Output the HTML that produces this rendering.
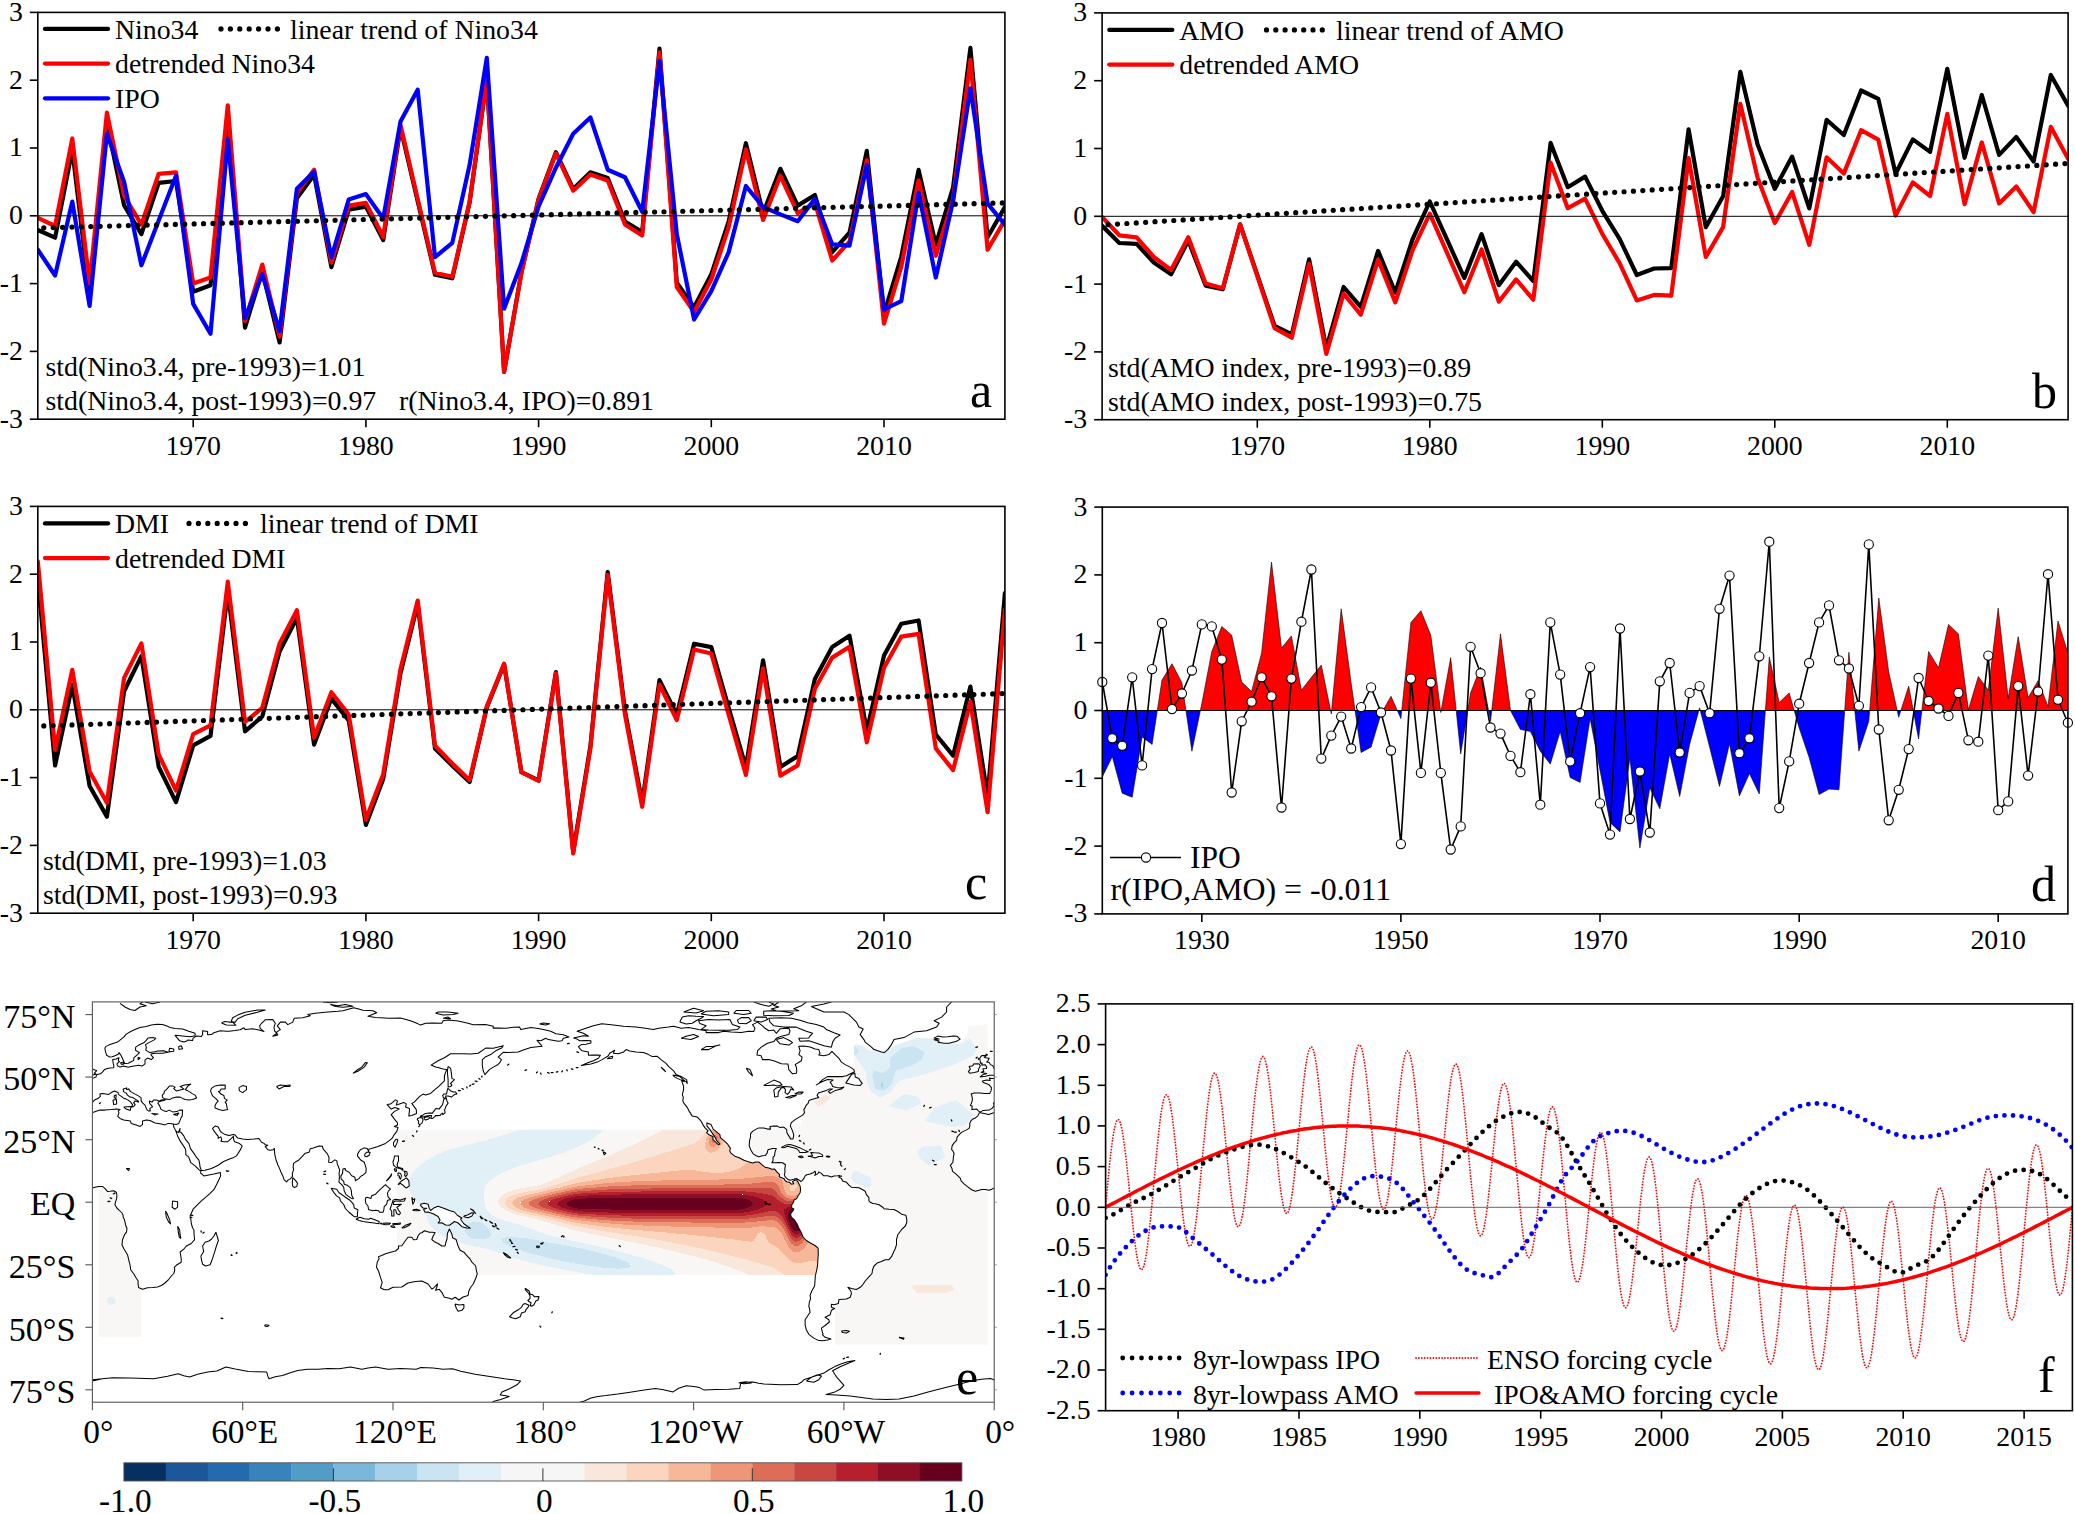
<!DOCTYPE html>
<html lang="en"><head><meta charset="utf-8"><title>Climate indices figure</title>
<style>html,body{margin:0;padding:0;background:#fff}body{width:2075px;height:1514px;overflow:hidden}svg{display:block}</style>
</head><body>
<svg width="2075" height="1514" viewBox="0 0 2075 1514" font-family="'Liberation Serif','Times New Roman',serif" fill="#000">
<rect width="2075" height="1514" fill="#fff"/>
<defs>
<clipPath id="ca"><rect x="37.8" y="12.4" width="967.1" height="406.8"/></clipPath>
<clipPath id="cb"><rect x="1102.1" y="12.9" width="966.0" height="406.8"/></clipPath>
<clipPath id="cc"><rect x="37.8" y="506.4" width="967.1" height="406.8"/></clipPath>
<clipPath id="cd"><rect x="1102.3" y="507.1" width="965.6" height="406.8"/></clipPath>
<clipPath id="cf"><rect x="1105.6" y="1003.9" width="966.8" height="406.8"/></clipPath>
</defs>
<g clip-path="url(#ca)">
<polyline points="37.8,230.0 55.1,237.7 72.3,149.8 89.6,294.5 106.9,123.2 124.1,205.4 141.4,234.1 158.7,182.8 176.0,181.0 193.2,291.8 210.5,285.2 227.8,112.6 245.0,327.7 262.3,271.0 279.6,342.4 296.9,198.2 314.1,174.7 331.4,267.2 348.7,209.8 365.9,206.6 383.2,240.1 400.5,127.8 417.7,201.2 435.0,274.7 452.3,278.3 469.6,202.6 486.8,78.7 504.1,371.9 521.4,272.4 538.6,198.8 555.9,152.2 573.2,189.0 590.4,172.3 607.7,178.0 625.0,221.6 642.2,232.0 659.5,48.5 676.8,282.6 694.1,307.3 711.3,274.3 728.6,221.6 745.9,143.2 763.1,213.3 780.4,168.8 797.7,205.6 814.9,195.0 832.2,252.2 849.5,232.7 866.8,150.9 884.0,313.9 901.3,256.5 918.6,169.9 935.8,244.7 953.1,187.3 970.4,47.9 987.6,237.3 1004.9,207.0" fill="none" stroke="#000" stroke-width="4.2" stroke-linejoin="round" stroke-linecap="round" />
<polyline points="37.8,217.8 55.1,226.0 72.3,138.5 89.6,283.6 106.9,112.7 124.1,195.5 141.4,224.6 158.7,173.8 176.0,172.4 193.2,283.6 210.5,277.5 227.8,105.3 245.0,320.9 262.3,264.6 279.6,336.5 296.9,192.7 314.1,169.7 331.4,262.6 348.7,205.6 365.9,202.9 383.2,236.8 400.5,124.9 417.7,198.9 435.0,272.8 452.3,276.8 469.6,201.6 486.8,78.2 504.1,371.7 521.4,272.8 538.6,199.5 555.9,153.4 573.2,190.7 590.4,174.4 607.7,180.5 625.0,224.6 642.2,235.5 659.5,52.4 676.8,287.0 694.1,312.1 711.3,279.5 728.6,227.3 745.9,149.4 763.1,219.9 780.4,175.8 797.7,213.1 814.9,202.9 832.2,260.5 849.5,241.6 866.8,160.2 884.0,323.6 901.3,266.6 918.6,180.5 935.8,255.8 953.1,198.9 970.4,59.9 987.6,249.7 1004.9,219.9" fill="none" stroke="#ff0000" stroke-width="4.2" stroke-linejoin="round" stroke-linecap="round" />
<polyline points="37.8,249.7 55.1,275.5 72.3,201.6 89.6,306.0 106.9,133.8 124.1,181.9 141.4,265.3 158.7,220.5 176.0,175.8 193.2,303.9 210.5,333.8 227.8,139.2 245.0,318.2 262.3,274.1 279.6,331.1 296.9,188.7 314.1,171.7 331.4,257.2 348.7,199.5 365.9,194.1 383.2,218.5 400.5,121.6 417.7,89.7 435.0,257.2 452.3,242.9 469.6,165.0 486.8,57.8 504.1,308.7 521.4,263.3 538.6,206.3 555.9,167.7 573.2,133.8 590.4,117.5 607.7,169.7 625.0,177.2 642.2,211.7 659.5,61.2 676.8,234.1 694.1,319.5 711.3,291.1 728.6,252.4 745.9,186.0 763.1,207.0 780.4,214.4 797.7,221.2 814.9,198.9 832.2,244.3 849.5,245.6 866.8,165.0 884.0,309.4 901.3,301.2 918.6,192.7 935.8,277.5 953.1,200.9 970.4,88.3 987.6,203.6 1004.9,224.6" fill="none" stroke="#0000ff" stroke-width="4.2" stroke-linejoin="round" stroke-linecap="round" />
</g>
<line x1="43.8" y1="227.8" x2="1004.9" y2="202.9" stroke="#000" stroke-width="5.2" stroke-linecap="round" stroke-dasharray="0 9.4"/>
<line x1="37.8" x2="1004.9" y1="215.8" y2="215.8" stroke="#000" stroke-width="1.0"/>
<rect x="37.8" y="12.4" width="967.1" height="406.8" fill="none" stroke="#000" stroke-width="1.6"/>
<line x1="29.8" x2="37.8" y1="12.4" y2="12.4" stroke="#000" stroke-width="1.6"/>
<text x="22.8" y="20.8" font-size="27.8" text-anchor="end" >3</text>
<line x1="29.8" x2="37.8" y1="80.2" y2="80.2" stroke="#000" stroke-width="1.6"/>
<text x="22.8" y="88.6" font-size="27.8" text-anchor="end" >2</text>
<line x1="29.8" x2="37.8" y1="148.0" y2="148.0" stroke="#000" stroke-width="1.6"/>
<text x="22.8" y="156.4" font-size="27.8" text-anchor="end" >1</text>
<line x1="29.8" x2="37.8" y1="215.8" y2="215.8" stroke="#000" stroke-width="1.6"/>
<text x="22.8" y="224.2" font-size="27.8" text-anchor="end" >0</text>
<line x1="29.8" x2="37.8" y1="283.6" y2="283.6" stroke="#000" stroke-width="1.6"/>
<text x="22.8" y="292.0" font-size="27.8" text-anchor="end" >-1</text>
<line x1="29.8" x2="37.8" y1="351.4" y2="351.4" stroke="#000" stroke-width="1.6"/>
<text x="22.8" y="359.8" font-size="27.8" text-anchor="end" >-2</text>
<line x1="29.8" x2="37.8" y1="419.2" y2="419.2" stroke="#000" stroke-width="1.6"/>
<text x="22.8" y="427.6" font-size="27.8" text-anchor="end" >-3</text>
<line x1="193.2" x2="193.2" y1="419.2" y2="427.2" stroke="#000" stroke-width="1.6"/>
<text x="193.2" y="454.7" font-size="27.8" text-anchor="middle" >1970</text>
<line x1="365.9" x2="365.9" y1="419.2" y2="427.2" stroke="#000" stroke-width="1.6"/>
<text x="365.9" y="454.7" font-size="27.8" text-anchor="middle" >1980</text>
<line x1="538.6" x2="538.6" y1="419.2" y2="427.2" stroke="#000" stroke-width="1.6"/>
<text x="538.6" y="454.7" font-size="27.8" text-anchor="middle" >1990</text>
<line x1="711.3" x2="711.3" y1="419.2" y2="427.2" stroke="#000" stroke-width="1.6"/>
<text x="711.3" y="454.7" font-size="27.8" text-anchor="middle" >2000</text>
<line x1="884.0" x2="884.0" y1="419.2" y2="427.2" stroke="#000" stroke-width="1.6"/>
<text x="884.0" y="454.7" font-size="27.8" text-anchor="middle" >2010</text>
<line x1="45" x2="108" y1="28.9" y2="28.9" stroke="#000" stroke-width="4.3" stroke-linecap="round"/>
<text x="115.0" y="38.7" font-size="27.8" text-anchor="start" >Nino34</text>
<line x1="221" x2="277.5" y1="28.9" y2="28.9" stroke="#000" stroke-width="5.2" stroke-linecap="round" stroke-dasharray="0 9.4"/>
<text x="290.0" y="38.7" font-size="27.8" text-anchor="start" >linear trend of Nino34</text>
<line x1="45" x2="108" y1="63.6" y2="63.6" stroke="#ff0000" stroke-width="4.3" stroke-linecap="round"/>
<text x="115.0" y="73.2" font-size="27.8" text-anchor="start" >detrended Nino34</text>
<line x1="45" x2="108" y1="98.3" y2="98.3" stroke="#0000ff" stroke-width="4.3" stroke-linecap="round"/>
<text x="115.0" y="107.7" font-size="27.8" text-anchor="start" >IPO</text>
<text x="45.5" y="375.5" font-size="27.8" text-anchor="start" >std(Nino3.4, pre-1993)=1.01</text>
<text x="45.5" y="409.6" font-size="27.8" text-anchor="start" >std(Nino3.4, post-1993)=0.97</text>
<text x="399.0" y="409.6" font-size="27.8" text-anchor="start" >r(Nino3.4, IPO)=0.891</text>
<text x="970.0" y="406.8" font-size="50" text-anchor="start" >a</text>
<g clip-path="url(#cb)">
<polyline points="1102.1,225.8 1119.3,243.0 1136.6,243.9 1153.8,262.5 1171.1,274.3 1188.3,240.6 1205.6,285.6 1222.8,289.3 1240.1,224.4 1257.3,274.9 1274.6,326.0 1291.8,334.4 1309.1,259.4 1326.3,348.4 1343.6,287.0 1360.8,306.9 1378.1,250.9 1395.3,292.5 1412.6,239.2 1429.8,201.5 1447.1,239.7 1464.3,277.9 1481.6,234.1 1498.8,285.2 1516.1,261.7 1533.3,281.0 1550.6,142.9 1567.8,187.2 1585.1,176.6 1602.3,210.8 1619.6,238.8 1636.8,275.0 1654.1,268.5 1671.3,268.1 1688.6,129.3 1705.8,227.2 1723.1,196.3 1740.3,71.8 1757.6,144.6 1774.8,188.9 1792.1,156.6 1809.3,208.4 1826.6,119.9 1843.8,135.0 1861.1,90.5 1878.3,98.9 1895.6,173.8 1912.8,139.4 1930.1,151.9 1947.3,68.8 1964.6,157.8 1981.8,95.0 1999.1,154.9 2016.3,136.9 2033.6,161.6 2050.8,75.0 2068.1,105.8" fill="none" stroke="#000" stroke-width="4.2" stroke-linejoin="round" stroke-linecap="round" />
<polyline points="1102.1,217.0 1119.3,235.3 1136.6,237.3 1153.8,257.0 1171.1,269.9 1188.3,237.3 1205.6,283.4 1222.8,288.2 1240.1,224.4 1257.3,276.0 1274.6,328.2 1291.8,337.7 1309.1,263.8 1326.3,353.9 1343.6,293.6 1360.8,314.6 1378.1,259.7 1395.3,302.4 1412.6,250.2 1429.8,213.6 1447.1,252.9 1464.3,292.2 1481.6,249.5 1498.8,301.7 1516.1,279.4 1533.3,299.7 1550.6,162.7 1567.8,208.2 1585.1,198.7 1602.3,233.9 1619.6,263.1 1636.8,300.4 1654.1,294.9 1671.3,295.6 1688.6,158.0 1705.8,257.0 1723.1,227.1 1740.3,103.8 1757.6,177.7 1774.8,223.1 1792.1,191.9 1809.3,244.8 1826.6,157.3 1843.8,173.6 1861.1,130.2 1878.3,139.7 1895.6,215.6 1912.8,182.4 1930.1,196.0 1947.3,113.9 1964.6,204.1 1981.8,142.4 1999.1,203.4 2016.3,186.5 2033.6,212.2 2050.8,126.8 2068.1,158.7" fill="none" stroke="#ff0000" stroke-width="4.2" stroke-linejoin="round" stroke-linecap="round" />
</g>
<line x1="1108.1" y1="224.7" x2="2068.1" y2="163.4" stroke="#000" stroke-width="5.2" stroke-linecap="round" stroke-dasharray="0 9.4"/>
<line x1="1102.1" x2="2068.1" y1="216.3" y2="216.3" stroke="#000" stroke-width="1.0"/>
<rect x="1102.1" y="12.9" width="966.0" height="406.8" fill="none" stroke="#000" stroke-width="1.6"/>
<line x1="1094.1" x2="1102.1" y1="12.9" y2="12.9" stroke="#000" stroke-width="1.6"/>
<text x="1087.1" y="21.3" font-size="27.8" text-anchor="end" >3</text>
<line x1="1094.1" x2="1102.1" y1="80.7" y2="80.7" stroke="#000" stroke-width="1.6"/>
<text x="1087.1" y="89.1" font-size="27.8" text-anchor="end" >2</text>
<line x1="1094.1" x2="1102.1" y1="148.5" y2="148.5" stroke="#000" stroke-width="1.6"/>
<text x="1087.1" y="156.9" font-size="27.8" text-anchor="end" >1</text>
<line x1="1094.1" x2="1102.1" y1="216.3" y2="216.3" stroke="#000" stroke-width="1.6"/>
<text x="1087.1" y="224.7" font-size="27.8" text-anchor="end" >0</text>
<line x1="1094.1" x2="1102.1" y1="284.1" y2="284.1" stroke="#000" stroke-width="1.6"/>
<text x="1087.1" y="292.5" font-size="27.8" text-anchor="end" >-1</text>
<line x1="1094.1" x2="1102.1" y1="351.9" y2="351.9" stroke="#000" stroke-width="1.6"/>
<text x="1087.1" y="360.3" font-size="27.8" text-anchor="end" >-2</text>
<line x1="1094.1" x2="1102.1" y1="419.7" y2="419.7" stroke="#000" stroke-width="1.6"/>
<text x="1087.1" y="428.1" font-size="27.8" text-anchor="end" >-3</text>
<line x1="1257.3" x2="1257.3" y1="419.7" y2="427.7" stroke="#000" stroke-width="1.6"/>
<text x="1257.3" y="455.2" font-size="27.8" text-anchor="middle" >1970</text>
<line x1="1429.8" x2="1429.8" y1="419.7" y2="427.7" stroke="#000" stroke-width="1.6"/>
<text x="1429.8" y="455.2" font-size="27.8" text-anchor="middle" >1980</text>
<line x1="1602.3" x2="1602.3" y1="419.7" y2="427.7" stroke="#000" stroke-width="1.6"/>
<text x="1602.3" y="455.2" font-size="27.8" text-anchor="middle" >1990</text>
<line x1="1774.8" x2="1774.8" y1="419.7" y2="427.7" stroke="#000" stroke-width="1.6"/>
<text x="1774.8" y="455.2" font-size="27.8" text-anchor="middle" >2000</text>
<line x1="1947.3" x2="1947.3" y1="419.7" y2="427.7" stroke="#000" stroke-width="1.6"/>
<text x="1947.3" y="455.2" font-size="27.8" text-anchor="middle" >2010</text>
<line x1="1109.3" x2="1172.3" y1="29.9" y2="29.9" stroke="#000" stroke-width="4.3" stroke-linecap="round"/>
<text x="1179.3" y="39.7" font-size="27.8" text-anchor="start" >AMO</text>
<line x1="1266.5" x2="1322.3999999999999" y1="29.9" y2="29.9" stroke="#000" stroke-width="5.2" stroke-linecap="round" stroke-dasharray="0 9.3"/>
<text x="1336.0" y="39.7" font-size="27.8" text-anchor="start" >linear trend of AMO</text>
<line x1="1109.3" x2="1172.3" y1="64.6" y2="64.6" stroke="#ff0000" stroke-width="4.3" stroke-linecap="round"/>
<text x="1179.3" y="74.2" font-size="27.8" text-anchor="start" >detrended AMO</text>
<text x="1108.0" y="376.5" font-size="27.8" text-anchor="start" >std(AMO index, pre-1993)=0.89</text>
<text x="1108.0" y="410.6" font-size="27.8" text-anchor="start" >std(AMO index, post-1993)=0.75</text>
<text x="2032.0" y="408.2" font-size="50" text-anchor="start" >b</text>
<g clip-path="url(#cc)">
<polyline points="37.8,577.6 55.1,765.5 72.3,684.9 89.6,786.0 106.9,816.6 124.1,691.3 141.4,656.1 158.7,766.8 176.0,802.1 193.2,745.3 210.5,735.9 227.8,591.5 245.0,731.3 262.3,716.5 279.6,651.5 296.9,617.7 314.1,744.6 331.4,698.6 348.7,720.4 365.9,824.9 383.2,778.9 400.5,673.2 417.7,604.1 435.0,748.6 452.3,765.7 469.6,782.1 486.8,707.6 504.1,664.3 521.4,772.2 538.6,780.4 555.9,672.0 573.2,851.8 590.4,746.1 607.7,572.0 625.0,711.1 642.2,802.7 659.5,680.1 676.8,714.7 694.1,643.7 711.3,647.1 728.6,707.6 745.9,767.3 763.1,660.3 780.4,766.9 797.7,756.1 814.9,678.9 832.2,647.1 849.5,635.7 866.8,730.7 884.0,655.6 901.3,623.8 918.6,620.5 935.8,734.5 953.1,755.6 970.4,686.6 987.6,796.5 1004.9,593.2" fill="none" stroke="#000" stroke-width="4.2" stroke-linejoin="round" stroke-linecap="round" />
<polyline points="37.8,561.3 55.1,749.8 72.3,669.8 89.6,771.5 106.9,802.7 124.1,677.9 141.4,643.4 158.7,754.5 176.0,790.5 193.2,734.2 210.5,725.4 227.8,581.7 245.0,722.0 262.3,707.8 279.6,643.4 296.9,610.1 314.1,737.6 331.4,692.2 348.7,714.5 365.9,819.6 383.2,774.2 400.5,669.1 417.7,600.6 435.0,745.7 452.3,763.4 469.6,780.3 486.8,706.4 504.1,663.7 521.4,772.2 538.6,781.0 555.9,673.2 573.2,853.5 590.4,748.4 607.7,574.9 625.0,714.5 642.2,806.8 659.5,684.7 676.8,720.0 694.1,649.5 711.3,653.5 728.6,714.5 745.9,774.9 763.1,668.4 780.4,775.6 797.7,765.4 814.9,688.8 832.2,657.6 849.5,646.7 866.8,742.3 884.0,667.8 901.3,636.6 918.6,633.9 935.8,748.4 953.1,770.1 970.4,701.7 987.6,812.2 1004.9,609.5" fill="none" stroke="#ff0000" stroke-width="4.2" stroke-linejoin="round" stroke-linecap="round" />
</g>
<line x1="43.8" y1="725.9" x2="1004.9" y2="693.5" stroke="#000" stroke-width="5.2" stroke-linecap="round" stroke-dasharray="0 9.4"/>
<line x1="37.8" x2="1004.9" y1="709.8" y2="709.8" stroke="#000" stroke-width="1.0"/>
<rect x="37.8" y="506.4" width="967.1" height="406.8" fill="none" stroke="#000" stroke-width="1.6"/>
<line x1="29.8" x2="37.8" y1="506.4" y2="506.4" stroke="#000" stroke-width="1.6"/>
<text x="22.8" y="514.8" font-size="27.8" text-anchor="end" >3</text>
<line x1="29.8" x2="37.8" y1="574.2" y2="574.2" stroke="#000" stroke-width="1.6"/>
<text x="22.8" y="582.6" font-size="27.8" text-anchor="end" >2</text>
<line x1="29.8" x2="37.8" y1="642.0" y2="642.0" stroke="#000" stroke-width="1.6"/>
<text x="22.8" y="650.4" font-size="27.8" text-anchor="end" >1</text>
<line x1="29.8" x2="37.8" y1="709.8" y2="709.8" stroke="#000" stroke-width="1.6"/>
<text x="22.8" y="718.2" font-size="27.8" text-anchor="end" >0</text>
<line x1="29.8" x2="37.8" y1="777.6" y2="777.6" stroke="#000" stroke-width="1.6"/>
<text x="22.8" y="786.0" font-size="27.8" text-anchor="end" >-1</text>
<line x1="29.8" x2="37.8" y1="845.4" y2="845.4" stroke="#000" stroke-width="1.6"/>
<text x="22.8" y="853.8" font-size="27.8" text-anchor="end" >-2</text>
<line x1="29.8" x2="37.8" y1="913.2" y2="913.2" stroke="#000" stroke-width="1.6"/>
<text x="22.8" y="921.6" font-size="27.8" text-anchor="end" >-3</text>
<line x1="193.2" x2="193.2" y1="913.2" y2="921.2" stroke="#000" stroke-width="1.6"/>
<text x="193.2" y="948.7" font-size="27.8" text-anchor="middle" >1970</text>
<line x1="365.9" x2="365.9" y1="913.2" y2="921.2" stroke="#000" stroke-width="1.6"/>
<text x="365.9" y="948.7" font-size="27.8" text-anchor="middle" >1980</text>
<line x1="538.6" x2="538.6" y1="913.2" y2="921.2" stroke="#000" stroke-width="1.6"/>
<text x="538.6" y="948.7" font-size="27.8" text-anchor="middle" >1990</text>
<line x1="711.3" x2="711.3" y1="913.2" y2="921.2" stroke="#000" stroke-width="1.6"/>
<text x="711.3" y="948.7" font-size="27.8" text-anchor="middle" >2000</text>
<line x1="884.0" x2="884.0" y1="913.2" y2="921.2" stroke="#000" stroke-width="1.6"/>
<text x="884.0" y="948.7" font-size="27.8" text-anchor="middle" >2010</text>
<line x1="45" x2="108" y1="523.4" y2="523.4" stroke="#000" stroke-width="4.3" stroke-linecap="round"/>
<text x="115.0" y="533.2" font-size="27.8" text-anchor="start" >DMI</text>
<line x1="189" x2="245.5" y1="523.4" y2="523.4" stroke="#000" stroke-width="5.2" stroke-linecap="round" stroke-dasharray="0 9.4"/>
<text x="260.0" y="533.2" font-size="27.8" text-anchor="start" >linear trend of DMI</text>
<line x1="45" x2="108" y1="558.1" y2="558.1" stroke="#ff0000" stroke-width="4.3" stroke-linecap="round"/>
<text x="115.0" y="567.7" font-size="27.8" text-anchor="start" >detrended DMI</text>
<text x="43.0" y="870.0" font-size="27.8" text-anchor="start" >std(DMI, pre-1993)=1.03</text>
<text x="43.0" y="904.0" font-size="27.8" text-anchor="start" >std(DMI, post-1993)=0.93</text>
<text x="965.0" y="899.3" font-size="50" text-anchor="start" >c</text>
<g clip-path="url(#cd)">
<clipPath id="clipPos"><rect x="1102.3" y="507.1" width="965.6" height="203.4"/></clipPath>
<clipPath id="clipNeg"><rect x="1102.3" y="710.5" width="965.6" height="203.4"/></clipPath>
<polygon points="1102.3,710.5 1102.3,776.9 1112.3,756.6 1122.2,793.2 1132.2,797.3 1142.1,736.9 1152.1,744.4 1162.0,680.0 1172.0,663.7 1181.9,682.7 1191.9,751.2 1201.8,703.7 1211.8,651.5 1221.8,626.4 1231.7,635.2 1241.7,682.0 1251.6,691.5 1261.6,652.9 1271.5,562.0 1281.5,648.1 1291.4,635.9 1301.4,690.2 1311.4,677.3 1321.3,665.1 1331.3,713.9 1341.2,608.8 1351.2,683.4 1361.1,752.5 1371.1,747.1 1381.0,713.9 1391.0,696.3 1400.9,718.6 1410.9,622.4 1420.9,610.8 1430.8,635.2 1440.8,712.5 1450.7,657.6 1460.7,753.9 1470.6,692.9 1480.6,667.1 1490.5,721.3 1500.5,633.9 1510.5,710.5 1520.4,729.5 1530.4,731.5 1540.3,751.2 1550.3,764.1 1560.2,731.5 1570.2,777.6 1580.1,782.4 1590.1,718.6 1600.0,770.2 1610.0,822.4 1620.0,831.9 1629.9,758.0 1639.9,848.1 1649.8,787.8 1659.8,808.8 1669.7,753.9 1679.7,796.6 1689.6,744.4 1699.6,707.8 1709.6,747.1 1719.5,786.4 1729.5,743.7 1739.4,795.9 1749.4,773.6 1759.3,793.9 1769.3,656.9 1779.2,702.4 1789.2,692.9 1799.2,728.1 1809.1,757.3 1819.1,794.6 1829.0,789.1 1839.0,789.8 1848.9,652.2 1858.9,751.2 1868.8,721.3 1878.8,598.0 1888.7,671.9 1898.7,717.3 1908.7,686.1 1918.6,739.0 1928.6,651.5 1938.5,667.8 1948.5,624.4 1958.4,633.9 1968.4,709.8 1978.3,676.6 1988.3,690.2 1998.2,608.1 2008.2,698.3 2018.2,636.6 2028.1,697.6 2038.1,680.7 2048.0,706.4 2058.0,621.0 2067.9,652.9 2067.9,710.5" fill="#ff0000" stroke="#000" stroke-width="0.6" clip-path="url(#clipPos)"/>
<polygon points="1102.3,710.5 1102.3,776.9 1112.3,756.6 1122.2,793.2 1132.2,797.3 1142.1,736.9 1152.1,744.4 1162.0,680.0 1172.0,663.7 1181.9,682.7 1191.9,751.2 1201.8,703.7 1211.8,651.5 1221.8,626.4 1231.7,635.2 1241.7,682.0 1251.6,691.5 1261.6,652.9 1271.5,562.0 1281.5,648.1 1291.4,635.9 1301.4,690.2 1311.4,677.3 1321.3,665.1 1331.3,713.9 1341.2,608.8 1351.2,683.4 1361.1,752.5 1371.1,747.1 1381.0,713.9 1391.0,696.3 1400.9,718.6 1410.9,622.4 1420.9,610.8 1430.8,635.2 1440.8,712.5 1450.7,657.6 1460.7,753.9 1470.6,692.9 1480.6,667.1 1490.5,721.3 1500.5,633.9 1510.5,710.5 1520.4,729.5 1530.4,731.5 1540.3,751.2 1550.3,764.1 1560.2,731.5 1570.2,777.6 1580.1,782.4 1590.1,718.6 1600.0,770.2 1610.0,822.4 1620.0,831.9 1629.9,758.0 1639.9,848.1 1649.8,787.8 1659.8,808.8 1669.7,753.9 1679.7,796.6 1689.6,744.4 1699.6,707.8 1709.6,747.1 1719.5,786.4 1729.5,743.7 1739.4,795.9 1749.4,773.6 1759.3,793.9 1769.3,656.9 1779.2,702.4 1789.2,692.9 1799.2,728.1 1809.1,757.3 1819.1,794.6 1829.0,789.1 1839.0,789.8 1848.9,652.2 1858.9,751.2 1868.8,721.3 1878.8,598.0 1888.7,671.9 1898.7,717.3 1908.7,686.1 1918.6,739.0 1928.6,651.5 1938.5,667.8 1948.5,624.4 1958.4,633.9 1968.4,709.8 1978.3,676.6 1988.3,690.2 1998.2,608.1 2008.2,698.3 2018.2,636.6 2028.1,697.6 2038.1,680.7 2048.0,706.4 2058.0,621.0 2067.9,652.9 2067.9,710.5" fill="#0000ff" stroke="#000" stroke-width="0.6" clip-path="url(#clipNeg)"/>
<line x1="1102.3" x2="2067.9" y1="710.5" y2="710.5" stroke="#000" stroke-width="1"/>
<polyline points="1102.3,682.0 1112.3,738.3 1122.2,745.8 1132.2,677.3 1142.1,765.4 1152.1,669.1 1162.0,623.0 1172.0,709.1 1181.9,693.5 1191.9,670.5 1201.8,624.4 1211.8,626.4 1221.8,659.6 1231.7,792.5 1241.7,721.3 1251.6,701.7 1261.6,677.3 1271.5,696.3 1281.5,807.5 1291.4,678.6 1301.4,621.7 1311.4,569.5 1321.3,758.6 1331.3,735.6 1341.2,716.6 1351.2,748.5 1361.1,707.1 1371.1,687.4 1381.0,712.5 1391.0,750.5 1400.9,844.1 1410.9,678.6 1420.9,772.9 1430.8,682.7 1440.8,772.9 1450.7,849.5 1460.7,826.4 1470.6,646.8 1480.6,673.2 1490.5,727.5 1500.5,733.6 1510.5,755.9 1520.4,772.2 1530.4,694.2 1540.3,804.7 1550.3,622.4 1560.2,674.6 1570.2,761.4 1580.1,713.2 1590.1,667.1 1600.0,803.4 1610.0,834.6 1620.0,628.5 1629.9,819.0 1639.9,771.5 1649.8,832.5 1659.8,681.3 1669.7,663.0 1679.7,752.5 1689.6,692.9 1699.6,686.1 1709.6,713.2 1719.5,608.8 1729.5,575.6 1739.4,753.2 1749.4,738.3 1759.3,656.3 1769.3,541.7 1779.2,808.1 1789.2,761.4 1799.2,703.7 1809.1,663.0 1819.1,622.4 1829.0,605.4 1839.0,660.3 1848.9,668.5 1858.9,705.8 1868.8,544.4 1878.8,729.5 1888.7,820.3 1898.7,789.8 1908.7,749.1 1918.6,678.0 1928.6,701.0 1938.5,708.5 1948.5,715.9 1958.4,692.9 1968.4,740.3 1978.3,741.7 1988.3,655.6 1998.2,810.2 2008.2,801.4 2018.2,686.1 2028.1,775.6 2038.1,691.5 2048.0,574.2 2058.0,699.7 2067.9,722.7" fill="none" stroke="#000" stroke-width="1.6" stroke-linejoin="round" stroke-linecap="round" />
</g>
<circle cx="1102.3" cy="682.0" r="4.6" fill="#fff" stroke="#000" stroke-width="1.1"/>
<circle cx="1112.3" cy="738.3" r="4.6" fill="#fff" stroke="#000" stroke-width="1.1"/>
<circle cx="1122.2" cy="745.8" r="4.6" fill="#fff" stroke="#000" stroke-width="1.1"/>
<circle cx="1132.2" cy="677.3" r="4.6" fill="#fff" stroke="#000" stroke-width="1.1"/>
<circle cx="1142.1" cy="765.4" r="4.6" fill="#fff" stroke="#000" stroke-width="1.1"/>
<circle cx="1152.1" cy="669.1" r="4.6" fill="#fff" stroke="#000" stroke-width="1.1"/>
<circle cx="1162.0" cy="623.0" r="4.6" fill="#fff" stroke="#000" stroke-width="1.1"/>
<circle cx="1172.0" cy="709.1" r="4.6" fill="#fff" stroke="#000" stroke-width="1.1"/>
<circle cx="1181.9" cy="693.5" r="4.6" fill="#fff" stroke="#000" stroke-width="1.1"/>
<circle cx="1191.9" cy="670.5" r="4.6" fill="#fff" stroke="#000" stroke-width="1.1"/>
<circle cx="1201.8" cy="624.4" r="4.6" fill="#fff" stroke="#000" stroke-width="1.1"/>
<circle cx="1211.8" cy="626.4" r="4.6" fill="#fff" stroke="#000" stroke-width="1.1"/>
<circle cx="1221.8" cy="659.6" r="4.6" fill="#fff" stroke="#000" stroke-width="1.1"/>
<circle cx="1231.7" cy="792.5" r="4.6" fill="#fff" stroke="#000" stroke-width="1.1"/>
<circle cx="1241.7" cy="721.3" r="4.6" fill="#fff" stroke="#000" stroke-width="1.1"/>
<circle cx="1251.6" cy="701.7" r="4.6" fill="#fff" stroke="#000" stroke-width="1.1"/>
<circle cx="1261.6" cy="677.3" r="4.6" fill="#fff" stroke="#000" stroke-width="1.1"/>
<circle cx="1271.5" cy="696.3" r="4.6" fill="#fff" stroke="#000" stroke-width="1.1"/>
<circle cx="1281.5" cy="807.5" r="4.6" fill="#fff" stroke="#000" stroke-width="1.1"/>
<circle cx="1291.4" cy="678.6" r="4.6" fill="#fff" stroke="#000" stroke-width="1.1"/>
<circle cx="1301.4" cy="621.7" r="4.6" fill="#fff" stroke="#000" stroke-width="1.1"/>
<circle cx="1311.4" cy="569.5" r="4.6" fill="#fff" stroke="#000" stroke-width="1.1"/>
<circle cx="1321.3" cy="758.6" r="4.6" fill="#fff" stroke="#000" stroke-width="1.1"/>
<circle cx="1331.3" cy="735.6" r="4.6" fill="#fff" stroke="#000" stroke-width="1.1"/>
<circle cx="1341.2" cy="716.6" r="4.6" fill="#fff" stroke="#000" stroke-width="1.1"/>
<circle cx="1351.2" cy="748.5" r="4.6" fill="#fff" stroke="#000" stroke-width="1.1"/>
<circle cx="1361.1" cy="707.1" r="4.6" fill="#fff" stroke="#000" stroke-width="1.1"/>
<circle cx="1371.1" cy="687.4" r="4.6" fill="#fff" stroke="#000" stroke-width="1.1"/>
<circle cx="1381.0" cy="712.5" r="4.6" fill="#fff" stroke="#000" stroke-width="1.1"/>
<circle cx="1391.0" cy="750.5" r="4.6" fill="#fff" stroke="#000" stroke-width="1.1"/>
<circle cx="1400.9" cy="844.1" r="4.6" fill="#fff" stroke="#000" stroke-width="1.1"/>
<circle cx="1410.9" cy="678.6" r="4.6" fill="#fff" stroke="#000" stroke-width="1.1"/>
<circle cx="1420.9" cy="772.9" r="4.6" fill="#fff" stroke="#000" stroke-width="1.1"/>
<circle cx="1430.8" cy="682.7" r="4.6" fill="#fff" stroke="#000" stroke-width="1.1"/>
<circle cx="1440.8" cy="772.9" r="4.6" fill="#fff" stroke="#000" stroke-width="1.1"/>
<circle cx="1450.7" cy="849.5" r="4.6" fill="#fff" stroke="#000" stroke-width="1.1"/>
<circle cx="1460.7" cy="826.4" r="4.6" fill="#fff" stroke="#000" stroke-width="1.1"/>
<circle cx="1470.6" cy="646.8" r="4.6" fill="#fff" stroke="#000" stroke-width="1.1"/>
<circle cx="1480.6" cy="673.2" r="4.6" fill="#fff" stroke="#000" stroke-width="1.1"/>
<circle cx="1490.5" cy="727.5" r="4.6" fill="#fff" stroke="#000" stroke-width="1.1"/>
<circle cx="1500.5" cy="733.6" r="4.6" fill="#fff" stroke="#000" stroke-width="1.1"/>
<circle cx="1510.5" cy="755.9" r="4.6" fill="#fff" stroke="#000" stroke-width="1.1"/>
<circle cx="1520.4" cy="772.2" r="4.6" fill="#fff" stroke="#000" stroke-width="1.1"/>
<circle cx="1530.4" cy="694.2" r="4.6" fill="#fff" stroke="#000" stroke-width="1.1"/>
<circle cx="1540.3" cy="804.7" r="4.6" fill="#fff" stroke="#000" stroke-width="1.1"/>
<circle cx="1550.3" cy="622.4" r="4.6" fill="#fff" stroke="#000" stroke-width="1.1"/>
<circle cx="1560.2" cy="674.6" r="4.6" fill="#fff" stroke="#000" stroke-width="1.1"/>
<circle cx="1570.2" cy="761.4" r="4.6" fill="#fff" stroke="#000" stroke-width="1.1"/>
<circle cx="1580.1" cy="713.2" r="4.6" fill="#fff" stroke="#000" stroke-width="1.1"/>
<circle cx="1590.1" cy="667.1" r="4.6" fill="#fff" stroke="#000" stroke-width="1.1"/>
<circle cx="1600.0" cy="803.4" r="4.6" fill="#fff" stroke="#000" stroke-width="1.1"/>
<circle cx="1610.0" cy="834.6" r="4.6" fill="#fff" stroke="#000" stroke-width="1.1"/>
<circle cx="1620.0" cy="628.5" r="4.6" fill="#fff" stroke="#000" stroke-width="1.1"/>
<circle cx="1629.9" cy="819.0" r="4.6" fill="#fff" stroke="#000" stroke-width="1.1"/>
<circle cx="1639.9" cy="771.5" r="4.6" fill="#fff" stroke="#000" stroke-width="1.1"/>
<circle cx="1649.8" cy="832.5" r="4.6" fill="#fff" stroke="#000" stroke-width="1.1"/>
<circle cx="1659.8" cy="681.3" r="4.6" fill="#fff" stroke="#000" stroke-width="1.1"/>
<circle cx="1669.7" cy="663.0" r="4.6" fill="#fff" stroke="#000" stroke-width="1.1"/>
<circle cx="1679.7" cy="752.5" r="4.6" fill="#fff" stroke="#000" stroke-width="1.1"/>
<circle cx="1689.6" cy="692.9" r="4.6" fill="#fff" stroke="#000" stroke-width="1.1"/>
<circle cx="1699.6" cy="686.1" r="4.6" fill="#fff" stroke="#000" stroke-width="1.1"/>
<circle cx="1709.6" cy="713.2" r="4.6" fill="#fff" stroke="#000" stroke-width="1.1"/>
<circle cx="1719.5" cy="608.8" r="4.6" fill="#fff" stroke="#000" stroke-width="1.1"/>
<circle cx="1729.5" cy="575.6" r="4.6" fill="#fff" stroke="#000" stroke-width="1.1"/>
<circle cx="1739.4" cy="753.2" r="4.6" fill="#fff" stroke="#000" stroke-width="1.1"/>
<circle cx="1749.4" cy="738.3" r="4.6" fill="#fff" stroke="#000" stroke-width="1.1"/>
<circle cx="1759.3" cy="656.3" r="4.6" fill="#fff" stroke="#000" stroke-width="1.1"/>
<circle cx="1769.3" cy="541.7" r="4.6" fill="#fff" stroke="#000" stroke-width="1.1"/>
<circle cx="1779.2" cy="808.1" r="4.6" fill="#fff" stroke="#000" stroke-width="1.1"/>
<circle cx="1789.2" cy="761.4" r="4.6" fill="#fff" stroke="#000" stroke-width="1.1"/>
<circle cx="1799.2" cy="703.7" r="4.6" fill="#fff" stroke="#000" stroke-width="1.1"/>
<circle cx="1809.1" cy="663.0" r="4.6" fill="#fff" stroke="#000" stroke-width="1.1"/>
<circle cx="1819.1" cy="622.4" r="4.6" fill="#fff" stroke="#000" stroke-width="1.1"/>
<circle cx="1829.0" cy="605.4" r="4.6" fill="#fff" stroke="#000" stroke-width="1.1"/>
<circle cx="1839.0" cy="660.3" r="4.6" fill="#fff" stroke="#000" stroke-width="1.1"/>
<circle cx="1848.9" cy="668.5" r="4.6" fill="#fff" stroke="#000" stroke-width="1.1"/>
<circle cx="1858.9" cy="705.8" r="4.6" fill="#fff" stroke="#000" stroke-width="1.1"/>
<circle cx="1868.8" cy="544.4" r="4.6" fill="#fff" stroke="#000" stroke-width="1.1"/>
<circle cx="1878.8" cy="729.5" r="4.6" fill="#fff" stroke="#000" stroke-width="1.1"/>
<circle cx="1888.7" cy="820.3" r="4.6" fill="#fff" stroke="#000" stroke-width="1.1"/>
<circle cx="1898.7" cy="789.8" r="4.6" fill="#fff" stroke="#000" stroke-width="1.1"/>
<circle cx="1908.7" cy="749.1" r="4.6" fill="#fff" stroke="#000" stroke-width="1.1"/>
<circle cx="1918.6" cy="678.0" r="4.6" fill="#fff" stroke="#000" stroke-width="1.1"/>
<circle cx="1928.6" cy="701.0" r="4.6" fill="#fff" stroke="#000" stroke-width="1.1"/>
<circle cx="1938.5" cy="708.5" r="4.6" fill="#fff" stroke="#000" stroke-width="1.1"/>
<circle cx="1948.5" cy="715.9" r="4.6" fill="#fff" stroke="#000" stroke-width="1.1"/>
<circle cx="1958.4" cy="692.9" r="4.6" fill="#fff" stroke="#000" stroke-width="1.1"/>
<circle cx="1968.4" cy="740.3" r="4.6" fill="#fff" stroke="#000" stroke-width="1.1"/>
<circle cx="1978.3" cy="741.7" r="4.6" fill="#fff" stroke="#000" stroke-width="1.1"/>
<circle cx="1988.3" cy="655.6" r="4.6" fill="#fff" stroke="#000" stroke-width="1.1"/>
<circle cx="1998.2" cy="810.2" r="4.6" fill="#fff" stroke="#000" stroke-width="1.1"/>
<circle cx="2008.2" cy="801.4" r="4.6" fill="#fff" stroke="#000" stroke-width="1.1"/>
<circle cx="2018.2" cy="686.1" r="4.6" fill="#fff" stroke="#000" stroke-width="1.1"/>
<circle cx="2028.1" cy="775.6" r="4.6" fill="#fff" stroke="#000" stroke-width="1.1"/>
<circle cx="2038.1" cy="691.5" r="4.6" fill="#fff" stroke="#000" stroke-width="1.1"/>
<circle cx="2048.0" cy="574.2" r="4.6" fill="#fff" stroke="#000" stroke-width="1.1"/>
<circle cx="2058.0" cy="699.7" r="4.6" fill="#fff" stroke="#000" stroke-width="1.1"/>
<circle cx="2067.9" cy="722.7" r="4.6" fill="#fff" stroke="#000" stroke-width="1.1"/>
<rect x="1102.3" y="507.1" width="965.6" height="406.8" fill="none" stroke="#000" stroke-width="1.6"/>
<line x1="1094.3" x2="1102.3" y1="507.1" y2="507.1" stroke="#000" stroke-width="1.6"/>
<text x="1087.3" y="515.5" font-size="27.8" text-anchor="end" >3</text>
<line x1="1094.3" x2="1102.3" y1="574.9" y2="574.9" stroke="#000" stroke-width="1.6"/>
<text x="1087.3" y="583.3" font-size="27.8" text-anchor="end" >2</text>
<line x1="1094.3" x2="1102.3" y1="642.7" y2="642.7" stroke="#000" stroke-width="1.6"/>
<text x="1087.3" y="651.1" font-size="27.8" text-anchor="end" >1</text>
<line x1="1094.3" x2="1102.3" y1="710.5" y2="710.5" stroke="#000" stroke-width="1.6"/>
<text x="1087.3" y="718.9" font-size="27.8" text-anchor="end" >0</text>
<line x1="1094.3" x2="1102.3" y1="778.3" y2="778.3" stroke="#000" stroke-width="1.6"/>
<text x="1087.3" y="786.7" font-size="27.8" text-anchor="end" >-1</text>
<line x1="1094.3" x2="1102.3" y1="846.1" y2="846.1" stroke="#000" stroke-width="1.6"/>
<text x="1087.3" y="854.5" font-size="27.8" text-anchor="end" >-2</text>
<line x1="1094.3" x2="1102.3" y1="913.9" y2="913.9" stroke="#000" stroke-width="1.6"/>
<text x="1087.3" y="922.3" font-size="27.8" text-anchor="end" >-3</text>
<line x1="1201.8" x2="1201.8" y1="913.9" y2="921.9" stroke="#000" stroke-width="1.6"/>
<text x="1201.8" y="949.4" font-size="27.8" text-anchor="middle" >1930</text>
<line x1="1400.9" x2="1400.9" y1="913.9" y2="921.9" stroke="#000" stroke-width="1.6"/>
<text x="1400.9" y="949.4" font-size="27.8" text-anchor="middle" >1950</text>
<line x1="1600.0" x2="1600.0" y1="913.9" y2="921.9" stroke="#000" stroke-width="1.6"/>
<text x="1600.0" y="949.4" font-size="27.8" text-anchor="middle" >1970</text>
<line x1="1799.2" x2="1799.2" y1="913.9" y2="921.9" stroke="#000" stroke-width="1.6"/>
<text x="1799.2" y="949.4" font-size="27.8" text-anchor="middle" >1990</text>
<line x1="1998.2" x2="1998.2" y1="913.9" y2="921.9" stroke="#000" stroke-width="1.6"/>
<text x="1998.2" y="949.4" font-size="27.8" text-anchor="middle" >2010</text>
<line x1="1110" x2="1181" y1="857.5" y2="857.5" stroke="#000" stroke-width="1.6"/>
<circle cx="1146" cy="857.5" r="4.6" fill="#fff" stroke="#000" stroke-width="1.1"/>
<text x="1190.0" y="867.8" font-size="31.5" text-anchor="start" >IPO</text>
<text x="1110.5" y="900.0" font-size="31.9" text-anchor="start" >r(IPO,AMO) = -0.011</text>
<text x="2031.0" y="900.5" font-size="50" text-anchor="start" >d</text>
<g clip-path="url(#cf)">
<polyline points="1105.6,1207.3 1106.2,1200.6 1106.8,1193.9 1107.4,1187.3 1108.0,1180.9 1108.6,1174.5 1109.2,1168.4 1109.8,1162.5 1110.4,1156.9 1111.0,1151.6 1111.6,1146.5 1112.3,1141.9 1112.9,1137.6 1113.5,1133.7 1114.1,1130.3 1114.7,1127.3 1115.3,1124.8 1115.9,1122.7 1116.5,1121.2 1117.1,1120.1 1117.7,1119.6 1118.3,1119.5 1118.9,1119.9 1119.5,1120.9 1120.1,1122.3 1120.7,1124.2 1121.3,1126.6 1121.9,1129.4 1122.5,1132.6 1123.1,1136.3 1123.7,1140.3 1124.3,1144.7 1124.9,1149.4 1125.6,1154.4 1126.2,1159.6 1126.8,1165.1 1127.4,1170.8 1128.0,1176.7 1128.6,1182.6 1129.2,1188.7 1129.8,1194.7 1130.4,1200.8 1131.0,1206.8 1131.6,1212.8 1132.2,1218.6 1132.8,1224.3 1133.4,1229.8 1134.0,1235.0 1134.6,1240.0 1135.2,1244.7 1135.8,1249.1 1136.4,1253.1 1137.0,1256.7 1137.6,1260.0 1138.2,1262.8 1138.9,1265.1 1139.5,1267.0 1140.1,1268.4 1140.7,1269.3 1141.3,1269.7 1141.9,1269.7 1142.5,1269.1 1143.1,1268.0 1143.7,1266.4 1144.3,1264.4 1144.9,1261.8 1145.5,1258.8 1146.1,1255.4 1146.7,1251.5 1147.3,1247.2 1147.9,1242.5 1148.5,1237.5 1149.1,1232.2 1149.7,1226.5 1150.3,1220.6 1150.9,1214.5 1151.6,1208.2 1152.2,1201.8 1152.8,1195.2 1153.4,1188.5 1154.0,1181.8 1154.6,1175.1 1155.2,1168.5 1155.8,1161.9 1156.4,1155.5 1157.0,1149.2 1157.6,1143.1 1158.2,1137.2 1158.8,1131.6 1159.4,1126.3 1160.0,1121.3 1160.6,1116.7 1161.2,1112.5 1161.8,1108.7 1162.4,1105.3 1163.0,1102.3 1163.6,1099.8 1164.2,1097.8 1164.9,1096.3 1165.5,1095.3 1166.1,1094.8 1166.7,1094.8 1167.3,1095.3 1167.9,1096.2 1168.5,1097.7 1169.1,1099.7 1169.7,1102.1 1170.3,1104.9 1170.9,1108.2 1171.5,1111.9 1172.1,1116.0 1172.7,1120.4 1173.3,1125.2 1173.9,1130.2 1174.5,1135.5 1175.1,1141.1 1175.7,1146.8 1176.3,1152.7 1176.9,1158.7 1177.6,1164.7 1178.2,1170.8 1178.8,1176.9 1179.4,1183.0 1180.0,1189.0 1180.6,1194.8 1181.2,1200.5 1181.8,1206.0 1182.4,1211.3 1183.0,1216.3 1183.6,1221.0 1184.2,1225.4 1184.8,1229.4 1185.4,1233.1 1186.0,1236.3 1186.6,1239.1 1187.2,1241.5 1187.8,1243.4 1188.4,1244.8 1189.0,1245.8 1189.6,1246.2 1190.2,1246.1 1190.9,1245.6 1191.5,1244.5 1192.1,1242.9 1192.7,1240.9 1193.3,1238.4 1193.9,1235.4 1194.5,1231.9 1195.1,1228.1 1195.7,1223.8 1196.3,1219.2 1196.9,1214.2 1197.5,1208.9 1198.1,1203.3 1198.7,1197.4 1199.3,1191.3 1199.9,1185.0 1200.5,1178.6 1201.1,1172.1 1201.7,1165.5 1202.3,1158.8 1202.9,1152.2 1203.5,1145.6 1204.2,1139.1 1204.8,1132.7 1205.4,1126.4 1206.0,1120.4 1206.6,1114.6 1207.2,1109.0 1207.8,1103.8 1208.4,1098.9 1209.0,1094.3 1209.6,1090.2 1210.2,1086.4 1210.8,1083.1 1211.4,1080.2 1212.0,1077.8 1212.6,1075.9 1213.2,1074.5 1213.8,1073.5 1214.4,1073.1 1215.0,1073.1 1215.6,1073.7 1216.2,1074.8 1216.9,1076.3 1217.5,1078.3 1218.1,1080.8 1218.7,1083.8 1219.3,1087.1 1219.9,1090.9 1220.5,1095.1 1221.1,1099.6 1221.7,1104.4 1222.3,1109.5 1222.9,1114.9 1223.5,1120.5 1224.1,1126.3 1224.7,1132.2 1225.3,1138.2 1225.9,1144.4 1226.5,1150.5 1227.1,1156.7 1227.7,1162.8 1228.3,1168.8 1228.9,1174.8 1229.5,1180.5 1230.2,1186.1 1230.8,1191.4 1231.4,1196.5 1232.0,1201.2 1232.6,1205.6 1233.2,1209.7 1233.8,1213.4 1234.4,1216.7 1235.0,1219.5 1235.6,1221.9 1236.2,1223.9 1236.8,1225.3 1237.4,1226.3 1238.0,1226.8 1238.6,1226.8 1239.2,1226.2 1239.8,1225.2 1240.4,1223.7 1241.0,1221.7 1241.6,1219.2 1242.2,1216.3 1242.9,1212.9 1243.5,1209.1 1244.1,1204.8 1244.7,1200.3 1245.3,1195.3 1245.9,1190.1 1246.5,1184.5 1247.1,1178.7 1247.7,1172.7 1248.3,1166.5 1248.9,1160.1 1249.5,1153.6 1250.1,1147.1 1250.7,1140.5 1251.3,1133.9 1251.9,1127.4 1252.5,1121.0 1253.1,1114.6 1253.7,1108.5 1254.3,1102.5 1254.9,1096.8 1255.5,1091.4 1256.2,1086.2 1256.8,1081.4 1257.4,1076.9 1258.0,1072.9 1258.6,1069.2 1259.2,1066.0 1259.8,1063.2 1260.4,1060.9 1261.0,1059.1 1261.6,1057.7 1262.2,1056.9 1262.8,1056.5 1263.4,1056.7 1264.0,1057.4 1264.6,1058.5 1265.2,1060.2 1265.8,1062.3 1266.4,1064.9 1267.0,1068.0 1267.6,1071.4 1268.2,1075.3 1268.8,1079.5 1269.5,1084.1 1270.1,1089.0 1270.7,1094.2 1271.3,1099.7 1271.9,1105.4 1272.5,1111.3 1273.1,1117.3 1273.7,1123.4 1274.3,1129.7 1274.9,1135.9 1275.5,1142.1 1276.1,1148.3 1276.7,1154.4 1277.3,1160.4 1277.9,1166.3 1278.5,1171.9 1279.1,1177.3 1279.7,1182.4 1280.3,1187.2 1280.9,1191.7 1281.5,1195.9 1282.2,1199.6 1282.8,1203.0 1283.4,1205.9 1284.0,1208.3 1284.6,1210.3 1285.2,1211.9 1285.8,1212.9 1286.4,1213.4 1287.0,1213.5 1287.6,1213.0 1288.2,1212.0 1288.8,1210.6 1289.4,1208.6 1290.0,1206.2 1290.6,1203.3 1291.2,1200.0 1291.8,1196.3 1292.4,1192.1 1293.0,1187.6 1293.6,1182.7 1294.2,1177.5 1294.8,1172.1 1295.5,1166.3 1296.1,1160.4 1296.7,1154.2 1297.3,1148.0 1297.9,1141.6 1298.5,1135.1 1299.1,1128.6 1299.7,1122.1 1300.3,1115.7 1300.9,1109.4 1301.5,1103.1 1302.1,1097.1 1302.7,1091.2 1303.3,1085.6 1303.9,1080.3 1304.5,1075.2 1305.1,1070.5 1305.7,1066.2 1306.3,1062.2 1306.9,1058.7 1307.5,1055.6 1308.2,1052.9 1308.8,1050.7 1309.4,1049.0 1310.0,1047.8 1310.6,1047.0 1311.2,1046.8 1311.8,1047.1 1312.4,1047.9 1313.0,1049.2 1313.6,1050.9 1314.2,1053.2 1314.8,1055.9 1315.4,1059.0 1316.0,1062.6 1316.6,1066.6 1317.2,1071.0 1317.8,1075.7 1318.4,1080.7 1319.0,1086.0 1319.6,1091.6 1320.2,1097.4 1320.8,1103.4 1321.5,1109.5 1322.1,1115.7 1322.7,1122.0 1323.3,1128.4 1323.9,1134.7 1324.5,1141.0 1325.1,1147.2 1325.7,1153.3 1326.3,1159.2 1326.9,1164.9 1327.5,1170.4 1328.1,1175.6 1328.7,1180.5 1329.3,1185.1 1329.9,1189.3 1330.5,1193.1 1331.1,1196.5 1331.7,1199.5 1332.3,1202.1 1332.9,1204.1 1333.5,1205.7 1334.1,1206.8 1334.8,1207.4 1335.4,1207.5 1336.0,1207.1 1336.6,1206.2 1337.2,1204.9 1337.8,1203.0 1338.4,1200.6 1339.0,1197.8 1339.6,1194.6 1340.2,1190.9 1340.8,1186.9 1341.4,1182.4 1342.0,1177.6 1342.6,1172.5 1343.2,1167.1 1343.8,1161.5 1344.4,1155.6 1345.0,1149.6 1345.6,1143.4 1346.2,1137.1 1346.8,1130.7 1347.5,1124.3 1348.1,1118.0 1348.7,1111.6 1349.3,1105.4 1349.9,1099.3 1350.5,1093.3 1351.1,1087.6 1351.7,1082.1 1352.3,1076.9 1352.9,1071.9 1353.5,1067.3 1354.1,1063.1 1354.7,1059.3 1355.3,1055.8 1355.9,1052.8 1356.5,1050.3 1357.1,1048.2 1357.7,1046.6 1358.3,1045.5 1358.9,1044.9 1359.5,1044.9 1360.1,1045.3 1360.8,1046.2 1361.4,1047.6 1362.0,1049.5 1362.6,1051.8 1363.2,1054.7 1363.8,1057.9 1364.4,1061.6 1365.0,1065.7 1365.6,1070.2 1366.2,1075.0 1366.8,1080.2 1367.4,1085.6 1368.0,1091.3 1368.6,1097.2 1369.2,1103.3 1369.8,1109.5 1370.4,1115.9 1371.0,1122.3 1371.6,1128.7 1372.2,1135.1 1372.8,1141.5 1373.5,1147.8 1374.1,1154.0 1374.7,1160.0 1375.3,1165.8 1375.9,1171.4 1376.5,1176.7 1377.1,1181.6 1377.7,1186.3 1378.3,1190.6 1378.9,1194.5 1379.5,1198.0 1380.1,1201.1 1380.7,1203.7 1381.3,1205.8 1381.9,1207.5 1382.5,1208.7 1383.1,1209.4 1383.7,1209.5 1384.3,1209.2 1384.9,1208.4 1385.5,1207.1 1386.1,1205.3 1386.8,1203.0 1387.4,1200.3 1388.0,1197.1 1388.6,1193.6 1389.2,1189.6 1389.8,1185.2 1390.4,1180.5 1391.0,1175.5 1391.6,1170.2 1392.2,1164.6 1392.8,1158.8 1393.4,1152.9 1394.0,1146.8 1394.6,1140.6 1395.2,1134.3 1395.8,1128.0 1396.4,1121.8 1397.0,1115.5 1397.6,1109.4 1398.2,1103.4 1398.8,1097.5 1399.4,1091.9 1400.1,1086.5 1400.7,1081.4 1401.3,1076.6 1401.9,1072.1 1402.5,1068.0 1403.1,1064.3 1403.7,1061.0 1404.3,1058.1 1404.9,1055.7 1405.5,1053.7 1406.1,1052.3 1406.7,1051.3 1407.3,1050.8 1407.9,1050.8 1408.5,1051.4 1409.1,1052.4 1409.7,1053.9 1410.3,1055.9 1410.9,1058.4 1411.5,1061.4 1412.1,1064.8 1412.8,1068.6 1413.4,1072.8 1414.0,1077.4 1414.6,1082.3 1415.2,1087.6 1415.8,1093.1 1416.4,1098.9 1417.0,1104.9 1417.6,1111.1 1418.2,1117.4 1418.8,1123.9 1419.4,1130.4 1420.0,1136.9 1420.6,1143.5 1421.2,1149.9 1421.8,1156.3 1422.4,1162.6 1423.0,1168.7 1423.6,1174.5 1424.2,1180.2 1424.8,1185.6 1425.4,1190.6 1426.1,1195.4 1426.7,1199.7 1427.3,1203.7 1427.9,1207.3 1428.5,1210.4 1429.1,1213.1 1429.7,1215.3 1430.3,1217.1 1430.9,1218.3 1431.5,1219.1 1432.1,1219.3 1432.7,1219.1 1433.3,1218.3 1433.9,1217.1 1434.5,1215.3 1435.1,1213.1 1435.7,1210.5 1436.3,1207.4 1436.9,1203.9 1437.5,1200.0 1438.1,1195.7 1438.7,1191.0 1439.4,1186.1 1440.0,1180.9 1440.6,1175.4 1441.2,1169.7 1441.8,1163.8 1442.4,1157.8 1443.0,1151.7 1443.6,1145.5 1444.2,1139.3 1444.8,1133.1 1445.4,1127.0 1446.0,1120.9 1446.6,1115.0 1447.2,1109.3 1447.8,1103.8 1448.4,1098.5 1449.0,1093.4 1449.6,1088.7 1450.2,1084.4 1450.8,1080.4 1451.4,1076.7 1452.1,1073.5 1452.7,1070.8 1453.3,1068.5 1453.9,1066.6 1454.5,1065.3 1455.1,1064.4 1455.7,1064.0 1456.3,1064.2 1456.9,1064.8 1457.5,1066.0 1458.1,1067.6 1458.7,1069.7 1459.3,1072.3 1459.9,1075.4 1460.5,1078.9 1461.1,1082.8 1461.7,1087.1 1462.3,1091.8 1462.9,1096.8 1463.5,1102.2 1464.1,1107.8 1464.7,1113.7 1465.4,1119.8 1466.0,1126.1 1466.6,1132.5 1467.2,1139.0 1467.8,1145.6 1468.4,1152.3 1469.0,1158.9 1469.6,1165.4 1470.2,1171.9 1470.8,1178.2 1471.4,1184.4 1472.0,1190.3 1472.6,1196.0 1473.2,1201.5 1473.8,1206.6 1474.4,1211.4 1475.0,1215.8 1475.6,1219.9 1476.2,1223.5 1476.8,1226.7 1477.4,1229.4 1478.1,1231.7 1478.7,1233.5 1479.3,1234.8 1479.9,1235.6 1480.5,1235.9 1481.1,1235.7 1481.7,1235.0 1482.3,1233.8 1482.9,1232.1 1483.5,1230.0 1484.1,1227.4 1484.7,1224.3 1485.3,1220.8 1485.9,1217.0 1486.5,1212.8 1487.1,1208.2 1487.7,1203.3 1488.3,1198.1 1488.9,1192.7 1489.5,1187.1 1490.1,1181.3 1490.7,1175.3 1491.4,1169.3 1492.0,1163.2 1492.6,1157.0 1493.2,1150.9 1493.8,1144.8 1494.4,1138.9 1495.0,1133.0 1495.6,1127.4 1496.2,1121.9 1496.8,1116.7 1497.4,1111.8 1498.0,1107.2 1498.6,1102.9 1499.2,1098.9 1499.8,1095.4 1500.4,1092.3 1501.0,1089.6 1501.6,1087.4 1502.2,1085.7 1502.8,1084.4 1503.4,1083.6 1504.0,1083.4 1504.7,1083.6 1505.3,1084.3 1505.9,1085.5 1506.5,1087.3 1507.1,1089.5 1507.7,1092.2 1508.3,1095.3 1508.9,1098.9 1509.5,1102.9 1510.1,1107.3 1510.7,1112.1 1511.3,1117.2 1511.9,1122.6 1512.5,1128.3 1513.1,1134.3 1513.7,1140.4 1514.3,1146.8 1514.9,1153.3 1515.5,1159.9 1516.1,1166.5 1516.7,1173.2 1517.4,1179.9 1518.0,1186.5 1518.6,1193.0 1519.2,1199.4 1519.8,1205.6 1520.4,1211.6 1521.0,1217.3 1521.6,1222.8 1522.2,1228.0 1522.8,1232.8 1523.4,1237.3 1524.0,1241.4 1524.6,1245.0 1525.2,1248.2 1525.8,1251.0 1526.4,1253.3 1527.0,1255.1 1527.6,1256.5 1528.2,1257.3 1528.8,1257.6 1529.4,1257.4 1530.0,1256.8 1530.7,1255.6 1531.3,1253.9 1531.9,1251.8 1532.5,1249.2 1533.1,1246.2 1533.7,1242.8 1534.3,1239.0 1534.9,1234.8 1535.5,1230.2 1536.1,1225.4 1536.7,1220.2 1537.3,1214.8 1537.9,1209.3 1538.5,1203.5 1539.1,1197.6 1539.7,1191.6 1540.3,1185.5 1540.9,1179.4 1541.5,1173.3 1542.1,1167.3 1542.7,1161.4 1543.4,1155.6 1544.0,1150.0 1544.6,1144.6 1545.2,1139.5 1545.8,1134.6 1546.4,1130.0 1547.0,1125.8 1547.6,1121.9 1548.2,1118.5 1548.8,1115.4 1549.4,1112.8 1550.0,1110.7 1550.6,1109.0 1551.2,1107.8 1551.8,1107.1 1552.4,1106.9 1553.0,1107.1 1553.6,1107.9 1554.2,1109.2 1554.8,1111.0 1555.4,1113.3 1556.0,1116.0 1556.7,1119.2 1557.3,1122.9 1557.9,1126.9 1558.5,1131.4 1559.1,1136.2 1559.7,1141.4 1560.3,1146.8 1560.9,1152.6 1561.5,1158.6 1562.1,1164.8 1562.7,1171.2 1563.3,1177.7 1563.9,1184.4 1564.5,1191.1 1565.1,1197.8 1565.7,1204.4 1566.3,1211.1 1566.9,1217.6 1567.5,1224.0 1568.1,1230.2 1568.7,1236.3 1569.3,1242.0 1570.0,1247.5 1570.6,1252.7 1571.2,1257.6 1571.8,1262.0 1572.4,1266.1 1573.0,1269.8 1573.6,1273.0 1574.2,1275.8 1574.8,1278.1 1575.4,1279.9 1576.0,1281.2 1576.6,1282.0 1577.2,1282.4 1577.8,1282.2 1578.4,1281.5 1579.0,1280.4 1579.6,1278.7 1580.2,1276.6 1580.8,1274.0 1581.4,1271.0 1582.0,1267.5 1582.7,1263.7 1583.3,1259.5 1583.9,1255.0 1584.5,1250.1 1585.1,1245.0 1585.7,1239.6 1586.3,1234.0 1586.9,1228.3 1587.5,1222.4 1588.1,1216.4 1588.7,1210.3 1589.3,1204.3 1589.9,1198.2 1590.5,1192.2 1591.1,1186.3 1591.7,1180.6 1592.3,1175.0 1592.9,1169.6 1593.5,1164.5 1594.1,1159.6 1594.7,1155.1 1595.3,1150.9 1596.0,1147.1 1596.6,1143.6 1597.2,1140.6 1597.8,1138.0 1598.4,1135.9 1599.0,1134.2 1599.6,1133.1 1600.2,1132.4 1600.8,1132.2 1601.4,1132.6 1602.0,1133.4 1602.6,1134.7 1603.2,1136.5 1603.8,1138.8 1604.4,1141.6 1605.0,1144.8 1605.6,1148.5 1606.2,1152.6 1606.8,1157.0 1607.4,1161.9 1608.0,1167.1 1608.7,1172.6 1609.3,1178.3 1609.9,1184.4 1610.5,1190.6 1611.1,1197.0 1611.7,1203.5 1612.3,1210.2 1612.9,1216.8 1613.5,1223.5 1614.1,1230.2 1614.7,1236.9 1615.3,1243.4 1615.9,1249.8 1616.5,1256.0 1617.1,1262.0 1617.7,1267.8 1618.3,1273.2 1618.9,1278.4 1619.5,1283.2 1620.1,1287.7 1620.7,1291.7 1621.3,1295.4 1622.0,1298.6 1622.6,1301.3 1623.2,1303.6 1623.8,1305.4 1624.4,1306.7 1625.0,1307.5 1625.6,1307.7 1626.2,1307.5 1626.8,1306.8 1627.4,1305.6 1628.0,1303.9 1628.6,1301.8 1629.2,1299.2 1629.8,1296.1 1630.4,1292.7 1631.0,1288.8 1631.6,1284.6 1632.2,1280.0 1632.8,1275.1 1633.4,1270.0 1634.0,1264.6 1634.6,1259.0 1635.3,1253.2 1635.9,1247.3 1636.5,1241.3 1637.1,1235.2 1637.7,1229.1 1638.3,1223.0 1638.9,1217.0 1639.5,1211.1 1640.1,1205.3 1640.7,1199.8 1641.3,1194.4 1641.9,1189.2 1642.5,1184.4 1643.1,1179.8 1643.7,1175.6 1644.3,1171.8 1644.9,1168.4 1645.5,1165.4 1646.1,1162.8 1646.7,1160.7 1647.3,1159.0 1648.0,1157.8 1648.6,1157.2 1649.2,1157.0 1649.8,1157.3 1650.4,1158.1 1651.0,1159.5 1651.6,1161.3 1652.2,1163.6 1652.8,1166.4 1653.4,1169.6 1654.0,1173.2 1654.6,1177.3 1655.2,1181.8 1655.8,1186.6 1656.4,1191.8 1657.0,1197.3 1657.6,1203.0 1658.2,1209.0 1658.8,1215.2 1659.4,1221.6 1660.0,1228.1 1660.6,1234.7 1661.3,1241.4 1661.9,1248.1 1662.5,1254.7 1663.1,1261.3 1663.7,1267.8 1664.3,1274.2 1664.9,1280.3 1665.5,1286.3 1666.1,1292.0 1666.7,1297.4 1667.3,1302.5 1667.9,1307.3 1668.5,1311.7 1669.1,1315.7 1669.7,1319.3 1670.3,1322.4 1670.9,1325.1 1671.5,1327.3 1672.1,1329.1 1672.7,1330.3 1673.3,1331.0 1674.0,1331.2 1674.6,1331.0 1675.2,1330.2 1675.8,1328.9 1676.4,1327.2 1677.0,1325.0 1677.6,1322.3 1678.2,1319.2 1678.8,1315.7 1679.4,1311.7 1680.0,1307.4 1680.6,1302.8 1681.2,1297.9 1681.8,1292.7 1682.4,1287.2 1683.0,1281.6 1683.6,1275.7 1684.2,1269.8 1684.8,1263.7 1685.4,1257.6 1686.0,1251.4 1686.6,1245.3 1687.3,1239.3 1687.9,1233.3 1688.5,1227.5 1689.1,1221.9 1689.7,1216.5 1690.3,1211.3 1690.9,1206.4 1691.5,1201.8 1692.1,1197.6 1692.7,1193.8 1693.3,1190.3 1693.9,1187.2 1694.5,1184.6 1695.1,1182.5 1695.7,1180.8 1696.3,1179.6 1696.9,1178.9 1697.5,1178.7 1698.1,1179.0 1698.7,1179.8 1699.3,1181.1 1699.9,1182.9 1700.6,1185.2 1701.2,1187.9 1701.8,1191.1 1702.4,1194.7 1703.0,1198.8 1703.6,1203.2 1704.2,1208.0 1704.8,1213.1 1705.4,1218.6 1706.0,1224.3 1706.6,1230.2 1707.2,1236.4 1707.8,1242.7 1708.4,1249.2 1709.0,1255.7 1709.6,1262.3 1710.2,1269.0 1710.8,1275.6 1711.4,1282.1 1712.0,1288.5 1712.6,1294.8 1713.3,1300.9 1713.9,1306.8 1714.5,1312.4 1715.1,1317.8 1715.7,1322.8 1716.3,1327.5 1716.9,1331.8 1717.5,1335.7 1718.1,1339.2 1718.7,1342.3 1719.3,1344.9 1719.9,1347.0 1720.5,1348.6 1721.1,1349.8 1721.7,1350.4 1722.3,1350.6 1722.9,1350.2 1723.5,1349.3 1724.1,1348.0 1724.7,1346.1 1725.3,1343.8 1725.9,1341.1 1726.6,1337.9 1727.2,1334.2 1727.8,1330.2 1728.4,1325.9 1729.0,1321.2 1729.6,1316.1 1730.2,1310.8 1730.8,1305.3 1731.4,1299.6 1732.0,1293.7 1732.6,1287.6 1733.2,1281.5 1733.8,1275.3 1734.4,1269.1 1735.0,1262.9 1735.6,1256.8 1736.2,1250.8 1736.8,1244.9 1737.4,1239.2 1738.0,1233.7 1738.6,1228.5 1739.3,1223.6 1739.9,1218.9 1740.5,1214.6 1741.1,1210.7 1741.7,1207.2 1742.3,1204.1 1742.9,1201.5 1743.5,1199.3 1744.1,1197.5 1744.7,1196.3 1745.3,1195.5 1745.9,1195.3 1746.5,1195.5 1747.1,1196.3 1747.7,1197.5 1748.3,1199.3 1748.9,1201.5 1749.5,1204.2 1750.1,1207.3 1750.7,1210.9 1751.3,1214.9 1751.9,1219.2 1752.6,1224.0 1753.2,1229.0 1753.8,1234.4 1754.4,1240.1 1755.0,1245.9 1755.6,1252.0 1756.2,1258.3 1756.8,1264.7 1757.4,1271.1 1758.0,1277.7 1758.6,1284.2 1759.2,1290.7 1759.8,1297.2 1760.4,1303.5 1761.0,1309.7 1761.6,1315.7 1762.2,1321.5 1762.8,1327.0 1763.4,1332.3 1764.0,1337.2 1764.6,1341.8 1765.2,1346.0 1765.9,1349.8 1766.5,1353.2 1767.1,1356.2 1767.7,1358.7 1768.3,1360.7 1768.9,1362.2 1769.5,1363.2 1770.1,1363.8 1770.7,1363.8 1771.3,1363.3 1771.9,1362.3 1772.5,1360.9 1773.1,1358.9 1773.7,1356.5 1774.3,1353.6 1774.9,1350.3 1775.5,1346.6 1776.1,1342.5 1776.7,1338.0 1777.3,1333.2 1777.9,1328.1 1778.6,1322.7 1779.2,1317.1 1779.8,1311.2 1780.4,1305.2 1781.0,1299.1 1781.6,1292.8 1782.2,1286.6 1782.8,1280.3 1783.4,1274.0 1784.0,1267.8 1784.6,1261.7 1785.2,1255.8 1785.8,1250.0 1786.4,1244.4 1787.0,1239.1 1787.6,1234.1 1788.2,1229.4 1788.8,1225.0 1789.4,1221.0 1790.0,1217.5 1790.6,1214.3 1791.2,1211.6 1791.9,1209.3 1792.5,1207.5 1793.1,1206.2 1793.7,1205.4 1794.3,1205.1 1794.9,1205.2 1795.5,1205.9 1796.1,1207.1 1796.7,1208.8 1797.3,1210.9 1797.9,1213.5 1798.5,1216.6 1799.1,1220.1 1799.7,1224.0 1800.3,1228.3 1800.9,1233.0 1801.5,1237.9 1802.1,1243.2 1802.7,1248.8 1803.3,1254.6 1803.9,1260.6 1804.5,1266.8 1805.2,1273.1 1805.8,1279.5 1806.4,1285.9 1807.0,1292.3 1807.6,1298.7 1808.2,1305.1 1808.8,1311.3 1809.4,1317.4 1810.0,1323.3 1810.6,1329.0 1811.2,1334.4 1811.8,1339.6 1812.4,1344.4 1813.0,1348.9 1813.6,1353.0 1814.2,1356.7 1814.8,1359.9 1815.4,1362.8 1816.0,1365.1 1816.6,1367.0 1817.2,1368.4 1817.9,1369.3 1818.5,1369.7 1819.1,1369.7 1819.7,1369.1 1820.3,1368.0 1820.9,1366.4 1821.5,1364.3 1822.1,1361.8 1822.7,1358.8 1823.3,1355.3 1823.9,1351.5 1824.5,1347.3 1825.1,1342.7 1825.7,1337.7 1826.3,1332.5 1826.9,1327.0 1827.5,1321.3 1828.1,1315.3 1828.7,1309.2 1829.3,1303.0 1829.9,1296.6 1830.5,1290.3 1831.2,1283.9 1831.8,1277.5 1832.4,1271.2 1833.0,1265.0 1833.6,1259.0 1834.2,1253.1 1834.8,1247.5 1835.4,1242.1 1836.0,1237.0 1836.6,1232.2 1837.2,1227.7 1837.8,1223.7 1838.4,1220.0 1839.0,1216.8 1839.6,1214.0 1840.2,1211.6 1840.8,1209.7 1841.4,1208.4 1842.0,1207.5 1842.6,1207.1 1843.2,1207.2 1843.9,1207.8 1844.5,1208.9 1845.1,1210.5 1845.7,1212.5 1846.3,1215.1 1846.9,1218.1 1847.5,1221.5 1848.1,1225.3 1848.7,1229.5 1849.3,1234.1 1849.9,1239.0 1850.5,1244.2 1851.1,1249.7 1851.7,1255.4 1852.3,1261.3 1852.9,1267.4 1853.5,1273.6 1854.1,1279.9 1854.7,1286.2 1855.3,1292.6 1855.9,1298.9 1856.5,1305.1 1857.2,1311.2 1857.8,1317.2 1858.4,1323.0 1859.0,1328.6 1859.6,1333.9 1860.2,1338.9 1860.8,1343.6 1861.4,1348.0 1862.0,1352.0 1862.6,1355.6 1863.2,1358.7 1863.8,1361.4 1864.4,1363.7 1865.0,1365.4 1865.6,1366.7 1866.2,1367.5 1866.8,1367.8 1867.4,1367.6 1868.0,1366.8 1868.6,1365.6 1869.2,1363.9 1869.8,1361.7 1870.5,1359.0 1871.1,1355.9 1871.7,1352.4 1872.3,1348.4 1872.9,1344.1 1873.5,1339.4 1874.1,1334.3 1874.7,1329.0 1875.3,1323.4 1875.9,1317.5 1876.5,1311.5 1877.1,1305.2 1877.7,1298.9 1878.3,1292.5 1878.9,1286.0 1879.5,1279.5 1880.1,1273.0 1880.7,1266.6 1881.3,1260.4 1881.9,1254.2 1882.5,1248.3 1883.2,1242.5 1883.8,1237.1 1884.4,1231.9 1885.0,1227.0 1885.6,1222.5 1886.2,1218.3 1886.8,1214.6 1887.4,1211.3 1888.0,1208.4 1888.6,1206.0 1889.2,1204.0 1889.8,1202.6 1890.4,1201.6 1891.0,1201.1 1891.6,1201.2 1892.2,1201.7 1892.8,1202.7 1893.4,1204.3 1894.0,1206.3 1894.6,1208.7 1895.2,1211.6 1895.8,1215.0 1896.5,1218.7 1897.1,1222.9 1897.7,1227.4 1898.3,1232.2 1898.9,1237.3 1899.5,1242.7 1900.1,1248.3 1900.7,1254.2 1901.3,1260.2 1901.9,1266.3 1902.5,1272.5 1903.1,1278.7 1903.7,1284.9 1904.3,1291.2 1904.9,1297.3 1905.5,1303.3 1906.1,1309.2 1906.7,1314.9 1907.3,1320.4 1907.9,1325.6 1908.5,1330.5 1909.2,1335.1 1909.8,1339.3 1910.4,1343.2 1911.0,1346.6 1911.6,1349.7 1912.2,1352.3 1912.8,1354.4 1913.4,1356.1 1914.0,1357.2 1914.6,1357.9 1915.2,1358.1 1915.8,1357.7 1916.4,1356.9 1917.0,1355.5 1917.6,1353.7 1918.2,1351.4 1918.8,1348.6 1919.4,1345.4 1920.0,1341.7 1920.6,1337.7 1921.2,1333.2 1921.8,1328.4 1922.5,1323.2 1923.1,1317.8 1923.7,1312.1 1924.3,1306.1 1924.9,1300.0 1925.5,1293.6 1926.1,1287.2 1926.7,1280.7 1927.3,1274.1 1927.9,1267.5 1928.5,1261.0 1929.1,1254.5 1929.7,1248.1 1930.3,1241.9 1930.9,1235.9 1931.5,1230.1 1932.1,1224.5 1932.7,1219.3 1933.3,1214.3 1933.9,1209.8 1934.5,1205.5 1935.1,1201.7 1935.8,1198.3 1936.4,1195.4 1937.0,1192.9 1937.6,1190.9 1938.2,1189.4 1938.8,1188.4 1939.4,1187.8 1940.0,1187.8 1940.6,1188.3 1941.2,1189.3 1941.8,1190.7 1942.4,1192.7 1943.0,1195.1 1943.6,1197.9 1944.2,1201.2 1944.8,1204.9 1945.4,1209.0 1946.0,1213.4 1946.6,1218.1 1947.2,1223.2 1947.8,1228.5 1948.5,1234.1 1949.1,1239.8 1949.7,1245.8 1950.3,1251.8 1950.9,1257.9 1951.5,1264.1 1952.1,1270.2 1952.7,1276.4 1953.3,1282.4 1953.9,1288.3 1954.5,1294.1 1955.1,1299.7 1955.7,1305.1 1956.3,1310.2 1956.9,1315.0 1957.5,1319.5 1958.1,1323.7 1958.7,1327.5 1959.3,1330.8 1959.9,1333.8 1960.5,1336.3 1961.1,1338.3 1961.8,1339.8 1962.4,1340.9 1963.0,1341.5 1963.6,1341.5 1964.2,1341.1 1964.8,1340.1 1965.4,1338.7 1966.0,1336.8 1966.6,1334.4 1967.2,1331.5 1967.8,1328.2 1968.4,1324.4 1969.0,1320.3 1969.6,1315.7 1970.2,1310.8 1970.8,1305.6 1971.4,1300.0 1972.0,1294.2 1972.6,1288.2 1973.2,1281.9 1973.8,1275.5 1974.5,1269.0 1975.1,1262.4 1975.7,1255.8 1976.3,1249.1 1976.9,1242.5 1977.5,1236.0 1978.1,1229.6 1978.7,1223.3 1979.3,1217.2 1979.9,1211.3 1980.5,1205.7 1981.1,1200.4 1981.7,1195.4 1982.3,1190.8 1982.9,1186.5 1983.5,1182.7 1984.1,1179.2 1984.7,1176.2 1985.3,1173.7 1985.9,1171.7 1986.5,1170.1 1987.1,1169.0 1987.8,1168.5 1988.4,1168.4 1989.0,1168.8 1989.6,1169.8 1990.2,1171.2 1990.8,1173.1 1991.4,1175.5 1992.0,1178.3 1992.6,1181.5 1993.2,1185.2 1993.8,1189.2 1994.4,1193.6 1995.0,1198.3 1995.6,1203.3 1996.2,1208.6 1996.8,1214.1 1997.4,1219.8 1998.0,1225.6 1998.6,1231.6 1999.2,1237.7 1999.8,1243.8 2000.4,1249.9 2001.1,1255.9 2001.7,1261.9 2002.3,1267.8 2002.9,1273.5 2003.5,1279.1 2004.1,1284.4 2004.7,1289.4 2005.3,1294.2 2005.9,1298.6 2006.5,1302.7 2007.1,1306.4 2007.7,1309.7 2008.3,1312.5 2008.9,1314.9 2009.5,1316.9 2010.1,1318.4 2010.7,1319.3 2011.3,1319.8 2011.9,1319.8 2012.5,1319.3 2013.1,1318.3 2013.8,1316.8 2014.4,1314.8 2015.0,1312.3 2015.6,1309.3 2016.2,1305.9 2016.8,1302.1 2017.4,1297.9 2018.0,1293.3 2018.6,1288.3 2019.2,1283.0 2019.8,1277.4 2020.4,1271.5 2021.0,1265.4 2021.6,1259.1 2022.2,1252.7 2022.8,1246.1 2023.4,1239.5 2024.0,1232.8 2024.6,1226.1 2025.2,1219.4 2025.8,1212.8 2026.4,1206.4 2027.1,1200.1 2027.7,1194.0 2028.3,1188.1 2028.9,1182.4 2029.5,1177.1 2030.1,1172.1 2030.7,1167.4 2031.3,1163.1 2031.9,1159.2 2032.5,1155.8 2033.1,1152.8 2033.7,1150.2 2034.3,1148.2 2034.9,1146.6 2035.5,1145.5 2036.1,1144.9 2036.7,1144.9 2037.3,1145.3 2037.9,1146.2 2038.5,1147.6 2039.1,1149.5 2039.8,1151.8 2040.4,1154.6 2041.0,1157.9 2041.6,1161.5 2042.2,1165.5 2042.8,1169.9 2043.4,1174.6 2044.0,1179.6 2044.6,1184.8 2045.2,1190.3 2045.8,1196.0 2046.4,1201.8 2047.0,1207.8 2047.6,1213.8 2048.2,1219.9 2048.8,1225.9 2049.4,1232.0 2050.0,1237.9 2050.6,1243.8 2051.2,1249.5 2051.8,1255.0 2052.4,1260.2 2053.1,1265.2 2053.7,1269.9 2054.3,1274.3 2054.9,1278.3 2055.5,1282.0 2056.1,1285.2 2056.7,1288.0 2057.3,1290.4 2057.9,1292.3 2058.5,1293.7 2059.1,1294.7 2059.7,1295.1 2060.3,1295.0 2060.9,1294.5 2061.5,1293.4 2062.1,1291.9 2062.7,1289.8 2063.3,1287.3 2063.9,1284.3 2064.5,1280.9 2065.1,1277.0 2065.7,1272.7 2066.4,1268.1 2067.0,1263.0 2067.6,1257.7 2068.2,1252.1 2068.8,1246.2 2069.4,1240.1 2070.0,1233.7 2070.6,1227.3 2071.2,1220.7 2071.8,1214.0 2072.4,1207.3" fill="none" stroke="#ff0000" stroke-width="1.8" stroke-linejoin="round" stroke-linecap="round" stroke-dasharray="0 2.9"/>
<polyline points="1105.6,1217.9 1106.8,1217.4 1108.0,1216.9 1109.2,1216.4 1110.4,1215.8 1111.7,1215.2 1112.9,1214.6 1114.1,1214.0 1115.3,1213.3 1116.5,1212.6 1117.7,1211.9 1118.9,1211.2 1120.1,1210.5 1121.3,1209.8 1122.5,1209.1 1123.8,1208.3 1125.0,1207.6 1126.2,1206.9 1127.4,1206.2 1128.6,1205.5 1129.8,1204.8 1131.0,1204.2 1132.2,1203.6 1133.4,1202.9 1134.6,1202.3 1135.9,1201.7 1137.1,1201.2 1138.3,1200.6 1139.5,1200.0 1140.7,1199.4 1141.9,1198.8 1143.1,1198.3 1144.3,1197.7 1145.5,1197.1 1146.7,1196.5 1148.0,1195.8 1149.2,1195.2 1150.4,1194.5 1151.6,1193.9 1152.8,1193.2 1154.0,1192.6 1155.2,1191.9 1156.4,1191.2 1157.6,1190.5 1158.8,1189.8 1160.1,1189.0 1161.3,1188.3 1162.5,1187.6 1163.7,1186.8 1164.9,1186.1 1166.1,1185.4 1167.3,1184.6 1168.5,1183.9 1169.7,1183.1 1170.9,1182.4 1172.2,1181.6 1173.4,1180.9 1174.6,1180.1 1175.8,1179.4 1177.0,1178.7 1178.2,1178.0 1179.4,1177.2 1180.6,1176.5 1181.8,1175.8 1183.0,1175.1 1184.3,1174.4 1185.5,1173.7 1186.7,1173.1 1187.9,1172.4 1189.1,1171.7 1190.3,1171.0 1191.5,1170.3 1192.7,1169.6 1193.9,1168.9 1195.1,1168.2 1196.4,1167.5 1197.6,1166.7 1198.8,1166.0 1200.0,1165.3 1201.2,1164.6 1202.4,1163.9 1203.6,1163.1 1204.8,1162.4 1206.0,1161.7 1207.2,1161.0 1208.5,1160.4 1209.7,1159.7 1210.9,1159.0 1212.1,1158.4 1213.3,1157.8 1214.5,1157.2 1215.7,1156.6 1216.9,1156.1 1218.1,1155.5 1219.3,1155.0 1220.6,1154.5 1221.8,1153.9 1223.0,1153.4 1224.2,1153.0 1225.4,1152.5 1226.6,1152.0 1227.8,1151.6 1229.0,1151.1 1230.2,1150.7 1231.4,1150.2 1232.7,1149.8 1233.9,1149.4 1235.1,1149.0 1236.3,1148.6 1237.5,1148.2 1238.7,1147.8 1239.9,1147.4 1241.1,1147.1 1242.3,1146.8 1243.5,1146.5 1244.8,1146.2 1246.0,1145.9 1247.2,1145.7 1248.4,1145.4 1249.6,1145.2 1250.8,1145.1 1252.0,1144.9 1253.2,1144.8 1254.4,1144.7 1255.6,1144.6 1256.9,1144.6 1258.1,1144.7 1259.3,1144.7 1260.5,1144.8 1261.7,1145.0 1262.9,1145.2 1264.1,1145.4 1265.3,1145.6 1266.5,1145.9 1267.7,1146.2 1269.0,1146.6 1270.2,1147.0 1271.4,1147.4 1272.6,1147.8 1273.8,1148.3 1275.0,1148.8 1276.2,1149.3 1277.4,1149.9 1278.6,1150.4 1279.8,1151.0 1281.1,1151.6 1282.3,1152.3 1283.5,1152.9 1284.7,1153.6 1285.9,1154.2 1287.1,1154.9 1288.3,1155.6 1289.5,1156.3 1290.7,1157.0 1291.9,1157.7 1293.2,1158.4 1294.4,1159.1 1295.6,1159.9 1296.8,1160.6 1298.0,1161.4 1299.2,1162.2 1300.4,1163.0 1301.6,1163.8 1302.8,1164.6 1304.0,1165.4 1305.3,1166.3 1306.5,1167.2 1307.7,1168.1 1308.9,1169.1 1310.1,1170.0 1311.3,1171.0 1312.5,1172.0 1313.7,1173.0 1314.9,1174.0 1316.1,1175.0 1317.4,1176.0 1318.6,1177.0 1319.8,1178.0 1321.0,1179.0 1322.2,1180.0 1323.4,1181.0 1324.6,1182.0 1325.8,1183.0 1327.0,1184.0 1328.2,1184.9 1329.5,1185.9 1330.7,1186.8 1331.9,1187.7 1333.1,1188.6 1334.3,1189.5 1335.5,1190.4 1336.7,1191.3 1337.9,1192.2 1339.1,1193.0 1340.3,1193.8 1341.6,1194.7 1342.8,1195.5 1344.0,1196.3 1345.2,1197.1 1346.4,1197.9 1347.6,1198.7 1348.8,1199.5 1350.0,1200.2 1351.2,1201.0 1352.4,1201.8 1353.7,1202.6 1354.9,1203.4 1356.1,1204.1 1357.3,1204.9 1358.5,1205.6 1359.7,1206.3 1360.9,1207.0 1362.1,1207.6 1363.3,1208.3 1364.5,1208.8 1365.8,1209.4 1367.0,1209.8 1368.2,1210.3 1369.4,1210.7 1370.6,1211.0 1371.8,1211.2 1373.0,1211.4 1374.2,1211.6 1375.4,1211.8 1376.6,1211.9 1377.9,1211.9 1379.1,1212.0 1380.3,1212.0 1381.5,1212.1 1382.7,1212.1 1383.9,1212.1 1385.1,1212.1 1386.3,1212.2 1387.5,1212.2 1388.7,1212.3 1390.0,1212.3 1391.2,1212.3 1392.4,1212.3 1393.6,1212.2 1394.8,1212.0 1396.0,1211.7 1397.2,1211.2 1398.4,1210.7 1399.6,1210.1 1400.8,1209.4 1402.1,1208.8 1403.3,1208.1 1404.5,1207.4 1405.7,1206.7 1406.9,1206.1 1408.1,1205.5 1409.3,1204.9 1410.5,1204.3 1411.7,1203.7 1412.9,1203.0 1414.2,1202.4 1415.4,1201.7 1416.6,1201.0 1417.8,1200.2 1419.0,1199.4 1420.2,1198.5 1421.4,1197.5 1422.6,1196.4 1423.8,1195.3 1425.0,1194.1 1426.3,1192.9 1427.5,1191.6 1428.7,1190.3 1429.9,1189.0 1431.1,1187.6 1432.3,1186.3 1433.5,1184.9 1434.7,1183.4 1435.9,1182.0 1437.1,1180.6 1438.4,1179.2 1439.6,1177.8 1440.8,1176.3 1442.0,1174.9 1443.2,1173.5 1444.4,1172.1 1445.6,1170.8 1446.8,1169.4 1448.0,1168.1 1449.2,1166.7 1450.5,1165.4 1451.7,1164.1 1452.9,1162.9 1454.1,1161.6 1455.3,1160.3 1456.5,1159.0 1457.7,1157.8 1458.9,1156.5 1460.1,1155.2 1461.3,1153.9 1462.6,1152.7 1463.8,1151.4 1465.0,1150.1 1466.2,1148.8 1467.4,1147.5 1468.6,1146.2 1469.8,1144.9 1471.0,1143.6 1472.2,1142.3 1473.4,1141.0 1474.7,1139.8 1475.9,1138.5 1477.1,1137.3 1478.3,1136.0 1479.5,1134.8 1480.7,1133.6 1481.9,1132.5 1483.1,1131.3 1484.3,1130.2 1485.5,1129.1 1486.8,1128.0 1488.0,1127.0 1489.2,1126.0 1490.4,1125.0 1491.6,1124.0 1492.8,1123.1 1494.0,1122.3 1495.2,1121.4 1496.4,1120.6 1497.6,1119.9 1498.9,1119.1 1500.1,1118.4 1501.3,1117.8 1502.5,1117.1 1503.7,1116.5 1504.9,1115.9 1506.1,1115.4 1507.3,1114.8 1508.5,1114.3 1509.7,1113.9 1511.0,1113.4 1512.2,1113.0 1513.4,1112.7 1514.6,1112.4 1515.8,1112.2 1517.0,1112.0 1518.2,1112.0 1519.4,1111.9 1520.6,1112.0 1521.8,1112.0 1523.1,1112.2 1524.3,1112.4 1525.5,1112.7 1526.7,1113.1 1527.9,1113.5 1529.1,1113.9 1530.3,1114.5 1531.5,1115.1 1532.7,1115.7 1533.9,1116.4 1535.2,1117.2 1536.4,1118.0 1537.6,1118.9 1538.8,1119.8 1540.0,1120.7 1541.2,1121.7 1542.4,1122.6 1543.6,1123.6 1544.8,1124.5 1546.0,1125.4 1547.3,1126.3 1548.5,1127.1 1549.7,1127.9 1550.9,1128.6 1552.1,1129.4 1553.3,1130.1 1554.5,1130.8 1555.7,1131.6 1556.9,1132.5 1558.1,1133.5 1559.4,1134.6 1560.6,1135.9 1561.8,1137.4 1563.0,1139.0 1564.2,1140.8 1565.4,1142.7 1566.6,1144.6 1567.8,1146.7 1569.0,1148.8 1570.2,1150.9 1571.5,1153.1 1572.7,1155.3 1573.9,1157.4 1575.1,1159.5 1576.3,1161.6 1577.5,1163.7 1578.7,1165.7 1579.9,1167.7 1581.1,1169.7 1582.3,1171.7 1583.6,1173.7 1584.8,1175.7 1586.0,1177.6 1587.2,1179.6 1588.4,1181.6 1589.6,1183.5 1590.8,1185.5 1592.0,1187.6 1593.2,1189.6 1594.4,1191.7 1595.7,1193.8 1596.9,1195.9 1598.1,1198.0 1599.3,1200.1 1600.5,1202.3 1601.7,1204.4 1602.9,1206.5 1604.1,1208.6 1605.3,1210.7 1606.5,1212.8 1607.8,1214.8 1609.0,1216.8 1610.2,1218.8 1611.4,1220.7 1612.6,1222.6 1613.8,1224.5 1615.0,1226.2 1616.2,1228.0 1617.4,1229.7 1618.6,1231.3 1619.9,1232.9 1621.1,1234.5 1622.3,1236.0 1623.5,1237.4 1624.7,1238.9 1625.9,1240.3 1627.1,1241.6 1628.3,1242.9 1629.5,1244.2 1630.7,1245.5 1632.0,1246.7 1633.2,1247.9 1634.4,1249.0 1635.6,1250.1 1636.8,1251.2 1638.0,1252.3 1639.2,1253.3 1640.4,1254.4 1641.6,1255.3 1642.8,1256.3 1644.1,1257.2 1645.3,1258.0 1646.5,1258.9 1647.7,1259.6 1648.9,1260.4 1650.1,1261.1 1651.3,1261.7 1652.5,1262.3 1653.7,1262.9 1654.9,1263.4 1656.2,1263.8 1657.4,1264.2 1658.6,1264.5 1659.8,1264.8 1661.0,1265.0 1662.2,1265.2 1663.4,1265.3 1664.6,1265.3 1665.8,1265.3 1667.0,1265.2 1668.3,1265.1 1669.5,1265.0 1670.7,1264.8 1671.9,1264.5 1673.1,1264.2 1674.3,1263.9 1675.5,1263.5 1676.7,1263.1 1677.9,1262.7 1679.1,1262.2 1680.4,1261.7 1681.6,1261.1 1682.8,1260.5 1684.0,1259.9 1685.2,1259.2 1686.4,1258.5 1687.6,1257.8 1688.8,1257.0 1690.0,1256.2 1691.2,1255.4 1692.5,1254.6 1693.7,1253.7 1694.9,1252.7 1696.1,1251.8 1697.3,1250.8 1698.5,1249.8 1699.7,1248.7 1700.9,1247.7 1702.1,1246.6 1703.3,1245.5 1704.6,1244.3 1705.8,1243.1 1707.0,1241.9 1708.2,1240.7 1709.4,1239.5 1710.6,1238.2 1711.8,1236.9 1713.0,1235.6 1714.2,1234.2 1715.4,1232.9 1716.7,1231.5 1717.9,1230.1 1719.1,1228.8 1720.3,1227.4 1721.5,1225.9 1722.7,1224.5 1723.9,1223.1 1725.1,1221.7 1726.3,1220.3 1727.5,1218.8 1728.8,1217.4 1730.0,1216.0 1731.2,1214.6 1732.4,1213.2 1733.6,1211.8 1734.8,1210.4 1736.0,1209.0 1737.2,1207.7 1738.4,1206.3 1739.6,1205.0 1740.9,1203.7 1742.1,1202.5 1743.3,1201.2 1744.5,1200.0 1745.7,1198.9 1746.9,1197.7 1748.1,1196.6 1749.3,1195.6 1750.5,1194.5 1751.7,1193.5 1753.0,1192.6 1754.2,1191.7 1755.4,1190.8 1756.6,1189.9 1757.8,1189.1 1759.0,1188.3 1760.2,1187.5 1761.4,1186.8 1762.6,1186.1 1763.8,1185.4 1765.1,1184.8 1766.3,1184.2 1767.5,1183.6 1768.7,1183.1 1769.9,1182.6 1771.1,1182.2 1772.3,1181.8 1773.5,1181.4 1774.7,1181.1 1775.9,1180.9 1777.2,1180.7 1778.4,1180.6 1779.6,1180.5 1780.8,1180.4 1782.0,1180.5 1783.2,1180.5 1784.4,1180.7 1785.6,1180.8 1786.8,1181.0 1788.0,1181.2 1789.3,1181.5 1790.5,1181.8 1791.7,1182.1 1792.9,1182.5 1794.1,1182.9 1795.3,1183.3 1796.5,1183.7 1797.7,1184.2 1798.9,1184.8 1800.1,1185.4 1801.4,1186.0 1802.6,1186.7 1803.8,1187.4 1805.0,1188.2 1806.2,1189.0 1807.4,1189.9 1808.6,1190.8 1809.8,1191.8 1811.0,1192.8 1812.2,1193.9 1813.5,1195.0 1814.7,1196.1 1815.9,1197.3 1817.1,1198.5 1818.3,1199.7 1819.5,1201.0 1820.7,1202.2 1821.9,1203.5 1823.1,1204.8 1824.3,1206.1 1825.6,1207.5 1826.8,1208.8 1828.0,1210.2 1829.2,1211.5 1830.4,1212.9 1831.6,1214.2 1832.8,1215.6 1834.0,1217.0 1835.2,1218.4 1836.4,1219.8 1837.7,1221.2 1838.9,1222.6 1840.1,1224.0 1841.3,1225.4 1842.5,1226.9 1843.7,1228.3 1844.9,1229.7 1846.1,1231.2 1847.3,1232.6 1848.5,1234.0 1849.8,1235.4 1851.0,1236.9 1852.2,1238.3 1853.4,1239.7 1854.6,1241.1 1855.8,1242.5 1857.0,1243.9 1858.2,1245.2 1859.4,1246.6 1860.6,1247.9 1861.9,1249.1 1863.1,1250.4 1864.3,1251.6 1865.5,1252.7 1866.7,1253.8 1867.9,1254.9 1869.1,1255.9 1870.3,1256.9 1871.5,1257.8 1872.7,1258.6 1874.0,1259.4 1875.2,1260.2 1876.4,1261.0 1877.6,1261.7 1878.8,1262.4 1880.0,1263.1 1881.2,1263.8 1882.4,1264.5 1883.6,1265.2 1884.8,1265.9 1886.1,1266.6 1887.3,1267.3 1888.5,1268.0 1889.7,1268.7 1890.9,1269.4 1892.1,1270.1 1893.3,1270.7 1894.5,1271.3 1895.7,1271.8 1896.9,1272.2 1898.2,1272.5 1899.4,1272.7 1900.6,1272.7 1901.8,1272.7 1903.0,1272.4 1904.2,1272.1 1905.4,1271.5 1906.6,1270.9 1907.8,1270.2 1909.0,1269.4 1910.3,1268.6 1911.5,1267.9 1912.7,1267.2 1913.9,1266.6 1915.1,1266.0 1916.3,1265.5 1917.5,1265.0 1918.7,1264.5 1919.9,1264.1 1921.1,1263.6 1922.4,1263.1 1923.6,1262.6 1924.8,1262.0 1926.0,1261.4 1927.2,1260.7 1928.4,1260.0 1929.6,1259.1 1930.8,1258.1 1932.0,1257.1 1933.2,1255.9 1934.5,1254.7 1935.7,1253.3 1936.9,1251.9 1938.1,1250.5 1939.3,1248.9 1940.5,1247.4 1941.7,1245.7 1942.9,1244.1 1944.1,1242.4 1945.3,1240.7 1946.6,1239.0 1947.8,1237.3 1949.0,1235.6 1950.2,1233.8 1951.4,1232.1 1952.6,1230.4 1953.8,1228.7 1955.0,1227.0 1956.2,1225.4 1957.4,1223.7 1958.7,1222.0 1959.9,1220.4 1961.1,1218.8 1962.3,1217.2 1963.5,1215.6 1964.7,1214.1 1965.9,1212.5 1967.1,1211.0 1968.3,1209.5 1969.5,1208.1 1970.8,1206.6 1972.0,1205.2 1973.2,1203.8 1974.4,1202.4 1975.6,1201.1 1976.8,1199.7 1978.0,1198.4 1979.2,1197.1 1980.4,1195.7 1981.6,1194.5 1982.9,1193.2 1984.1,1191.9 1985.3,1190.7 1986.5,1189.4 1987.7,1188.2 1988.9,1187.0 1990.1,1185.9 1991.3,1184.7 1992.5,1183.6 1993.7,1182.6 1995.0,1181.5 1996.2,1180.5 1997.4,1179.6 1998.6,1178.7 1999.8,1177.8 2001.0,1177.0 2002.2,1176.2 2003.4,1175.4 2004.6,1174.7 2005.8,1174.1 2007.1,1173.5 2008.3,1172.9 2009.5,1172.4 2010.7,1171.9 2011.9,1171.5 2013.1,1171.2 2014.3,1170.8 2015.5,1170.6 2016.7,1170.3 2017.9,1170.2 2019.2,1170.0 2020.4,1169.9 2021.6,1169.9 2022.8,1169.9 2024.0,1169.9 2025.2,1169.9 2026.4,1170.0 2027.6,1170.1 2028.8,1170.3 2030.0,1170.5 2031.3,1170.8 2032.5,1171.1 2033.7,1171.5 2034.9,1171.9 2036.1,1172.3 2037.3,1172.8 2038.5,1173.4 2039.7,1174.0 2040.9,1174.7 2042.1,1175.5 2043.4,1176.3 2044.6,1177.2 2045.8,1178.1 2047.0,1179.0 2048.2,1180.0 2049.4,1181.1 2050.6,1182.1 2051.8,1183.2 2053.0,1184.3 2054.2,1185.5 2055.5,1186.6 2056.7,1187.8 2057.9,1188.9 2059.1,1190.1 2060.3,1191.2 2061.5,1192.4 2062.7,1193.5 2063.9,1194.6 2065.1,1195.7 2066.3,1196.8 2067.6,1197.8 2068.8,1198.8 2070.0,1199.8 2071.2,1200.7 2072.4,1201.6" fill="none" stroke="#000" stroke-width="4.8" stroke-linejoin="round" stroke-linecap="round" stroke-dasharray="0 8.6"/>
<polyline points="1105.6,1274.8 1106.8,1272.7 1108.0,1270.6 1109.2,1268.6 1110.4,1266.6 1111.7,1264.8 1112.9,1263.0 1114.1,1261.2 1115.3,1259.6 1116.5,1258.0 1117.7,1256.4 1118.9,1254.9 1120.1,1253.5 1121.3,1252.0 1122.5,1250.7 1123.8,1249.3 1125.0,1248.0 1126.2,1246.8 1127.4,1245.5 1128.6,1244.3 1129.8,1243.1 1131.0,1241.9 1132.2,1240.8 1133.4,1239.7 1134.6,1238.6 1135.9,1237.6 1137.1,1236.6 1138.3,1235.6 1139.5,1234.7 1140.7,1233.8 1141.9,1233.0 1143.1,1232.2 1144.3,1231.4 1145.5,1230.8 1146.7,1230.1 1148.0,1229.5 1149.2,1229.0 1150.4,1228.5 1151.6,1228.0 1152.8,1227.6 1154.0,1227.3 1155.2,1227.0 1156.4,1226.7 1157.6,1226.5 1158.8,1226.4 1160.1,1226.3 1161.3,1226.3 1162.5,1226.3 1163.7,1226.3 1164.9,1226.3 1166.1,1226.4 1167.3,1226.4 1168.5,1226.4 1169.7,1226.4 1170.9,1226.4 1172.2,1226.4 1173.4,1226.4 1174.6,1226.5 1175.8,1226.7 1177.0,1226.9 1178.2,1227.3 1179.4,1227.7 1180.6,1228.3 1181.8,1229.0 1183.0,1229.8 1184.3,1230.7 1185.5,1231.6 1186.7,1232.6 1187.9,1233.6 1189.1,1234.7 1190.3,1235.7 1191.5,1236.8 1192.7,1237.9 1193.9,1239.0 1195.1,1240.0 1196.4,1241.1 1197.6,1242.1 1198.8,1243.1 1200.0,1244.1 1201.2,1245.1 1202.4,1246.1 1203.6,1247.1 1204.8,1248.1 1206.0,1249.1 1207.2,1250.1 1208.5,1251.1 1209.7,1252.1 1210.9,1253.1 1212.1,1254.2 1213.3,1255.2 1214.5,1256.2 1215.7,1257.3 1216.9,1258.4 1218.1,1259.4 1219.3,1260.5 1220.6,1261.6 1221.8,1262.6 1223.0,1263.7 1224.2,1264.8 1225.4,1265.8 1226.6,1266.8 1227.8,1267.8 1229.0,1268.8 1230.2,1269.8 1231.4,1270.7 1232.7,1271.6 1233.9,1272.5 1235.1,1273.3 1236.3,1274.1 1237.5,1274.9 1238.7,1275.6 1239.9,1276.2 1241.1,1276.9 1242.3,1277.4 1243.5,1278.0 1244.8,1278.5 1246.0,1278.9 1247.2,1279.4 1248.4,1279.8 1249.6,1280.1 1250.8,1280.4 1252.0,1280.7 1253.2,1281.0 1254.4,1281.2 1255.6,1281.4 1256.9,1281.5 1258.1,1281.6 1259.3,1281.7 1260.5,1281.8 1261.7,1281.7 1262.9,1281.7 1264.1,1281.6 1265.3,1281.4 1266.5,1281.2 1267.7,1280.9 1269.0,1280.6 1270.2,1280.2 1271.4,1279.7 1272.6,1279.2 1273.8,1278.5 1275.0,1277.8 1276.2,1277.1 1277.4,1276.2 1278.6,1275.3 1279.8,1274.4 1281.1,1273.3 1282.3,1272.3 1283.5,1271.2 1284.7,1270.1 1285.9,1268.9 1287.1,1267.7 1288.3,1266.5 1289.5,1265.2 1290.7,1263.9 1291.9,1262.7 1293.2,1261.3 1294.4,1260.0 1295.6,1258.6 1296.8,1257.2 1298.0,1255.8 1299.2,1254.4 1300.4,1253.0 1301.6,1251.5 1302.8,1250.0 1304.0,1248.5 1305.3,1247.0 1306.5,1245.5 1307.7,1243.9 1308.9,1242.3 1310.1,1240.7 1311.3,1239.1 1312.5,1237.5 1313.7,1235.8 1314.9,1234.2 1316.1,1232.5 1317.4,1230.8 1318.6,1229.1 1319.8,1227.4 1321.0,1225.6 1322.2,1223.9 1323.4,1222.1 1324.6,1220.4 1325.8,1218.7 1327.0,1216.9 1328.2,1215.2 1329.5,1213.5 1330.7,1211.8 1331.9,1210.1 1333.1,1208.5 1334.3,1206.9 1335.5,1205.3 1336.7,1203.8 1337.9,1202.2 1339.1,1200.8 1340.3,1199.3 1341.6,1197.9 1342.8,1196.5 1344.0,1195.2 1345.2,1193.9 1346.4,1192.6 1347.6,1191.3 1348.8,1190.1 1350.0,1188.9 1351.2,1187.8 1352.4,1186.7 1353.7,1185.6 1354.9,1184.6 1356.1,1183.6 1357.3,1182.6 1358.5,1181.7 1359.7,1180.8 1360.9,1180.1 1362.1,1179.3 1363.3,1178.7 1364.5,1178.1 1365.8,1177.5 1367.0,1177.1 1368.2,1176.7 1369.4,1176.5 1370.6,1176.3 1371.8,1176.2 1373.0,1176.1 1374.2,1176.1 1375.4,1176.2 1376.6,1176.3 1377.9,1176.4 1379.1,1176.5 1380.3,1176.6 1381.5,1176.8 1382.7,1176.9 1383.9,1177.2 1385.1,1177.4 1386.3,1177.7 1387.5,1178.0 1388.7,1178.4 1390.0,1178.9 1391.2,1179.4 1392.4,1180.0 1393.6,1180.7 1394.8,1181.5 1396.0,1182.4 1397.2,1183.3 1398.4,1184.4 1399.6,1185.5 1400.8,1186.8 1402.1,1188.1 1403.3,1189.4 1404.5,1190.8 1405.7,1192.3 1406.9,1193.8 1408.1,1195.3 1409.3,1196.9 1410.5,1198.4 1411.7,1200.0 1412.9,1201.6 1414.2,1203.1 1415.4,1204.6 1416.6,1206.2 1417.8,1207.7 1419.0,1209.2 1420.2,1210.7 1421.4,1212.2 1422.6,1213.7 1423.8,1215.2 1425.0,1216.7 1426.3,1218.3 1427.5,1219.8 1428.7,1221.4 1429.9,1222.9 1431.1,1224.5 1432.3,1226.2 1433.5,1227.8 1434.7,1229.5 1435.9,1231.2 1437.1,1232.9 1438.4,1234.6 1439.6,1236.4 1440.8,1238.1 1442.0,1239.9 1443.2,1241.6 1444.4,1243.3 1445.6,1245.1 1446.8,1246.8 1448.0,1248.5 1449.2,1250.2 1450.5,1251.9 1451.7,1253.5 1452.9,1255.1 1454.1,1256.7 1455.3,1258.2 1456.5,1259.7 1457.7,1261.2 1458.9,1262.5 1460.1,1263.8 1461.3,1265.1 1462.6,1266.2 1463.8,1267.3 1465.0,1268.3 1466.2,1269.2 1467.4,1270.0 1468.6,1270.7 1469.8,1271.3 1471.0,1271.9 1472.2,1272.4 1473.4,1272.8 1474.7,1273.2 1475.9,1273.5 1477.1,1273.8 1478.3,1274.1 1479.5,1274.4 1480.7,1274.7 1481.9,1275.0 1483.1,1275.4 1484.3,1275.7 1485.5,1276.1 1486.8,1276.5 1488.0,1276.8 1489.2,1277.1 1490.4,1277.2 1491.6,1277.1 1492.8,1276.9 1494.0,1276.4 1495.2,1275.8 1496.4,1275.0 1497.6,1274.0 1498.9,1272.9 1500.1,1271.8 1501.3,1270.5 1502.5,1269.2 1503.7,1267.9 1504.9,1266.6 1506.1,1265.3 1507.3,1264.1 1508.5,1262.8 1509.7,1261.7 1511.0,1260.5 1512.2,1259.4 1513.4,1258.2 1514.6,1257.0 1515.8,1255.8 1517.0,1254.5 1518.2,1253.2 1519.4,1251.8 1520.6,1250.4 1521.8,1248.8 1523.1,1247.2 1524.3,1245.4 1525.5,1243.7 1526.7,1241.8 1527.9,1239.9 1529.1,1238.0 1530.3,1236.0 1531.5,1234.0 1532.7,1232.0 1533.9,1230.0 1535.2,1227.9 1536.4,1225.9 1537.6,1223.9 1538.8,1222.0 1540.0,1220.0 1541.2,1218.0 1542.4,1216.0 1543.6,1214.0 1544.8,1211.9 1546.0,1209.8 1547.3,1207.7 1548.5,1205.5 1549.7,1203.2 1550.9,1200.9 1552.1,1198.6 1553.3,1196.2 1554.5,1193.8 1555.7,1191.4 1556.9,1189.0 1558.1,1186.6 1559.4,1184.4 1560.6,1182.2 1561.8,1180.2 1563.0,1178.2 1564.2,1176.5 1565.4,1174.8 1566.6,1173.3 1567.8,1171.9 1569.0,1170.6 1570.2,1169.3 1571.5,1168.0 1572.7,1166.7 1573.9,1165.4 1575.1,1164.1 1576.3,1162.7 1577.5,1161.2 1578.7,1159.6 1579.9,1158.0 1581.1,1156.4 1582.3,1154.8 1583.6,1153.1 1584.8,1151.5 1586.0,1149.9 1587.2,1148.3 1588.4,1146.7 1589.6,1145.2 1590.8,1143.8 1592.0,1142.5 1593.2,1141.3 1594.4,1140.2 1595.7,1139.2 1596.9,1138.2 1598.1,1137.4 1599.3,1136.7 1600.5,1136.0 1601.7,1135.4 1602.9,1134.9 1604.1,1134.4 1605.3,1134.0 1606.5,1133.6 1607.8,1133.2 1609.0,1132.9 1610.2,1132.6 1611.4,1132.3 1612.6,1132.0 1613.8,1131.7 1615.0,1131.5 1616.2,1131.2 1617.4,1131.1 1618.6,1130.9 1619.9,1130.8 1621.1,1130.7 1622.3,1130.7 1623.5,1130.8 1624.7,1130.8 1625.9,1131.0 1627.1,1131.1 1628.3,1131.3 1629.5,1131.6 1630.7,1131.9 1632.0,1132.2 1633.2,1132.6 1634.4,1133.0 1635.6,1133.4 1636.8,1133.9 1638.0,1134.4 1639.2,1134.9 1640.4,1135.4 1641.6,1136.0 1642.8,1136.6 1644.1,1137.2 1645.3,1137.9 1646.5,1138.5 1647.7,1139.2 1648.9,1139.9 1650.1,1140.6 1651.3,1141.3 1652.5,1142.0 1653.7,1142.7 1654.9,1143.4 1656.2,1144.2 1657.4,1144.9 1658.6,1145.6 1659.8,1146.3 1661.0,1147.1 1662.2,1147.8 1663.4,1148.5 1664.6,1149.2 1665.8,1149.9 1667.0,1150.6 1668.3,1151.2 1669.5,1151.9 1670.7,1152.5 1671.9,1153.2 1673.1,1153.8 1674.3,1154.3 1675.5,1154.9 1676.7,1155.5 1677.9,1156.0 1679.1,1156.5 1680.4,1157.0 1681.6,1157.5 1682.8,1157.9 1684.0,1158.4 1685.2,1158.8 1686.4,1159.2 1687.6,1159.6 1688.8,1159.9 1690.0,1160.3 1691.2,1160.6 1692.5,1160.9 1693.7,1161.1 1694.9,1161.4 1696.1,1161.6 1697.3,1161.7 1698.5,1161.9 1699.7,1162.0 1700.9,1162.0 1702.1,1162.0 1703.3,1162.0 1704.6,1162.0 1705.8,1161.9 1707.0,1161.7 1708.2,1161.5 1709.4,1161.2 1710.6,1160.9 1711.8,1160.6 1713.0,1160.2 1714.2,1159.8 1715.4,1159.4 1716.7,1158.9 1717.9,1158.4 1719.1,1157.8 1720.3,1157.3 1721.5,1156.7 1722.7,1156.1 1723.9,1155.5 1725.1,1154.8 1726.3,1154.2 1727.5,1153.5 1728.8,1152.8 1730.0,1152.1 1731.2,1151.4 1732.4,1150.6 1733.6,1149.9 1734.8,1149.1 1736.0,1148.4 1737.2,1147.6 1738.4,1146.8 1739.6,1146.0 1740.9,1145.2 1742.1,1144.3 1743.3,1143.5 1744.5,1142.7 1745.7,1141.8 1746.9,1140.9 1748.1,1140.1 1749.3,1139.2 1750.5,1138.3 1751.7,1137.4 1753.0,1136.5 1754.2,1135.6 1755.4,1134.7 1756.6,1133.8 1757.8,1132.9 1759.0,1132.0 1760.2,1131.0 1761.4,1130.1 1762.6,1129.2 1763.8,1128.3 1765.1,1127.4 1766.3,1126.5 1767.5,1125.6 1768.7,1124.7 1769.9,1123.8 1771.1,1122.9 1772.3,1122.0 1773.5,1121.1 1774.7,1120.3 1775.9,1119.4 1777.2,1118.6 1778.4,1117.7 1779.6,1116.9 1780.8,1116.1 1782.0,1115.3 1783.2,1114.6 1784.4,1113.8 1785.6,1113.1 1786.8,1112.4 1788.0,1111.7 1789.3,1111.0 1790.5,1110.4 1791.7,1109.8 1792.9,1109.2 1794.1,1108.6 1795.3,1108.1 1796.5,1107.6 1797.7,1107.1 1798.9,1106.7 1800.1,1106.2 1801.4,1105.9 1802.6,1105.5 1803.8,1105.2 1805.0,1104.9 1806.2,1104.6 1807.4,1104.4 1808.6,1104.1 1809.8,1104.0 1811.0,1103.8 1812.2,1103.7 1813.5,1103.6 1814.7,1103.5 1815.9,1103.5 1817.1,1103.5 1818.3,1103.5 1819.5,1103.5 1820.7,1103.6 1821.9,1103.7 1823.1,1103.8 1824.3,1104.0 1825.6,1104.2 1826.8,1104.4 1828.0,1104.6 1829.2,1104.8 1830.4,1105.1 1831.6,1105.4 1832.8,1105.7 1834.0,1106.1 1835.2,1106.5 1836.4,1106.9 1837.7,1107.3 1838.9,1107.7 1840.1,1108.1 1841.3,1108.6 1842.5,1109.1 1843.7,1109.6 1844.9,1110.1 1846.1,1110.6 1847.3,1111.2 1848.5,1111.7 1849.8,1112.3 1851.0,1112.8 1852.2,1113.4 1853.4,1114.0 1854.6,1114.6 1855.8,1115.2 1857.0,1115.8 1858.2,1116.5 1859.4,1117.1 1860.6,1117.7 1861.9,1118.3 1863.1,1119.0 1864.3,1119.6 1865.5,1120.2 1866.7,1120.9 1867.9,1121.5 1869.1,1122.1 1870.3,1122.8 1871.5,1123.4 1872.7,1124.0 1874.0,1124.6 1875.2,1125.3 1876.4,1125.9 1877.6,1126.5 1878.8,1127.1 1880.0,1127.7 1881.2,1128.3 1882.4,1128.8 1883.6,1129.4 1884.8,1130.0 1886.1,1130.5 1887.3,1131.0 1888.5,1131.6 1889.7,1132.1 1890.9,1132.6 1892.1,1133.0 1893.3,1133.5 1894.5,1133.9 1895.7,1134.3 1896.9,1134.7 1898.2,1135.0 1899.4,1135.4 1900.6,1135.7 1901.8,1135.9 1903.0,1136.2 1904.2,1136.4 1905.4,1136.6 1906.6,1136.7 1907.8,1136.9 1909.0,1137.0 1910.3,1137.1 1911.5,1137.2 1912.7,1137.3 1913.9,1137.3 1915.1,1137.3 1916.3,1137.3 1917.5,1137.3 1918.7,1137.3 1919.9,1137.3 1921.1,1137.2 1922.4,1137.2 1923.6,1137.1 1924.8,1137.0 1926.0,1136.9 1927.2,1136.8 1928.4,1136.7 1929.6,1136.5 1930.8,1136.4 1932.0,1136.2 1933.2,1136.0 1934.5,1135.8 1935.7,1135.6 1936.9,1135.3 1938.1,1135.1 1939.3,1134.8 1940.5,1134.5 1941.7,1134.2 1942.9,1133.9 1944.1,1133.6 1945.3,1133.2 1946.6,1132.9 1947.8,1132.5 1949.0,1132.1 1950.2,1131.8 1951.4,1131.4 1952.6,1130.9 1953.8,1130.5 1955.0,1130.1 1956.2,1129.6 1957.4,1129.2 1958.7,1128.7 1959.9,1128.3 1961.1,1127.8 1962.3,1127.3 1963.5,1126.8 1964.7,1126.3 1965.9,1125.8 1967.1,1125.3 1968.3,1124.8 1969.5,1124.3 1970.8,1123.8 1972.0,1123.3 1973.2,1122.8 1974.4,1122.3 1975.6,1121.8 1976.8,1121.3 1978.0,1120.8 1979.2,1120.4 1980.4,1119.9 1981.6,1119.5 1982.9,1119.1 1984.1,1118.7 1985.3,1118.3 1986.5,1117.9 1987.7,1117.6 1988.9,1117.3 1990.1,1117.0 1991.3,1116.8 1992.5,1116.5 1993.7,1116.3 1995.0,1116.1 1996.2,1116.0 1997.4,1115.8 1998.6,1115.7 1999.8,1115.6 2001.0,1115.5 2002.2,1115.5 2003.4,1115.4 2004.6,1115.4 2005.8,1115.4 2007.1,1115.4 2008.3,1115.4 2009.5,1115.4 2010.7,1115.4 2011.9,1115.4 2013.1,1115.5 2014.3,1115.6 2015.5,1115.6 2016.7,1115.7 2017.9,1115.8 2019.2,1116.0 2020.4,1116.1 2021.6,1116.3 2022.8,1116.5 2024.0,1116.7 2025.2,1116.9 2026.4,1117.1 2027.6,1117.4 2028.8,1117.7 2030.0,1118.0 2031.3,1118.4 2032.5,1118.7 2033.7,1119.1 2034.9,1119.5 2036.1,1120.0 2037.3,1120.5 2038.5,1121.0 2039.7,1121.5 2040.9,1122.0 2042.1,1122.6 2043.4,1123.2 2044.6,1123.9 2045.8,1124.5 2047.0,1125.3 2048.2,1126.0 2049.4,1126.8 2050.6,1127.5 2051.8,1128.4 2053.0,1129.2 2054.2,1130.1 2055.5,1131.1 2056.7,1132.0 2057.9,1133.0 2059.1,1134.1 2060.3,1135.1 2061.5,1136.2 2062.7,1137.4 2063.9,1138.6 2065.1,1139.8 2066.3,1141.0 2067.6,1142.3 2068.8,1143.7 2070.0,1145.0 2071.2,1146.5 2072.4,1147.9" fill="none" stroke="#0000ff" stroke-width="4.8" stroke-linejoin="round" stroke-linecap="round" stroke-dasharray="0 8.6"/>
<polyline points="1105.6,1207.3 1108.8,1205.6 1112.1,1203.9 1115.3,1202.2 1118.5,1200.5 1121.8,1198.8 1125.0,1197.1 1128.2,1195.4 1131.5,1193.7 1134.7,1192.0 1137.9,1190.3 1141.2,1188.7 1144.4,1187.0 1147.6,1185.3 1150.9,1183.7 1154.1,1182.1 1157.3,1180.5 1160.6,1178.8 1163.8,1177.3 1167.0,1175.7 1170.3,1174.1 1173.5,1172.6 1176.7,1171.0 1180.0,1169.5 1183.2,1168.0 1186.4,1166.5 1189.7,1165.0 1192.9,1163.6 1196.1,1162.1 1199.4,1160.7 1202.6,1159.3 1205.8,1158.0 1209.1,1156.6 1212.3,1155.3 1215.5,1154.0 1218.8,1152.7 1222.0,1151.5 1225.2,1150.2 1228.5,1149.0 1231.7,1147.8 1234.9,1146.7 1238.2,1145.6 1241.4,1144.5 1244.6,1143.4 1247.9,1142.3 1251.1,1141.3 1254.3,1140.3 1257.6,1139.4 1260.8,1138.5 1264.0,1137.6 1267.3,1136.7 1270.5,1135.9 1273.7,1135.1 1277.0,1134.3 1280.2,1133.6 1283.4,1132.8 1286.7,1132.2 1289.9,1131.5 1293.1,1130.9 1296.4,1130.4 1299.6,1129.8 1302.8,1129.3 1306.1,1128.8 1309.3,1128.4 1312.5,1128.0 1315.8,1127.6 1319.0,1127.3 1322.2,1127.0 1325.5,1126.8 1328.7,1126.5 1331.9,1126.3 1335.2,1126.2 1338.4,1126.1 1341.6,1126.0 1344.9,1126.0 1348.1,1125.9 1351.3,1126.0 1354.6,1126.0 1357.8,1126.1 1361.0,1126.3 1364.3,1126.4 1367.5,1126.6 1370.7,1126.9 1374.0,1127.2 1377.2,1127.5 1380.4,1127.8 1383.7,1128.2 1386.9,1128.6 1390.1,1129.1 1393.4,1129.6 1396.6,1130.1 1399.8,1130.6 1403.1,1131.2 1406.3,1131.9 1409.5,1132.5 1412.8,1133.2 1416.0,1133.9 1419.2,1134.7 1422.5,1135.5 1425.7,1136.3 1428.9,1137.1 1432.2,1138.0 1435.4,1138.9 1438.6,1139.9 1441.9,1140.8 1445.1,1141.8 1448.3,1142.9 1451.6,1143.9 1454.8,1145.0 1458.0,1146.1 1461.3,1147.3 1464.5,1148.4 1467.7,1149.6 1471.0,1150.8 1474.2,1152.1 1477.4,1153.3 1480.7,1154.6 1483.9,1156.0 1487.1,1157.3 1490.4,1158.7 1493.6,1160.0 1496.8,1161.4 1500.1,1162.9 1503.3,1164.3 1506.5,1165.8 1509.8,1167.2 1513.0,1168.7 1516.2,1170.2 1519.5,1171.8 1522.7,1173.3 1525.9,1174.9 1529.2,1176.5 1532.4,1178.1 1535.6,1179.7 1538.9,1181.3 1542.1,1182.9 1545.3,1184.5 1548.6,1186.2 1551.8,1187.8 1555.0,1189.5 1558.3,1191.2 1561.5,1192.8 1564.7,1194.5 1568.0,1196.2 1571.2,1197.9 1574.4,1199.6 1577.7,1201.3 1580.9,1203.0 1584.1,1204.7 1587.4,1206.4 1590.6,1208.2 1593.9,1209.9 1597.1,1211.6 1600.3,1213.3 1603.6,1215.0 1606.8,1216.7 1610.0,1218.4 1613.3,1220.1 1616.5,1221.8 1619.7,1223.4 1623.0,1225.1 1626.2,1226.8 1629.4,1228.4 1632.7,1230.1 1635.9,1231.7 1639.1,1233.3 1642.4,1234.9 1645.6,1236.5 1648.8,1238.1 1652.1,1239.7 1655.3,1241.3 1658.5,1242.8 1661.8,1244.4 1665.0,1245.9 1668.2,1247.4 1671.5,1248.8 1674.7,1250.3 1677.9,1251.7 1681.2,1253.2 1684.4,1254.6 1687.6,1255.9 1690.9,1257.3 1694.1,1258.6 1697.3,1260.0 1700.6,1261.3 1703.8,1262.5 1707.0,1263.8 1710.3,1265.0 1713.5,1266.2 1716.7,1267.3 1720.0,1268.5 1723.2,1269.6 1726.4,1270.7 1729.7,1271.7 1732.9,1272.8 1736.1,1273.8 1739.4,1274.7 1742.6,1275.7 1745.8,1276.6 1749.1,1277.5 1752.3,1278.3 1755.5,1279.1 1758.8,1279.9 1762.0,1280.7 1765.2,1281.4 1768.5,1282.1 1771.7,1282.7 1774.9,1283.4 1778.2,1284.0 1781.4,1284.5 1784.6,1285.0 1787.9,1285.5 1791.1,1286.0 1794.3,1286.4 1797.6,1286.8 1800.8,1287.1 1804.0,1287.4 1807.3,1287.7 1810.5,1288.0 1813.7,1288.2 1817.0,1288.3 1820.2,1288.5 1823.4,1288.6 1826.7,1288.6 1829.9,1288.7 1833.1,1288.6 1836.4,1288.6 1839.6,1288.5 1842.8,1288.4 1846.1,1288.3 1849.3,1288.1 1852.5,1287.8 1855.8,1287.6 1859.0,1287.3 1862.2,1287.0 1865.5,1286.6 1868.7,1286.2 1871.9,1285.8 1875.2,1285.3 1878.4,1284.8 1881.6,1284.2 1884.9,1283.7 1888.1,1283.1 1891.3,1282.4 1894.6,1281.8 1897.8,1281.0 1901.0,1280.3 1904.3,1279.5 1907.5,1278.7 1910.7,1277.9 1914.0,1277.0 1917.2,1276.1 1920.4,1275.2 1923.7,1274.3 1926.9,1273.3 1930.1,1272.3 1933.4,1271.2 1936.6,1270.1 1939.8,1269.0 1943.1,1267.9 1946.3,1266.8 1949.5,1265.6 1952.8,1264.4 1956.0,1263.1 1959.2,1261.9 1962.5,1260.6 1965.7,1259.3 1968.9,1258.0 1972.2,1256.6 1975.4,1255.3 1978.6,1253.9 1981.9,1252.5 1985.1,1251.0 1988.3,1249.6 1991.6,1248.1 1994.8,1246.6 1998.0,1245.1 2001.3,1243.6 2004.5,1242.0 2007.7,1240.5 2011.0,1238.9 2014.2,1237.3 2017.4,1235.8 2020.7,1234.1 2023.9,1232.5 2027.1,1230.9 2030.4,1229.3 2033.6,1227.6 2036.8,1225.9 2040.1,1224.3 2043.3,1222.6 2046.5,1220.9 2049.8,1219.2 2053.0,1217.5 2056.2,1215.8 2059.5,1214.1 2062.7,1212.4 2065.9,1210.7 2069.2,1209.0 2072.4,1207.3" fill="none" stroke="#ff0000" stroke-width="3.5" stroke-linejoin="round" stroke-linecap="round" />
</g>
<line x1="1105.6" x2="2072.4" y1="1207.3" y2="1207.3" stroke="#555" stroke-width="0.9"/>
<rect x="1105.6" y="1003.9" width="966.8" height="406.8" fill="none" stroke="#000" stroke-width="1.6"/>
<line x1="1097.6" x2="1105.6" y1="1003.9" y2="1003.9" stroke="#000" stroke-width="1.6"/>
<text x="1090.6" y="1012.3" font-size="27.8" text-anchor="end" >2.5</text>
<line x1="1097.6" x2="1105.6" y1="1044.6" y2="1044.6" stroke="#000" stroke-width="1.6"/>
<text x="1090.6" y="1053.0" font-size="27.8" text-anchor="end" >2.0</text>
<line x1="1097.6" x2="1105.6" y1="1085.3" y2="1085.3" stroke="#000" stroke-width="1.6"/>
<text x="1090.6" y="1093.7" font-size="27.8" text-anchor="end" >1.5</text>
<line x1="1097.6" x2="1105.6" y1="1125.9" y2="1125.9" stroke="#000" stroke-width="1.6"/>
<text x="1090.6" y="1134.3" font-size="27.8" text-anchor="end" >1.0</text>
<line x1="1097.6" x2="1105.6" y1="1166.6" y2="1166.6" stroke="#000" stroke-width="1.6"/>
<text x="1090.6" y="1175.0" font-size="27.8" text-anchor="end" >0.5</text>
<line x1="1097.6" x2="1105.6" y1="1207.3" y2="1207.3" stroke="#000" stroke-width="1.6"/>
<text x="1090.6" y="1215.7" font-size="27.8" text-anchor="end" >0.0</text>
<line x1="1097.6" x2="1105.6" y1="1248.0" y2="1248.0" stroke="#000" stroke-width="1.6"/>
<text x="1090.6" y="1256.4" font-size="27.8" text-anchor="end" >-0.5</text>
<line x1="1097.6" x2="1105.6" y1="1288.7" y2="1288.7" stroke="#000" stroke-width="1.6"/>
<text x="1090.6" y="1297.1" font-size="27.8" text-anchor="end" >-1.0</text>
<line x1="1097.6" x2="1105.6" y1="1329.3" y2="1329.3" stroke="#000" stroke-width="1.6"/>
<text x="1090.6" y="1337.7" font-size="27.8" text-anchor="end" >-1.5</text>
<line x1="1097.6" x2="1105.6" y1="1370.0" y2="1370.0" stroke="#000" stroke-width="1.6"/>
<text x="1090.6" y="1378.4" font-size="27.8" text-anchor="end" >-2.0</text>
<line x1="1097.6" x2="1105.6" y1="1410.7" y2="1410.7" stroke="#000" stroke-width="1.6"/>
<text x="1090.6" y="1419.1" font-size="27.8" text-anchor="end" >-2.5</text>
<line x1="1178.1" x2="1178.1" y1="1410.7" y2="1418.7" stroke="#000" stroke-width="1.6"/>
<text x="1178.1" y="1446.2" font-size="27.8" text-anchor="middle" >1980</text>
<line x1="1299.0" x2="1299.0" y1="1410.7" y2="1418.7" stroke="#000" stroke-width="1.6"/>
<text x="1299.0" y="1446.2" font-size="27.8" text-anchor="middle" >1985</text>
<line x1="1419.8" x2="1419.8" y1="1410.7" y2="1418.7" stroke="#000" stroke-width="1.6"/>
<text x="1419.8" y="1446.2" font-size="27.8" text-anchor="middle" >1990</text>
<line x1="1540.7" x2="1540.7" y1="1410.7" y2="1418.7" stroke="#000" stroke-width="1.6"/>
<text x="1540.7" y="1446.2" font-size="27.8" text-anchor="middle" >1995</text>
<line x1="1661.5" x2="1661.5" y1="1410.7" y2="1418.7" stroke="#000" stroke-width="1.6"/>
<text x="1661.5" y="1446.2" font-size="27.8" text-anchor="middle" >2000</text>
<line x1="1782.4" x2="1782.4" y1="1410.7" y2="1418.7" stroke="#000" stroke-width="1.6"/>
<text x="1782.4" y="1446.2" font-size="27.8" text-anchor="middle" >2005</text>
<line x1="1903.2" x2="1903.2" y1="1410.7" y2="1418.7" stroke="#000" stroke-width="1.6"/>
<text x="1903.2" y="1446.2" font-size="27.8" text-anchor="middle" >2010</text>
<line x1="2024.1" x2="2024.1" y1="1410.7" y2="1418.7" stroke="#000" stroke-width="1.6"/>
<text x="2024.1" y="1446.2" font-size="27.8" text-anchor="middle" >2015</text>
<line x1="1122.7" x2="1179.2" y1="1358" y2="1358" stroke="#000" stroke-width="4.8" stroke-linecap="round" stroke-dasharray="0 9.4"/>
<text x="1193.0" y="1369.0" font-size="27.8" text-anchor="start" >8yr-lowpass IPO</text>
<line x1="1122.7" x2="1179.2" y1="1393" y2="1393" stroke="#0000ff" stroke-width="4.8" stroke-linecap="round" stroke-dasharray="0 9.4"/>
<text x="1193.0" y="1404.0" font-size="27.8" text-anchor="start" >8yr-lowpass AMO</text>
<line x1="1416" x2="1478" y1="1358" y2="1358" stroke="#ff0000" stroke-width="1.8" stroke-linecap="round" stroke-dasharray="0 2.9"/>
<text x="1487.0" y="1369.0" font-size="27.8" text-anchor="start" >ENSO forcing cycle</text>
<line x1="1416" x2="1479" y1="1393" y2="1393" stroke="#ff0000" stroke-width="3.3" stroke-linecap="round"/>
<text x="1494.0" y="1404.0" font-size="27.8" text-anchor="start" >IPO&amp;AMO forcing cycle</text>
<text x="2038.0" y="1392.2" font-size="50" text-anchor="start" >f</text>
<clipPath id="cmap"><rect x="92.4" y="1001.9" width="901.8" height="400.3"/></clipPath>
<g clip-path="url(#cmap)">
<path d="M748.7 1124.6L801.3 1124.6L801.3 1089.6L828.9 1089.6L833.9 1072.1L853.9 1069.6L853.9 1044.6L884.0 1044.6L894.3 1046.6L915.3 1038.1L933.3 1038.1L937.6 1042.3L960.9 1042.3L967.1 1035.8L968.1 1026.3L987.2 1024.3L987.9 1037.1L987.9 1344.8L835.1 1344.8L835.1 1299.8L823.9 1292.3L823.9 1182.2L748.7 1182.2Z" fill="#f8f7f6"/>
<path d="M854.3 1044.8L861.8 1045.6L869.3 1050.8L884.2 1052.3L896.2 1044.8L917.1 1038.1L935.0 1038.8L944.0 1044.8L963.4 1043.3L969.4 1038.1L976.8 1047.8L973.8 1055.3L951.4 1065.7L923.0 1074.7L899.1 1080.7L890.2 1092.6L879.7 1097.8L870.8 1091.1L866.3 1080.7L866.3 1071.7L854.3 1055.3Z" fill="#e1eff7"/>
<path d="M890.2 1058.3L902.1 1047.8L914.1 1046.3L924.5 1052.3L921.6 1059.8L911.1 1065.7L896.2 1070.2L891.7 1083.7L884.2 1091.1L875.2 1088.9L872.3 1076.2L873.7 1070.2L882.7 1073.2L890.2 1067.2Z" fill="#cbe4f1"/>
<path d="M880.9 1082.9L883.0 1082.9L882.7 1087.4L881.2 1087.4Z" fill="#a6d1e8"/>
<path d="M854.3 1045.6L859.6 1051.5L854.3 1055.6Z" fill="#cbe4f1"/>
<path d="M888.7 1106.1L903.6 1094.1L918.6 1097.1L921.6 1103.1L906.6 1110.5Z" fill="#e1eff7"/>
<path d="M924.5 1121.0L935.0 1107.6L955.9 1100.1L973.8 1115.0L964.9 1125.5L951.4 1127.0Z" fill="#e1eff7"/>
<path d="M917.1 1150.9L923.0 1146.4L941.0 1145.7L945.5 1156.9L929.0 1165.8L920.1 1158.4Z" fill="#e1eff7"/>
<path d="M850.6 1177.8L854.3 1170.3L870.8 1177.8L871.5 1185.2L867.8 1188.2L854.3 1182.3Z" fill="#e1eff7"/>
<path d="M814.0 1101.6L824.4 1094.9L830.4 1096.4L828.9 1100.1L818.5 1106.8Z" fill="#fae7dc"/>
<path d="M911.5 1285.3L951.6 1284.8L954.1 1289.8L946.6 1292.8L916.5 1293.0Z" fill="#fae7dc"/>
<rect x="98.7" y="1188.2" width="42.6" height="149.1" fill="#f8f7f6"/>
<ellipse cx="111.2" cy="1301.0" rx="4.5" ry="4" fill="#e1eff7"/>
<clipPath id="cpac1"><rect x="396.5" y="1129.4" width="422.3" height="145.9"/></clipPath>
<clipPath id="cpac2"><path d="M396.5 1275.3L396.5 1129.4L708.6 1129.4L701.1 1119.6L700.9 1120.9L702.9 1124.6L704.9 1127.6L708.1 1130.9L706.6 1132.6L709.4 1135.1L712.9 1136.6L713.1 1139.7L714.9 1141.4L718.6 1144.9L719.9 1143.9L716.9 1140.9L714.9 1137.1L712.4 1133.4L709.9 1129.6L706.9 1125.9L706.9 1122.9L711.1 1124.6L713.1 1129.1L716.9 1132.1L719.9 1134.6L720.4 1137.6L724.2 1140.9L727.7 1144.2L730.4 1148.4L729.7 1150.9L731.2 1153.4L734.9 1156.2L739.2 1157.7L744.0 1160.2L747.5 1161.4L752.5 1162.9L755.7 1161.9L758.7 1161.9L763.0 1165.7L765.0 1167.2L768.8 1167.9L771.8 1169.2L774.3 1168.9L775.0 1169.7L777.0 1172.2L779.5 1174.4L779.3 1176.7L781.8 1177.7L784.5 1178.9L784.8 1180.4L786.8 1181.7L789.5 1182.2L791.3 1184.2L793.8 1183.7L792.5 1181.7L795.1 1179.9L796.8 1179.9L798.1 1182.2L799.1 1184.2L800.1 1185.9L800.6 1189.7L800.1 1192.7L798.1 1195.7L797.1 1197.7L796.3 1198.9L793.8 1200.2L793.5 1202.2L791.8 1204.7L791.5 1207.7L793.8 1209.0L793.0 1210.7L790.5 1214.0L791.3 1217.2L794.3 1219.7L796.8 1223.5L798.8 1228.0L801.1 1232.2L803.1 1237.0L806.3 1240.5L811.3 1243.5L815.1 1245.5L818.1 1248.2L818.3 1254.7L817.8 1261.0L817.6 1264.8L816.8 1269.8L815.3 1276.0L815.1 1279.8L815.1 1275.3Z"/></clipPath>
<g clip-path="url(#cpac1)"><g clip-path="url(#cpac2)" shape-rendering="crispEdges">
<path d="M600.9 1267.4L603.4 1267.7L605.9 1267.9L608.4 1268.1L610.9 1268.2L613.4 1268.4L615.9 1268.5L618.4 1268.5L621.0 1268.5L623.5 1268.3L626.0 1268.1L628.5 1267.7L630.3 1267.3L631.0 1265.3L628.5 1263.0L627.6 1262.2L626.0 1261.6L623.5 1260.5L621.9 1259.7L621.0 1259.4L618.4 1258.6L615.9 1257.7L614.9 1257.2L613.4 1256.8L610.9 1256.1L608.4 1255.3L606.6 1254.7L605.9 1254.6L603.4 1253.9L600.9 1253.3L598.4 1252.6L597.3 1252.2L595.9 1251.9L593.4 1251.3L590.9 1250.7L588.4 1250.1L586.8 1249.7L585.9 1249.5L583.4 1249.0L580.9 1248.5L578.4 1248.0L575.9 1247.4L575.0 1247.2L573.4 1246.9L570.9 1246.4L568.4 1246.0L565.8 1245.5L563.3 1245.0L562.0 1244.7L560.8 1244.5L558.3 1244.1L555.8 1243.7L553.3 1243.2L550.8 1242.8L548.3 1242.3L545.8 1241.8L543.3 1241.4L540.8 1240.9L538.3 1240.4L535.8 1239.9L534.6 1239.7L533.3 1239.5L530.8 1239.1L528.3 1238.7L525.8 1238.3L523.3 1238.0L520.8 1237.7L518.2 1237.5L515.7 1237.3L514.3 1237.2L513.2 1237.2L510.7 1237.2L508.6 1237.2L505.7 1237.6L503.2 1238.3L501.2 1239.7L502.9 1242.2L505.7 1244.1L506.6 1244.7L508.2 1245.5L510.7 1246.7L511.7 1247.2L513.2 1247.8L515.7 1248.8L518.1 1249.7L520.8 1250.6L523.3 1251.4L525.8 1252.2L528.3 1252.9L530.8 1253.6L533.3 1254.3L535.0 1254.7L535.8 1254.9L538.3 1255.5L540.8 1256.1L543.3 1256.7L545.4 1257.2L548.3 1257.9L550.8 1258.4L553.3 1259.0L555.8 1259.5L556.8 1259.7L558.3 1260.1L560.8 1260.6L563.3 1261.1L565.8 1261.6L568.4 1262.1L570.9 1262.6L573.4 1263.1L575.9 1263.6L578.4 1264.0L580.9 1264.5L582.4 1264.8L583.4 1264.9L585.9 1265.3L588.4 1265.7L590.9 1266.1L593.4 1266.4L595.9 1266.8L598.4 1267.1L599.6 1267.3L600.9 1267.4ZM470.7 1237.6L473.2 1238.5L475.7 1239.1L478.2 1239.4L480.7 1239.3L483.2 1239.0L485.7 1238.5L488.2 1237.7L489.7 1237.2L490.7 1235.6L491.1 1234.7L490.7 1233.8L490.3 1232.2L489.0 1229.7L488.2 1228.7L487.2 1227.2L485.7 1225.7L484.6 1224.7L483.2 1223.7L480.7 1222.5L479.8 1222.2L478.2 1221.8L475.7 1221.6L473.2 1221.9L472.2 1222.2L470.7 1222.7L468.1 1224.3L467.7 1224.7L465.9 1227.2L465.6 1228.0L465.2 1229.7L465.5 1232.2L466.9 1234.7L468.1 1235.8L470.0 1237.2L470.7 1237.6Z" fill="#cbe4f1" fill-rule="evenodd"/>
<path d="M593.4 1274.8L595.9 1275.2L598.4 1275.6L600.9 1276.0L603.4 1276.3L605.9 1276.7L608.4 1277.0L610.7 1277.3L613.4 1277.3L615.9 1277.3L618.4 1277.3L621.0 1277.3L623.5 1277.3L626.0 1277.3L628.5 1277.3L631.0 1277.3L633.5 1277.3L636.0 1277.3L638.5 1277.3L641.0 1277.3L643.5 1277.3L646.0 1277.3L648.5 1277.3L651.0 1277.3L653.5 1277.3L656.0 1277.3L658.5 1277.3L661.0 1277.3L663.5 1277.3L666.0 1277.3L668.5 1277.3L671.1 1277.3L672.7 1277.3L673.6 1276.7L675.9 1274.8L675.1 1272.3L673.6 1271.1L672.1 1269.8L671.1 1269.2L668.5 1267.9L667.5 1267.3L666.0 1266.6L663.5 1265.5L661.9 1264.8L661.0 1264.4L658.5 1263.5L656.0 1262.6L655.2 1262.2L653.5 1261.7L651.0 1260.8L648.5 1260.0L647.8 1259.7L646.0 1259.2L643.5 1258.4L641.0 1257.6L639.7 1257.2L638.5 1256.9L636.0 1256.2L633.5 1255.5L631.0 1254.7L628.5 1254.1L626.0 1253.4L623.5 1252.7L621.7 1252.2L621.0 1252.1L618.4 1251.4L615.9 1250.8L613.4 1250.1L611.8 1249.7L610.9 1249.5L608.4 1248.9L605.9 1248.3L603.4 1247.7L601.4 1247.2L598.4 1246.6L595.9 1246.0L593.4 1245.4L590.9 1244.8L588.4 1244.3L585.9 1243.7L583.4 1243.2L580.9 1242.6L579.0 1242.2L578.4 1242.1L575.9 1241.5L573.4 1241.0L570.9 1240.4L568.4 1239.8L565.8 1239.2L563.3 1238.6L560.8 1238.0L558.3 1237.4L557.4 1237.2L555.8 1236.8L553.3 1236.2L550.8 1235.5L548.3 1234.8L545.8 1234.0L543.3 1233.3L540.8 1232.4L540.2 1232.2L538.3 1231.5L535.8 1230.6L533.3 1229.7L530.8 1228.8L528.3 1227.9L526.5 1227.2L525.8 1227.0L523.3 1226.2L520.8 1225.3L519.2 1224.7L518.2 1224.4L515.7 1223.7L513.2 1223.0L510.9 1222.2L508.2 1221.6L505.7 1220.9L503.2 1220.1L502.1 1219.7L500.7 1219.3L498.2 1218.5L495.7 1217.4L493.2 1216.2L491.0 1214.7L488.2 1212.2L486.6 1209.7L485.7 1207.6L484.9 1204.7L484.4 1202.2L484.0 1199.7L483.8 1197.2L483.6 1194.7L483.7 1192.2L484.0 1189.7L484.8 1187.2L485.7 1185.6L486.3 1184.7L488.2 1182.4L490.7 1180.1L491.1 1179.7L493.2 1178.1L494.5 1177.2L495.7 1176.4L498.2 1174.9L500.7 1173.5L503.2 1172.3L505.7 1171.1L508.2 1170.1L509.3 1169.7L510.7 1169.1L513.2 1168.1L515.7 1167.3L518.2 1166.4L520.8 1165.6L523.3 1164.8L523.8 1164.7L525.8 1164.0L528.3 1163.3L530.8 1162.6L532.3 1162.2L533.3 1161.8L535.8 1161.1L538.3 1160.4L540.8 1159.7L543.3 1159.0L545.8 1158.2L548.3 1157.5L549.6 1157.2L550.8 1156.8L553.3 1156.0L555.8 1155.2L557.6 1154.7L558.3 1154.4L560.8 1153.5L563.3 1152.6L564.8 1152.2L565.8 1151.7L568.4 1150.7L570.9 1149.8L573.4 1148.7L575.9 1147.6L577.0 1147.2L578.4 1146.5L580.9 1145.3L582.4 1144.7L583.4 1144.1L585.9 1142.8L587.2 1142.2L588.4 1141.4L590.9 1140.0L591.5 1139.7L593.4 1138.3L595.3 1137.1L595.9 1136.6L598.4 1134.7L600.9 1132.2L602.7 1129.6L603.4 1127.4L600.9 1127.1L598.4 1127.1L595.9 1127.1L593.4 1127.1L590.9 1127.1L588.4 1127.1L585.9 1127.1L583.4 1127.1L580.9 1127.1L578.4 1127.1L575.9 1127.1L573.4 1127.1L570.9 1127.1L568.4 1127.1L565.8 1127.1L563.3 1127.1L560.8 1127.1L558.3 1127.1L555.8 1127.1L553.3 1127.1L550.8 1127.1L548.3 1127.1L545.8 1127.1L543.3 1127.1L540.8 1127.1L538.3 1127.1L535.8 1127.1L533.3 1127.1L530.9 1127.1L528.3 1127.9L525.8 1128.5L523.3 1129.2L521.4 1129.6L520.8 1129.8L518.2 1130.6L515.7 1131.3L513.2 1132.0L512.6 1132.1L510.7 1132.8L508.2 1133.5L505.7 1134.2L504.3 1134.6L503.2 1135.0L500.7 1135.8L498.2 1136.5L496.1 1137.1L493.2 1138.1L490.7 1138.8L488.2 1139.5L487.6 1139.7L485.7 1140.2L483.2 1141.0L480.7 1141.6L478.5 1142.2L475.7 1142.9L473.2 1143.6L470.7 1144.2L468.5 1144.7L465.6 1145.4L463.1 1146.0L460.6 1146.6L458.4 1147.2L455.6 1148.0L453.1 1148.7L450.6 1149.4L449.6 1149.7L448.1 1150.2L445.6 1151.0L443.1 1151.9L442.5 1152.2L440.6 1153.0L438.1 1154.0L436.7 1154.7L435.6 1155.2L433.1 1156.5L431.8 1157.2L430.6 1157.9L428.1 1159.4L427.6 1159.7L425.6 1161.1L424.0 1162.2L423.1 1162.9L420.8 1164.7L418.0 1167.1L415.5 1169.6L413.4 1172.2L413.0 1172.7L411.6 1174.7L410.5 1176.6L410.2 1177.2L409.1 1179.7L408.4 1182.2L408.1 1184.7L408.3 1187.2L408.9 1189.7L409.9 1192.2L410.5 1193.3L411.3 1194.7L413.0 1197.2L414.9 1199.7L415.5 1200.6L416.8 1202.2L418.0 1203.9L418.7 1204.7L420.5 1207.2L422.2 1209.7L423.1 1211.2L423.7 1212.2L425.1 1214.7L425.6 1215.7L426.4 1217.2L427.5 1219.7L428.1 1220.9L428.7 1222.2L430.0 1224.7L430.6 1225.6L431.6 1227.2L433.1 1228.9L433.8 1229.7L435.6 1231.3L436.7 1232.2L438.1 1233.2L440.6 1234.7L443.1 1236.0L445.6 1237.1L448.1 1238.1L450.6 1239.0L452.6 1239.7L455.6 1240.8L458.1 1241.7L459.4 1242.2L460.6 1242.7L463.1 1243.6L465.6 1244.4L466.9 1244.7L468.1 1245.1L470.7 1245.8L473.2 1246.3L475.7 1246.7L478.2 1247.1L478.8 1247.2L480.7 1247.6L483.2 1248.1L485.7 1248.6L488.2 1249.3L489.7 1249.7L490.7 1250.1L493.2 1250.9L495.7 1251.8L497.1 1252.2L498.2 1252.6L500.7 1253.5L503.2 1254.4L504.3 1254.7L505.7 1255.2L508.2 1256.1L510.7 1256.9L512.0 1257.2L513.2 1257.6L515.7 1258.4L518.2 1259.1L520.4 1259.7L523.3 1260.6L525.8 1261.2L528.3 1261.9L529.8 1262.2L530.8 1262.5L533.3 1263.1L535.8 1263.7L538.3 1264.3L540.5 1264.8L543.3 1265.4L545.8 1265.9L548.3 1266.5L550.8 1267.0L552.4 1267.3L553.3 1267.5L555.8 1268.0L558.3 1268.5L560.8 1269.0L563.3 1269.4L565.1 1269.8L565.8 1269.9L568.4 1270.4L570.9 1270.9L573.4 1271.3L575.9 1271.8L578.4 1272.2L580.9 1272.7L583.4 1273.2L585.9 1273.6L588.4 1274.0L590.9 1274.4L593.0 1274.8ZM599.6 1267.3L598.4 1267.1L595.9 1266.8L593.4 1266.4L590.9 1266.1L588.4 1265.7L585.9 1265.3L583.4 1264.9L582.4 1264.8L580.9 1264.5L578.4 1264.0L575.9 1263.6L573.4 1263.1L570.9 1262.6L568.9 1262.2L565.8 1261.6L563.3 1261.1L560.8 1260.6L558.3 1260.1L556.8 1259.7L555.8 1259.5L553.3 1259.0L550.8 1258.4L548.3 1257.9L545.8 1257.3L543.3 1256.7L540.8 1256.1L538.3 1255.5L535.8 1254.9L535.0 1254.7L533.3 1254.3L530.8 1253.6L528.3 1252.9L525.8 1252.2L523.3 1251.4L520.8 1250.6L518.2 1249.8L515.7 1248.8L513.2 1247.8L511.7 1247.2L510.7 1246.7L508.2 1245.5L506.6 1244.7L505.7 1244.1L503.2 1242.4L501.2 1239.7L503.2 1238.3L505.7 1237.6L508.2 1237.2L510.7 1237.2L513.2 1237.2L514.3 1237.2L515.7 1237.3L518.2 1237.5L520.8 1237.7L523.3 1238.0L525.8 1238.3L528.3 1238.7L530.8 1239.1L533.3 1239.5L534.6 1239.7L535.8 1239.9L538.3 1240.4L540.8 1240.9L543.3 1241.4L545.8 1241.8L548.2 1242.2L550.8 1242.8L553.3 1243.2L555.8 1243.7L558.3 1244.1L560.8 1244.5L562.0 1244.7L563.3 1245.0L565.8 1245.5L568.4 1246.0L570.9 1246.4L573.4 1246.9L575.0 1247.2L575.9 1247.4L578.4 1248.0L580.9 1248.5L583.4 1249.0L585.9 1249.5L586.8 1249.7L588.4 1250.1L590.9 1250.7L593.4 1251.3L595.9 1251.9L597.3 1252.2L598.4 1252.6L600.9 1253.3L603.4 1253.9L605.9 1254.6L606.6 1254.7L608.4 1255.3L610.9 1256.1L613.4 1256.8L614.9 1257.2L615.9 1257.7L618.4 1258.6L621.0 1259.4L621.9 1259.7L623.5 1260.5L626.0 1261.6L627.6 1262.2L628.5 1263.0L631.0 1264.7L630.3 1267.3L628.5 1267.7L626.0 1268.1L623.5 1268.3L621.0 1268.5L618.4 1268.5L615.9 1268.5L613.4 1268.4L610.9 1268.2L608.4 1268.1L605.9 1267.9L603.4 1267.7L600.9 1267.4L599.6 1267.3ZM470.0 1237.2L468.1 1235.8L466.9 1234.7L465.6 1232.5L465.2 1229.7L465.6 1228.0L465.9 1227.2L467.7 1224.7L468.1 1224.3L470.7 1222.7L472.2 1222.2L473.2 1221.9L475.7 1221.6L478.2 1221.8L479.8 1222.2L480.7 1222.5L483.2 1223.7L484.6 1224.7L485.7 1225.7L487.2 1227.2L488.2 1228.7L489.0 1229.7L490.3 1232.2L490.7 1233.8L491.1 1234.7L490.7 1235.6L489.7 1237.2L488.2 1237.7L485.7 1238.5L483.2 1239.0L480.7 1239.3L478.2 1239.4L475.7 1239.1L473.2 1238.5L470.7 1237.6L470.0 1237.2Z" fill="#e1eff7" fill-rule="evenodd"/>
<path d="M528.3 1275.1L530.8 1275.7L533.3 1276.3L535.8 1276.8L538.1 1277.3L540.8 1277.3L543.3 1277.3L545.8 1277.3L548.3 1277.3L550.8 1277.3L553.3 1277.3L555.8 1277.3L558.3 1277.3L560.8 1277.3L563.3 1277.3L565.8 1277.3L568.4 1277.3L570.9 1277.3L573.4 1277.3L575.9 1277.3L578.4 1277.3L580.9 1277.3L583.4 1277.3L585.9 1277.3L588.4 1277.3L590.9 1277.3L593.4 1277.3L595.9 1277.3L598.4 1277.3L600.9 1277.3L603.4 1277.3L605.9 1277.3L608.4 1277.3L610.7 1277.3L608.4 1277.0L605.9 1276.7L603.4 1276.3L600.9 1276.0L598.4 1275.6L595.9 1275.2L593.4 1274.8L590.9 1274.4L588.4 1274.0L585.9 1273.6L583.4 1273.2L580.9 1272.7L578.5 1272.3L575.9 1271.8L573.4 1271.3L570.9 1270.9L568.4 1270.4L565.8 1269.9L565.1 1269.8L563.3 1269.4L560.8 1269.0L558.3 1268.5L555.8 1268.0L553.3 1267.5L552.4 1267.3L550.8 1267.0L548.3 1266.5L545.8 1265.9L543.3 1265.4L540.8 1264.8L538.3 1264.3L535.8 1263.7L533.3 1263.1L530.8 1262.5L529.8 1262.2L528.3 1261.9L525.8 1261.2L523.3 1260.6L520.8 1259.9L518.2 1259.1L515.7 1258.4L513.2 1257.6L512.0 1257.2L510.7 1256.9L508.2 1256.1L505.7 1255.2L504.3 1254.7L503.2 1254.4L500.7 1253.5L498.2 1252.6L497.1 1252.2L495.7 1251.8L493.2 1250.9L490.7 1250.1L489.7 1249.7L488.2 1249.3L485.7 1248.6L483.2 1248.1L480.7 1247.6L478.8 1247.2L478.2 1247.1L475.7 1246.7L473.2 1246.3L470.7 1245.8L468.1 1245.1L466.9 1244.7L465.6 1244.4L463.1 1243.6L460.6 1242.7L459.4 1242.2L458.1 1241.7L455.6 1240.8L453.1 1239.9L450.6 1239.0L448.1 1238.1L445.9 1237.2L443.1 1236.0L440.6 1234.7L438.1 1233.2L436.7 1232.2L435.6 1231.3L433.8 1229.7L433.1 1228.9L431.6 1227.2L430.6 1225.6L430.0 1224.7L428.7 1222.2L428.1 1220.9L427.5 1219.7L426.4 1217.2L425.6 1215.7L425.1 1214.7L423.7 1212.2L423.1 1211.2L422.2 1209.7L420.6 1207.4L418.7 1204.7L418.0 1203.9L416.8 1202.2L415.5 1200.6L414.9 1199.7L413.0 1197.3L411.3 1194.7L410.5 1193.3L409.9 1192.2L408.9 1189.7L408.3 1187.2L408.1 1184.7L408.4 1182.2L409.1 1179.7L410.2 1177.2L410.5 1176.6L411.6 1174.7L413.0 1172.7L413.4 1172.2L415.5 1169.7L418.0 1167.2L420.6 1164.9L423.1 1162.9L424.0 1162.2L425.6 1161.1L427.6 1159.7L428.1 1159.4L430.6 1157.9L431.8 1157.2L433.1 1156.5L435.6 1155.2L436.7 1154.7L438.1 1154.0L440.6 1153.0L442.5 1152.2L443.1 1151.9L445.6 1151.0L448.1 1150.2L449.6 1149.7L450.6 1149.4L453.1 1148.7L455.6 1148.0L458.1 1147.2L460.6 1146.6L463.1 1146.0L465.6 1145.4L468.1 1144.8L470.7 1144.2L473.2 1143.6L475.7 1142.9L478.2 1142.2L480.7 1141.6L483.2 1141.0L485.7 1140.2L487.6 1139.7L488.2 1139.5L490.7 1138.8L493.2 1138.1L495.7 1137.3L498.2 1136.5L500.7 1135.8L503.2 1135.0L504.3 1134.6L505.7 1134.2L508.2 1133.5L510.7 1132.8L512.6 1132.1L513.2 1132.0L515.7 1131.3L518.2 1130.6L520.8 1129.8L521.4 1129.6L523.3 1129.2L525.8 1128.5L528.3 1127.9L530.8 1127.2L528.3 1127.1L525.8 1127.1L523.3 1127.1L520.8 1127.1L518.2 1127.1L515.7 1127.1L513.2 1127.1L510.7 1127.1L508.2 1127.1L505.7 1127.1L503.2 1127.1L500.7 1127.1L498.2 1127.1L495.7 1127.1L493.2 1127.1L490.7 1127.1L488.2 1127.1L485.7 1127.1L483.2 1127.1L480.7 1127.1L478.2 1127.1L475.7 1127.1L474.6 1127.1L473.2 1127.4L470.7 1127.9L468.1 1128.4L465.6 1128.8L463.1 1129.4L461.7 1129.6L460.6 1129.8L458.1 1130.3L455.6 1130.7L453.1 1131.2L450.6 1131.8L449.0 1132.1L448.1 1132.3L445.6 1132.9L443.1 1133.5L440.6 1134.3L439.4 1134.6L438.1 1135.0L435.6 1135.8L433.1 1136.8L432.2 1137.1L430.6 1137.8L428.1 1138.8L426.4 1139.7L425.6 1140.0L423.1 1141.3L421.5 1142.2L420.6 1142.6L418.0 1144.1L417.1 1144.7L415.5 1145.6L413.2 1147.2L410.5 1148.9L409.5 1149.7L408.0 1150.7L406.1 1152.2L405.5 1152.6L403.0 1154.5L400.5 1156.5L399.7 1157.2L398.0 1158.5L396.7 1159.7L395.5 1160.7L393.8 1162.2L393.0 1162.8L393.0 1164.7L393.0 1167.2L393.0 1169.7L393.0 1172.2L393.0 1174.7L393.0 1177.2L393.0 1179.7L393.0 1182.2L393.0 1184.7L393.0 1187.2L393.0 1189.7L393.0 1192.2L393.0 1194.7L393.0 1197.2L393.0 1199.7L393.0 1202.2L393.0 1204.7L393.0 1207.2L393.0 1209.7L393.0 1212.2L393.0 1214.7L393.0 1217.2L393.0 1219.7L393.0 1220.5L394.0 1222.2L395.5 1224.6L397.0 1227.2L398.0 1228.8L398.6 1229.7L400.3 1232.2L402.2 1234.7L403.0 1235.7L404.3 1237.2L405.5 1238.5L406.7 1239.7L408.0 1241.1L409.2 1242.2L410.5 1243.4L412.1 1244.7L413.0 1245.5L415.3 1247.2L418.0 1249.2L419.0 1249.7L420.6 1250.8L423.1 1252.2L425.6 1253.5L428.1 1254.7L430.6 1255.8L433.1 1256.7L434.6 1257.2L435.6 1257.6L438.1 1258.4L440.6 1259.1L443.1 1259.6L443.7 1259.7L445.6 1260.2L448.1 1260.6L450.6 1261.0L453.1 1261.3L455.6 1261.6L458.1 1261.8L460.6 1262.0L463.1 1262.2L465.6 1262.4L468.1 1262.7L470.7 1262.9L473.2 1263.1L475.7 1263.4L478.2 1263.7L480.7 1264.0L483.2 1264.4L485.5 1264.8L488.2 1265.3L490.7 1265.8L493.2 1266.4L495.7 1266.9L497.2 1267.3L498.2 1267.5L500.7 1268.2L503.2 1268.8L505.7 1269.4L507.1 1269.8L508.2 1270.1L510.7 1270.7L513.2 1271.4L515.7 1272.0L516.9 1272.3L518.2 1272.6L520.8 1273.3L523.3 1273.9L525.8 1274.5L527.1 1274.8L528.3 1275.1ZM673.6 1277.3L676.1 1277.3L678.6 1277.3L681.1 1277.3L683.6 1277.3L686.1 1277.3L688.6 1277.3L691.1 1277.3L693.6 1277.3L696.1 1277.3L698.6 1277.3L701.1 1277.3L703.6 1277.3L706.1 1277.3L708.6 1277.3L711.1 1277.3L713.6 1277.3L716.1 1277.3L713.6 1275.1L713.2 1274.8L711.1 1273.6L708.8 1272.3L706.1 1271.0L703.6 1269.8L701.1 1268.8L698.6 1267.8L697.3 1267.3L696.1 1266.8L693.6 1265.9L691.1 1265.0L690.5 1264.8L688.6 1264.1L686.1 1263.3L683.6 1262.5L683.0 1262.2L681.1 1261.7L678.6 1260.9L676.1 1260.1L674.9 1259.7L673.6 1259.4L671.1 1258.6L668.5 1257.9L666.2 1257.2L663.5 1256.5L661.0 1255.8L658.5 1255.1L657.0 1254.7L656.0 1254.5L653.5 1253.8L651.0 1253.2L648.5 1252.5L647.3 1252.2L646.0 1251.9L643.5 1251.3L641.0 1250.7L638.5 1250.1L637.1 1249.7L636.0 1249.5L633.5 1248.9L631.0 1248.3L628.5 1247.7L626.5 1247.2L623.5 1246.5L621.0 1246.0L618.4 1245.4L615.9 1244.8L613.4 1244.3L610.9 1243.7L608.4 1243.2L605.9 1242.6L604.1 1242.2L603.4 1242.1L600.9 1241.5L598.4 1241.0L595.9 1240.4L593.4 1239.9L592.7 1239.7L590.9 1239.3L588.4 1238.8L585.9 1238.2L583.4 1237.7L581.4 1237.2L578.4 1236.6L575.9 1235.9L573.4 1235.3L571.2 1234.7L568.3 1233.9L565.8 1233.2L563.3 1232.5L562.3 1232.2L560.8 1231.8L558.3 1231.0L555.8 1230.3L554.2 1229.7L553.3 1229.5L550.8 1228.7L548.3 1227.8L546.7 1227.2L545.8 1226.9L543.3 1226.1L540.8 1225.1L539.8 1224.7L538.3 1224.2L535.8 1223.4L533.3 1222.7L531.7 1222.2L530.8 1222.0L528.3 1221.4L525.8 1220.7L523.3 1220.0L522.4 1219.7L520.8 1219.3L518.2 1218.7L515.7 1217.9L513.5 1217.2L510.7 1216.4L508.2 1215.6L505.8 1214.7L503.2 1213.7L500.7 1212.6L500.0 1212.2L498.2 1211.2L496.1 1209.7L493.6 1207.2L493.2 1206.5L492.2 1204.7L491.5 1202.2L491.5 1199.7L492.0 1197.2L493.2 1194.7L495.1 1192.2L495.7 1191.6L498.0 1189.7L500.7 1187.9L502.0 1187.2L503.2 1186.5L505.7 1185.3L507.1 1184.7L508.2 1184.2L510.7 1183.1L513.2 1182.2L515.7 1181.3L518.2 1180.4L520.7 1179.7L523.3 1178.9L525.8 1178.1L528.3 1177.3L530.8 1176.6L533.3 1175.8L535.8 1175.1L536.7 1174.7L538.3 1174.1L540.8 1173.1L543.0 1172.2L545.8 1171.0L548.3 1170.0L549.0 1169.7L550.8 1169.0L553.3 1167.9L555.0 1167.2L555.8 1166.8L558.3 1165.8L560.8 1164.7L563.3 1163.7L565.8 1162.6L566.9 1162.2L568.4 1161.6L570.9 1160.5L572.8 1159.7L573.4 1159.4L575.9 1158.4L578.4 1157.3L580.9 1156.3L583.4 1155.3L584.8 1154.7L585.9 1154.2L588.4 1153.2L590.7 1152.2L593.4 1151.0L595.9 1149.8L598.4 1148.7L600.9 1147.5L601.7 1147.2L603.4 1146.3L605.9 1145.1L606.8 1144.7L608.4 1143.8L610.9 1142.5L611.6 1142.2L613.4 1141.1L615.9 1139.7L618.4 1138.2L620.1 1137.1L621.0 1136.6L623.5 1134.9L626.0 1133.1L627.3 1132.1L628.5 1131.1L630.2 1129.6L631.0 1128.9L632.8 1127.1L631.0 1127.1L628.5 1127.1L626.0 1127.1L623.5 1127.1L621.0 1127.1L618.4 1127.1L615.9 1127.1L613.4 1127.1L610.9 1127.1L608.4 1127.1L605.9 1127.1L603.5 1127.1L602.7 1129.6L601.0 1132.1L598.4 1134.6L595.9 1136.6L595.3 1137.1L593.4 1138.3L591.5 1139.7L590.9 1140.0L588.4 1141.4L587.2 1142.2L585.9 1142.8L583.4 1144.1L582.4 1144.7L580.9 1145.3L578.4 1146.5L577.0 1147.2L575.9 1147.6L573.4 1148.7L571.2 1149.7L568.4 1150.7L565.8 1151.7L564.8 1152.2L563.3 1152.6L560.8 1153.5L558.3 1154.4L557.6 1154.7L555.8 1155.2L553.3 1156.0L550.8 1156.8L549.6 1157.2L548.3 1157.5L545.8 1158.2L543.3 1159.0L541.0 1159.7L538.3 1160.4L535.8 1161.1L533.3 1161.8L532.3 1162.2L530.8 1162.6L528.3 1163.3L525.8 1164.0L523.8 1164.7L523.3 1164.8L520.8 1165.6L518.2 1166.4L516.1 1167.2L513.2 1168.1L510.7 1169.1L509.3 1169.7L508.2 1170.1L505.7 1171.1L503.5 1172.2L500.7 1173.5L498.6 1174.7L495.7 1176.4L494.5 1177.2L493.2 1178.1L491.1 1179.7L490.7 1180.1L488.4 1182.2L486.3 1184.7L485.7 1185.6L484.8 1187.2L484.0 1189.7L483.7 1192.2L483.6 1194.7L483.8 1197.2L484.0 1199.7L484.4 1202.2L484.9 1204.7L485.5 1207.2L486.6 1209.7L488.2 1212.2L490.7 1214.5L493.2 1216.2L495.4 1217.2L498.2 1218.5L500.7 1219.3L502.1 1219.7L503.2 1220.1L505.7 1220.9L508.2 1221.6L510.7 1222.2L513.2 1223.0L515.7 1223.7L518.2 1224.4L519.2 1224.7L520.8 1225.3L523.3 1226.2L525.8 1227.0L526.5 1227.2L528.3 1227.9L530.8 1228.8L533.3 1229.7L535.8 1230.6L538.3 1231.5L540.2 1232.2L540.8 1232.4L543.3 1233.3L545.8 1234.0L548.1 1234.7L550.8 1235.5L553.3 1236.2L555.8 1236.8L557.4 1237.2L558.3 1237.4L560.8 1238.0L563.3 1238.6L565.8 1239.2L568.0 1239.7L570.9 1240.4L573.4 1241.0L575.9 1241.5L578.4 1242.1L579.0 1242.2L580.9 1242.6L583.4 1243.2L585.9 1243.7L588.4 1244.3L590.4 1244.7L593.4 1245.4L595.9 1246.0L598.4 1246.6L600.9 1247.1L603.4 1247.7L605.9 1248.3L608.4 1248.9L610.9 1249.5L611.8 1249.7L613.4 1250.1L615.9 1250.8L618.4 1251.4L621.0 1252.1L621.7 1252.2L623.5 1252.7L626.0 1253.4L628.5 1254.1L631.0 1254.7L633.5 1255.5L636.0 1256.2L638.5 1256.9L639.7 1257.2L641.0 1257.6L643.5 1258.4L646.0 1259.2L647.8 1259.7L648.5 1260.0L651.0 1260.8L653.5 1261.7L655.2 1262.2L656.0 1262.6L658.5 1263.5L661.0 1264.4L661.9 1264.8L663.5 1265.5L666.0 1266.6L667.5 1267.3L668.5 1267.9L671.1 1269.2L672.1 1269.8L673.6 1271.1L675.1 1272.3L675.9 1274.8L673.6 1276.7L672.7 1277.3L673.6 1277.3Z" fill="#f8f7f6" fill-rule="evenodd"/>
<path d="M395.5 1277.3L398.0 1277.3L400.5 1277.3L403.0 1277.3L405.5 1277.3L408.0 1277.3L410.5 1277.3L413.0 1277.3L415.5 1277.3L418.0 1277.3L420.6 1277.3L423.1 1277.3L425.6 1277.3L428.1 1277.3L430.6 1277.3L433.1 1277.3L435.6 1277.3L438.1 1277.3L440.6 1277.3L443.1 1277.3L445.6 1277.3L448.1 1277.3L450.6 1277.3L453.1 1277.3L455.6 1277.3L458.1 1277.3L460.6 1277.3L463.1 1277.3L465.6 1277.3L468.1 1277.3L470.7 1277.3L473.2 1277.3L475.7 1277.3L478.2 1277.3L480.7 1277.3L483.2 1277.3L485.7 1277.3L488.2 1277.3L490.7 1277.3L493.2 1277.3L495.7 1277.3L498.2 1277.3L500.7 1277.3L503.2 1277.3L505.7 1277.3L508.2 1277.3L510.7 1277.3L513.2 1277.3L515.7 1277.3L518.2 1277.3L520.8 1277.3L523.3 1277.3L525.8 1277.3L528.3 1277.3L530.8 1277.3L533.3 1277.3L535.8 1277.3L538.1 1277.3L535.8 1276.8L533.3 1276.3L530.8 1275.7L528.3 1275.1L527.1 1274.8L525.8 1274.5L523.3 1273.9L520.8 1273.3L518.2 1272.6L516.9 1272.3L515.7 1272.0L513.2 1271.4L510.7 1270.7L508.2 1270.1L507.1 1269.8L505.7 1269.4L503.2 1268.8L500.7 1268.2L498.2 1267.5L497.2 1267.3L495.7 1266.9L493.2 1266.4L490.7 1265.8L488.2 1265.3L485.7 1264.8L483.2 1264.4L480.7 1264.0L478.2 1263.7L475.7 1263.4L473.2 1263.1L470.7 1262.9L468.1 1262.7L465.6 1262.4L463.3 1262.2L460.6 1262.0L458.1 1261.8L455.6 1261.6L453.1 1261.3L450.6 1261.0L448.1 1260.6L445.6 1260.2L443.7 1259.7L443.1 1259.6L440.6 1259.1L438.1 1258.4L435.6 1257.6L434.6 1257.2L433.1 1256.7L430.6 1255.8L428.2 1254.7L425.6 1253.5L423.2 1252.2L420.6 1250.8L419.0 1249.7L418.0 1249.2L415.5 1247.4L413.0 1245.5L412.1 1244.7L410.5 1243.4L409.2 1242.2L408.0 1241.1L406.7 1239.7L405.5 1238.5L404.3 1237.2L403.0 1235.7L402.2 1234.7L400.5 1232.4L398.6 1229.7L398.0 1228.8L397.0 1227.2L395.6 1224.7L394.0 1222.2L393.0 1220.5L393.0 1222.2L393.0 1224.7L393.0 1227.2L393.0 1229.7L393.0 1232.2L393.0 1234.7L393.0 1237.2L393.0 1239.7L393.0 1242.2L393.0 1244.7L393.0 1247.2L393.0 1249.7L393.0 1252.2L393.0 1254.7L393.0 1257.2L393.0 1259.7L393.0 1262.2L393.0 1264.8L393.0 1267.3L393.0 1269.8L393.0 1272.3L393.0 1274.8L393.0 1277.3L395.5 1277.3ZM713.6 1275.1L716.1 1276.9L716.6 1277.3L718.6 1277.3L721.2 1277.3L723.7 1277.3L726.2 1277.3L728.7 1277.3L731.2 1277.3L733.7 1277.3L736.2 1277.3L738.7 1277.3L741.2 1277.3L743.7 1277.3L746.2 1277.3L748.7 1277.3L751.2 1277.3L753.5 1277.3L751.2 1276.1L748.7 1274.8L746.2 1273.7L743.7 1272.5L743.1 1272.3L741.2 1271.5L738.7 1270.5L736.9 1269.8L736.2 1269.5L733.7 1268.5L731.2 1267.6L730.2 1267.3L728.7 1266.7L726.2 1265.9L723.7 1265.0L722.9 1264.8L721.2 1264.2L718.6 1263.4L716.1 1262.6L715.0 1262.2L713.6 1261.8L711.1 1261.1L708.6 1260.4L706.5 1259.7L703.6 1258.9L701.1 1258.2L698.6 1257.5L697.6 1257.2L696.1 1256.9L693.6 1256.2L691.1 1255.5L688.6 1254.9L688.0 1254.7L686.1 1254.3L683.6 1253.6L681.1 1253.0L678.6 1252.4L677.9 1252.2L676.1 1251.8L673.6 1251.2L671.1 1250.6L668.5 1250.0L667.3 1249.7L666.0 1249.4L663.5 1248.9L661.0 1248.3L658.5 1247.7L656.2 1247.2L653.5 1246.6L651.0 1246.1L648.5 1245.6L646.0 1245.0L644.6 1244.7L643.5 1244.5L641.0 1244.0L638.5 1243.5L636.0 1242.9L633.5 1242.4L632.5 1242.2L631.0 1241.9L628.5 1241.4L626.0 1240.9L623.5 1240.4L621.0 1239.9L620.0 1239.7L618.4 1239.4L615.9 1238.9L613.4 1238.4L610.9 1237.9L608.4 1237.4L607.4 1237.2L605.9 1236.9L603.4 1236.4L600.9 1235.9L598.4 1235.4L595.9 1234.9L595.1 1234.7L593.4 1234.4L590.9 1233.9L588.4 1233.3L585.9 1232.8L583.4 1232.3L580.9 1231.7L578.4 1231.2L575.9 1230.6L573.4 1229.9L570.9 1229.2L568.4 1228.5L565.8 1227.8L564.1 1227.2L563.3 1227.0L560.8 1226.3L558.3 1225.6L555.8 1224.8L553.3 1224.1L550.8 1223.4L548.3 1222.6L547.1 1222.2L545.8 1221.9L543.3 1221.2L540.8 1220.4L538.7 1219.7L535.8 1218.9L533.3 1218.5L530.8 1218.0L528.3 1217.4L527.3 1217.2L525.8 1216.9L523.3 1216.3L520.8 1215.7L518.2 1215.0L517.2 1214.7L515.7 1214.3L513.2 1213.5L510.7 1212.7L509.6 1212.2L508.2 1211.6L505.7 1210.5L504.3 1209.7L503.2 1209.0L500.9 1207.2L498.9 1204.7L498.2 1202.2L498.5 1199.7L500.0 1197.2L500.7 1196.4L502.8 1194.7L503.2 1194.4L505.7 1193.0L507.5 1192.2L508.2 1191.9L510.7 1190.9L513.2 1190.2L515.3 1189.7L518.2 1188.9L520.8 1188.4L523.3 1188.0L525.8 1187.6L528.3 1187.3L530.8 1186.9L533.3 1186.5L535.8 1186.1L538.3 1185.4L540.7 1184.7L543.3 1183.7L545.8 1182.8L547.6 1182.2L548.3 1181.9L550.8 1180.9L553.3 1179.9L553.9 1179.7L555.8 1178.8L558.3 1177.7L559.6 1177.2L560.8 1176.6L563.3 1175.4L564.9 1174.7L565.8 1174.2L568.4 1173.0L570.1 1172.2L570.9 1171.8L573.4 1170.6L575.4 1169.7L575.9 1169.4L578.4 1168.3L580.9 1167.2L583.4 1166.2L585.9 1165.2L587.1 1164.7L588.4 1164.1L590.9 1163.1L593.2 1162.2L595.9 1161.0L598.4 1160.0L599.2 1159.7L600.9 1159.0L603.4 1157.9L605.2 1157.2L605.9 1156.9L608.4 1155.8L610.9 1154.7L613.4 1153.7L615.9 1152.6L616.9 1152.2L618.4 1151.5L621.0 1150.4L622.6 1149.7L623.5 1149.3L626.0 1148.2L628.1 1147.2L631.0 1145.9L633.5 1144.7L636.0 1143.5L638.5 1142.3L641.0 1141.1L643.5 1139.8L646.0 1138.6L648.5 1137.3L651.0 1136.0L653.5 1134.7L656.0 1133.4L658.4 1132.1L661.0 1130.7L663.0 1129.6L663.5 1129.3L666.0 1128.0L667.6 1127.1L666.0 1127.1L663.5 1127.1L661.0 1127.1L658.5 1127.1L656.0 1127.1L653.5 1127.1L651.0 1127.1L648.5 1127.1L646.0 1127.1L643.5 1127.1L641.0 1127.1L638.5 1127.1L636.0 1127.1L633.5 1127.1L631.0 1128.9L630.2 1129.6L628.5 1131.1L627.3 1132.1L626.0 1133.1L623.9 1134.6L621.0 1136.6L620.1 1137.1L618.4 1138.2L616.0 1139.7L613.4 1141.1L611.6 1142.2L610.9 1142.5L608.4 1143.8L606.8 1144.7L605.9 1145.1L603.4 1146.3L601.7 1147.2L600.9 1147.5L598.4 1148.7L596.3 1149.7L593.4 1151.0L590.9 1152.1L588.4 1153.2L585.9 1154.2L584.8 1154.7L583.4 1155.3L580.9 1156.3L578.8 1157.2L575.9 1158.4L573.4 1159.4L572.8 1159.7L570.9 1160.5L568.4 1161.6L566.9 1162.2L565.8 1162.6L563.3 1163.7L561.0 1164.7L558.3 1165.8L555.8 1166.8L555.0 1167.2L553.3 1167.9L550.8 1169.0L549.0 1169.7L548.3 1170.0L545.8 1171.0L543.3 1172.1L540.8 1173.1L538.3 1174.1L536.7 1174.7L535.8 1175.1L533.3 1175.8L530.8 1176.6L528.8 1177.2L525.8 1178.1L523.3 1178.9L520.8 1179.7L518.2 1180.4L515.7 1181.3L513.4 1182.2L510.7 1183.1L508.2 1184.2L507.1 1184.7L505.7 1185.3L503.2 1186.5L502.0 1187.2L500.7 1187.9L498.2 1189.5L495.7 1191.6L495.1 1192.2L493.2 1194.6L492.0 1197.2L491.5 1199.7L491.5 1202.2L492.2 1204.7L493.2 1206.5L493.6 1207.2L495.7 1209.4L498.2 1211.2L500.0 1212.2L500.7 1212.6L503.2 1213.7L505.7 1214.7L508.2 1215.6L510.7 1216.4L513.2 1217.1L515.7 1217.9L518.2 1218.7L520.8 1219.3L522.4 1219.7L523.3 1220.0L525.8 1220.7L528.3 1221.4L530.8 1222.0L531.7 1222.2L533.3 1222.7L535.8 1223.4L538.3 1224.2L539.8 1224.7L540.8 1225.1L543.3 1226.1L545.8 1226.9L546.7 1227.2L548.3 1227.8L550.8 1228.7L553.3 1229.5L554.2 1229.7L555.8 1230.3L558.3 1231.0L560.8 1231.8L562.3 1232.2L563.3 1232.5L565.8 1233.2L568.4 1233.9L570.9 1234.6L573.4 1235.3L575.9 1235.9L578.4 1236.6L580.9 1237.1L583.4 1237.7L585.9 1238.2L588.4 1238.8L590.9 1239.3L592.7 1239.7L593.4 1239.9L595.9 1240.4L598.4 1241.0L600.9 1241.5L603.4 1242.1L604.1 1242.2L605.9 1242.6L608.4 1243.2L610.9 1243.7L613.4 1244.3L615.4 1244.7L618.4 1245.4L621.0 1246.0L623.5 1246.5L626.0 1247.1L628.5 1247.7L631.0 1248.3L633.5 1248.9L636.0 1249.5L637.1 1249.7L638.5 1250.1L641.0 1250.7L643.5 1251.3L646.0 1251.9L647.3 1252.2L648.5 1252.5L651.0 1253.2L653.5 1253.8L656.0 1254.5L657.0 1254.7L658.5 1255.1L661.0 1255.8L663.5 1256.5L666.0 1257.2L668.5 1257.9L671.1 1258.6L673.6 1259.4L674.9 1259.7L676.1 1260.1L678.6 1260.9L681.1 1261.7L683.0 1262.2L683.6 1262.5L686.1 1263.3L688.6 1264.1L690.5 1264.8L691.1 1265.0L693.6 1265.9L696.1 1266.8L697.3 1267.3L698.6 1267.8L701.1 1268.8L703.5 1269.8L706.1 1271.0L708.6 1272.2L711.1 1273.6L713.2 1274.8L713.6 1275.1ZM393.8 1162.2L395.5 1160.7L396.7 1159.7L398.0 1158.5L399.7 1157.2L400.5 1156.5L402.9 1154.7L405.5 1152.6L406.1 1152.2L408.0 1150.7L409.5 1149.7L410.5 1148.9L413.0 1147.2L415.5 1145.6L417.1 1144.7L418.0 1144.1L420.6 1142.6L421.5 1142.2L423.1 1141.3L425.6 1140.0L426.4 1139.7L428.1 1138.8L430.6 1137.8L432.2 1137.1L433.1 1136.8L435.6 1135.8L438.1 1135.0L439.4 1134.6L440.6 1134.3L443.1 1133.5L445.6 1132.9L448.1 1132.3L449.0 1132.1L450.6 1131.8L453.1 1131.2L455.6 1130.7L458.1 1130.3L460.6 1129.8L461.7 1129.6L463.1 1129.4L465.6 1128.8L468.1 1128.4L470.7 1127.9L473.2 1127.4L474.6 1127.1L473.2 1127.1L470.7 1127.1L468.1 1127.1L465.6 1127.1L463.1 1127.1L460.6 1127.1L458.1 1127.1L455.6 1127.1L453.1 1127.1L450.6 1127.1L448.1 1127.1L445.6 1127.1L443.1 1127.1L440.6 1127.1L438.1 1127.1L435.6 1127.1L433.1 1127.1L430.6 1127.1L428.1 1127.1L425.6 1127.1L423.1 1127.1L420.6 1127.1L418.0 1127.1L415.5 1127.1L413.0 1127.1L410.5 1127.1L408.0 1127.1L405.5 1127.1L403.0 1127.1L400.5 1127.1L398.0 1127.1L395.5 1127.1L393.0 1127.1L393.0 1129.6L393.0 1132.1L393.0 1134.6L393.0 1137.1L393.0 1139.7L393.0 1142.2L393.0 1144.7L393.0 1147.2L393.0 1149.7L393.0 1152.2L393.0 1154.7L393.0 1157.2L393.0 1159.7L393.0 1162.2L393.8 1162.2Z" fill="#f8f7f6" fill-rule="evenodd"/>
<path d="M748.7 1274.8L751.2 1276.1L753.5 1277.3L756.2 1277.3L758.7 1277.3L761.2 1277.3L763.7 1277.3L766.2 1277.3L768.8 1277.3L771.3 1277.3L773.8 1277.3L776.3 1277.3L778.8 1277.3L781.3 1277.3L783.8 1277.3L786.3 1277.3L787.5 1277.3L786.3 1276.3L784.4 1274.8L783.8 1274.3L781.3 1272.4L778.8 1270.7L777.3 1269.8L776.3 1269.1L773.8 1267.9L772.2 1267.3L771.3 1266.9L768.8 1266.1L766.2 1265.4L764.1 1264.8L761.2 1263.9L758.7 1263.2L756.2 1262.5L755.5 1262.2L753.7 1261.7L751.2 1261.0L748.7 1260.4L746.4 1259.7L743.7 1259.0L741.2 1258.3L738.7 1257.7L736.9 1257.2L736.2 1257.0L733.7 1256.4L731.2 1255.8L728.7 1255.1L727.1 1254.7L726.2 1254.5L723.7 1253.9L721.2 1253.3L718.6 1252.7L716.7 1252.2L713.6 1251.5L711.1 1250.9L708.6 1250.3L706.1 1249.8L703.6 1249.2L701.1 1248.6L698.6 1248.1L696.1 1247.6L694.6 1247.2L693.6 1247.0L691.1 1246.5L688.6 1245.9L686.1 1245.4L683.6 1244.9L682.6 1244.7L681.1 1244.4L678.6 1243.9L676.1 1243.4L673.6 1242.9L671.1 1242.4L670.1 1242.2L668.5 1241.9L666.0 1241.5L663.5 1241.0L661.0 1240.5L658.5 1240.1L656.6 1239.7L656.0 1239.6L653.5 1239.2L651.0 1238.7L648.5 1238.3L646.0 1237.9L643.5 1237.5L642.1 1237.2L641.0 1237.0L638.5 1236.6L636.0 1236.2L633.5 1235.8L631.0 1235.4L628.5 1235.1L626.4 1234.7L623.5 1234.3L621.0 1233.9L618.4 1233.5L615.9 1233.1L613.4 1232.7L610.9 1232.3L608.4 1231.9L605.9 1231.5L603.4 1231.0L600.9 1230.6L598.4 1230.2L595.9 1229.7L593.4 1229.3L590.9 1228.9L588.4 1228.4L585.9 1228.0L583.4 1227.5L581.8 1227.2L580.9 1227.1L578.4 1226.6L575.9 1226.1L573.4 1225.5L570.9 1224.8L568.4 1224.2L565.8 1223.6L563.3 1222.9L560.8 1222.2L558.3 1221.6L555.8 1221.0L553.3 1220.4L550.9 1219.7L548.3 1219.1L545.8 1218.5L543.3 1217.8L541.1 1217.2L538.3 1216.5L535.8 1215.9L533.3 1215.4L530.8 1215.0L529.5 1214.7L528.3 1214.5L525.8 1213.9L523.3 1213.4L520.8 1212.7L519.0 1212.2L518.2 1212.0L515.7 1211.1L513.2 1210.2L512.2 1209.7L510.7 1208.9L508.2 1207.4L505.7 1204.9L505.0 1202.2L505.7 1200.2L508.2 1197.6L508.8 1197.2L510.7 1196.1L513.2 1195.1L514.3 1194.7L515.7 1194.2L518.2 1193.5L520.8 1192.9L523.3 1192.4L524.4 1192.2L525.8 1191.9L528.3 1191.5L530.8 1191.1L533.3 1190.7L535.8 1190.4L538.3 1189.8L540.8 1189.0L543.3 1188.3L545.8 1187.7L547.7 1187.2L548.3 1187.0L550.8 1186.2L553.3 1185.5L555.8 1184.8L558.3 1184.0L560.8 1183.2L563.3 1182.5L564.3 1182.2L565.8 1181.6L568.4 1180.8L570.9 1180.0L571.8 1179.7L573.4 1179.1L575.9 1178.3L578.4 1177.5L579.8 1177.2L580.9 1176.9L583.4 1176.2L585.9 1175.5L588.4 1174.9L589.3 1174.7L590.9 1174.2L593.4 1173.5L595.9 1172.9L598.4 1172.2L600.9 1171.5L603.4 1170.8L605.9 1170.1L607.7 1169.7L608.4 1169.5L610.9 1168.7L613.4 1168.0L615.9 1167.4L616.7 1167.2L618.4 1166.6L621.0 1165.9L623.5 1165.2L625.4 1164.7L626.0 1164.5L628.5 1163.8L631.0 1163.0L633.5 1162.3L636.0 1161.5L638.5 1160.8L641.0 1160.0L642.2 1159.7L643.5 1159.3L646.0 1158.5L648.5 1157.7L650.4 1157.2L651.0 1157.0L653.5 1156.2L656.0 1155.4L658.4 1154.7L661.0 1153.8L663.5 1153.1L666.0 1152.3L668.5 1151.5L671.1 1150.7L673.6 1149.9L674.5 1149.7L676.1 1149.2L678.6 1148.4L681.1 1147.6L682.5 1147.2L683.6 1146.8L686.1 1146.0L688.6 1145.2L690.4 1144.7L691.1 1144.4L693.6 1143.6L696.1 1142.5L696.5 1142.2L698.6 1140.7L699.4 1139.7L701.1 1137.8L701.5 1137.1L703.5 1134.6L705.3 1132.1L706.1 1131.4L707.6 1129.6L708.6 1128.7L710.5 1127.1L708.6 1127.1L706.1 1127.1L703.6 1127.1L701.1 1127.1L698.6 1127.1L696.1 1127.1L693.6 1127.1L691.1 1127.1L688.6 1127.1L686.1 1127.1L683.6 1127.1L681.1 1127.1L678.6 1127.1L676.1 1127.1L673.6 1127.1L671.1 1127.1L668.5 1127.1L667.6 1127.1L666.0 1128.0L663.5 1129.3L663.0 1129.6L661.0 1130.7L658.5 1132.1L656.0 1133.4L653.7 1134.6L651.0 1136.0L648.8 1137.1L646.0 1138.6L643.9 1139.7L641.0 1141.1L638.8 1142.2L636.0 1143.5L633.5 1144.7L631.0 1145.9L628.5 1147.0L626.0 1148.2L623.5 1149.3L622.6 1149.7L621.0 1150.4L618.4 1151.5L616.9 1152.2L615.9 1152.6L613.4 1153.7L611.1 1154.7L608.4 1155.8L605.9 1156.9L605.2 1157.2L603.4 1157.9L600.9 1159.0L599.2 1159.7L598.4 1160.0L595.9 1161.0L593.4 1162.1L590.9 1163.1L588.4 1164.1L587.1 1164.7L585.9 1165.2L583.4 1166.2L581.1 1167.2L578.4 1168.3L575.9 1169.4L575.4 1169.7L573.4 1170.6L570.9 1171.8L570.1 1172.2L568.4 1173.0L565.8 1174.2L564.9 1174.7L563.3 1175.4L560.8 1176.6L559.6 1177.2L558.3 1177.7L555.8 1178.8L553.9 1179.7L553.3 1179.9L550.8 1180.9L548.3 1181.9L547.6 1182.2L545.8 1182.8L543.3 1183.7L540.8 1184.6L538.3 1185.4L535.8 1186.1L533.3 1186.5L530.8 1186.9L528.8 1187.2L525.8 1187.6L523.3 1188.0L520.8 1188.4L518.2 1188.9L515.7 1189.6L513.2 1190.2L510.7 1190.9L508.2 1191.9L507.5 1192.2L505.7 1193.0L503.2 1194.4L502.8 1194.7L500.7 1196.4L500.0 1197.2L498.5 1199.7L498.2 1202.2L498.9 1204.7L500.7 1207.0L503.2 1209.0L504.3 1209.7L505.7 1210.5L508.2 1211.6L509.6 1212.2L510.7 1212.7L513.2 1213.5L515.7 1214.3L517.2 1214.7L518.2 1215.0L520.8 1215.7L523.3 1216.3L525.8 1216.9L527.3 1217.2L528.3 1217.4L530.8 1218.0L533.3 1218.5L535.8 1218.9L538.3 1219.6L540.8 1220.4L543.3 1221.2L545.8 1221.9L547.1 1222.2L548.3 1222.6L550.8 1223.4L553.3 1224.1L555.6 1224.7L558.3 1225.6L560.8 1226.3L563.3 1227.0L564.1 1227.2L565.8 1227.8L568.4 1228.5L570.9 1229.2L572.8 1229.7L575.9 1230.6L578.4 1231.2L580.9 1231.7L583.2 1232.2L585.9 1232.8L588.4 1233.3L590.9 1233.9L593.4 1234.4L595.1 1234.7L595.9 1234.9L598.4 1235.4L600.9 1235.9L603.4 1236.4L605.9 1236.9L607.4 1237.2L608.4 1237.4L610.9 1237.9L613.4 1238.4L615.9 1238.9L618.4 1239.4L620.0 1239.7L621.0 1239.9L623.5 1240.4L626.0 1240.9L628.5 1241.4L631.0 1241.9L632.5 1242.2L633.5 1242.4L636.0 1242.9L638.5 1243.5L641.0 1244.0L643.5 1244.5L644.6 1244.7L646.0 1245.0L648.5 1245.6L651.0 1246.1L653.5 1246.6L656.0 1247.2L658.5 1247.7L661.0 1248.3L663.5 1248.9L666.0 1249.4L667.3 1249.7L668.5 1250.0L671.1 1250.6L673.6 1251.2L676.1 1251.8L677.9 1252.2L678.6 1252.4L681.1 1253.0L683.6 1253.6L686.1 1254.3L688.0 1254.7L688.6 1254.9L691.1 1255.5L693.6 1256.2L696.1 1256.9L697.6 1257.2L698.6 1257.5L701.1 1258.2L703.6 1258.9L706.1 1259.6L708.6 1260.4L711.1 1261.1L713.6 1261.8L715.0 1262.2L716.1 1262.6L718.6 1263.4L721.2 1264.2L722.9 1264.8L723.7 1265.0L726.2 1265.9L728.7 1266.7L730.2 1267.3L731.2 1267.6L733.7 1268.5L736.2 1269.5L736.9 1269.8L738.7 1270.5L741.2 1271.5L743.1 1272.3L743.7 1272.5L746.2 1273.7L748.6 1274.8ZM733.7 1130.5L736.2 1130.3L738.5 1129.6L741.2 1128.8L743.7 1128.1L746.2 1127.3L743.7 1127.1L741.2 1127.1L738.7 1127.1L736.2 1127.1L733.7 1127.1L731.2 1127.1L728.7 1127.1L731.2 1129.6L733.7 1130.5Z" fill="#fae7dc" fill-rule="evenodd"/>
<path d="M786.3 1276.3L787.5 1277.3L788.8 1277.3L791.3 1277.3L793.8 1277.3L796.3 1277.3L798.8 1277.3L801.3 1277.3L803.8 1277.3L806.3 1277.3L808.8 1277.3L811.3 1277.3L813.8 1277.3L816.3 1277.3L818.8 1277.3L821.4 1277.3L823.9 1277.3L823.9 1274.8L823.9 1272.3L823.9 1269.8L823.9 1267.3L823.9 1264.8L823.9 1262.7L821.4 1262.3L818.8 1261.8L816.3 1261.5L813.8 1261.2L811.3 1261.1L808.8 1261.3L806.3 1261.8L804.4 1262.2L803.8 1262.4L801.3 1262.9L798.8 1263.1L796.3 1263.0L793.8 1262.4L791.3 1261.2L789.3 1259.7L788.8 1259.4L786.5 1257.2L784.1 1254.7L783.8 1254.3L781.9 1252.2L781.3 1251.4L779.6 1249.7L778.8 1248.7L777.0 1247.2L776.3 1246.6L773.8 1245.2L772.4 1244.7L771.3 1244.4L768.8 1243.1L768.4 1242.2L767.5 1239.7L766.4 1237.2L765.2 1234.7L763.7 1233.1L761.7 1232.2L760.8 1232.2L758.7 1233.1L757.2 1234.7L756.2 1236.7L755.8 1237.2L754.3 1239.7L753.7 1241.0L751.2 1241.6L748.7 1241.4L746.2 1241.1L743.7 1240.8L741.2 1240.5L738.7 1240.2L736.2 1239.8L735.3 1239.7L733.7 1239.5L731.2 1239.3L728.7 1239.0L726.2 1238.7L723.7 1238.4L721.2 1238.1L718.6 1237.8L716.1 1237.5L713.6 1237.2L711.1 1237.0L708.6 1236.7L706.1 1236.5L703.6 1236.2L701.1 1235.9L698.6 1235.7L696.1 1235.4L693.6 1235.2L691.1 1234.9L689.4 1234.7L688.6 1234.7L686.1 1234.4L683.6 1234.2L681.1 1234.0L678.6 1233.7L676.1 1233.5L673.6 1233.3L671.1 1233.0L668.5 1232.8L666.0 1232.5L663.5 1232.3L662.7 1232.2L661.0 1232.1L658.5 1231.9L656.0 1231.7L653.5 1231.4L651.0 1231.2L648.5 1231.0L646.0 1230.8L643.5 1230.6L641.0 1230.3L638.5 1230.1L636.0 1229.9L634.1 1229.7L633.5 1229.7L631.0 1229.5L628.5 1229.3L626.0 1229.0L623.5 1228.8L621.0 1228.5L618.4 1228.3L615.9 1228.0L613.4 1227.7L610.9 1227.4L609.6 1227.2L608.4 1227.1L605.9 1226.8L603.4 1226.5L600.9 1226.2L598.4 1225.9L595.9 1225.5L593.4 1225.2L590.9 1224.8L590.3 1224.7L588.4 1224.5L585.9 1224.1L583.4 1223.8L580.9 1223.5L578.4 1223.1L575.9 1222.6L574.2 1222.2L573.4 1222.1L570.9 1221.6L568.4 1221.0L565.8 1220.4L563.3 1219.8L560.8 1219.3L558.3 1218.7L555.8 1218.1L553.3 1217.5L552.1 1217.2L550.8 1216.9L548.3 1216.4L545.8 1215.8L543.3 1215.2L541.5 1214.7L540.8 1214.6L538.3 1213.9L535.8 1213.3L533.3 1212.9L530.8 1212.4L530.1 1212.2L528.3 1211.8L525.8 1211.2L523.3 1210.5L520.8 1209.7L518.2 1208.6L515.7 1207.4L513.2 1205.2L512.7 1204.7L512.3 1202.2L513.2 1200.9L514.2 1199.7L515.7 1198.8L518.2 1197.5L519.0 1197.2L520.8 1196.6L523.3 1195.9L525.8 1195.3L528.3 1194.7L530.8 1194.2L533.3 1193.7L535.8 1193.3L538.3 1192.7L540.5 1192.2L543.3 1191.5L545.8 1190.8L548.3 1190.2L550.7 1189.7L553.3 1189.0L555.8 1188.4L558.3 1187.8L560.7 1187.2L563.3 1186.5L565.8 1185.8L568.4 1185.2L570.4 1184.7L573.4 1183.9L575.9 1183.3L578.4 1182.8L580.9 1182.4L582.3 1182.2L583.4 1182.0L585.9 1181.5L588.4 1181.1L590.9 1180.7L593.4 1180.3L595.9 1180.0L598.1 1179.7L600.9 1179.2L603.4 1178.8L605.9 1178.4L608.4 1178.1L610.9 1177.8L613.4 1177.4L615.7 1177.2L618.4 1176.8L621.0 1176.5L623.5 1176.2L626.0 1175.9L628.5 1175.6L631.0 1175.4L633.5 1175.1L636.0 1174.9L638.5 1174.7L641.0 1174.4L643.5 1174.1L646.0 1173.9L648.5 1173.6L651.0 1173.3L653.5 1173.1L656.0 1172.8L658.5 1172.6L661.0 1172.4L663.0 1172.2L666.0 1171.8L668.5 1171.5L671.1 1171.3L673.6 1171.0L676.1 1170.7L678.6 1170.5L681.1 1170.3L683.6 1170.1L686.1 1170.0L688.6 1169.9L691.1 1170.0L693.6 1170.2L696.1 1170.5L698.6 1170.9L701.1 1171.3L703.6 1171.7L706.1 1172.1L706.9 1172.2L708.6 1172.4L711.1 1172.6L713.6 1172.7L716.1 1172.8L718.6 1172.8L721.2 1172.7L723.7 1172.5L726.2 1172.2L728.7 1171.8L731.2 1171.2L733.7 1170.6L736.2 1169.7L738.7 1168.6L741.2 1167.3L743.7 1165.5L745.0 1164.7L746.2 1163.6L748.7 1162.2L751.2 1161.1L753.7 1160.4L756.2 1159.8L756.8 1159.7L758.7 1159.3L761.2 1158.8L763.7 1158.4L766.2 1158.0L768.8 1157.5L770.9 1157.2L773.8 1157.0L774.7 1157.2L776.3 1157.4L778.8 1158.3L781.3 1159.4L781.8 1159.7L783.8 1160.7L786.3 1162.0L788.8 1163.4L791.3 1164.4L793.0 1164.7L793.8 1164.9L795.4 1164.7L796.3 1164.6L798.8 1164.0L801.3 1163.4L803.8 1162.9L806.3 1162.4L807.7 1162.2L808.8 1162.0L811.3 1161.5L813.8 1161.1L816.3 1160.7L818.8 1160.2L821.4 1159.8L822.1 1159.7L823.9 1159.4L823.9 1157.2L823.9 1154.7L823.9 1152.2L823.9 1149.7L823.9 1147.2L823.9 1144.7L823.9 1142.2L823.9 1139.7L823.9 1137.1L823.9 1134.6L823.9 1132.1L823.9 1129.6L823.9 1127.1L821.4 1127.1L818.8 1127.1L816.3 1127.1L813.8 1127.1L811.3 1127.1L808.8 1127.1L806.3 1127.1L803.8 1127.1L801.3 1127.1L798.8 1127.1L796.3 1127.1L793.8 1127.1L791.3 1127.1L788.8 1127.1L786.3 1127.1L783.8 1127.1L781.3 1127.1L778.8 1127.1L776.3 1127.1L773.8 1127.1L771.3 1127.1L768.8 1127.1L766.2 1127.1L763.7 1127.1L761.2 1127.1L758.7 1127.1L756.2 1127.1L753.7 1127.1L751.2 1127.1L748.7 1127.1L746.7 1127.1L743.7 1128.1L741.2 1128.8L738.7 1129.6L736.2 1130.3L733.7 1130.5L731.4 1129.6L728.7 1127.1L726.2 1127.1L723.7 1127.1L721.2 1127.1L718.6 1127.1L716.1 1127.1L713.6 1127.1L711.1 1127.1L708.6 1128.7L707.6 1129.6L706.1 1131.4L705.3 1132.1L703.6 1134.5L701.5 1137.1L701.1 1137.8L699.4 1139.7L698.6 1140.7L696.5 1142.2L696.1 1142.5L693.6 1143.6L691.1 1144.4L690.4 1144.7L688.6 1145.2L686.1 1146.0L683.6 1146.8L682.5 1147.2L681.1 1147.6L678.6 1148.4L676.1 1149.2L674.5 1149.7L673.6 1149.9L671.1 1150.7L668.5 1151.5L666.4 1152.2L663.5 1153.1L661.0 1153.8L658.5 1154.6L656.0 1155.4L653.5 1156.2L651.0 1157.0L650.4 1157.2L648.5 1157.7L646.0 1158.5L643.5 1159.3L642.2 1159.7L641.0 1160.0L638.5 1160.8L636.0 1161.5L633.9 1162.2L631.0 1163.0L628.5 1163.8L626.0 1164.5L625.4 1164.7L623.5 1165.2L621.0 1165.9L618.4 1166.6L616.7 1167.2L615.9 1167.4L613.4 1168.0L610.9 1168.7L608.4 1169.5L607.7 1169.7L605.9 1170.1L603.4 1170.8L600.9 1171.5L598.6 1172.2L595.9 1172.9L593.4 1173.5L590.9 1174.2L589.3 1174.7L588.4 1174.9L585.9 1175.5L583.4 1176.2L580.9 1176.9L579.8 1177.2L578.4 1177.5L575.9 1178.3L573.4 1179.1L571.8 1179.7L570.9 1180.0L568.4 1180.8L565.8 1181.6L564.3 1182.2L563.3 1182.5L560.8 1183.2L558.3 1184.0L556.4 1184.7L553.3 1185.5L550.8 1186.2L548.3 1187.0L547.7 1187.2L545.8 1187.7L543.3 1188.3L540.8 1189.0L538.5 1189.7L535.8 1190.4L533.3 1190.7L530.8 1191.1L528.3 1191.5L525.8 1191.9L524.4 1192.2L523.3 1192.4L520.8 1192.9L518.2 1193.5L515.7 1194.2L514.3 1194.7L513.2 1195.1L510.7 1196.1L508.8 1197.2L508.2 1197.6L505.9 1199.7L505.0 1202.2L505.6 1204.7L507.9 1207.2L510.7 1208.9L512.2 1209.7L513.2 1210.2L515.7 1211.1L518.2 1212.0L519.0 1212.2L520.8 1212.7L523.3 1213.4L525.8 1213.9L528.3 1214.5L529.5 1214.7L530.8 1215.0L533.3 1215.4L535.8 1215.9L538.3 1216.5L540.8 1217.1L543.3 1217.8L545.8 1218.5L548.3 1219.1L550.8 1219.7L553.3 1220.4L555.8 1221.0L558.3 1221.6L560.7 1222.2L563.3 1222.9L565.8 1223.6L568.4 1224.2L570.4 1224.7L573.4 1225.5L575.9 1226.1L578.4 1226.6L580.9 1227.1L581.8 1227.2L583.4 1227.5L585.9 1228.0L588.4 1228.4L590.9 1228.9L593.4 1229.3L595.9 1229.7L598.4 1230.2L600.9 1230.6L603.4 1231.0L605.9 1231.5L608.4 1231.9L610.7 1232.2L613.4 1232.7L615.9 1233.1L618.4 1233.5L621.0 1233.9L623.5 1234.3L626.0 1234.7L628.5 1235.1L631.0 1235.4L633.5 1235.8L636.0 1236.2L638.5 1236.6L641.0 1237.0L642.1 1237.2L643.5 1237.5L646.0 1237.9L648.5 1238.3L651.0 1238.7L653.5 1239.2L656.0 1239.6L656.6 1239.7L658.5 1240.1L661.0 1240.5L663.5 1241.0L666.0 1241.5L668.5 1241.9L670.1 1242.2L671.1 1242.4L673.6 1242.9L676.1 1243.4L678.6 1243.9L681.1 1244.4L682.6 1244.7L683.6 1244.9L686.1 1245.4L688.6 1245.9L691.1 1246.5L693.6 1247.0L694.6 1247.2L696.1 1247.6L698.6 1248.1L701.1 1248.6L703.6 1249.2L705.9 1249.7L708.6 1250.3L711.1 1250.9L713.6 1251.5L716.1 1252.1L718.6 1252.7L721.2 1253.3L723.7 1253.9L726.2 1254.5L727.1 1254.7L728.7 1255.1L731.2 1255.8L733.7 1256.4L736.2 1257.0L736.9 1257.2L738.7 1257.7L741.2 1258.3L743.7 1259.0L746.2 1259.7L748.7 1260.4L751.2 1261.0L753.7 1261.7L755.5 1262.2L756.2 1262.5L758.7 1263.2L761.2 1263.9L763.7 1264.6L766.2 1265.4L768.8 1266.1L771.3 1266.9L772.2 1267.3L773.8 1267.9L776.3 1269.1L777.3 1269.8L778.8 1270.7L781.1 1272.3L783.8 1274.3L784.4 1274.8L786.3 1276.3ZM708.4 1152.2L706.1 1149.9L705.2 1147.2L705.0 1144.7L705.3 1142.2L706.0 1139.7L707.0 1137.1L708.5 1134.6L710.5 1132.1L711.1 1131.5L713.5 1129.6L716.1 1128.3L718.6 1128.0L721.2 1128.7L722.2 1129.6L723.7 1132.0L724.3 1134.6L724.2 1137.1L723.7 1139.4L722.9 1142.2L721.7 1144.7L721.2 1145.5L720.0 1147.2L718.6 1148.8L717.7 1149.7L716.1 1151.0L713.7 1152.2L711.1 1152.8L708.6 1152.3ZM791.3 1190.6L793.8 1190.6L795.2 1189.7L796.3 1188.1L796.8 1187.2L796.8 1184.7L796.3 1182.9L795.7 1182.2L793.8 1180.5L791.3 1182.2L790.2 1184.7L789.6 1187.2L790.2 1189.7L791.3 1190.6Z" fill="#fcd5bf" fill-rule="evenodd"/>
<path d="M793.8 1262.4L796.3 1263.0L798.8 1263.1L801.3 1262.9L803.8 1262.4L804.4 1262.2L806.3 1261.8L808.8 1261.3L811.3 1261.1L813.8 1261.2L816.3 1261.5L818.8 1261.8L821.2 1262.2L823.9 1262.7L823.9 1259.7L823.9 1257.2L823.9 1254.7L823.9 1252.2L823.9 1249.7L823.9 1247.2L823.9 1244.7L823.9 1242.2L823.9 1239.7L823.9 1238.1L821.4 1238.1L818.8 1238.1L816.3 1238.3L813.8 1238.8L811.6 1239.7L808.8 1242.1L806.8 1244.7L806.3 1245.2L804.8 1247.2L803.8 1248.3L802.4 1249.7L801.3 1250.6L798.8 1252.0L797.0 1252.2L796.3 1252.3L793.8 1251.8L791.3 1250.1L788.8 1247.2L787.2 1244.7L786.3 1243.0L785.9 1242.2L784.6 1239.7L783.8 1237.8L783.5 1237.2L782.1 1234.7L781.3 1233.1L780.6 1232.2L778.8 1229.8L776.3 1227.9L774.8 1227.2L773.8 1226.8L771.3 1226.5L768.8 1226.6L766.2 1226.5L763.7 1226.4L761.2 1226.3L758.7 1226.6L756.2 1227.1L754.8 1227.2L753.7 1227.4L751.2 1227.6L748.7 1227.7L746.2 1227.8L743.7 1227.9L741.2 1227.9L738.7 1227.9L736.2 1227.9L733.7 1227.9L731.2 1227.9L728.7 1227.8L726.2 1227.8L723.7 1227.7L721.2 1227.7L718.6 1227.6L716.1 1227.6L713.6 1227.5L711.1 1227.4L708.6 1227.4L706.1 1227.3L703.6 1227.3L702.0 1227.2L701.1 1227.2L698.6 1227.1L696.1 1227.1L693.6 1227.0L691.1 1227.0L688.6 1226.9L686.1 1226.9L683.6 1226.8L681.1 1226.7L678.6 1226.7L676.1 1226.6L673.6 1226.5L671.1 1226.5L668.5 1226.4L666.0 1226.3L663.5 1226.2L661.0 1226.1L658.5 1226.0L656.0 1226.0L653.5 1225.9L651.0 1225.8L648.5 1225.7L646.0 1225.6L643.5 1225.5L641.0 1225.4L638.5 1225.3L636.0 1225.1L633.5 1225.0L631.0 1224.9L628.5 1224.8L627.3 1224.7L626.0 1224.7L623.5 1224.5L621.0 1224.4L618.4 1224.2L615.9 1224.0L613.4 1223.8L610.9 1223.6L608.4 1223.4L605.9 1223.2L603.4 1222.9L600.9 1222.7L598.4 1222.4L596.7 1222.2L595.9 1222.1L593.4 1221.9L590.9 1221.6L588.4 1221.4L585.9 1221.1L583.4 1220.8L580.9 1220.5L578.4 1220.2L575.9 1219.8L573.4 1219.4L570.9 1218.9L568.4 1218.4L565.8 1217.9L563.3 1217.3L560.8 1216.8L558.3 1216.2L555.8 1215.7L553.3 1215.1L551.6 1214.7L550.8 1214.5L548.3 1214.0L545.8 1213.4L543.3 1212.8L540.8 1212.2L538.3 1211.5L535.8 1210.9L533.3 1210.3L530.8 1209.7L528.3 1208.9L525.8 1208.0L523.7 1207.2L523.3 1206.9L520.8 1204.9L520.4 1202.2L523.3 1199.9L525.8 1198.8L528.3 1197.9L530.6 1197.2L533.3 1196.6L535.8 1196.0L538.3 1195.4L540.8 1194.7L543.3 1194.1L545.8 1193.5L548.3 1192.9L550.8 1192.3L553.3 1191.7L555.8 1191.1L558.3 1190.6L560.8 1190.0L562.3 1189.7L563.3 1189.4L565.8 1188.8L568.4 1188.2L570.9 1187.7L573.4 1187.2L575.9 1186.7L578.4 1186.3L580.9 1186.0L583.4 1185.7L585.9 1185.4L588.4 1185.1L590.9 1184.8L592.4 1184.7L593.4 1184.6L595.9 1184.3L598.4 1184.0L600.9 1183.7L603.4 1183.5L605.9 1183.2L608.4 1183.0L610.9 1182.8L613.4 1182.6L615.9 1182.4L618.4 1182.3L619.6 1182.2L621.0 1182.1L623.5 1181.9L626.0 1181.8L628.5 1181.6L631.0 1181.5L633.5 1181.4L636.0 1181.3L638.5 1181.2L641.0 1181.1L643.5 1181.0L646.0 1181.0L648.5 1180.9L651.0 1180.8L653.5 1180.7L656.0 1180.6L658.5 1180.6L661.0 1180.5L663.5 1180.4L666.0 1180.4L668.5 1180.3L671.1 1180.2L673.6 1180.2L676.1 1180.1L678.6 1180.1L681.1 1180.0L683.6 1180.0L686.1 1179.9L688.6 1179.9L691.1 1179.8L693.6 1179.8L696.1 1179.7L698.6 1179.7L700.9 1179.7L703.6 1179.6L706.1 1179.6L708.6 1179.6L711.1 1179.6L713.6 1179.5L716.1 1179.5L718.6 1179.5L721.2 1179.4L723.7 1179.3L726.2 1179.3L728.7 1179.2L731.2 1179.1L733.7 1179.0L736.2 1178.9L738.7 1178.7L741.2 1178.6L743.7 1178.5L746.2 1178.3L748.7 1178.1L751.2 1177.8L753.7 1177.6L756.2 1177.3L757.5 1177.2L758.7 1177.0L761.2 1176.7L763.7 1176.5L766.2 1176.3L768.8 1176.1L771.3 1176.1L773.8 1176.3L776.3 1177.0L776.8 1177.2L778.8 1178.1L780.8 1179.7L781.3 1180.1L782.6 1182.2L783.3 1184.7L783.7 1187.2L784.2 1189.7L785.3 1192.2L786.3 1193.5L787.7 1194.7L788.8 1195.3L791.3 1195.8L793.8 1195.7L796.3 1195.1L797.6 1194.7L798.8 1194.2L801.3 1193.2L803.8 1192.5L805.8 1192.2L806.3 1192.0L808.8 1191.7L811.3 1191.5L813.8 1191.5L816.3 1191.5L818.8 1191.5L821.4 1191.5L823.9 1191.5L823.9 1189.7L823.9 1187.2L823.9 1184.7L823.9 1182.2L823.9 1179.7L823.9 1177.2L823.9 1174.7L823.9 1172.2L823.9 1169.7L823.9 1167.2L823.9 1164.7L823.9 1162.2L823.9 1159.7L822.1 1159.7L821.4 1159.8L818.8 1160.2L816.3 1160.7L813.8 1161.1L811.3 1161.5L808.8 1162.0L807.7 1162.2L806.3 1162.4L803.8 1162.9L801.3 1163.4L798.8 1164.0L796.3 1164.6L795.4 1164.7L793.8 1164.9L793.0 1164.7L791.3 1164.4L788.8 1163.4L786.5 1162.2L783.8 1160.7L781.8 1159.7L781.3 1159.4L778.8 1158.3L776.3 1157.4L774.7 1157.2L773.8 1157.0L771.3 1157.1L768.8 1157.5L766.2 1158.0L763.7 1158.4L761.2 1158.8L758.7 1159.3L756.8 1159.7L756.2 1159.8L753.7 1160.4L751.2 1161.1L748.8 1162.2L746.2 1163.6L745.0 1164.7L743.7 1165.5L741.5 1167.2L738.7 1168.6L736.4 1169.7L733.7 1170.6L731.2 1171.2L728.7 1171.8L726.3 1172.2L723.7 1172.5L721.2 1172.7L718.6 1172.8L716.1 1172.8L713.6 1172.7L711.1 1172.6L708.6 1172.4L706.9 1172.2L706.1 1172.1L703.6 1171.7L701.1 1171.3L698.6 1170.9L696.1 1170.5L693.6 1170.2L691.1 1170.0L688.6 1169.9L686.1 1170.0L683.6 1170.1L681.1 1170.3L678.6 1170.5L676.1 1170.7L673.6 1171.0L671.1 1171.3L668.5 1171.5L666.0 1171.8L663.5 1172.1L661.0 1172.4L658.5 1172.6L656.0 1172.8L653.5 1173.1L651.0 1173.3L648.5 1173.6L646.0 1173.9L643.5 1174.1L641.0 1174.4L638.5 1174.7L636.0 1174.9L633.5 1175.1L631.0 1175.4L628.5 1175.6L626.0 1175.9L623.5 1176.2L621.0 1176.5L618.4 1176.8L615.9 1177.1L613.4 1177.4L610.9 1177.8L608.4 1178.1L605.9 1178.4L603.4 1178.8L600.9 1179.2L598.4 1179.6L595.9 1180.0L593.4 1180.3L590.9 1180.7L588.4 1181.1L585.9 1181.5L583.4 1182.0L582.3 1182.2L580.9 1182.4L578.4 1182.8L575.9 1183.3L573.4 1183.9L570.9 1184.6L568.4 1185.2L565.8 1185.8L563.3 1186.5L560.8 1187.2L558.3 1187.8L555.8 1188.4L553.3 1189.0L550.8 1189.7L548.3 1190.2L545.8 1190.8L543.3 1191.5L540.8 1192.1L538.3 1192.7L535.8 1193.3L533.3 1193.7L530.8 1194.2L528.3 1194.7L525.8 1195.3L523.3 1195.9L520.8 1196.6L519.0 1197.2L518.2 1197.5L515.7 1198.8L514.2 1199.7L513.2 1200.9L512.3 1202.2L512.7 1204.7L513.2 1205.2L515.4 1207.2L518.2 1208.6L520.8 1209.7L523.3 1210.5L525.8 1211.2L528.3 1211.8L530.1 1212.2L530.8 1212.4L533.3 1212.9L535.8 1213.3L538.3 1213.9L540.8 1214.6L541.5 1214.7L543.3 1215.2L545.8 1215.8L548.3 1216.4L550.8 1216.9L552.1 1217.2L553.3 1217.5L555.8 1218.1L558.3 1218.7L560.8 1219.3L562.9 1219.7L565.8 1220.4L568.4 1221.0L570.9 1221.6L573.4 1222.1L574.2 1222.2L575.9 1222.6L578.4 1223.1L580.9 1223.5L583.4 1223.8L585.9 1224.1L588.4 1224.5L590.3 1224.7L590.9 1224.8L593.4 1225.2L595.9 1225.5L598.4 1225.9L600.9 1226.2L603.4 1226.5L605.9 1226.8L608.4 1227.1L609.6 1227.2L610.9 1227.4L613.4 1227.7L615.9 1228.0L618.4 1228.3L621.0 1228.5L623.5 1228.8L626.0 1229.0L628.5 1229.3L631.0 1229.5L633.5 1229.7L634.1 1229.7L636.0 1229.9L638.5 1230.1L641.0 1230.3L643.5 1230.6L646.0 1230.8L648.5 1231.0L651.0 1231.2L653.5 1231.4L656.0 1231.7L658.5 1231.9L661.0 1232.1L662.7 1232.2L663.5 1232.3L666.0 1232.5L668.5 1232.8L671.1 1233.0L673.6 1233.3L676.1 1233.5L678.6 1233.7L681.1 1234.0L683.6 1234.2L686.1 1234.4L688.6 1234.7L689.4 1234.7L691.1 1234.9L693.6 1235.2L696.1 1235.4L698.6 1235.7L701.1 1235.9L703.6 1236.2L706.1 1236.5L708.6 1236.7L711.1 1237.0L713.6 1237.2L716.1 1237.5L718.6 1237.8L721.2 1238.1L723.7 1238.4L726.2 1238.7L728.7 1239.0L731.2 1239.3L733.7 1239.5L735.3 1239.7L736.2 1239.8L738.7 1240.2L741.2 1240.5L743.7 1240.8L746.2 1241.1L748.7 1241.4L751.2 1241.6L753.7 1241.0L754.3 1239.7L755.8 1237.2L756.2 1236.7L757.2 1234.7L758.7 1233.1L760.8 1232.2L761.7 1232.2L763.7 1233.1L765.2 1234.7L766.2 1237.1L767.5 1239.7L768.4 1242.2L768.8 1243.1L771.3 1244.4L772.4 1244.7L773.8 1245.2L776.3 1246.6L777.0 1247.2L778.8 1248.7L779.6 1249.7L781.3 1251.4L781.9 1252.2L783.8 1254.3L784.1 1254.7L786.3 1257.0L788.8 1259.4L789.3 1259.7L791.3 1261.2L793.6 1262.2ZM790.2 1189.7L789.6 1187.2L790.2 1184.7L791.3 1182.2L793.8 1180.5L795.7 1182.2L796.3 1182.9L796.8 1184.7L796.8 1187.2L796.3 1188.1L795.2 1189.7L793.8 1190.6L791.3 1190.6L790.2 1189.7ZM708.6 1152.3L711.1 1152.8L713.6 1152.2L716.1 1151.0L717.7 1149.7L718.6 1148.8L720.0 1147.2L721.2 1145.5L721.7 1144.7L722.9 1142.2L723.6 1139.7L724.2 1137.1L724.3 1134.6L723.7 1132.1L722.2 1129.6L721.2 1128.7L718.6 1128.0L716.1 1128.3L713.6 1129.5L711.1 1131.5L710.5 1132.1L708.6 1134.5L707.0 1137.1L706.1 1139.5L705.3 1142.2L705.0 1144.7L705.2 1147.2L706.0 1149.7L708.4 1152.2ZM708.9 1144.7L708.6 1143.1L708.5 1142.2L708.6 1141.5L708.9 1139.7L709.9 1137.1L711.1 1135.2L711.6 1134.6L713.6 1132.7L714.8 1132.1L716.1 1131.5L718.6 1131.7L719.3 1132.1L720.8 1134.6L721.0 1137.1L720.4 1139.7L719.3 1142.2L718.6 1143.1L717.3 1144.7L716.1 1145.7L713.6 1147.0L711.1 1147.0L708.9 1144.7Z" fill="#f7b799" fill-rule="evenodd"/>
<path d="M796.3 1252.3L797.0 1252.2L798.8 1252.0L801.3 1250.6L802.4 1249.7L803.8 1248.3L804.8 1247.2L806.3 1245.2L806.8 1244.7L808.7 1242.2L811.3 1239.9L813.8 1238.8L816.3 1238.3L818.8 1238.1L821.4 1238.1L823.9 1238.1L823.9 1237.2L823.9 1234.7L823.9 1232.2L823.9 1231.3L821.4 1231.3L818.8 1231.4L816.3 1231.5L813.8 1231.9L812.8 1232.2L811.3 1232.8L808.8 1234.6L806.6 1237.2L804.8 1239.7L803.8 1241.0L802.8 1242.2L801.3 1243.9L800.2 1244.7L798.8 1245.7L796.3 1246.3L793.8 1245.6L792.8 1244.7L791.3 1243.5L790.4 1242.2L788.8 1239.8L787.4 1237.2L786.3 1234.7L785.0 1232.2L783.9 1229.7L782.3 1227.2L781.3 1225.6L780.4 1224.7L778.8 1223.0L777.6 1222.2L776.3 1221.3L773.8 1220.4L771.3 1220.2L768.8 1220.4L766.2 1220.6L763.7 1220.9L761.2 1221.1L758.7 1221.4L756.2 1221.6L753.7 1221.9L751.2 1222.1L749.1 1222.2L746.2 1222.4L743.7 1222.6L741.2 1222.7L738.7 1222.8L736.2 1222.8L733.7 1222.8L731.2 1222.8L728.7 1222.8L726.2 1222.8L723.7 1222.8L721.2 1222.7L718.6 1222.7L716.1 1222.7L713.6 1222.7L711.1 1222.7L708.6 1222.6L706.1 1222.6L703.6 1222.6L701.1 1222.6L698.6 1222.5L696.1 1222.5L693.6 1222.5L691.1 1222.5L688.6 1222.4L686.1 1222.4L683.6 1222.4L681.1 1222.3L678.6 1222.3L676.1 1222.2L673.9 1222.2L671.1 1222.2L668.6 1222.1L666.0 1222.1L663.5 1222.1L661.0 1222.0L658.5 1222.0L656.0 1222.0L653.5 1221.9L651.0 1221.9L648.5 1221.8L646.0 1221.8L643.5 1221.7L641.0 1221.7L638.5 1221.6L636.0 1221.6L633.5 1221.5L631.0 1221.4L628.5 1221.4L626.0 1221.3L623.5 1221.2L621.0 1221.1L618.4 1220.9L615.9 1220.8L613.4 1220.7L610.9 1220.5L608.4 1220.3L605.9 1220.1L603.4 1220.0L600.9 1219.8L598.4 1219.6L595.9 1219.4L593.4 1219.2L590.9 1219.0L588.4 1218.7L585.9 1218.5L583.4 1218.3L580.9 1218.1L578.4 1217.8L575.9 1217.4L574.5 1217.2L573.4 1217.0L570.9 1216.6L568.4 1216.1L565.8 1215.6L563.3 1215.1L561.7 1214.7L560.8 1214.5L558.3 1214.0L555.8 1213.4L553.3 1212.9L550.8 1212.3L548.3 1211.7L545.8 1211.0L543.3 1210.4L540.8 1209.7L538.3 1208.9L535.8 1208.1L533.3 1207.3L530.8 1205.8L529.2 1204.7L529.4 1202.2L530.8 1201.3L533.3 1199.8L535.8 1199.0L538.3 1198.2L540.8 1197.3L543.3 1196.6L545.8 1196.0L548.3 1195.4L550.8 1194.7L553.3 1194.2L555.8 1193.6L558.3 1193.0L560.8 1192.5L562.0 1192.2L563.3 1191.9L565.8 1191.3L568.4 1190.8L570.9 1190.3L573.4 1189.8L574.3 1189.7L575.9 1189.4L578.4 1189.0L580.9 1188.8L583.4 1188.5L585.9 1188.3L588.4 1188.1L590.9 1187.9L593.4 1187.7L595.9 1187.5L598.4 1187.3L599.7 1187.2L600.9 1187.1L603.4 1186.9L605.9 1186.7L608.4 1186.5L610.9 1186.4L613.4 1186.2L615.9 1186.1L618.4 1185.9L621.0 1185.8L623.5 1185.7L626.0 1185.6L628.5 1185.6L631.0 1185.5L633.5 1185.4L636.0 1185.4L638.5 1185.4L641.0 1185.3L643.5 1185.3L646.0 1185.2L648.5 1185.2L651.0 1185.2L653.5 1185.1L656.0 1185.1L658.5 1185.1L661.0 1185.0L663.5 1185.0L666.0 1185.0L668.5 1184.9L671.1 1184.9L673.6 1184.9L676.1 1184.9L678.6 1184.8L681.1 1184.8L683.6 1184.8L686.1 1184.8L688.6 1184.7L691.1 1184.7L693.6 1184.7L695.5 1184.7L698.6 1184.7L701.1 1184.6L703.6 1184.6L706.1 1184.6L708.6 1184.6L711.1 1184.6L713.6 1184.5L716.1 1184.5L718.6 1184.5L721.2 1184.5L723.7 1184.5L726.2 1184.4L728.7 1184.4L731.2 1184.3L733.7 1184.3L736.2 1184.2L738.7 1184.2L741.2 1184.1L743.7 1184.0L746.2 1184.0L748.7 1183.8L751.2 1183.6L753.7 1183.4L756.2 1183.1L758.7 1182.8L761.2 1182.5L763.7 1182.2L766.2 1181.9L768.8 1181.8L771.3 1181.8L773.8 1182.2L776.3 1183.5L777.5 1184.7L778.8 1186.6L779.0 1187.2L780.0 1189.7L781.2 1192.2L782.8 1194.7L783.8 1195.7L785.6 1197.2L786.3 1197.6L788.8 1198.5L791.3 1198.8L793.8 1198.6L796.3 1198.2L798.8 1197.7L801.3 1197.6L803.8 1197.6L806.3 1197.8L808.8 1198.1L811.3 1198.3L813.8 1198.4L816.3 1198.5L818.8 1198.5L821.4 1198.5L823.9 1198.5L823.9 1197.2L823.9 1194.7L823.9 1192.2L823.9 1191.5L821.4 1191.5L818.8 1191.5L816.3 1191.5L813.8 1191.5L811.3 1191.5L808.8 1191.7L806.3 1192.0L805.8 1192.2L803.8 1192.5L801.3 1193.2L798.8 1194.2L797.6 1194.7L796.3 1195.1L793.8 1195.7L791.3 1195.8L788.8 1195.3L787.7 1194.7L786.3 1193.5L785.3 1192.2L784.2 1189.7L783.8 1187.4L783.3 1184.7L782.6 1182.2L781.3 1180.1L780.8 1179.7L778.8 1178.1L776.8 1177.2L776.3 1177.0L773.8 1176.3L771.3 1176.1L768.8 1176.1L766.2 1176.3L763.7 1176.5L761.2 1176.7L758.7 1177.0L757.5 1177.2L756.2 1177.3L753.7 1177.6L751.2 1177.8L748.7 1178.1L746.2 1178.3L743.7 1178.5L741.2 1178.6L738.7 1178.7L736.2 1178.9L733.7 1179.0L731.2 1179.1L728.7 1179.2L726.2 1179.3L723.7 1179.3L721.2 1179.4L718.6 1179.5L716.1 1179.5L713.6 1179.5L711.1 1179.6L708.6 1179.6L706.1 1179.6L703.6 1179.6L701.1 1179.7L698.6 1179.7L696.1 1179.7L693.6 1179.8L691.1 1179.8L688.6 1179.9L686.1 1179.9L683.6 1180.0L681.1 1180.0L678.6 1180.1L676.1 1180.1L673.6 1180.2L671.1 1180.2L668.5 1180.3L666.0 1180.4L663.5 1180.4L661.0 1180.5L658.5 1180.6L656.0 1180.6L653.5 1180.7L651.0 1180.8L648.5 1180.9L646.0 1181.0L643.5 1181.0L641.0 1181.1L638.5 1181.2L636.0 1181.3L633.5 1181.4L631.0 1181.5L628.5 1181.6L626.0 1181.8L623.5 1181.9L621.0 1182.1L619.6 1182.2L618.4 1182.3L615.9 1182.4L613.4 1182.6L610.9 1182.8L608.4 1183.0L605.9 1183.2L603.4 1183.5L600.9 1183.7L598.4 1184.0L595.9 1184.3L593.4 1184.6L592.4 1184.7L590.9 1184.8L588.4 1185.1L585.9 1185.4L583.4 1185.7L580.9 1186.0L578.4 1186.3L575.9 1186.7L573.6 1187.2L570.9 1187.7L568.4 1188.2L565.8 1188.8L563.3 1189.4L562.3 1189.7L560.8 1190.0L558.3 1190.6L555.8 1191.1L553.3 1191.7L551.4 1192.2L548.3 1192.9L545.8 1193.5L543.3 1194.1L540.8 1194.7L538.3 1195.4L535.8 1196.0L533.3 1196.6L530.8 1197.1L528.3 1197.9L525.8 1198.8L523.5 1199.7L520.8 1201.9L520.5 1204.7L523.3 1206.9L523.7 1207.2L525.8 1208.0L528.3 1208.9L530.7 1209.7L533.3 1210.3L535.8 1210.9L538.3 1211.5L540.8 1212.2L543.3 1212.8L545.8 1213.4L548.3 1214.0L550.8 1214.5L551.6 1214.7L553.3 1215.1L555.8 1215.7L558.3 1216.2L560.8 1216.8L563.0 1217.2L565.8 1217.9L568.4 1218.4L570.9 1218.9L573.4 1219.4L575.4 1219.7L578.4 1220.2L580.9 1220.5L583.4 1220.8L585.9 1221.1L588.4 1221.4L590.9 1221.6L593.4 1221.9L595.9 1222.1L596.7 1222.2L598.4 1222.4L600.9 1222.7L603.4 1222.9L605.9 1223.2L608.4 1223.4L610.9 1223.6L613.4 1223.8L615.9 1224.0L618.4 1224.2L621.0 1224.4L623.5 1224.5L626.0 1224.7L627.3 1224.7L628.5 1224.8L631.0 1224.9L633.5 1225.0L636.0 1225.1L638.5 1225.3L641.0 1225.4L643.5 1225.5L646.0 1225.6L648.5 1225.7L651.0 1225.8L653.5 1225.9L656.0 1226.0L658.5 1226.0L661.0 1226.1L663.5 1226.2L666.0 1226.3L668.5 1226.4L671.1 1226.5L673.6 1226.5L676.1 1226.6L678.6 1226.7L681.1 1226.7L683.6 1226.8L686.1 1226.9L688.6 1226.9L691.1 1227.0L693.6 1227.0L696.1 1227.1L698.6 1227.1L701.1 1227.2L702.0 1227.2L703.6 1227.3L706.1 1227.3L708.6 1227.4L711.1 1227.4L713.6 1227.5L716.1 1227.6L718.6 1227.6L721.2 1227.7L723.7 1227.7L726.2 1227.8L728.7 1227.8L731.2 1227.9L733.7 1227.9L736.2 1227.9L738.7 1227.9L741.2 1227.9L743.7 1227.9L746.2 1227.8L748.7 1227.7L751.2 1227.6L753.7 1227.4L754.8 1227.2L756.2 1227.1L758.7 1226.6L761.2 1226.3L763.7 1226.4L766.2 1226.5L768.8 1226.6L771.3 1226.5L773.8 1226.8L774.8 1227.2L776.3 1227.9L778.7 1229.7L780.6 1232.2L781.3 1233.1L782.1 1234.7L783.5 1237.2L783.8 1237.8L784.6 1239.7L785.9 1242.2L786.3 1243.0L787.2 1244.7L788.8 1247.2L791.0 1249.7L793.8 1251.8L795.9 1252.2ZM711.1 1147.0L713.6 1147.0L716.1 1145.7L717.3 1144.7L718.6 1143.1L719.3 1142.2L720.4 1139.7L721.0 1137.1L720.8 1134.6L719.3 1132.1L718.6 1131.7L716.1 1131.5L714.8 1132.1L713.6 1132.7L711.6 1134.6L711.1 1135.2L709.9 1137.1L708.9 1139.7L708.6 1141.5L708.5 1142.2L708.6 1143.1L708.9 1144.7L711.1 1147.0ZM712.6 1142.2L711.9 1139.7L713.0 1137.1L713.6 1136.3L716.1 1135.1L717.7 1137.1L717.3 1139.7L716.1 1141.5L715.1 1142.2L713.6 1142.8L712.6 1142.2Z" fill="#ee9677" fill-rule="evenodd"/>
<path d="M793.8 1245.6L796.3 1246.3L798.8 1245.7L800.2 1244.7L801.3 1243.9L802.8 1242.2L803.8 1241.0L804.8 1239.7L806.3 1237.5L808.7 1234.7L811.3 1232.8L812.8 1232.2L813.8 1231.9L816.3 1231.5L818.8 1231.4L821.4 1231.3L823.9 1231.3L823.9 1229.7L823.9 1227.2L823.9 1226.5L821.4 1226.5L818.8 1226.5L816.3 1226.7L813.8 1227.0L813.3 1227.2L811.3 1227.9L808.8 1229.6L806.5 1232.2L804.7 1234.7L803.8 1235.9L802.8 1237.2L801.3 1239.1L800.5 1239.7L798.8 1241.1L796.3 1241.8L793.8 1241.0L792.5 1239.7L791.3 1238.5L790.4 1237.2L789.0 1234.7L787.7 1232.2L786.6 1229.7L786.3 1229.0L785.4 1227.2L784.1 1224.7L783.8 1224.1L782.5 1222.2L781.3 1220.5L780.5 1219.7L778.8 1218.1L777.4 1217.2L776.3 1216.5L773.8 1215.7L771.3 1215.6L768.8 1215.9L766.2 1216.2L763.7 1216.6L761.2 1216.9L759.2 1217.2L756.2 1217.6L753.7 1217.9L751.2 1218.2L748.7 1218.5L746.2 1218.7L743.7 1218.9L741.2 1219.1L738.7 1219.2L736.2 1219.2L733.7 1219.3L731.2 1219.3L728.7 1219.2L726.2 1219.2L723.7 1219.2L721.2 1219.2L718.6 1219.2L716.1 1219.2L713.6 1219.2L711.1 1219.2L708.6 1219.2L706.1 1219.1L703.6 1219.1L701.1 1219.1L698.6 1219.1L696.1 1219.1L693.6 1219.1L691.1 1219.1L688.6 1219.1L686.1 1219.0L683.6 1219.0L681.1 1219.0L678.6 1219.0L676.1 1219.0L673.6 1218.9L671.1 1218.9L668.5 1218.9L666.0 1218.9L663.5 1218.9L661.0 1218.8L658.5 1218.8L656.0 1218.8L653.5 1218.8L651.0 1218.7L648.5 1218.7L646.0 1218.7L643.5 1218.6L641.0 1218.6L638.5 1218.6L636.0 1218.5L633.5 1218.5L631.0 1218.5L628.5 1218.4L626.0 1218.4L623.5 1218.3L621.0 1218.2L618.4 1218.1L615.9 1218.0L613.4 1217.9L610.9 1217.8L608.4 1217.6L605.9 1217.5L603.4 1217.3L601.4 1217.2L598.4 1217.0L595.9 1216.9L593.4 1216.7L590.9 1216.5L588.4 1216.4L585.9 1216.2L583.4 1216.0L580.9 1215.8L578.4 1215.6L575.9 1215.3L573.4 1214.9L572.3 1214.7L570.9 1214.4L568.4 1214.0L565.8 1213.4L563.3 1212.9L560.8 1212.3L560.2 1212.2L558.3 1211.8L555.8 1211.1L553.3 1210.5L550.8 1209.9L550.1 1209.7L548.3 1209.1L545.8 1208.3L543.3 1207.5L542.4 1207.2L540.8 1206.2L538.4 1204.7L538.7 1202.2L540.8 1201.0L543.2 1199.7L545.8 1198.9L548.3 1198.0L550.8 1197.3L553.3 1196.6L555.8 1196.0L558.3 1195.4L560.8 1194.8L563.3 1194.2L565.8 1193.6L568.4 1193.1L570.9 1192.6L573.2 1192.2L575.9 1191.7L578.4 1191.4L580.9 1191.2L583.4 1191.0L585.9 1190.8L588.4 1190.7L590.9 1190.5L593.4 1190.3L595.9 1190.2L598.4 1190.0L600.9 1189.9L603.4 1189.7L605.9 1189.6L608.4 1189.4L610.9 1189.3L613.4 1189.2L615.9 1189.1L618.4 1189.0L621.0 1188.9L623.5 1188.8L626.0 1188.8L628.5 1188.7L631.0 1188.7L633.5 1188.6L636.0 1188.6L638.5 1188.6L641.0 1188.6L643.5 1188.5L646.0 1188.5L648.5 1188.5L651.0 1188.5L653.5 1188.4L656.0 1188.4L658.5 1188.4L661.0 1188.4L663.5 1188.4L666.0 1188.3L668.5 1188.3L671.1 1188.3L673.6 1188.3L676.1 1188.3L678.6 1188.3L681.1 1188.2L683.6 1188.2L686.1 1188.2L688.6 1188.2L691.1 1188.2L693.6 1188.2L696.1 1188.2L698.6 1188.2L701.1 1188.1L703.6 1188.1L706.1 1188.1L708.6 1188.1L711.1 1188.1L713.6 1188.1L716.1 1188.1L718.6 1188.1L721.2 1188.1L723.7 1188.1L726.2 1188.0L728.7 1188.0L731.2 1188.0L733.7 1188.0L736.2 1187.9L738.7 1187.9L741.2 1188.0L743.7 1188.0L746.2 1188.0L748.7 1188.1L751.2 1188.1L753.7 1188.1L756.2 1188.0L758.7 1188.0L761.2 1187.9L763.7 1187.8L766.2 1187.7L768.8 1187.8L771.3 1188.1L773.8 1189.2L774.2 1189.7L776.3 1192.0L778.4 1194.7L778.8 1195.1L780.8 1197.2L781.3 1197.6L783.8 1199.5L786.3 1200.7L788.8 1201.2L791.3 1201.3L793.8 1201.0L796.3 1200.7L798.8 1200.5L801.3 1200.7L803.8 1201.2L806.3 1201.8L807.7 1202.2L808.8 1202.5L811.3 1203.0L813.8 1203.2L816.3 1203.3L818.8 1203.4L821.4 1203.4L823.9 1203.4L823.9 1202.2L823.9 1199.7L823.9 1198.5L821.4 1198.5L818.8 1198.5L816.3 1198.5L813.8 1198.4L811.3 1198.3L808.8 1198.1L806.3 1197.8L803.8 1197.6L801.3 1197.6L798.8 1197.7L796.3 1198.2L793.8 1198.6L791.3 1198.8L788.8 1198.5L786.3 1197.6L785.6 1197.2L783.8 1195.7L782.8 1194.7L781.3 1192.4L780.0 1189.7L779.0 1187.2L778.8 1186.6L777.5 1184.7L776.3 1183.5L773.8 1182.2L771.3 1181.8L768.8 1181.8L766.2 1181.9L763.8 1182.2L761.2 1182.5L758.7 1182.8L756.2 1183.1L753.7 1183.4L751.2 1183.6L748.7 1183.8L746.2 1184.0L743.7 1184.0L741.2 1184.1L738.7 1184.2L736.2 1184.2L733.7 1184.3L731.2 1184.3L728.7 1184.4L726.2 1184.4L723.7 1184.5L721.2 1184.5L718.6 1184.5L716.1 1184.5L713.6 1184.5L711.1 1184.6L708.6 1184.6L706.1 1184.6L703.6 1184.6L701.1 1184.6L698.6 1184.7L696.1 1184.7L693.6 1184.7L691.1 1184.7L688.6 1184.7L686.1 1184.8L683.6 1184.8L681.1 1184.8L678.6 1184.8L676.1 1184.9L673.6 1184.9L671.1 1184.9L668.5 1184.9L666.0 1185.0L663.5 1185.0L661.0 1185.0L658.5 1185.1L656.0 1185.1L653.5 1185.1L651.0 1185.2L648.5 1185.2L646.0 1185.2L643.5 1185.3L641.0 1185.3L638.5 1185.4L636.0 1185.4L633.5 1185.4L631.0 1185.5L628.5 1185.6L626.0 1185.6L623.5 1185.7L621.0 1185.8L618.4 1185.9L615.9 1186.1L613.4 1186.2L610.9 1186.4L608.4 1186.5L605.9 1186.7L603.4 1186.9L600.9 1187.1L599.7 1187.2L598.4 1187.3L595.9 1187.5L593.4 1187.7L590.9 1187.9L588.4 1188.1L585.9 1188.3L583.4 1188.5L580.9 1188.8L578.4 1189.0L575.9 1189.4L574.3 1189.7L573.4 1189.8L570.9 1190.3L568.4 1190.8L565.8 1191.3L563.3 1191.9L562.0 1192.2L560.8 1192.5L558.3 1193.0L555.8 1193.6L553.3 1194.2L551.0 1194.7L548.3 1195.4L545.8 1196.0L543.3 1196.6L541.2 1197.2L538.3 1198.2L535.8 1199.0L533.5 1199.7L530.8 1201.3L529.4 1202.2L529.2 1204.7L530.8 1205.8L533.0 1207.2L535.8 1208.1L538.3 1208.9L540.6 1209.7L543.3 1210.4L545.8 1211.0L548.3 1211.7L550.5 1212.2L553.3 1212.9L555.8 1213.4L558.3 1214.0L560.8 1214.5L561.7 1214.7L563.3 1215.1L565.8 1215.6L568.4 1216.1L570.9 1216.6L573.4 1217.0L574.5 1217.2L575.9 1217.4L578.4 1217.8L580.9 1218.1L583.4 1218.3L585.9 1218.5L588.4 1218.7L590.9 1219.0L593.4 1219.2L595.9 1219.4L598.4 1219.6L600.4 1219.7L603.4 1220.0L605.9 1220.1L608.4 1220.3L610.9 1220.5L613.4 1220.7L615.9 1220.8L618.4 1220.9L621.0 1221.1L623.5 1221.2L626.0 1221.3L628.5 1221.4L631.0 1221.4L633.5 1221.5L636.0 1221.6L638.5 1221.6L641.0 1221.7L643.5 1221.7L646.0 1221.8L648.5 1221.8L651.0 1221.9L653.5 1221.9L656.0 1222.0L658.5 1222.0L661.0 1222.0L663.5 1222.1L666.0 1222.1L668.5 1222.1L671.1 1222.2L673.6 1222.2L676.1 1222.2L678.6 1222.3L681.1 1222.3L683.6 1222.4L686.1 1222.4L688.6 1222.4L691.1 1222.5L693.6 1222.5L696.1 1222.5L698.6 1222.5L701.1 1222.6L703.6 1222.6L706.1 1222.6L708.6 1222.6L711.1 1222.7L713.6 1222.7L716.1 1222.7L718.6 1222.7L721.2 1222.7L723.7 1222.8L726.2 1222.8L728.7 1222.8L731.2 1222.8L733.7 1222.8L736.2 1222.8L738.7 1222.8L741.2 1222.7L743.7 1222.6L746.2 1222.4L748.7 1222.3L751.2 1222.1L753.7 1221.9L756.2 1221.6L758.7 1221.4L761.2 1221.1L763.7 1220.9L766.2 1220.6L768.8 1220.4L771.3 1220.2L773.8 1220.4L776.3 1221.3L777.6 1222.2L778.8 1223.0L780.4 1224.7L781.3 1225.6L782.3 1227.2L783.8 1229.5L785.0 1232.2L786.3 1234.7L787.4 1237.2L788.8 1239.7L790.4 1242.2L791.3 1243.5L792.8 1244.7L793.8 1245.6ZM713.6 1142.8L715.1 1142.2L716.1 1141.5L717.3 1139.7L717.7 1137.1L716.1 1135.1L713.6 1136.3L713.0 1137.1L711.9 1139.7L712.6 1142.2L713.6 1142.8Z" fill="#dc6e57" fill-rule="evenodd"/>
<path d="M793.8 1241.0L796.3 1241.8L798.8 1241.1L800.5 1239.7L801.3 1239.1L802.8 1237.2L803.8 1235.9L804.7 1234.7L806.3 1232.4L808.7 1229.7L811.3 1227.9L813.3 1227.2L813.8 1227.0L816.3 1226.7L818.8 1226.5L821.4 1226.5L823.9 1226.5L823.9 1224.7L823.9 1222.2L823.9 1221.5L821.4 1221.5L818.8 1221.6L816.3 1221.7L813.8 1222.2L811.3 1223.2L809.4 1224.7L808.8 1225.1L807.1 1227.2L806.3 1228.1L805.2 1229.7L803.8 1231.7L803.4 1232.2L801.6 1234.7L798.9 1237.2L796.3 1238.1L794.0 1237.2L791.6 1234.7L790.0 1232.2L788.8 1229.8L787.6 1227.2L786.5 1224.7L786.3 1224.2L785.3 1222.2L784.0 1219.7L783.8 1219.2L782.4 1217.2L781.3 1215.5L780.4 1214.7L778.8 1213.0L777.3 1212.2L776.3 1211.6L773.8 1210.9L771.3 1211.0L768.8 1211.4L766.2 1212.0L765.3 1212.2L763.7 1212.5L761.2 1213.0L758.7 1213.5L756.2 1214.0L753.7 1214.4L752.1 1214.7L751.2 1214.8L748.7 1215.2L746.2 1215.5L743.7 1215.7L741.2 1215.9L738.7 1216.1L736.2 1216.2L733.7 1216.2L731.2 1216.2L728.7 1216.2L726.2 1216.2L723.7 1216.2L721.2 1216.2L718.6 1216.2L716.1 1216.2L713.6 1216.2L711.1 1216.2L708.6 1216.1L706.1 1216.1L703.6 1216.1L701.1 1216.1L698.6 1216.1L696.1 1216.1L693.6 1216.1L691.1 1216.1L688.6 1216.1L686.1 1216.1L683.6 1216.1L681.1 1216.0L678.6 1216.0L676.1 1216.0L673.6 1216.0L671.1 1216.0L668.5 1216.0L666.0 1216.0L663.5 1216.0L661.0 1215.9L658.5 1215.9L656.0 1215.9L653.5 1215.9L651.0 1215.9L648.5 1215.9L646.0 1215.8L643.5 1215.8L641.0 1215.8L638.5 1215.8L636.0 1215.8L633.5 1215.7L631.0 1215.7L628.5 1215.7L626.0 1215.6L623.5 1215.6L621.0 1215.5L618.4 1215.4L615.9 1215.4L613.4 1215.3L610.9 1215.2L608.4 1215.1L605.9 1215.0L603.4 1214.9L600.9 1214.7L600.1 1214.7L598.4 1214.6L595.9 1214.5L593.4 1214.4L590.9 1214.2L588.4 1214.1L585.9 1213.9L583.4 1213.8L580.9 1213.6L578.4 1213.5L575.9 1213.2L573.4 1212.8L570.9 1212.3L570.2 1212.2L568.4 1211.8L565.8 1211.2L563.3 1210.6L560.8 1210.0L559.6 1209.7L558.3 1209.3L555.8 1208.5L553.3 1207.7L551.9 1207.2L550.8 1206.5L548.3 1205.0L547.9 1204.7L548.2 1202.2L550.8 1200.8L552.8 1199.7L555.8 1198.7L558.3 1198.0L560.8 1197.2L563.3 1196.6L565.8 1196.0L568.4 1195.4L570.9 1194.8L571.6 1194.7L573.4 1194.4L575.9 1194.0L578.4 1193.6L580.9 1193.5L583.4 1193.4L585.9 1193.2L588.4 1193.1L590.9 1192.9L593.4 1192.8L595.9 1192.7L598.4 1192.5L600.9 1192.4L603.4 1192.3L605.9 1192.2L608.4 1192.1L610.9 1192.0L613.4 1191.9L615.9 1191.8L618.4 1191.8L621.0 1191.7L623.5 1191.6L626.0 1191.6L628.5 1191.6L631.0 1191.5L633.5 1191.5L636.0 1191.5L638.5 1191.5L641.0 1191.5L643.5 1191.4L646.0 1191.4L648.5 1191.4L651.0 1191.4L653.5 1191.4L656.0 1191.4L658.5 1191.4L661.0 1191.3L663.5 1191.3L666.0 1191.3L668.5 1191.3L671.1 1191.3L673.6 1191.3L676.1 1191.3L678.6 1191.3L681.1 1191.3L683.6 1191.3L686.1 1191.2L688.6 1191.2L691.1 1191.2L693.6 1191.2L696.1 1191.2L698.6 1191.2L701.1 1191.2L703.6 1191.2L706.1 1191.2L708.6 1191.2L711.1 1191.2L713.6 1191.2L716.1 1191.2L718.6 1191.2L721.2 1191.2L723.7 1191.1L726.2 1191.1L728.7 1191.1L731.2 1191.1L733.7 1191.1L736.2 1191.1L738.7 1191.1L741.2 1191.2L743.7 1191.4L746.2 1191.5L748.7 1191.7L751.2 1192.0L753.5 1192.2L756.2 1192.5L758.7 1192.8L761.2 1193.2L763.7 1193.6L766.2 1194.1L768.6 1194.7L771.3 1195.4L773.8 1196.6L774.5 1197.2L776.3 1198.5L777.7 1199.7L778.8 1200.5L781.3 1202.1L783.8 1203.4L786.3 1203.9L788.8 1203.9L791.3 1203.7L793.8 1203.3L796.3 1203.0L798.8 1203.0L801.3 1203.4L803.8 1204.3L804.7 1204.7L806.3 1205.5L808.8 1206.6L810.6 1207.2L811.3 1207.5L813.8 1208.1L816.3 1208.3L818.8 1208.4L821.4 1208.4L823.9 1208.4L823.9 1207.2L823.9 1204.7L823.9 1203.4L821.4 1203.4L818.8 1203.4L816.3 1203.3L813.8 1203.2L811.3 1203.0L808.8 1202.5L807.7 1202.2L806.3 1201.8L803.8 1201.2L801.3 1200.7L798.8 1200.5L796.3 1200.7L793.8 1201.0L791.3 1201.3L788.8 1201.2L786.3 1200.7L784.1 1199.7L781.3 1197.6L780.8 1197.2L778.8 1195.1L778.4 1194.7L776.4 1192.2L774.2 1189.7L773.8 1189.2L771.3 1188.1L768.8 1187.8L766.2 1187.7L763.7 1187.8L761.2 1187.9L758.7 1188.0L756.2 1188.0L753.7 1188.1L751.2 1188.1L748.7 1188.1L746.2 1188.0L743.7 1188.0L741.2 1188.0L738.7 1187.9L736.2 1187.9L733.7 1188.0L731.2 1188.0L728.7 1188.0L726.2 1188.0L723.7 1188.1L721.2 1188.1L718.6 1188.1L716.1 1188.1L713.6 1188.1L711.1 1188.1L708.6 1188.1L706.1 1188.1L703.6 1188.1L701.1 1188.1L698.6 1188.2L696.1 1188.2L693.6 1188.2L691.1 1188.2L688.6 1188.2L686.1 1188.2L683.6 1188.2L681.1 1188.2L678.6 1188.3L676.1 1188.3L673.6 1188.3L671.1 1188.3L668.5 1188.3L666.0 1188.3L663.5 1188.4L661.0 1188.4L658.5 1188.4L656.0 1188.4L653.5 1188.4L651.0 1188.5L648.5 1188.5L646.0 1188.5L643.5 1188.5L641.0 1188.6L638.5 1188.6L636.0 1188.6L633.5 1188.6L631.0 1188.7L628.5 1188.7L626.0 1188.8L623.5 1188.8L621.0 1188.9L618.4 1189.0L615.9 1189.1L613.4 1189.2L610.9 1189.3L608.4 1189.4L605.9 1189.6L604.0 1189.7L600.9 1189.9L598.4 1190.0L595.9 1190.2L593.4 1190.3L590.9 1190.5L588.4 1190.7L585.9 1190.8L583.4 1191.0L580.9 1191.2L578.4 1191.4L575.9 1191.7L573.4 1192.2L570.9 1192.6L568.4 1193.1L565.8 1193.6L563.3 1194.2L561.1 1194.7L558.3 1195.4L555.8 1196.0L553.3 1196.6L551.0 1197.2L548.3 1198.0L545.8 1198.9L543.3 1199.7L540.8 1201.0L538.7 1202.2L538.4 1204.7L540.8 1206.2L542.4 1207.2L543.3 1207.5L545.8 1208.3L548.3 1209.1L550.1 1209.7L550.8 1209.9L553.3 1210.5L555.8 1211.1L558.3 1211.8L560.2 1212.2L560.8 1212.3L563.3 1212.9L565.8 1213.4L568.4 1214.0L570.9 1214.4L572.3 1214.7L573.4 1214.9L575.9 1215.3L578.4 1215.6L580.9 1215.8L583.4 1216.0L585.9 1216.2L588.4 1216.4L590.9 1216.5L593.4 1216.7L595.9 1216.9L598.4 1217.0L600.9 1217.2L603.4 1217.3L605.9 1217.5L608.4 1217.6L610.9 1217.8L613.4 1217.9L615.9 1218.0L618.4 1218.1L621.0 1218.2L623.5 1218.3L626.0 1218.4L628.5 1218.4L631.0 1218.5L633.5 1218.5L636.0 1218.5L638.5 1218.6L641.0 1218.6L643.5 1218.6L646.0 1218.7L648.5 1218.7L651.0 1218.7L653.5 1218.8L656.0 1218.8L658.5 1218.8L661.0 1218.8L663.5 1218.9L666.0 1218.9L668.5 1218.9L671.1 1218.9L673.6 1218.9L676.1 1219.0L678.6 1219.0L681.1 1219.0L683.6 1219.0L686.1 1219.0L688.6 1219.1L691.1 1219.1L693.6 1219.1L696.1 1219.1L698.6 1219.1L701.1 1219.1L703.6 1219.1L706.1 1219.1L708.6 1219.2L711.1 1219.2L713.6 1219.2L716.1 1219.2L718.6 1219.2L721.2 1219.2L723.7 1219.2L726.2 1219.2L728.7 1219.2L731.2 1219.3L733.7 1219.3L736.2 1219.2L738.7 1219.2L741.2 1219.1L743.7 1218.9L746.2 1218.7L748.7 1218.5L751.2 1218.2L753.7 1217.9L756.2 1217.6L758.7 1217.3L761.2 1216.9L763.7 1216.6L766.2 1216.2L768.8 1215.9L771.3 1215.6L773.8 1215.7L776.3 1216.5L777.4 1217.2L778.8 1218.1L780.5 1219.7L781.3 1220.5L782.5 1222.2L783.8 1224.1L784.1 1224.7L785.4 1227.2L786.3 1229.0L786.6 1229.7L787.7 1232.2L788.8 1234.3L790.4 1237.2L791.3 1238.5L792.5 1239.7L793.8 1241.0Z" fill="#c94741" fill-rule="evenodd"/>
<path d="M796.3 1238.1L798.8 1237.3L801.3 1235.0L803.4 1232.2L803.8 1231.7L805.2 1229.7L806.3 1228.1L807.1 1227.2L808.8 1225.1L809.4 1224.7L811.3 1223.2L813.8 1222.2L816.3 1221.7L818.8 1221.6L821.4 1221.5L823.9 1221.5L823.9 1219.7L823.9 1217.2L823.9 1214.7L823.9 1212.2L823.9 1209.7L823.9 1208.4L821.4 1208.4L818.8 1208.4L816.3 1208.3L813.8 1208.1L811.3 1207.5L810.6 1207.2L808.8 1206.6L806.3 1205.5L804.7 1204.7L803.8 1204.3L801.3 1203.4L798.8 1203.0L796.3 1203.0L793.8 1203.3L791.3 1203.7L788.8 1203.9L786.3 1203.9L783.8 1203.4L781.4 1202.2L778.8 1200.5L777.7 1199.7L776.3 1198.5L774.5 1197.2L773.8 1196.6L771.3 1195.4L768.8 1194.7L766.2 1194.1L763.7 1193.6L761.2 1193.2L758.7 1192.8L756.2 1192.5L753.7 1192.2L751.2 1192.0L748.7 1191.7L746.2 1191.5L743.7 1191.4L741.2 1191.2L738.7 1191.1L736.2 1191.1L733.7 1191.1L731.2 1191.1L728.7 1191.1L726.2 1191.1L723.7 1191.1L721.2 1191.2L718.6 1191.2L716.1 1191.2L713.6 1191.2L711.1 1191.2L708.6 1191.2L706.1 1191.2L703.6 1191.2L701.1 1191.2L698.6 1191.2L696.1 1191.2L693.6 1191.2L691.1 1191.2L688.6 1191.2L686.1 1191.2L683.6 1191.3L681.1 1191.3L678.6 1191.3L676.1 1191.3L673.6 1191.3L671.1 1191.3L668.5 1191.3L666.0 1191.3L663.5 1191.3L661.0 1191.3L658.5 1191.4L656.0 1191.4L653.5 1191.4L651.0 1191.4L648.5 1191.4L646.0 1191.4L643.5 1191.4L641.0 1191.5L638.5 1191.5L636.0 1191.5L633.5 1191.5L631.0 1191.5L628.5 1191.6L626.0 1191.6L623.5 1191.6L621.0 1191.7L618.4 1191.8L615.9 1191.8L613.4 1191.9L610.9 1192.0L608.4 1192.1L606.2 1192.2L603.4 1192.3L600.9 1192.4L598.4 1192.5L595.9 1192.7L593.4 1192.8L590.9 1192.9L588.4 1193.1L585.9 1193.2L583.4 1193.4L580.9 1193.5L578.4 1193.6L575.9 1194.0L573.4 1194.4L571.6 1194.7L570.9 1194.8L568.4 1195.4L565.8 1196.0L563.3 1196.6L560.8 1197.2L558.3 1198.0L555.8 1198.7L553.3 1199.5L550.8 1200.8L548.3 1202.2L547.9 1204.7L548.3 1205.0L550.8 1206.5L551.9 1207.2L553.3 1207.7L555.8 1208.5L558.3 1209.3L559.6 1209.7L560.8 1210.0L563.3 1210.6L565.8 1211.2L568.4 1211.8L570.2 1212.2L570.9 1212.3L573.4 1212.8L575.9 1213.2L578.4 1213.5L580.9 1213.6L583.4 1213.8L585.9 1213.9L588.4 1214.1L590.9 1214.2L593.4 1214.4L595.9 1214.5L598.4 1214.6L600.1 1214.7L600.9 1214.7L603.4 1214.9L605.9 1215.0L608.4 1215.1L610.9 1215.2L613.4 1215.3L615.9 1215.4L618.4 1215.4L621.0 1215.5L623.5 1215.6L626.0 1215.6L628.5 1215.7L631.0 1215.7L633.5 1215.7L636.0 1215.8L638.5 1215.8L641.0 1215.8L643.5 1215.8L646.0 1215.8L648.5 1215.9L651.0 1215.9L653.5 1215.9L656.0 1215.9L658.5 1215.9L661.0 1215.9L663.5 1216.0L666.0 1216.0L668.5 1216.0L671.1 1216.0L673.6 1216.0L676.1 1216.0L678.6 1216.0L681.1 1216.0L683.6 1216.1L686.1 1216.1L688.6 1216.1L691.1 1216.1L693.6 1216.1L696.1 1216.1L698.6 1216.1L701.1 1216.1L703.6 1216.1L706.1 1216.1L708.6 1216.1L711.1 1216.2L713.6 1216.2L716.1 1216.2L718.6 1216.2L721.2 1216.2L723.7 1216.2L726.2 1216.2L728.7 1216.2L731.2 1216.2L733.7 1216.2L736.2 1216.2L738.7 1216.1L741.2 1215.9L743.7 1215.7L746.2 1215.5L748.7 1215.2L751.2 1214.8L752.1 1214.7L753.7 1214.4L756.2 1214.0L758.7 1213.5L761.2 1213.0L763.7 1212.5L765.3 1212.2L766.2 1212.0L768.8 1211.4L771.3 1211.0L773.8 1210.9L776.3 1211.6L777.3 1212.2L778.8 1213.0L780.4 1214.7L781.3 1215.5L782.4 1217.2L783.8 1219.2L784.0 1219.7L785.3 1222.2L786.3 1224.2L786.5 1224.7L787.6 1227.2L788.8 1229.7L790.0 1232.2L791.3 1234.4L793.8 1237.1L796.3 1238.1ZM796.3 1234.7L793.8 1233.7L792.5 1232.2L791.3 1230.6L790.8 1229.7L789.6 1227.2L788.8 1225.4L788.5 1224.7L787.5 1222.2L786.5 1219.7L786.3 1219.0L785.5 1217.2L784.7 1214.7L784.0 1212.2L784.1 1209.7L786.3 1207.9L787.6 1207.2L788.8 1206.9L791.3 1206.1L793.8 1205.6L796.3 1205.3L798.8 1205.4L801.3 1206.2L803.2 1207.2L803.8 1207.6L806.3 1209.6L808.8 1212.2L810.3 1214.7L810.0 1217.2L808.8 1219.2L808.7 1219.7L807.2 1222.2L806.3 1223.5L805.7 1224.7L804.1 1227.2L803.8 1227.7L802.5 1229.7L801.3 1231.4L800.5 1232.2L798.8 1233.9L796.3 1234.7ZM599.9 1212.2L598.4 1212.1L595.9 1212.0L593.4 1211.9L590.9 1211.8L588.4 1211.7L585.9 1211.6L583.4 1211.5L580.9 1211.4L578.4 1211.3L575.9 1210.9L573.4 1210.5L570.9 1210.0L569.4 1209.7L568.4 1209.4L565.8 1208.6L563.3 1207.8L561.4 1207.2L560.8 1206.8L558.3 1205.3L557.4 1204.7L557.8 1202.2L558.3 1201.9L560.8 1200.6L562.4 1199.7L563.3 1199.4L565.8 1198.6L568.4 1197.9L570.9 1197.2L573.4 1196.7L575.9 1196.3L578.4 1196.0L580.9 1195.9L583.4 1195.7L585.9 1195.6L588.4 1195.5L590.9 1195.4L593.4 1195.3L595.9 1195.2L598.4 1195.1L600.9 1195.0L603.4 1194.9L605.9 1194.9L608.4 1194.8L610.9 1194.7L613.4 1194.6L615.9 1194.6L618.4 1194.5L621.0 1194.5L623.5 1194.4L626.0 1194.4L628.5 1194.4L631.0 1194.4L633.5 1194.4L636.0 1194.3L638.5 1194.3L641.0 1194.3L643.5 1194.3L646.0 1194.3L648.5 1194.3L651.0 1194.3L653.5 1194.3L656.0 1194.3L658.5 1194.3L661.0 1194.2L663.5 1194.2L666.0 1194.2L668.5 1194.2L671.1 1194.2L673.6 1194.2L676.1 1194.2L678.6 1194.2L681.1 1194.2L683.6 1194.2L686.1 1194.2L688.6 1194.2L691.1 1194.2L693.6 1194.2L696.1 1194.2L698.6 1194.2L701.1 1194.2L703.6 1194.2L706.1 1194.2L708.6 1194.2L711.1 1194.2L713.6 1194.1L716.1 1194.1L718.6 1194.1L721.2 1194.1L723.7 1194.1L726.2 1194.1L728.7 1194.1L731.2 1194.1L733.7 1194.1L736.2 1194.1L738.7 1194.2L741.2 1194.4L743.7 1194.6L746.2 1195.0L748.7 1195.4L751.2 1195.8L753.7 1196.4L756.2 1197.0L757.0 1197.2L758.7 1197.8L761.2 1198.8L763.3 1199.7L763.7 1200.0L766.2 1201.9L766.8 1204.7L766.2 1205.1L763.7 1207.1L761.2 1208.2L758.7 1209.2L757.4 1209.7L756.2 1210.0L753.7 1210.7L751.2 1211.3L748.7 1211.8L746.6 1212.2L743.7 1212.6L741.2 1212.9L738.7 1213.1L736.2 1213.2L733.7 1213.2L731.2 1213.2L728.7 1213.2L726.2 1213.2L723.7 1213.2L721.2 1213.2L718.6 1213.2L716.1 1213.2L713.6 1213.2L711.1 1213.2L708.6 1213.2L706.1 1213.2L703.6 1213.2L701.1 1213.2L698.6 1213.2L696.1 1213.2L693.6 1213.2L691.1 1213.2L688.6 1213.2L686.1 1213.1L683.6 1213.1L681.1 1213.1L678.6 1213.1L676.1 1213.1L673.6 1213.1L671.1 1213.1L668.5 1213.1L666.0 1213.1L663.5 1213.1L661.0 1213.1L658.5 1213.1L656.0 1213.1L653.5 1213.0L651.0 1213.0L648.5 1213.0L646.0 1213.0L643.5 1213.0L641.0 1213.0L638.5 1213.0L636.0 1213.0L633.5 1212.9L631.0 1212.9L628.5 1212.9L626.0 1212.9L623.5 1212.8L621.0 1212.8L618.4 1212.7L615.9 1212.7L613.4 1212.6L610.9 1212.6L608.4 1212.5L605.9 1212.4L603.4 1212.3L600.9 1212.2L599.9 1212.2Z" fill="#b61f2e" fill-rule="evenodd"/>
<path d="M796.3 1234.7L798.8 1233.9L800.5 1232.2L801.3 1231.4L802.5 1229.7L803.8 1227.7L804.1 1227.2L805.7 1224.7L806.3 1223.5L807.2 1222.2L808.7 1219.7L808.8 1219.2L810.0 1217.2L810.3 1214.7L808.8 1212.2L806.5 1209.7L803.8 1207.6L803.2 1207.2L801.3 1206.2L798.8 1205.4L796.3 1205.3L793.8 1205.6L791.3 1206.1L788.8 1206.9L787.6 1207.2L786.3 1207.9L784.1 1209.7L784.0 1212.2L784.7 1214.7L785.5 1217.2L786.3 1219.0L786.5 1219.7L787.5 1222.2L788.5 1224.7L788.8 1225.4L789.6 1227.2L790.8 1229.7L791.3 1230.6L792.5 1232.2L793.8 1233.7L796.3 1234.7ZM793.3 1229.7L791.6 1227.2L791.3 1226.7L790.4 1224.7L789.4 1222.2L788.8 1220.2L788.0 1217.2L787.8 1214.7L788.1 1212.2L788.8 1211.2L790.1 1209.7L791.3 1209.0L793.8 1208.0L796.3 1207.6L798.8 1207.9L801.3 1209.1L802.1 1209.7L803.8 1211.7L804.3 1212.2L805.4 1214.7L805.6 1217.2L805.2 1219.7L804.3 1222.2L803.8 1223.1L803.1 1224.7L801.7 1227.2L801.3 1227.7L799.6 1229.7L798.8 1230.6L796.3 1231.5L793.8 1230.3L793.3 1229.7ZM600.9 1212.2L603.4 1212.3L605.9 1212.4L608.4 1212.5L610.9 1212.6L613.4 1212.6L615.9 1212.7L618.4 1212.7L621.0 1212.8L623.5 1212.8L626.0 1212.9L628.5 1212.9L631.0 1212.9L633.5 1212.9L636.0 1213.0L638.5 1213.0L641.0 1213.0L643.5 1213.0L646.0 1213.0L648.5 1213.0L651.0 1213.0L653.5 1213.0L656.0 1213.1L658.5 1213.1L661.0 1213.1L663.5 1213.1L666.0 1213.1L668.5 1213.1L671.1 1213.1L673.6 1213.1L676.1 1213.1L678.6 1213.1L681.1 1213.1L683.6 1213.1L686.1 1213.1L688.6 1213.2L691.1 1213.2L693.6 1213.2L696.1 1213.2L698.6 1213.2L701.1 1213.2L703.6 1213.2L706.1 1213.2L708.6 1213.2L711.1 1213.2L713.6 1213.2L716.1 1213.2L718.6 1213.2L721.2 1213.2L723.7 1213.2L726.2 1213.2L728.7 1213.2L731.2 1213.2L733.7 1213.2L736.2 1213.2L738.7 1213.1L741.2 1212.9L743.7 1212.6L746.2 1212.3L748.7 1211.8L751.2 1211.3L753.7 1210.7L756.2 1210.0L757.4 1209.7L758.7 1209.2L761.2 1208.2L763.6 1207.2L766.2 1205.1L766.8 1204.7L766.6 1202.2L763.7 1200.0L763.3 1199.7L761.2 1198.8L758.7 1197.8L757.0 1197.2L756.2 1197.0L753.7 1196.4L751.2 1195.8L748.7 1195.4L746.2 1195.0L744.3 1194.7L741.2 1194.4L738.7 1194.2L736.2 1194.1L733.7 1194.1L731.2 1194.1L728.7 1194.1L726.2 1194.1L723.7 1194.1L721.2 1194.1L718.6 1194.1L716.1 1194.1L713.6 1194.1L711.1 1194.2L708.6 1194.2L706.1 1194.2L703.6 1194.2L701.1 1194.2L698.6 1194.2L696.1 1194.2L693.6 1194.2L691.1 1194.2L688.6 1194.2L686.1 1194.2L683.6 1194.2L681.1 1194.2L678.6 1194.2L676.1 1194.2L673.6 1194.2L671.1 1194.2L668.5 1194.2L666.0 1194.2L663.5 1194.2L661.0 1194.2L658.5 1194.3L656.0 1194.3L653.5 1194.3L651.0 1194.3L648.5 1194.3L646.0 1194.3L643.5 1194.3L641.0 1194.3L638.5 1194.3L636.0 1194.3L633.5 1194.4L631.0 1194.4L628.5 1194.4L626.0 1194.4L623.5 1194.4L621.0 1194.5L618.4 1194.5L615.9 1194.6L613.4 1194.6L610.9 1194.7L608.4 1194.8L605.9 1194.9L603.4 1194.9L600.9 1195.0L598.4 1195.1L595.9 1195.2L593.4 1195.3L590.9 1195.4L588.4 1195.5L585.9 1195.6L583.4 1195.7L580.9 1195.9L578.4 1196.0L575.9 1196.3L573.4 1196.7L570.9 1197.2L568.4 1197.9L565.8 1198.6L563.3 1199.4L562.4 1199.7L560.8 1200.6L558.3 1201.9L557.8 1202.2L557.4 1204.7L558.3 1205.3L560.8 1206.8L561.4 1207.2L563.3 1207.8L565.8 1208.6L568.4 1209.4L569.4 1209.7L570.9 1210.0L573.4 1210.5L575.9 1210.9L578.4 1211.3L580.9 1211.4L583.4 1211.5L585.9 1211.6L588.4 1211.7L590.9 1211.8L593.4 1211.9L595.9 1212.0L598.4 1212.1L599.9 1212.2L600.9 1212.2ZM623.0 1209.7L621.0 1209.7L618.4 1209.6L615.9 1209.6L613.4 1209.5L610.9 1209.5L608.4 1209.4L605.9 1209.4L603.4 1209.3L600.9 1209.3L598.4 1209.2L595.9 1209.1L593.4 1209.0L590.9 1209.0L588.4 1208.9L585.9 1208.8L583.4 1208.7L580.9 1208.7L578.4 1208.6L575.9 1208.2L573.4 1207.6L571.6 1207.2L570.9 1206.8L568.4 1205.5L567.0 1204.7L567.5 1202.2L568.4 1201.7L570.9 1200.6L573.0 1199.7L575.9 1199.1L578.4 1198.7L580.9 1198.6L583.4 1198.6L585.9 1198.5L588.4 1198.4L590.9 1198.3L593.4 1198.3L595.9 1198.2L598.4 1198.2L600.9 1198.1L603.4 1198.0L605.9 1198.0L608.4 1197.9L610.9 1197.9L613.4 1197.8L615.9 1197.8L618.4 1197.8L621.0 1197.7L623.5 1197.7L626.0 1197.7L628.5 1197.6L631.0 1197.6L633.5 1197.6L636.0 1197.6L638.5 1197.6L641.0 1197.6L643.5 1197.6L646.0 1197.6L648.5 1197.6L651.0 1197.6L653.5 1197.6L656.0 1197.6L658.5 1197.6L661.0 1197.6L663.5 1197.6L666.0 1197.6L668.5 1197.6L671.1 1197.5L673.6 1197.5L676.1 1197.5L678.6 1197.5L681.1 1197.5L683.6 1197.5L686.1 1197.5L688.6 1197.5L691.1 1197.5L693.6 1197.5L696.1 1197.5L698.6 1197.5L701.1 1197.5L703.6 1197.5L706.1 1197.5L708.6 1197.5L711.1 1197.5L713.6 1197.5L716.1 1197.5L718.6 1197.5L721.2 1197.5L723.7 1197.5L726.2 1197.5L728.7 1197.5L731.2 1197.5L733.7 1197.5L736.2 1197.5L738.7 1197.7L741.2 1198.1L743.7 1198.6L746.2 1199.1L748.1 1199.7L748.7 1200.0L751.2 1201.5L752.3 1202.2L752.6 1204.7L751.2 1205.8L749.2 1207.2L746.2 1208.1L743.7 1208.8L741.2 1209.3L738.7 1209.7L736.2 1209.9L733.7 1209.9L731.2 1209.9L728.7 1209.9L726.2 1209.9L723.7 1209.9L721.2 1209.9L718.6 1209.9L716.1 1209.9L713.6 1209.9L711.1 1209.9L708.6 1209.9L706.1 1209.9L703.6 1209.9L701.1 1209.9L698.6 1209.9L696.1 1209.9L693.6 1209.9L691.1 1209.9L688.6 1209.9L686.1 1209.9L683.6 1209.9L681.1 1209.9L678.6 1209.9L676.1 1209.9L673.6 1209.9L671.1 1209.9L668.5 1209.8L666.0 1209.8L663.5 1209.8L661.0 1209.8L658.5 1209.8L656.0 1209.8L653.5 1209.8L651.0 1209.8L648.5 1209.8L646.0 1209.8L643.5 1209.8L641.0 1209.8L638.5 1209.8L636.0 1209.8L633.5 1209.8L631.0 1209.8L628.5 1209.7L626.0 1209.7L623.5 1209.7Z" fill="#900d26" fill-rule="evenodd"/>
<path d="M793.8 1230.3L796.3 1231.5L798.8 1230.6L799.6 1229.7L801.3 1227.7L801.7 1227.2L803.1 1224.7L803.8 1223.1L804.3 1222.2L805.2 1219.7L805.6 1217.2L805.4 1214.7L804.3 1212.2L803.8 1211.7L802.1 1209.7L801.3 1209.1L798.8 1207.9L796.3 1207.6L793.8 1208.0L791.3 1209.0L790.1 1209.7L788.8 1211.2L788.1 1212.2L787.8 1214.7L788.0 1217.2L788.6 1219.7L789.4 1222.2L790.4 1224.7L791.3 1226.7L791.6 1227.2L793.3 1229.7L793.8 1230.3ZM623.5 1209.7L626.0 1209.7L628.5 1209.7L631.0 1209.8L633.5 1209.8L636.0 1209.8L638.5 1209.8L641.0 1209.8L643.5 1209.8L646.0 1209.8L648.5 1209.8L651.0 1209.8L653.5 1209.8L656.0 1209.8L658.5 1209.8L661.0 1209.8L663.5 1209.8L666.0 1209.8L668.5 1209.8L671.1 1209.9L673.6 1209.9L676.1 1209.9L678.6 1209.9L681.1 1209.9L683.6 1209.9L686.1 1209.9L688.6 1209.9L691.1 1209.9L693.6 1209.9L696.1 1209.9L698.6 1209.9L701.1 1209.9L703.6 1209.9L706.1 1209.9L708.6 1209.9L711.1 1209.9L713.6 1209.9L716.1 1209.9L718.6 1209.9L721.2 1209.9L723.7 1209.9L726.2 1209.9L728.7 1209.9L731.2 1209.9L733.7 1209.9L736.2 1209.9L738.3 1209.7L741.2 1209.3L743.7 1208.8L746.2 1208.1L748.7 1207.4L751.2 1205.8L752.6 1204.7L752.3 1202.2L751.2 1201.5L748.7 1200.0L748.1 1199.7L746.2 1199.1L743.7 1198.6L741.2 1198.1L738.7 1197.7L736.2 1197.5L733.7 1197.5L731.2 1197.5L728.7 1197.5L726.2 1197.5L723.7 1197.5L721.2 1197.5L718.6 1197.5L716.1 1197.5L713.6 1197.5L711.1 1197.5L708.6 1197.5L706.1 1197.5L703.6 1197.5L701.1 1197.5L698.6 1197.5L696.1 1197.5L693.6 1197.5L691.1 1197.5L688.6 1197.5L686.1 1197.5L683.6 1197.5L681.1 1197.5L678.6 1197.5L676.1 1197.5L673.6 1197.5L671.1 1197.5L668.5 1197.6L666.0 1197.6L663.5 1197.6L661.0 1197.6L658.5 1197.6L656.0 1197.6L653.5 1197.6L651.0 1197.6L648.5 1197.6L646.0 1197.6L643.5 1197.6L641.0 1197.6L638.5 1197.6L636.0 1197.6L633.5 1197.6L631.0 1197.6L628.5 1197.6L626.0 1197.7L623.5 1197.7L621.0 1197.7L618.4 1197.8L615.9 1197.8L613.4 1197.8L610.9 1197.9L608.4 1197.9L605.9 1198.0L603.4 1198.0L600.9 1198.1L598.4 1198.2L595.9 1198.2L593.4 1198.3L590.9 1198.3L588.4 1198.4L585.9 1198.5L583.4 1198.6L580.9 1198.6L578.4 1198.7L575.9 1199.1L573.4 1199.6L570.9 1200.6L568.4 1201.7L567.5 1202.2L567.0 1204.7L568.4 1205.5L570.9 1206.8L571.6 1207.2L573.4 1207.6L575.9 1208.2L578.4 1208.6L580.9 1208.7L583.4 1208.7L585.9 1208.8L588.4 1208.9L590.9 1209.0L593.4 1209.0L595.9 1209.1L598.4 1209.2L600.9 1209.3L603.4 1209.3L605.9 1209.4L608.4 1209.4L610.9 1209.5L613.4 1209.5L615.9 1209.6L618.4 1209.6L621.0 1209.7L623.0 1209.7Z" fill="#67001f" fill-rule="evenodd"/>
</g></g>
<path d="M77.6 1112.6L86.9 1114.4L92.7 1112.4L99.9 1110.1L104.9 1110.1L111.2 1109.6L116.9 1108.9L120.0 1109.6L118.2 1110.9L119.0 1112.6L117.7 1116.4L120.0 1118.4L123.7 1119.9L130.5 1121.1L131.2 1123.4L136.2 1124.9L140.0 1126.4L142.5 1124.6L142.5 1120.9L146.3 1119.9L150.0 1120.6L155.0 1122.9L161.3 1124.1L165.0 1124.9L167.6 1123.6L170.1 1123.4L173.3 1124.1L173.8 1127.1L174.1 1127.4L176.3 1132.1L177.6 1135.9L180.1 1140.9L181.8 1143.4L185.1 1148.4L185.8 1150.9L185.8 1154.7L188.8 1157.2L190.8 1162.7L195.1 1165.9L198.9 1169.7L200.9 1170.9L200.6 1173.2L203.9 1175.9L207.6 1175.2L213.9 1173.9L220.2 1172.4L220.7 1175.9L218.9 1179.7L217.1 1183.4L213.9 1189.7L210.1 1193.4L206.4 1196.7L201.4 1200.9L197.6 1204.7L195.1 1207.2L193.1 1209.2L191.8 1212.2L190.1 1216.0L190.8 1219.2L191.3 1223.5L192.6 1228.0L193.9 1229.7L194.1 1234.7L194.6 1239.7L191.3 1243.5L186.3 1246.0L183.8 1249.2L180.1 1252.0L180.8 1256.0L181.3 1259.7L181.1 1262.2L176.3 1265.3L174.3 1267.3L174.8 1269.8L173.8 1273.5L171.3 1276.0L168.8 1279.3L165.0 1283.0L161.3 1285.5L157.5 1287.0L152.5 1287.5L147.5 1287.8L142.5 1289.3L139.5 1288.0L138.5 1287.3L138.0 1283.5L138.2 1281.0L135.7 1277.3L133.7 1273.8L130.7 1269.8L130.0 1264.8L128.7 1259.7L127.5 1254.7L123.7 1248.5L122.0 1244.7L122.5 1239.7L124.5 1234.7L126.5 1232.2L127.0 1228.5L125.5 1224.7L124.5 1219.7L123.2 1217.2L123.0 1214.7L122.0 1213.0L120.0 1211.0L116.9 1208.0L114.9 1204.7L115.7 1201.4L116.7 1198.4L116.9 1194.7L116.2 1192.2L113.7 1190.7L109.9 1191.2L107.4 1191.4L104.9 1188.4L102.4 1186.4L98.7 1186.4L94.9 1187.2L92.4 1187.9L89.9 1189.2L87.4 1190.2L83.6 1189.4L79.9 1189.4L73.6 1191.2L69.9 1189.7L65.3 1186.4L62.3 1183.9L59.3 1180.9L58.6 1178.4L56.1 1175.9L54.8 1174.7L50.6 1171.2L50.3 1168.7L48.6 1165.4L51.1 1162.2L51.6 1157.2L52.3 1153.4L51.1 1150.9L49.8 1149.7L50.3 1145.9L52.3 1142.9L54.8 1140.4L55.3 1137.1L58.6 1133.4L60.1 1132.1L64.3 1130.1L67.4 1128.4L68.1 1125.9L67.9 1123.4L69.1 1120.9L71.1 1118.9L73.6 1117.9L76.1 1115.9L77.6 1112.6ZM979.4 1112.6L988.7 1114.4L994.5 1112.4L1001.7 1110.1L1006.7 1110.1L1013.0 1109.6L1018.7 1108.9L1021.8 1109.6L1020.0 1110.9L1020.8 1112.6L1019.5 1116.4L1021.8 1118.4L1025.5 1119.9L1032.3 1121.1L1033.0 1123.4L1038.0 1124.9L1041.8 1126.4L1044.3 1124.6L1044.3 1120.9L1048.1 1119.9L1051.8 1120.6L1056.8 1122.9L1063.1 1124.1L1066.8 1124.9L1069.3 1123.6L1071.9 1123.4L1075.1 1124.1L1075.6 1127.1L1075.9 1127.4L1078.1 1132.1L1079.4 1135.9L1081.9 1140.9L1083.6 1143.4L1086.9 1148.4L1087.6 1150.9L1087.6 1154.7L1090.6 1157.2L1092.6 1162.7L1096.9 1165.9L1100.7 1169.7L1102.7 1170.9L1102.4 1173.2L1105.7 1175.9L1109.4 1175.2L1115.7 1173.9L1122.0 1172.4L1122.5 1175.9L1120.7 1179.7L1118.9 1183.4L1115.7 1189.7L1111.9 1193.4L1108.2 1196.7L1103.2 1200.9L1099.4 1204.7L1096.9 1207.2L1094.9 1209.2L1093.6 1212.2L1091.9 1216.0L1092.6 1219.2L1093.1 1223.5L1094.4 1228.0L1095.7 1229.7L1095.9 1234.7L1096.4 1239.7L1093.1 1243.5L1088.1 1246.0L1085.6 1249.2L1081.9 1252.0L1082.6 1256.0L1083.1 1259.7L1082.9 1262.2L1078.1 1265.3L1076.1 1267.3L1076.6 1269.8L1075.6 1273.5L1073.1 1276.0L1070.6 1279.3L1066.8 1283.0L1063.1 1285.5L1059.3 1287.0L1054.3 1287.5L1049.3 1287.8L1044.3 1289.3L1041.3 1288.0L1040.3 1287.3L1039.8 1283.5L1040.0 1281.0L1037.5 1277.3L1035.5 1273.8L1032.5 1269.8L1031.8 1264.8L1030.5 1259.7L1029.3 1254.7L1025.5 1248.5L1023.8 1244.7L1024.3 1239.7L1026.3 1234.7L1028.3 1232.2L1028.8 1228.5L1027.3 1224.7L1026.3 1219.7L1025.0 1217.2L1024.8 1214.7L1023.8 1213.0L1021.8 1211.0L1018.7 1208.0L1016.7 1204.7L1017.5 1201.4L1018.5 1198.4L1018.7 1194.7L1018.0 1192.2L1015.5 1190.7L1011.7 1191.2L1009.2 1191.4L1006.7 1188.4L1004.2 1186.4L1000.5 1186.4L996.7 1187.2L994.2 1187.9L991.7 1189.2L989.2 1190.2L985.4 1189.4L981.7 1189.4L975.4 1191.2L971.7 1189.7L967.1 1186.4L964.1 1183.9L961.1 1180.9L960.4 1178.4L957.9 1175.9L956.6 1174.7L952.4 1171.2L952.1 1168.7L950.4 1165.4L952.9 1162.2L953.4 1157.2L954.1 1153.4L952.9 1150.9L951.6 1149.7L952.1 1145.9L954.1 1142.9L956.6 1140.4L957.1 1137.1L960.4 1133.4L961.9 1132.1L966.1 1130.1L969.1 1128.4L969.9 1125.9L969.7 1123.4L970.9 1120.9L972.9 1118.9L975.4 1117.9L977.9 1115.9L979.4 1112.6ZM165.0 1099.1L162.5 1097.4L162.3 1095.1L164.0 1093.4L164.3 1091.4L166.8 1089.1L169.6 1085.9L172.6 1085.9L175.1 1087.1L173.8 1088.6L176.3 1090.9L180.1 1090.1L183.8 1088.9L181.3 1087.1L180.1 1086.6L184.6 1085.1L188.8 1084.4L190.8 1084.1L187.6 1086.4L186.3 1088.4L185.1 1089.6L187.1 1090.4L190.1 1092.1L191.8 1093.4L195.1 1095.1L196.6 1098.1L192.6 1099.6L188.8 1099.9L185.1 1099.4L182.6 1098.4L180.1 1097.1L176.3 1097.1L172.6 1097.9L170.1 1099.4L166.3 1099.1L165.0 1099.1ZM78.4 1112.1L76.6 1110.9L74.9 1109.1L70.1 1109.6L70.4 1105.9L68.6 1105.4L70.1 1102.1L70.6 1099.1L70.1 1095.9L69.4 1094.1L72.4 1092.9L78.1 1093.1L82.9 1093.4L87.9 1093.6L89.4 1090.4L89.6 1087.6L86.9 1084.4L81.6 1082.6L80.6 1081.1L84.9 1080.1L88.4 1080.6L87.6 1077.9L89.4 1078.6L92.9 1078.4L96.2 1076.8L96.4 1074.8L100.4 1073.8L102.4 1072.1L104.4 1069.6L107.4 1068.6L109.9 1068.1L113.7 1067.8L113.9 1065.8L113.2 1063.3L112.7 1059.6L116.2 1059.1L119.0 1057.8L118.2 1060.8L119.5 1061.6L116.9 1063.8L117.5 1065.8L120.0 1067.1L123.7 1066.1L128.0 1067.3L132.5 1066.3L138.7 1065.3L142.0 1066.1L145.0 1063.8L145.0 1060.1L147.5 1058.1L151.3 1059.6L153.5 1057.6L151.3 1055.3L151.0 1054.1L155.0 1053.3L162.5 1053.3L168.1 1052.3L163.8 1050.8L157.5 1051.1L154.8 1051.8L149.8 1052.6L145.8 1050.1L146.3 1047.1L145.5 1044.6L148.8 1042.6L153.8 1040.1L155.8 1038.3L152.5 1037.6L148.0 1038.1L145.8 1040.8L143.8 1042.8L138.7 1045.1L135.7 1047.1L135.5 1050.3L139.5 1052.6L137.5 1054.6L134.0 1057.6L133.5 1060.6L131.2 1061.8L128.2 1063.3L124.7 1063.6L123.7 1061.3L122.2 1057.8L120.5 1054.6L119.0 1052.6L118.2 1054.3L114.9 1055.8L112.2 1056.8L109.9 1057.1L106.7 1055.3L105.4 1051.3L104.9 1048.3L105.7 1046.6L108.7 1045.1L113.7 1043.3L117.5 1042.1L120.0 1040.1L123.7 1037.1L126.2 1034.1L131.2 1031.3L136.2 1029.1L140.0 1027.6L146.3 1026.6L151.3 1025.1L157.0 1024.3L162.5 1024.6L167.6 1026.3L170.1 1027.6L175.1 1028.6L182.6 1029.1L188.8 1031.3L195.1 1033.3L195.1 1035.8L190.1 1036.8L182.6 1036.1L175.1 1035.3L177.6 1038.3L179.6 1040.8L183.8 1042.1L186.3 1041.3L187.6 1040.1L192.6 1040.6L193.1 1038.1L196.4 1036.1L201.4 1036.6L202.6 1034.6L202.6 1030.8L207.6 1031.6L207.6 1034.8L211.4 1034.6L213.9 1032.8L220.2 1030.8L226.4 1031.3L228.9 1031.3L235.2 1030.6L240.2 1029.8L244.0 1027.8L245.2 1029.6L252.7 1028.8L257.7 1029.8L261.5 1030.8L264.0 1031.6L260.2 1028.3L259.7 1025.8L261.5 1023.3L265.2 1019.8L272.8 1019.6L275.3 1023.3L274.0 1027.1L274.5 1030.8L277.0 1033.3L272.8 1036.3L277.8 1035.1L276.5 1032.1L280.3 1029.6L277.3 1025.8L280.3 1022.1L285.3 1022.1L287.8 1024.6L292.8 1022.1L294.1 1018.3L302.8 1017.8L310.3 1015.8L307.8 1014.6L315.3 1013.3L327.9 1012.0L337.9 1011.3L342.9 1010.8L353.7 1007.8L357.9 1008.8L362.9 1010.3L373.0 1010.8L376.7 1012.8L368.0 1016.3L375.5 1017.6L380.5 1017.8L389.2 1018.3L400.5 1018.1L410.5 1020.8L416.8 1023.3L420.6 1025.1L425.6 1023.3L433.1 1023.1L441.8 1023.3L443.1 1020.8L448.1 1020.1L458.1 1021.1L468.1 1023.3L473.2 1024.8L485.7 1024.6L493.2 1026.3L493.2 1028.1L498.2 1028.1L505.7 1028.3L513.2 1027.3L519.5 1027.1L520.8 1029.6L530.8 1027.6L538.3 1028.6L543.3 1029.6L550.8 1031.3L555.8 1033.8L563.3 1034.8L568.9 1037.1L563.3 1038.3L562.1 1040.8L558.3 1041.3L548.3 1039.6L545.8 1038.3L540.8 1040.8L537.0 1040.3L540.8 1044.6L542.0 1046.3L530.8 1047.6L523.3 1050.1L518.2 1052.1L508.2 1052.6L503.2 1052.3L500.7 1054.6L498.2 1057.1L501.5 1059.6L500.2 1062.1L497.7 1064.8L493.2 1067.1L489.4 1069.6L484.9 1074.6L483.2 1070.8L482.2 1064.6L482.4 1059.6L485.2 1057.1L490.7 1054.6L495.7 1050.8L502.0 1047.8L503.2 1045.8L493.2 1048.3L485.7 1048.1L478.2 1053.3L470.7 1054.1L463.1 1053.8L450.6 1053.8L444.4 1057.8L438.1 1060.8L431.1 1065.1L435.6 1067.1L438.1 1067.6L443.1 1069.1L446.6 1069.6L444.4 1075.8L444.4 1080.9L439.3 1085.9L434.3 1090.1L430.6 1093.4L425.6 1095.1L423.1 1094.1L419.8 1096.4L417.3 1098.9L414.3 1102.1L411.8 1103.4L416.3 1109.6L416.5 1113.4L411.8 1115.4L408.8 1115.9L409.3 1112.1L409.5 1108.4L405.5 1107.1L406.3 1103.9L403.8 1102.4L398.0 1104.6L396.3 1105.1L397.5 1100.9L395.5 1099.9L390.5 1104.1L387.2 1104.6L390.0 1107.9L391.2 1109.1L395.0 1107.6L399.3 1108.9L394.3 1111.6L391.2 1114.6L393.8 1118.4L397.5 1122.9L397.5 1125.1L394.3 1126.4L398.0 1127.6L396.8 1131.4L394.3 1134.6L392.0 1138.4L389.2 1140.7L385.5 1143.4L380.5 1145.4L378.0 1146.4L375.5 1147.2L370.5 1148.7L369.0 1148.9L368.5 1151.4L367.2 1148.4L364.2 1147.9L360.4 1149.7L357.9 1153.4L357.4 1155.9L360.4 1159.7L364.2 1162.2L366.2 1168.4L365.9 1172.7L362.9 1175.2L360.4 1176.4L359.2 1178.4L355.4 1180.7L354.9 1177.2L351.7 1175.7L349.2 1172.2L345.4 1170.4L345.2 1168.4L342.9 1168.9L342.6 1173.4L340.9 1175.9L341.1 1178.9L343.7 1181.4L344.2 1184.2L347.2 1185.2L350.4 1187.9L351.4 1190.9L351.7 1195.2L353.4 1198.7L351.4 1198.4L348.4 1196.4L346.2 1194.7L344.2 1190.9L343.7 1187.2L341.9 1184.9L338.9 1182.2L339.4 1177.7L339.1 1173.4L339.6 1169.7L337.1 1163.4L336.9 1160.9L334.9 1159.9L331.6 1162.4L328.6 1162.2L329.1 1157.7L327.4 1153.9L324.1 1150.2L322.9 1148.4L322.4 1146.2L319.1 1145.9L315.3 1147.2L313.3 1147.9L310.3 1148.7L309.1 1152.2L305.3 1153.2L301.6 1157.2L298.6 1160.2L295.8 1161.7L293.6 1163.4L293.1 1167.2L293.6 1169.7L292.3 1173.4L292.5 1176.4L290.3 1178.9L288.3 1179.9L286.5 1181.9L284.0 1179.7L282.8 1175.9L281.0 1172.2L279.5 1168.4L277.8 1164.7L276.0 1159.7L274.8 1154.7L274.5 1150.9L274.3 1148.4L273.3 1149.7L270.3 1150.2L267.8 1149.7L265.2 1146.4L267.8 1145.2L265.2 1144.7L264.0 1143.4L261.5 1142.2L260.2 1140.2L259.0 1138.6L254.0 1139.1L247.7 1139.4L242.7 1138.9L237.7 1138.1L235.2 1135.1L233.4 1134.4L228.9 1135.6L225.2 1134.6L221.4 1132.4L219.7 1130.1L218.2 1127.1L215.1 1126.1L213.9 1127.1L212.6 1128.4L213.9 1130.9L216.4 1134.1L218.2 1136.4L218.2 1138.4L220.2 1137.1L220.9 1136.9L221.7 1139.7L220.9 1141.2L223.9 1141.7L227.7 1141.7L231.4 1138.4L233.4 1136.4L233.7 1139.7L234.7 1141.7L238.9 1143.2L242.2 1145.9L239.7 1150.9L237.2 1154.7L236.4 1155.9L233.9 1157.4L230.7 1158.4L227.7 1159.7L223.2 1161.7L218.9 1164.7L215.1 1166.7L211.4 1168.4L205.1 1170.2L201.4 1170.4L200.1 1167.2L199.6 1163.4L198.9 1160.2L196.4 1157.2L193.9 1153.4L190.6 1148.9L188.8 1143.4L185.6 1139.7L183.8 1135.9L181.3 1132.6L179.6 1132.1L180.1 1128.4L178.6 1132.1L178.3 1132.6L175.6 1130.6L174.1 1127.4ZM980.2 1112.1L978.4 1110.9L976.7 1109.1L971.9 1109.6L972.2 1105.9L970.4 1105.4L971.9 1102.1L972.4 1099.1L971.9 1095.9L971.2 1094.1L974.2 1092.9L979.9 1093.1L984.7 1093.4L989.7 1093.6L991.2 1090.4L991.4 1087.6L988.7 1084.4L983.4 1082.6L982.4 1081.1L986.7 1080.1L990.2 1080.6L989.4 1077.9L991.2 1078.6L994.7 1078.4L998.0 1076.8L998.2 1074.8L1002.2 1073.8L1004.2 1072.1L1006.2 1069.6L1009.2 1068.6L1011.7 1068.1L1015.5 1067.8L1015.7 1065.8L1015.0 1063.3L1014.5 1059.6L1018.0 1059.1L1020.8 1057.8L1020.0 1060.8L1021.3 1061.6L1018.7 1063.8L1019.2 1065.8L1021.8 1067.1L1025.5 1066.1L1029.8 1067.3L1034.3 1066.3L1040.5 1065.3L1043.8 1066.1L1046.8 1063.8L1046.8 1060.1L1049.3 1058.1L1053.1 1059.6L1055.3 1057.6L1053.1 1055.3L1052.8 1054.1L1056.8 1053.3L1064.3 1053.3L1069.9 1052.3L1065.6 1050.8L1059.3 1051.1L1056.6 1051.8L1051.6 1052.6L1047.6 1050.1L1048.1 1047.1L1047.3 1044.6L1050.6 1042.6L1055.6 1040.1L1057.6 1038.3L1054.3 1037.6L1049.8 1038.1L1047.6 1040.8L1045.6 1042.8L1040.5 1045.1L1037.5 1047.1L1037.3 1050.3L1041.3 1052.6L1039.3 1054.6L1035.8 1057.6L1035.3 1060.6L1033.0 1061.8L1030.0 1063.3L1026.5 1063.6L1025.5 1061.3L1024.0 1057.8L1022.3 1054.6L1020.8 1052.6L1020.0 1054.3L1016.7 1055.8L1014.0 1056.8L1011.7 1057.1L1008.5 1055.3L1007.2 1051.3L1006.7 1048.3L1007.5 1046.6L1010.5 1045.1L1015.5 1043.3L1019.2 1042.1L1021.8 1040.1L1025.5 1037.1L1028.0 1034.1L1033.0 1031.3L1038.0 1029.1L1041.8 1027.6L1048.1 1026.6L1053.1 1025.1L1058.8 1024.3L1064.3 1024.6L1069.3 1026.3L1071.9 1027.6L1076.9 1028.6L1084.4 1029.1L1090.6 1031.3L1096.9 1033.3L1096.9 1035.8L1091.9 1036.8L1084.4 1036.1L1076.9 1035.3L1079.4 1038.3L1081.4 1040.8L1085.6 1042.1L1088.1 1041.3L1089.4 1040.1L1094.4 1040.6L1094.9 1038.1L1098.2 1036.1L1103.2 1036.6L1104.4 1034.6L1104.4 1030.8L1109.4 1031.6L1109.4 1034.8L1113.2 1034.6L1115.7 1032.8L1122.0 1030.8L1128.2 1031.3L1130.7 1031.3L1137.0 1030.6L1142.0 1029.8L1145.8 1027.8L1147.0 1029.6L1154.5 1028.8L1159.5 1029.8L1163.3 1030.8L1165.8 1031.6L1162.0 1028.3L1161.5 1025.8L1163.3 1023.3L1167.0 1019.8L1174.6 1019.6L1177.1 1023.3L1175.8 1027.1L1176.3 1030.8L1178.8 1033.3L1174.6 1036.3L1179.6 1035.1L1178.3 1032.1L1182.1 1029.6L1179.1 1025.8L1182.1 1022.1L1187.1 1022.1L1189.6 1024.6L1194.6 1022.1L1195.9 1018.3L1204.6 1017.8L1212.1 1015.8L1209.6 1014.6L1217.1 1013.3L1229.7 1012.0L1239.7 1011.3L1244.7 1010.8L1255.5 1007.8L1259.7 1008.8L1264.7 1010.3L1274.8 1010.8L1278.5 1012.8L1269.8 1016.3L1277.3 1017.6L1282.3 1017.8L1291.0 1018.3L1302.3 1018.1L1312.3 1020.8L1318.6 1023.3L1322.4 1025.1L1327.4 1023.3L1334.9 1023.1L1343.6 1023.3L1344.9 1020.8L1349.9 1020.1L1359.9 1021.1L1370.0 1023.3L1375.0 1024.8L1387.5 1024.6L1395.0 1026.3L1395.0 1028.1L1400.0 1028.1L1407.5 1028.3L1415.0 1027.3L1421.3 1027.1L1422.6 1029.6L1432.6 1027.6L1440.1 1028.6L1445.1 1029.6L1452.6 1031.3L1457.6 1033.8L1465.1 1034.8L1470.7 1037.1L1465.1 1038.3L1463.9 1040.8L1460.1 1041.3L1450.1 1039.6L1447.6 1038.3L1442.6 1040.8L1438.8 1040.3L1442.6 1044.6L1443.8 1046.3L1432.6 1047.6L1425.1 1050.1L1420.0 1052.1L1410.0 1052.6L1405.0 1052.3L1402.5 1054.6L1400.0 1057.1L1403.3 1059.6L1402.0 1062.1L1399.5 1064.8L1395.0 1067.1L1391.2 1069.6L1386.7 1074.6L1385.0 1070.8L1384.0 1064.6L1384.2 1059.6L1387.0 1057.1L1392.5 1054.6L1397.5 1050.8L1403.8 1047.8L1405.0 1045.8L1395.0 1048.3L1387.5 1048.1L1380.0 1053.3L1372.5 1054.1L1364.9 1053.8L1352.4 1053.8L1346.2 1057.8L1339.9 1060.8L1332.9 1065.1L1337.4 1067.1L1339.9 1067.6L1344.9 1069.1L1348.4 1069.6L1346.2 1075.8L1346.2 1080.9L1341.1 1085.9L1336.1 1090.1L1332.4 1093.4L1327.4 1095.1L1324.9 1094.1L1321.6 1096.4L1319.1 1098.9L1316.1 1102.1L1313.6 1103.4L1318.1 1109.6L1318.3 1113.4L1313.6 1115.4L1310.6 1115.9L1311.1 1112.1L1311.3 1108.4L1307.3 1107.1L1308.1 1103.9L1305.6 1102.4L1299.8 1104.6L1298.1 1105.1L1299.3 1100.9L1297.3 1099.9L1292.3 1104.1L1289.0 1104.6L1291.8 1107.9L1293.0 1109.1L1296.8 1107.6L1301.1 1108.9L1296.1 1111.6L1293.0 1114.6L1295.6 1118.4L1299.3 1122.9L1299.3 1125.1L1296.1 1126.4L1299.8 1127.6L1298.6 1131.4L1296.1 1134.6L1293.8 1138.4L1291.0 1140.7L1287.3 1143.4L1282.3 1145.4L1279.8 1146.4L1277.3 1147.2L1272.3 1148.7L1270.8 1148.9L1270.3 1151.4L1269.0 1148.4L1266.0 1147.9L1262.2 1149.7L1259.7 1153.4L1259.2 1155.9L1262.2 1159.7L1266.0 1162.2L1268.0 1168.4L1267.7 1172.7L1264.7 1175.2L1262.2 1176.4L1261.0 1178.4L1257.2 1180.7L1256.7 1177.2L1253.5 1175.7L1251.0 1172.2L1247.2 1170.4L1247.0 1168.4L1244.7 1168.9L1244.4 1173.4L1242.7 1175.9L1242.9 1178.9L1245.5 1181.4L1246.0 1184.2L1249.0 1185.2L1252.2 1187.9L1253.2 1190.9L1253.5 1195.2L1255.2 1198.7L1253.2 1198.4L1250.2 1196.4L1248.0 1194.7L1246.0 1190.9L1245.5 1187.2L1243.7 1184.9L1240.7 1182.2L1241.2 1177.7L1240.9 1173.4L1241.4 1169.7L1238.9 1163.4L1238.7 1160.9L1236.7 1159.9L1233.4 1162.4L1230.4 1162.2L1230.9 1157.7L1229.2 1153.9L1225.9 1150.2L1224.7 1148.4L1224.2 1146.2L1220.9 1145.9L1217.1 1147.2L1215.1 1147.9L1212.1 1148.7L1210.9 1152.2L1207.1 1153.2L1203.4 1157.2L1200.4 1160.2L1197.6 1161.7L1195.4 1163.4L1194.9 1167.2L1195.4 1169.7L1194.1 1173.4L1194.3 1176.4L1192.1 1178.9L1190.1 1179.9L1188.3 1181.9L1185.8 1179.7L1184.6 1175.9L1182.8 1172.2L1181.3 1168.4L1179.6 1164.7L1177.8 1159.7L1176.6 1154.7L1176.3 1150.9L1176.1 1148.4L1175.1 1149.7L1172.1 1150.2L1169.5 1149.7L1167.0 1146.4L1169.5 1145.2L1167.0 1144.7L1165.8 1143.4L1163.3 1142.2L1162.0 1140.2L1160.8 1138.6L1155.8 1139.1L1149.5 1139.4L1144.5 1138.9L1139.5 1138.1L1137.0 1135.1L1135.2 1134.4L1130.7 1135.6L1127.0 1134.6L1123.2 1132.4L1121.5 1130.1L1120.0 1127.1L1116.9 1126.1L1115.7 1127.1L1114.4 1128.4L1115.7 1130.9L1118.2 1134.1L1120.0 1136.4L1120.0 1138.4L1122.0 1137.1L1122.7 1136.9L1123.5 1139.7L1122.7 1141.2L1125.7 1141.7L1129.5 1141.7L1133.2 1138.4L1135.2 1136.4L1135.5 1139.7L1136.5 1141.7L1140.7 1143.2L1144.0 1145.9L1141.5 1150.9L1139.0 1154.7L1138.2 1155.9L1135.7 1157.4L1132.5 1158.4L1129.5 1159.7L1125.0 1161.7L1120.7 1164.7L1116.9 1166.7L1113.2 1168.4L1106.9 1170.2L1103.2 1170.4L1101.9 1167.2L1101.4 1163.4L1100.7 1160.2L1098.2 1157.2L1095.7 1153.4L1092.4 1148.9L1090.6 1143.4L1087.4 1139.7L1085.6 1135.9L1083.1 1132.6L1081.4 1132.1L1081.9 1128.4L1080.4 1132.1L1080.1 1132.6L1077.4 1130.6L1075.9 1127.4ZM215.1 1085.9L220.2 1085.1L225.2 1085.1L225.2 1088.9L220.9 1089.1L220.2 1090.9L218.4 1091.4L220.9 1094.1L223.9 1095.4L224.4 1098.4L227.2 1100.1L225.2 1102.1L226.4 1103.9L227.2 1108.4L227.7 1109.6L222.7 1110.4L218.9 1109.6L215.1 1108.1L214.9 1105.9L216.1 1103.4L218.2 1101.1L215.6 1098.4L212.6 1095.9L211.4 1093.4L210.6 1090.9L211.4 1088.4L215.1 1085.9ZM238.9 1087.6L242.7 1085.6L246.5 1086.4L246.5 1089.6L242.7 1092.6L239.4 1090.9L238.9 1087.6ZM276.5 1086.6L280.3 1084.9L285.3 1085.4L290.3 1085.1L289.8 1086.4L284.0 1086.6L279.0 1088.9L276.5 1086.6ZM352.9 1073.3L357.9 1071.3L364.2 1067.1L367.4 1062.8L365.4 1062.6L361.7 1067.1L356.7 1070.3L352.9 1073.3ZM78.1 1077.1L83.6 1076.3L87.9 1075.3L93.2 1075.1L95.9 1074.1L94.2 1073.3L96.7 1070.6L93.2 1069.6L92.1 1068.1L91.1 1065.8L88.6 1064.6L87.4 1062.6L84.9 1062.1L86.1 1060.8L87.4 1058.3L83.6 1057.8L82.4 1057.3L84.6 1055.6L79.9 1055.6L77.9 1058.3L78.4 1060.8L78.6 1063.3L80.4 1063.1L79.9 1065.1L83.6 1064.8L84.9 1067.3L84.6 1068.6L81.1 1068.8L81.6 1070.3L82.1 1071.3L79.4 1072.3L82.4 1073.1L84.9 1073.6L83.6 1074.1L81.1 1074.6L78.1 1077.1ZM979.9 1077.1L985.4 1076.3L989.7 1075.3L995.0 1075.1L997.7 1074.1L996.0 1073.3L998.5 1070.6L995.0 1069.6L993.9 1068.1L992.9 1065.8L990.4 1064.6L989.2 1062.6L986.7 1062.1L987.9 1060.8L989.2 1058.3L985.4 1057.8L984.2 1057.3L986.4 1055.6L981.7 1055.6L979.7 1058.3L980.2 1060.8L980.4 1063.3L982.2 1063.1L981.7 1065.1L985.4 1064.8L986.7 1067.3L986.4 1068.6L982.9 1068.8L983.4 1070.3L983.9 1071.3L981.2 1072.3L984.2 1073.1L986.7 1073.6L985.4 1074.1L982.9 1074.6L979.9 1077.1ZM978.7 1068.8L978.2 1071.6L974.2 1072.6L969.7 1073.3L968.4 1071.6L970.4 1069.1L969.1 1066.6L972.9 1065.8L973.4 1064.1L976.7 1063.8L979.2 1064.1L980.4 1065.8L978.7 1068.8ZM937.8 1042.3L944.1 1043.3L949.1 1043.3L956.6 1041.3L960.1 1039.1L957.1 1036.3L952.9 1036.1L947.9 1036.8L942.8 1037.1L937.8 1036.1L934.1 1038.1L939.1 1039.1L934.1 1039.8L939.1 1041.1L937.8 1042.3ZM811.3 1006.5L823.9 1012.0L843.9 1012.0L848.9 1014.6L856.4 1022.1L858.9 1027.1L863.2 1029.1L860.2 1034.6L863.9 1039.6L865.2 1042.1L871.5 1047.1L874.0 1049.6L881.5 1052.1L884.2 1052.6L887.7 1049.6L891.5 1044.6L894.0 1039.6L904.0 1037.6L914.0 1032.1L926.6 1030.8L936.6 1027.1L939.1 1023.3L934.1 1020.8L941.6 1017.1L946.6 1012.0L946.6 1007.0L951.6 1002.0ZM573.4 1038.1L583.4 1035.8L588.4 1036.3L583.4 1033.3L577.1 1031.3L585.9 1028.3L593.4 1025.8L601.9 1023.8L613.4 1025.1L623.5 1026.3L636.0 1027.1L643.5 1028.1L653.5 1029.6L658.5 1028.3L668.5 1027.1L673.6 1026.3L681.1 1028.3L688.6 1027.6L698.6 1029.6L706.1 1030.8L706.1 1032.6L718.6 1032.6L723.7 1031.3L731.2 1032.1L741.2 1032.6L748.7 1031.3L753.7 1031.6L755.0 1028.3L752.5 1024.6L757.5 1022.1L762.5 1025.8L765.0 1028.3L768.8 1030.8L773.8 1030.1L776.3 1033.3L780.0 1028.8L788.8 1028.3L790.0 1030.8L788.8 1034.6L781.3 1036.3L776.3 1038.3L773.8 1041.6L767.5 1043.3L761.2 1047.1L757.5 1050.8L757.0 1055.1L761.2 1055.8L762.5 1059.6L768.8 1059.6L773.8 1060.8L781.3 1063.8L788.0 1064.1L788.8 1069.6L792.5 1073.8L796.3 1073.3L796.8 1070.8L796.3 1067.1L795.1 1064.6L801.3 1060.8L802.1 1057.1L798.8 1054.6L800.1 1050.8L798.8 1046.3L803.8 1046.1L810.1 1047.1L815.1 1049.1L818.8 1049.6L820.1 1053.3L818.8 1055.1L823.9 1055.8L828.9 1054.6L831.9 1051.3L835.1 1054.6L838.9 1058.3L841.4 1062.1L845.2 1064.6L850.2 1067.1L853.9 1069.6L854.4 1072.1L851.4 1073.3L846.4 1075.8L842.6 1076.6L836.4 1076.6L827.6 1076.6L822.6 1079.6L818.8 1083.4L816.3 1084.9L821.4 1082.1L827.6 1079.4L833.1 1080.1L830.1 1082.1L831.9 1084.6L832.6 1086.6L836.4 1087.6L840.1 1087.9L843.9 1087.1L841.4 1089.1L835.1 1090.6L830.1 1093.4L828.4 1091.4L832.6 1088.9L828.9 1089.1L826.4 1090.4L821.4 1092.1L818.3 1093.1L817.1 1095.6L818.8 1097.6L815.1 1098.6L810.1 1099.9L808.8 1100.9L808.1 1103.4L806.3 1105.1L805.1 1107.6L803.8 1109.6L804.6 1112.6L802.6 1115.1L798.8 1117.4L795.1 1119.6L791.3 1122.6L790.3 1125.9L792.5 1130.9L793.8 1135.1L793.0 1138.9L790.8 1139.1L788.8 1135.9L786.8 1132.6L786.8 1129.6L783.8 1127.1L780.0 1127.6L777.5 1126.1L773.8 1126.1L770.0 1126.6L770.5 1129.1L767.5 1129.1L763.7 1128.1L758.7 1127.9L756.2 1129.1L752.5 1131.4L750.5 1133.9L750.5 1137.1L749.5 1140.9L749.2 1145.9L750.7 1149.7L753.2 1153.9L756.2 1155.7L758.7 1156.7L762.5 1155.7L765.5 1155.4L767.2 1152.9L768.0 1149.7L772.5 1148.4L776.3 1148.4L775.0 1152.2L774.5 1155.9L773.0 1157.2L773.0 1160.9L771.8 1162.7L775.0 1162.7L778.8 1162.4L782.5 1162.7L785.5 1164.7L784.8 1168.4L785.0 1172.2L784.3 1174.7L785.0 1176.7L787.5 1179.2L790.0 1180.2L793.8 1179.2L796.3 1178.4L799.3 1180.2L800.6 1181.4L801.8 1180.9L803.8 1178.7L805.1 1175.9L806.8 1174.7L810.1 1173.9L813.8 1172.4L815.1 1171.2L815.6 1173.4L814.8 1175.4L817.6 1173.9L818.8 1171.9L821.4 1173.4L823.4 1175.7L827.6 1175.7L831.4 1176.9L833.9 1175.9L837.6 1175.7L839.4 1175.4L838.9 1177.2L841.4 1178.4L842.6 1180.9L846.4 1182.2L848.9 1185.2L851.4 1187.2L855.2 1187.4L858.9 1187.7L862.7 1189.7L865.2 1191.2L866.4 1194.7L868.9 1197.7L868.9 1200.9L870.2 1202.2L872.7 1203.5L875.2 1203.7L879.0 1204.7L882.7 1207.2L884.0 1208.7L889.0 1209.2L894.0 1209.5L897.8 1211.5L901.5 1214.2L905.8 1215.2L906.8 1219.7L906.8 1222.5L905.3 1226.0L901.5 1229.7L897.8 1234.7L896.5 1239.7L896.5 1244.7L895.3 1248.5L893.5 1252.2L891.5 1256.7L889.0 1259.7L885.2 1259.7L881.5 1261.5L877.7 1262.7L874.0 1266.0L872.5 1269.8L872.0 1273.5L868.9 1276.8L865.2 1281.0L862.7 1284.8L860.2 1287.3L856.4 1289.5L851.4 1288.5L847.9 1287.3L850.9 1291.0L851.4 1293.5L850.2 1297.3L846.4 1299.0L838.9 1299.5L838.4 1303.5L833.9 1304.8L831.4 1304.3L831.4 1307.3L834.6 1308.5L831.4 1310.3L830.1 1314.8L825.1 1317.3L828.9 1319.8L829.4 1322.0L825.1 1325.5L821.4 1328.1L822.6 1333.1L823.1 1333.6L822.6 1334.8L825.1 1337.3L830.9 1339.1L827.6 1340.1L822.6 1340.8L818.8 1340.6L813.8 1338.1L808.8 1334.3L806.3 1329.8L805.1 1324.8L805.1 1319.8L807.6 1316.0L810.1 1312.3L809.3 1307.3L808.8 1306.8L809.3 1302.3L810.6 1298.5L810.1 1295.3L811.8 1291.0L814.6 1286.0L815.1 1279.8L815.3 1276.0L816.8 1269.8L817.6 1264.8L817.8 1261.0L818.3 1254.7L818.1 1248.2L815.1 1245.5L811.3 1243.5L806.3 1240.5L803.1 1237.0L801.1 1232.2L798.8 1228.0L796.8 1223.5L794.3 1219.7L791.3 1217.2L790.5 1214.0L793.0 1210.7L793.8 1209.0L791.5 1207.7L791.8 1204.7L793.5 1202.2L793.8 1200.2L796.3 1198.9L797.1 1197.7L798.1 1195.7L800.1 1192.7L800.6 1189.7L800.1 1185.9L799.1 1184.2L798.1 1182.2L796.8 1179.9L795.1 1179.9L792.5 1181.7L793.8 1183.7L791.3 1184.2L789.5 1182.2L786.8 1181.7L784.8 1180.4L784.5 1178.9L781.8 1177.7L779.3 1176.7L779.5 1174.4L777.0 1172.2L775.0 1169.7L774.3 1168.9L771.8 1169.2L768.8 1167.9L765.0 1167.2L763.0 1165.7L758.7 1161.9L755.7 1161.9L752.5 1162.9L747.5 1161.4L744.0 1160.2L739.2 1157.7L734.9 1156.2L731.2 1153.4L729.7 1150.9L730.4 1148.4L727.7 1144.2L724.2 1140.9L720.4 1137.6L719.9 1134.6L716.9 1132.1L713.1 1129.1L711.1 1124.6L706.9 1122.9L706.9 1125.9L709.9 1129.6L712.4 1133.4L714.9 1137.1L716.9 1140.9L719.9 1143.9L718.6 1144.9L714.9 1141.4L713.1 1139.7L712.9 1136.6L709.4 1135.1L706.6 1132.6L708.1 1130.9L704.9 1127.6L702.9 1124.6L700.9 1120.9L697.4 1117.1L692.1 1115.9L688.8 1110.6L687.3 1107.6L684.1 1103.4L682.8 1101.1L683.3 1097.1L682.3 1094.6L683.6 1089.6L683.6 1086.4L681.8 1081.1L686.1 1081.4L687.3 1083.4L686.6 1079.6L682.3 1077.1L676.1 1074.6L673.6 1070.8L668.5 1066.3L666.0 1063.3L661.0 1059.6L657.3 1056.3L652.3 1056.6L648.5 1054.6L643.5 1052.6L636.0 1052.1L629.7 1051.1L626.0 1049.6L623.5 1052.1L618.4 1053.8L613.4 1053.3L614.7 1050.1L609.7 1053.3L608.4 1055.8L602.2 1059.6L597.2 1062.1L590.9 1064.1L584.6 1065.1L581.4 1065.6L588.4 1062.6L593.4 1060.8L598.4 1058.3L600.4 1055.3L597.2 1055.1L592.1 1055.1L588.4 1055.3L588.4 1052.1L582.1 1050.8L579.6 1048.3L578.4 1046.6L581.4 1044.6L585.9 1044.3L590.9 1043.1L590.9 1040.8L585.9 1040.6L579.6 1040.8L577.1 1039.1L573.4 1038.1ZM831.4 1047.3L823.9 1045.8L815.1 1042.8L808.8 1040.8L800.1 1041.3L798.8 1038.3L808.8 1038.1L810.1 1035.8L812.6 1033.3L806.3 1031.3L798.8 1028.3L796.3 1027.1L783.8 1027.1L773.8 1025.8L770.0 1022.1L768.8 1018.3L781.3 1017.8L791.3 1018.3L800.1 1020.3L807.6 1022.8L816.3 1024.6L823.9 1027.1L826.4 1029.6L833.9 1032.8L840.1 1035.1L835.1 1038.3L832.6 1042.1L831.4 1047.3ZM701.1 1029.6L706.1 1025.8L699.9 1023.6L698.6 1020.8L708.6 1019.6L718.6 1020.1L729.9 1019.6L732.4 1024.6L739.9 1027.1L737.4 1029.6L728.7 1030.3L718.6 1030.3L708.6 1030.1L701.1 1029.6ZM679.8 1022.1L686.1 1024.1L692.3 1023.3L696.1 1020.8L701.1 1018.3L703.6 1016.6L696.1 1016.3L688.6 1015.8L682.3 1017.1L679.8 1022.1ZM793.8 1013.3L788.8 1015.6L773.8 1015.8L763.7 1015.3L763.7 1011.3L771.3 1010.8L781.3 1011.3L793.8 1013.3ZM701.1 1014.0L713.6 1015.8L728.7 1014.6L728.7 1012.0L718.6 1010.8L706.1 1011.3L701.1 1014.0ZM733.7 1013.3L743.7 1014.6L751.2 1013.3L748.7 1010.5L736.2 1010.5L733.7 1013.3ZM753.7 1020.8L761.2 1022.1L767.5 1019.6L766.2 1017.1L756.2 1017.1L753.7 1020.8ZM738.7 1023.3L746.2 1023.8L751.2 1020.8L748.7 1017.6L741.2 1017.6L737.4 1020.1L738.7 1023.3ZM683.6 1012.0L696.1 1013.0L703.6 1010.8L693.6 1008.3L683.6 1012.0ZM776.3 1039.6L780.0 1043.8L788.8 1045.1L792.5 1042.6L790.0 1040.8L783.8 1037.6L776.3 1039.6ZM845.7 1083.1L853.9 1084.9L860.2 1085.4L862.2 1083.4L860.2 1080.9L858.9 1078.4L855.2 1077.1L854.9 1073.3L851.4 1074.6L848.9 1078.4L845.7 1083.1ZM781.3 1147.4L786.3 1144.9L790.0 1144.4L795.1 1145.9L800.1 1147.9L805.1 1150.4L808.3 1151.7L805.1 1152.4L799.6 1152.4L798.8 1150.7L796.3 1148.4L791.3 1147.2L787.5 1146.2L783.8 1147.7L781.3 1147.4ZM807.8 1156.2L811.3 1156.7L815.1 1157.9L818.8 1156.4L822.6 1156.4L822.6 1154.9L818.8 1152.9L814.6 1152.7L810.8 1152.4L812.1 1154.7L812.6 1155.7L807.8 1156.2ZM798.1 1156.4L801.3 1157.7L803.3 1157.2L801.3 1155.9L798.1 1156.4ZM825.9 1156.4L828.9 1157.3L829.9 1156.4L827.6 1155.9L825.9 1156.4ZM378.2 1256.7L379.2 1258.5L377.2 1262.2L376.5 1267.3L378.5 1271.0L380.5 1277.3L382.2 1282.3L380.5 1287.8L384.2 1289.8L388.0 1289.8L393.0 1287.3L401.8 1287.0L408.0 1283.0L415.5 1281.5L421.8 1281.0L428.1 1284.0L431.8 1289.0L433.1 1288.5L437.6 1283.8L436.8 1287.3L435.6 1290.3L439.3 1289.3L441.8 1292.3L444.4 1297.3L449.4 1298.3L451.9 1299.3L455.1 1297.3L458.9 1300.0L463.1 1297.0L468.1 1295.5L468.7 1291.5L470.7 1287.3L473.2 1284.0L475.7 1278.5L477.2 1273.8L476.2 1269.8L475.7 1266.0L471.9 1262.2L470.2 1259.2L466.4 1255.2L463.9 1252.2L460.1 1250.2L458.1 1246.0L456.9 1242.2L456.1 1239.5L452.6 1237.7L451.9 1234.2L449.4 1229.0L447.4 1233.5L447.1 1238.5L445.6 1243.5L445.1 1246.0L441.8 1246.0L438.1 1243.5L434.3 1241.7L431.8 1239.5L433.1 1236.0L435.1 1232.7L432.6 1232.2L429.3 1232.2L424.6 1230.7L421.8 1232.7L420.1 1233.2L418.0 1236.0L416.8 1239.5L413.5 1239.7L411.8 1237.2L408.0 1237.2L405.5 1240.5L403.8 1243.0L401.8 1245.7L398.5 1246.0L398.5 1248.5L395.5 1251.0L390.5 1252.2L385.5 1253.7L381.7 1255.5L378.2 1256.7ZM454.9 1304.0L459.4 1305.0L463.9 1304.5L463.9 1307.8L461.9 1310.3L458.1 1311.3L456.4 1308.5L454.9 1304.0ZM525.0 1288.3L529.0 1291.0L530.3 1294.3L532.8 1294.8L534.5 1296.8L539.0 1296.5L538.0 1300.0L535.8 1301.0L534.0 1304.8L531.5 1306.3L530.3 1305.5L531.0 1302.8L528.3 1301.0L527.8 1300.3L530.0 1298.5L530.0 1296.0L528.8 1293.5L525.8 1290.3L525.0 1288.3ZM525.0 1303.5L529.0 1305.3L528.3 1306.8L525.8 1309.8L525.3 1311.8L521.5 1313.0L520.3 1316.8L515.7 1318.8L512.0 1317.8L509.5 1316.8L513.2 1312.8L518.2 1309.8L521.5 1307.3L523.3 1304.3L525.0 1303.5ZM420.6 1204.2L424.3 1203.2L428.1 1204.2L429.3 1208.5L430.6 1210.5L434.3 1207.7L438.1 1206.2L444.4 1208.5L449.4 1210.5L454.4 1212.0L457.6 1215.5L461.9 1218.0L460.6 1219.2L463.6 1223.5L466.9 1226.0L470.2 1228.2L466.9 1228.0L461.9 1226.7L458.1 1223.0L454.4 1221.5L451.9 1223.5L449.4 1225.2L445.6 1225.0L441.8 1222.7L438.1 1223.0L440.1 1220.2L438.1 1216.5L433.1 1213.7L428.1 1212.0L425.1 1212.2L423.6 1209.5L426.8 1208.2L423.1 1208.0L420.6 1205.7L420.6 1204.2ZM365.4 1198.2L366.9 1197.2L371.0 1198.4L371.7 1195.7L375.5 1194.2L379.2 1190.4L383.0 1186.9L385.5 1184.7L387.2 1186.4L390.5 1189.2L388.5 1190.9L387.5 1193.4L388.0 1196.7L390.5 1199.7L387.5 1200.2L386.7 1204.2L384.2 1206.7L383.7 1210.5L383.0 1212.2L379.5 1212.2L378.7 1210.7L375.5 1210.2L372.5 1210.7L368.5 1209.5L368.0 1206.0L365.9 1203.5L365.4 1200.9L365.4 1198.2ZM331.1 1188.2L336.6 1189.2L339.1 1192.7L342.9 1195.4L345.4 1197.2L349.2 1199.7L351.7 1202.2L353.7 1204.7L354.2 1208.0L357.9 1209.7L357.4 1213.5L357.4 1216.7L354.2 1216.7L351.7 1214.5L348.7 1212.0L345.4 1208.5L343.7 1204.5L340.4 1200.9L339.6 1197.9L336.6 1195.9L334.1 1192.9L331.1 1188.2ZM355.9 1219.2L359.9 1217.2L364.2 1218.7L369.2 1219.2L370.5 1218.2L374.7 1219.7L379.2 1221.5L379.0 1223.7L374.2 1223.0L368.0 1222.2L362.9 1221.5L359.2 1220.5L355.9 1219.2ZM381.0 1222.7L382.0 1224.0L380.5 1223.7L381.0 1222.7ZM383.0 1223.2L386.7 1223.0L390.5 1223.2L389.2 1224.5L385.5 1224.7L383.0 1224.2L383.0 1223.2ZM392.7 1223.5L396.8 1223.5L400.5 1223.0L400.0 1224.2L395.5 1224.5L392.7 1224.2L392.7 1223.5ZM401.8 1228.0L405.5 1225.2L411.0 1223.2L409.3 1225.2L404.3 1227.7L401.8 1228.0ZM390.5 1226.0L393.5 1225.7L395.0 1227.5L392.0 1227.2L390.5 1226.0ZM393.0 1200.2L395.5 1199.2L400.5 1199.9L405.5 1198.2L404.3 1200.9L400.5 1201.2L395.5 1200.9L393.5 1202.2L393.5 1204.5L396.3 1204.5L401.3 1204.2L398.0 1206.5L396.8 1207.2L398.8 1210.5L400.5 1213.0L399.3 1214.7L396.8 1213.7L395.5 1209.7L393.8 1209.7L394.0 1216.0L391.7 1216.0L391.7 1211.0L390.0 1209.2L391.2 1206.0L392.5 1202.2L393.0 1200.2ZM411.8 1197.2L413.0 1199.7L414.8 1198.7L414.3 1201.4L412.8 1204.2L412.3 1200.9L411.8 1197.2ZM413.0 1209.7L416.8 1209.2L420.1 1210.5L416.8 1210.7L413.0 1210.5L413.0 1209.7ZM394.5 1155.9L398.5 1155.9L398.5 1160.9L397.0 1164.7L398.0 1167.2L402.5 1168.4L403.0 1170.4L400.0 1168.4L396.8 1167.7L394.8 1166.4L393.5 1165.2L393.0 1161.7L394.0 1158.9L394.5 1155.9ZM398.0 1184.7L401.8 1180.7L406.5 1177.9L408.8 1180.9L409.3 1185.9L406.8 1187.7L405.5 1187.7L403.0 1185.2L400.5 1183.4L398.0 1184.7ZM403.8 1170.9L406.8 1171.7L407.3 1174.7L405.5 1176.7L404.5 1174.9L405.3 1173.4L403.8 1170.9ZM386.2 1181.2L389.2 1177.7L391.7 1173.9L391.0 1176.2L388.0 1179.7L386.2 1181.2ZM398.0 1172.7L400.5 1173.4L401.5 1175.9L400.5 1179.2L399.3 1177.7L399.5 1175.9L398.0 1175.7L398.0 1172.7ZM394.0 1168.7L396.3 1168.9L396.5 1171.2L395.3 1171.4L394.0 1168.7ZM396.8 1139.1L397.8 1140.2L396.8 1143.4L395.0 1147.2L393.5 1145.2L393.5 1142.7L395.5 1139.7L396.8 1139.1ZM364.7 1154.2L366.7 1152.2L370.2 1152.2L369.2 1155.2L366.7 1156.7L364.7 1155.9L364.7 1154.2ZM420.3 1117.1L424.3 1116.4L429.3 1115.4L431.6 1115.6L430.8 1118.4L432.6 1118.4L435.1 1116.4L435.6 1115.6L438.6 1115.6L440.1 1115.4L441.1 1114.1L442.6 1113.1L442.8 1114.6L445.1 1112.9L444.6 1110.1L445.6 1107.1L447.1 1104.6L448.1 1103.1L446.9 1100.9L446.4 1098.6L443.9 1099.1L443.1 1102.1L442.6 1104.6L440.6 1107.1L439.3 1108.9L436.1 1108.4L435.1 1109.1L434.8 1110.1L433.1 1112.1L432.6 1113.1L429.3 1113.1L425.6 1113.4L423.1 1114.9L420.6 1115.9L420.3 1117.1ZM443.9 1098.4L446.1 1097.6L445.6 1095.9L448.1 1095.9L451.4 1097.1L454.4 1094.6L456.9 1093.9L455.6 1092.1L453.6 1091.9L450.6 1090.9L447.9 1088.4L447.1 1090.9L446.6 1093.9L444.1 1093.9L442.6 1095.6L443.9 1098.4ZM420.3 1117.4L422.3 1118.1L423.1 1120.1L421.8 1123.4L419.8 1124.6L418.6 1123.9L418.6 1120.9L417.3 1119.6L417.5 1118.4L420.3 1117.4ZM424.3 1117.4L428.6 1116.4L429.8 1117.6L428.6 1118.9L425.6 1120.1L424.1 1118.9L424.3 1117.4ZM448.1 1066.3L450.6 1068.3L451.4 1073.3L451.9 1078.4L454.4 1079.6L450.6 1083.4L451.9 1085.1L450.6 1086.6L448.1 1087.1L448.1 1083.4L448.1 1079.6L447.6 1074.6L447.4 1070.8L448.1 1066.3ZM292.8 1177.7L295.8 1180.9L297.6 1183.4L296.8 1186.4L294.1 1187.4L292.5 1185.9L292.3 1182.2L292.8 1177.7ZM215.9 1232.2L218.4 1240.5L216.4 1246.0L214.6 1252.2L212.1 1259.7L210.1 1264.8L205.6 1266.0L202.6 1264.2L201.4 1259.7L200.9 1256.0L203.6 1251.7L202.6 1246.0L205.1 1242.2L208.9 1241.0L211.4 1239.2L213.9 1236.0L215.9 1232.2ZM221.4 1023.1L226.4 1025.1L235.9 1025.3L231.4 1020.8L232.7 1017.8L237.7 1015.1L245.2 1012.3L257.7 1010.0L265.2 1010.0L256.5 1012.5L245.2 1015.3L237.7 1018.8L235.2 1022.1L228.9 1022.1L223.9 1021.6L221.4 1023.1ZM330.4 1004.5L337.9 1005.8L345.4 1004.5L352.9 1006.3L342.9 1007.3L335.4 1006.5L330.4 1004.5ZM435.6 1013.3L443.1 1015.1L453.1 1014.6L458.1 1013.3L448.1 1012.0L438.1 1012.0L435.6 1013.3ZM443.1 1018.3L450.6 1018.8L448.1 1017.1L443.1 1018.3ZM539.5 1024.1L545.8 1025.1L549.6 1023.8L543.3 1023.1L539.5 1024.1ZM607.2 1058.8L612.2 1058.3L612.7 1056.3L609.7 1057.1L607.2 1058.8ZM672.8 1075.1L679.8 1076.6L684.8 1080.9L681.1 1080.1L674.8 1077.1L672.8 1075.1ZM661.0 1067.1L664.0 1069.6L665.5 1071.6L662.8 1069.1L661.0 1067.1ZM603.4 1151.7L605.9 1153.2L604.2 1154.8L603.4 1152.9L603.4 1151.7ZM601.7 1149.7L603.4 1150.4L602.4 1150.7L601.7 1149.7ZM597.9 1148.2L599.2 1148.9L598.2 1148.9L597.9 1148.2ZM594.2 1146.7L595.2 1147.2L594.4 1147.4L594.2 1146.7ZM503.2 1252.5L507.0 1254.7L510.7 1258.0L508.2 1257.5L504.5 1254.5L503.2 1252.5ZM536.5 1246.0L539.5 1246.2L539.0 1247.7L536.8 1247.5L536.5 1246.0ZM540.3 1243.5L543.3 1242.7L542.0 1244.2L540.3 1243.5ZM463.9 1216.0L468.1 1214.7L471.9 1212.7L473.9 1213.0L471.9 1216.0L468.1 1217.7L463.9 1216.7L463.9 1216.0ZM470.2 1208.7L473.2 1210.2L475.7 1213.5L474.7 1212.2L471.9 1209.7L470.2 1208.7ZM479.9 1216.0L482.9 1218.7L481.4 1218.7L479.9 1216.0ZM484.4 1219.0L486.9 1220.7L485.7 1220.5L484.4 1219.0ZM489.4 1221.2L492.7 1223.2L491.4 1223.0L489.4 1221.2ZM492.2 1225.5L495.2 1226.7L493.2 1226.7L492.2 1225.5ZM495.0 1223.2L496.5 1226.0L495.7 1225.5L495.0 1223.2ZM496.5 1227.7L499.0 1229.2L497.5 1228.7L496.5 1227.7ZM509.7 1239.0L511.2 1241.2L510.2 1241.2L509.7 1239.0ZM511.2 1242.2L512.7 1243.5L511.7 1243.5L511.2 1242.2ZM841.4 1331.1L846.4 1330.6L849.4 1331.3L846.4 1333.1L842.6 1332.6L841.4 1331.1ZM899.0 1337.3L904.0 1338.1L903.5 1339.3L900.3 1338.1L899.0 1337.3ZM264.7 1324.8L269.0 1325.3L267.8 1326.5L265.2 1326.3L264.7 1324.8ZM765.0 1203.0L766.5 1203.5L766.0 1204.7L765.0 1203.0ZM225.9 1170.7L228.9 1170.9L227.2 1171.4L225.9 1170.7ZM230.9 1254.5L232.2 1255.2L231.2 1255.5L230.9 1254.5ZM236.2 1252.2L237.2 1253.0L236.2 1253.5L236.2 1252.2ZM112.9 1099.9L116.4 1099.4L116.7 1103.9L113.7 1104.6L112.9 1099.9ZM114.2 1095.6L116.2 1094.9L115.9 1098.4L114.2 1097.6L114.2 1095.6ZM123.7 1107.1L131.2 1106.6L130.2 1110.4L126.2 1109.1L123.7 1107.1ZM151.5 1113.4L158.0 1114.1L154.5 1114.9L151.5 1113.4ZM173.3 1114.6L178.8 1113.1L177.1 1115.4L173.3 1114.6ZM120.5 1062.8L123.7 1062.1L123.5 1064.1L121.2 1064.1L120.5 1062.8ZM138.0 1057.3L140.0 1058.1L138.2 1059.6L138.0 1057.3ZM168.8 1052.1L173.8 1051.3L173.8 1049.1L169.6 1048.3L168.8 1052.1ZM178.8 1049.6L182.6 1048.8L181.3 1045.8L178.8 1046.6L178.8 1049.6ZM763.7 1085.4L770.0 1082.1L773.8 1080.1L780.0 1082.4L782.0 1085.1L777.5 1085.9L773.8 1084.9L768.8 1085.6L763.7 1085.4ZM774.5 1097.1L778.0 1096.4L778.3 1092.1L781.3 1087.9L783.8 1087.4L785.5 1089.6L785.0 1092.6L787.5 1094.4L789.5 1092.1L790.8 1089.1L793.8 1090.1L791.3 1087.1L783.8 1086.4L780.0 1087.1L776.3 1087.9L773.8 1090.1L774.5 1094.6L774.5 1097.1ZM785.3 1097.6L790.0 1098.1L796.3 1095.4L792.5 1095.6L787.5 1097.1L785.3 1097.6ZM794.6 1093.9L801.3 1093.9L803.1 1092.1L798.8 1092.1L794.6 1093.9ZM746.2 1068.3L748.7 1072.1L752.5 1075.8L751.7 1073.3L750.0 1069.6L746.2 1068.3ZM681.1 1038.3L691.1 1039.6L698.6 1036.6L693.6 1034.6L686.1 1036.3L681.1 1038.3ZM701.1 1049.6L708.6 1049.6L716.1 1045.8L719.9 1045.1L713.6 1046.3L706.1 1046.6L701.1 1049.6ZM172.6 1200.9L177.6 1201.7L177.6 1207.2L175.1 1209.2L172.1 1207.2L172.6 1200.9ZM165.5 1211.0L167.0 1213.5L169.6 1219.7L170.6 1224.0L168.8 1222.2L166.3 1217.2L165.5 1211.0ZM177.6 1226.2L179.6 1229.7L180.1 1234.7L180.8 1238.2L179.3 1237.2L178.3 1232.2L177.6 1226.2ZM126.2 1168.4L129.5 1168.4L128.7 1170.7L126.2 1168.4ZM806.3 1381.1L811.3 1377.3L817.6 1374.8L821.4 1376.1L818.8 1379.8L813.8 1382.3L806.3 1381.1ZM738.7 1382.8L746.2 1381.8L751.2 1383.1L743.7 1383.8L738.7 1382.8Z" fill="#fff" stroke="none"/>
<path d="M77.6 1112.6L86.9 1114.4L92.7 1112.4L99.9 1110.1L104.9 1110.1L111.2 1109.6L116.9 1108.9L120.0 1109.6L118.2 1110.9L119.0 1112.6L117.7 1116.4L120.0 1118.4L123.7 1119.9L130.5 1121.1L131.2 1123.4L136.2 1124.9L140.0 1126.4L142.5 1124.6L142.5 1120.9L146.3 1119.9L150.0 1120.6L155.0 1122.9L161.3 1124.1L165.0 1124.9L167.6 1123.6L170.1 1123.4L173.3 1124.1L173.8 1127.1L174.1 1127.4L176.3 1132.1L177.6 1135.9L180.1 1140.9L181.8 1143.4L185.1 1148.4L185.8 1150.9L185.8 1154.7L188.8 1157.2L190.8 1162.7L195.1 1165.9L198.9 1169.7L200.9 1170.9L200.6 1173.2L203.9 1175.9L207.6 1175.2L213.9 1173.9L220.2 1172.4L220.7 1175.9L218.9 1179.7L217.1 1183.4L213.9 1189.7L210.1 1193.4L206.4 1196.7L201.4 1200.9L197.6 1204.7L195.1 1207.2L193.1 1209.2L191.8 1212.2L190.1 1216.0L190.8 1219.2L191.3 1223.5L192.6 1228.0L193.9 1229.7L194.1 1234.7L194.6 1239.7L191.3 1243.5L186.3 1246.0L183.8 1249.2L180.1 1252.0L180.8 1256.0L181.3 1259.7L181.1 1262.2L176.3 1265.3L174.3 1267.3L174.8 1269.8L173.8 1273.5L171.3 1276.0L168.8 1279.3L165.0 1283.0L161.3 1285.5L157.5 1287.0L152.5 1287.5L147.5 1287.8L142.5 1289.3L139.5 1288.0L138.5 1287.3L138.0 1283.5L138.2 1281.0L135.7 1277.3L133.7 1273.8L130.7 1269.8L130.0 1264.8L128.7 1259.7L127.5 1254.7L123.7 1248.5L122.0 1244.7L122.5 1239.7L124.5 1234.7L126.5 1232.2L127.0 1228.5L125.5 1224.7L124.5 1219.7L123.2 1217.2L123.0 1214.7L122.0 1213.0L120.0 1211.0L116.9 1208.0L114.9 1204.7L115.7 1201.4L116.7 1198.4L116.9 1194.7L116.2 1192.2L113.7 1190.7L109.9 1191.2L107.4 1191.4L104.9 1188.4L102.4 1186.4L98.7 1186.4L94.9 1187.2L92.4 1187.9L89.9 1189.2L87.4 1190.2L83.6 1189.4L79.9 1189.4L73.6 1191.2L69.9 1189.7L65.3 1186.4L62.3 1183.9L59.3 1180.9L58.6 1178.4L56.1 1175.9L54.8 1174.7L50.6 1171.2L50.3 1168.7L48.6 1165.4L51.1 1162.2L51.6 1157.2L52.3 1153.4L51.1 1150.9L49.8 1149.7L50.3 1145.9L52.3 1142.9L54.8 1140.4L55.3 1137.1L58.6 1133.4L60.1 1132.1L64.3 1130.1L67.4 1128.4L68.1 1125.9L67.9 1123.4L69.1 1120.9L71.1 1118.9L73.6 1117.9L76.1 1115.9L77.6 1112.6M979.4 1112.6L988.7 1114.4L994.5 1112.4L1001.7 1110.1L1006.7 1110.1L1013.0 1109.6L1018.7 1108.9L1021.8 1109.6L1020.0 1110.9L1020.8 1112.6L1019.5 1116.4L1021.8 1118.4L1025.5 1119.9L1032.3 1121.1L1033.0 1123.4L1038.0 1124.9L1041.8 1126.4L1044.3 1124.6L1044.3 1120.9L1048.1 1119.9L1051.8 1120.6L1056.8 1122.9L1063.1 1124.1L1066.8 1124.9L1069.3 1123.6L1071.9 1123.4L1075.1 1124.1L1075.6 1127.1L1075.9 1127.4L1078.1 1132.1L1079.4 1135.9L1081.9 1140.9L1083.6 1143.4L1086.9 1148.4L1087.6 1150.9L1087.6 1154.7L1090.6 1157.2L1092.6 1162.7L1096.9 1165.9L1100.7 1169.7L1102.7 1170.9L1102.4 1173.2L1105.7 1175.9L1109.4 1175.2L1115.7 1173.9L1122.0 1172.4L1122.5 1175.9L1120.7 1179.7L1118.9 1183.4L1115.7 1189.7L1111.9 1193.4L1108.2 1196.7L1103.2 1200.9L1099.4 1204.7L1096.9 1207.2L1094.9 1209.2L1093.6 1212.2L1091.9 1216.0L1092.6 1219.2L1093.1 1223.5L1094.4 1228.0L1095.7 1229.7L1095.9 1234.7L1096.4 1239.7L1093.1 1243.5L1088.1 1246.0L1085.6 1249.2L1081.9 1252.0L1082.6 1256.0L1083.1 1259.7L1082.9 1262.2L1078.1 1265.3L1076.1 1267.3L1076.6 1269.8L1075.6 1273.5L1073.1 1276.0L1070.6 1279.3L1066.8 1283.0L1063.1 1285.5L1059.3 1287.0L1054.3 1287.5L1049.3 1287.8L1044.3 1289.3L1041.3 1288.0L1040.3 1287.3L1039.8 1283.5L1040.0 1281.0L1037.5 1277.3L1035.5 1273.8L1032.5 1269.8L1031.8 1264.8L1030.5 1259.7L1029.3 1254.7L1025.5 1248.5L1023.8 1244.7L1024.3 1239.7L1026.3 1234.7L1028.3 1232.2L1028.8 1228.5L1027.3 1224.7L1026.3 1219.7L1025.0 1217.2L1024.8 1214.7L1023.8 1213.0L1021.8 1211.0L1018.7 1208.0L1016.7 1204.7L1017.5 1201.4L1018.5 1198.4L1018.7 1194.7L1018.0 1192.2L1015.5 1190.7L1011.7 1191.2L1009.2 1191.4L1006.7 1188.4L1004.2 1186.4L1000.5 1186.4L996.7 1187.2L994.2 1187.9L991.7 1189.2L989.2 1190.2L985.4 1189.4L981.7 1189.4L975.4 1191.2L971.7 1189.7L967.1 1186.4L964.1 1183.9L961.1 1180.9L960.4 1178.4L957.9 1175.9L956.6 1174.7L952.4 1171.2L952.1 1168.7L950.4 1165.4L952.9 1162.2L953.4 1157.2L954.1 1153.4L952.9 1150.9L951.6 1149.7L952.1 1145.9L954.1 1142.9L956.6 1140.4L957.1 1137.1L960.4 1133.4L961.9 1132.1L966.1 1130.1L969.1 1128.4L969.9 1125.9L969.7 1123.4L970.9 1120.9L972.9 1118.9L975.4 1117.9L977.9 1115.9L979.4 1112.6M78.4 1112.1L81.4 1110.4L87.4 1110.1L90.6 1108.1L92.4 1105.4L91.6 1103.4L94.4 1100.1L97.9 1098.6L100.4 1096.4L99.9 1094.1L102.4 1093.4L105.7 1093.9L108.7 1094.4L111.2 1092.6L114.4 1091.1L118.0 1092.4L118.7 1094.6L121.7 1096.6L123.2 1097.9L126.2 1099.1L128.2 1100.1L130.7 1102.1L132.5 1104.6L131.7 1107.1L133.7 1106.4L135.2 1104.6L133.7 1102.9L135.0 1100.9L138.5 1102.1L138.7 1101.6L137.2 1100.4L133.0 1097.6L130.0 1097.1L127.5 1095.1L126.2 1093.1L123.5 1091.6L123.2 1088.9L126.7 1087.9L126.5 1089.6L128.7 1088.9L130.5 1091.6L133.7 1093.4L136.2 1094.6L138.7 1096.1L141.0 1097.6L141.2 1100.9L142.5 1102.9L145.0 1105.1L145.5 1106.4L146.8 1109.6L148.5 1110.9L150.3 1110.9L149.8 1108.4L151.8 1107.4L152.5 1106.6L150.8 1104.6L149.8 1103.6L149.3 1101.1L152.0 1102.1L153.5 1100.1L156.3 1099.9L157.8 1100.6L159.3 1101.1L161.3 1099.9L164.8 1099.6L165.5 1099.1M980.2 1112.1L983.2 1110.4L989.2 1110.1L992.4 1108.1L994.2 1105.4L993.4 1103.4L996.2 1100.1L999.7 1098.6L1002.2 1096.4L1001.7 1094.1L1004.2 1093.4L1007.5 1093.9L1010.5 1094.4L1013.0 1092.6L1016.2 1091.1L1019.8 1092.4L1020.5 1094.6L1023.5 1096.6L1025.0 1097.9L1028.0 1099.1L1030.0 1100.1L1032.5 1102.1L1034.3 1104.6L1033.5 1107.1L1035.5 1106.4L1037.0 1104.6L1035.5 1102.9L1036.8 1100.9L1040.3 1102.1L1040.5 1101.6L1039.0 1100.4L1034.8 1097.6L1031.8 1097.1L1029.3 1095.1L1028.0 1093.1L1025.3 1091.6L1025.0 1088.9L1028.5 1087.9L1028.3 1089.6L1030.5 1088.9L1032.3 1091.6L1035.5 1093.4L1038.0 1094.6L1040.5 1096.1L1042.8 1097.6L1043.0 1100.9L1044.3 1102.9L1046.8 1105.1L1047.3 1106.4L1048.6 1109.6L1050.3 1110.9L1052.1 1110.9L1051.6 1108.4L1053.6 1107.4L1054.3 1106.6L1052.6 1104.6L1051.6 1103.6L1051.1 1101.1L1053.8 1102.1L1055.3 1100.1L1058.1 1099.9L1059.6 1100.6L1061.1 1101.1L1063.1 1099.9L1066.6 1099.6L1067.3 1099.1M165.5 1100.1L161.3 1101.1L158.3 1101.9L158.0 1103.4L159.8 1106.1L160.8 1109.1L163.0 1110.4L166.3 1111.6L169.1 1110.1L172.6 1111.9L176.8 1111.6L179.6 1110.1L182.6 1110.1L182.3 1113.4L182.3 1115.9L181.3 1117.4L180.1 1120.1L178.8 1123.4L176.3 1124.4L173.3 1124.1M165.0 1099.1L162.5 1097.4L162.3 1095.1L164.0 1093.4L164.3 1091.4L166.8 1089.1L169.6 1085.9L172.6 1085.9L175.1 1087.1L173.8 1088.6L176.3 1090.9L180.1 1090.1L183.8 1088.9L181.3 1087.1L180.1 1086.6L184.6 1085.1L188.8 1084.4L190.8 1084.1L187.6 1086.4L186.3 1088.4L185.1 1089.6L187.1 1090.4L190.1 1092.1L191.8 1093.4L195.1 1095.1L196.6 1098.1L192.6 1099.6L188.8 1099.9L185.1 1099.4L182.6 1098.4L180.1 1097.1L176.3 1097.1L172.6 1097.9L170.1 1099.4L166.3 1099.1L165.0 1099.1M78.4 1112.1L76.6 1110.9L74.9 1109.1L70.1 1109.6L70.4 1105.9L68.6 1105.4L70.1 1102.1L70.6 1099.1L70.1 1095.9L69.4 1094.1L72.4 1092.9L78.1 1093.1L82.9 1093.4L87.9 1093.6L89.4 1090.4L89.6 1087.6L86.9 1084.4L81.6 1082.6L80.6 1081.1L84.9 1080.1L88.4 1080.6L87.6 1077.9L89.4 1078.6L92.9 1078.4L96.2 1076.8L96.4 1074.8L100.4 1073.8L102.4 1072.1L104.4 1069.6L107.4 1068.6L109.9 1068.1L113.7 1067.8L113.9 1065.8L113.2 1063.3L112.7 1059.6L116.2 1059.1L119.0 1057.8L118.2 1060.8L119.5 1061.6L116.9 1063.8L117.5 1065.8L120.0 1067.1L123.7 1066.1L128.0 1067.3L132.5 1066.3L138.7 1065.3L142.0 1066.1L145.0 1063.8L145.0 1060.1L147.5 1058.1L151.3 1059.6L153.5 1057.6L151.3 1055.3L151.0 1054.1L155.0 1053.3L162.5 1053.3L168.1 1052.3L163.8 1050.8L157.5 1051.1L154.8 1051.8L149.8 1052.6L145.8 1050.1L146.3 1047.1L145.5 1044.6L148.8 1042.6L153.8 1040.1L155.8 1038.3L152.5 1037.6L148.0 1038.1L145.8 1040.8L143.8 1042.8L138.7 1045.1L135.7 1047.1L135.5 1050.3L139.5 1052.6L137.5 1054.6L134.0 1057.6L133.5 1060.6L131.2 1061.8L128.2 1063.3L124.7 1063.6L123.7 1061.3L122.2 1057.8L120.5 1054.6L119.0 1052.6L118.2 1054.3L114.9 1055.8L112.2 1056.8L109.9 1057.1L106.7 1055.3L105.4 1051.3L104.9 1048.3L105.7 1046.6L108.7 1045.1L113.7 1043.3L117.5 1042.1L120.0 1040.1L123.7 1037.1L126.2 1034.1L131.2 1031.3L136.2 1029.1L140.0 1027.6L146.3 1026.6L151.3 1025.1L157.0 1024.3L162.5 1024.6L167.6 1026.3L170.1 1027.6L175.1 1028.6L182.6 1029.1L188.8 1031.3L195.1 1033.3L195.1 1035.8L190.1 1036.8L182.6 1036.1L175.1 1035.3L177.6 1038.3L179.6 1040.8L183.8 1042.1L186.3 1041.3L187.6 1040.1L192.6 1040.6L193.1 1038.1L196.4 1036.1L201.4 1036.6L202.6 1034.6L202.6 1030.8L207.6 1031.6L207.6 1034.8L211.4 1034.6L213.9 1032.8L220.2 1030.8L226.4 1031.3L228.9 1031.3L235.2 1030.6L240.2 1029.8L244.0 1027.8L245.2 1029.6L252.7 1028.8L257.7 1029.8L261.5 1030.8L264.0 1031.6L260.2 1028.3L259.7 1025.8L261.5 1023.3L265.2 1019.8L272.8 1019.6L275.3 1023.3L274.0 1027.1L274.5 1030.8L277.0 1033.3L272.8 1036.3L277.8 1035.1L276.5 1032.1L280.3 1029.6L277.3 1025.8L280.3 1022.1L285.3 1022.1L287.8 1024.6L292.8 1022.1L294.1 1018.3L302.8 1017.8L310.3 1015.8L307.8 1014.6L315.3 1013.3L327.9 1012.0L337.9 1011.3L342.9 1010.8L353.7 1007.8L357.9 1008.8L362.9 1010.3L373.0 1010.8L376.7 1012.8L368.0 1016.3L375.5 1017.6L380.5 1017.8L389.2 1018.3L400.5 1018.1L410.5 1020.8L416.8 1023.3L420.6 1025.1L425.6 1023.3L433.1 1023.1L441.8 1023.3L443.1 1020.8L448.1 1020.1L458.1 1021.1L468.1 1023.3L473.2 1024.8L485.7 1024.6L493.2 1026.3L493.2 1028.1L498.2 1028.1L505.7 1028.3L513.2 1027.3L519.5 1027.1L520.8 1029.6L530.8 1027.6L538.3 1028.6L543.3 1029.6L550.8 1031.3L555.8 1033.8L563.3 1034.8L568.9 1037.1L563.3 1038.3L562.1 1040.8L558.3 1041.3L548.3 1039.6L545.8 1038.3L540.8 1040.8L537.0 1040.3L540.8 1044.6L542.0 1046.3L530.8 1047.6L523.3 1050.1L518.2 1052.1L508.2 1052.6L503.2 1052.3L500.7 1054.6L498.2 1057.1L501.5 1059.6L500.2 1062.1L497.7 1064.8L493.2 1067.1L489.4 1069.6L484.9 1074.6L483.2 1070.8L482.2 1064.6L482.4 1059.6L485.2 1057.1L490.7 1054.6L495.7 1050.8L502.0 1047.8L503.2 1045.8L493.2 1048.3L485.7 1048.1L478.2 1053.3L470.7 1054.1L463.1 1053.8L450.6 1053.8L444.4 1057.8L438.1 1060.8L431.1 1065.1L435.6 1067.1L438.1 1067.6L443.1 1069.1L446.6 1069.6L444.4 1075.8L444.4 1080.9L439.3 1085.9L434.3 1090.1L430.6 1093.4L425.6 1095.1L423.1 1094.1L419.8 1096.4L417.3 1098.9L414.3 1102.1L411.8 1103.4L416.3 1109.6L416.5 1113.4L411.8 1115.4L408.8 1115.9L409.3 1112.1L409.5 1108.4L405.5 1107.1L406.3 1103.9L403.8 1102.4L398.0 1104.6L396.3 1105.1L397.5 1100.9L395.5 1099.9L390.5 1104.1L387.2 1104.6L390.0 1107.9L391.2 1109.1L395.0 1107.6L399.3 1108.9L394.3 1111.6L391.2 1114.6L393.8 1118.4L397.5 1122.9L397.5 1125.1L394.3 1126.4L398.0 1127.6L396.8 1131.4L394.3 1134.6L392.0 1138.4L389.2 1140.7L385.5 1143.4L380.5 1145.4L378.0 1146.4L375.5 1147.2L370.5 1148.7L369.0 1148.9L368.5 1151.4L367.2 1148.4L364.2 1147.9L360.4 1149.7L357.9 1153.4L357.4 1155.9L360.4 1159.7L364.2 1162.2L366.2 1168.4L365.9 1172.7L362.9 1175.2L360.4 1176.4L359.2 1178.4L355.4 1180.7L354.9 1177.2L351.7 1175.7L349.2 1172.2L345.4 1170.4L345.2 1168.4L342.9 1168.9L342.6 1173.4L340.9 1175.9L341.1 1178.9L343.7 1181.4L344.2 1184.2L347.2 1185.2L350.4 1187.9L351.4 1190.9L351.7 1195.2L353.4 1198.7L351.4 1198.4L348.4 1196.4L346.2 1194.7L344.2 1190.9L343.7 1187.2L341.9 1184.9L338.9 1182.2L339.4 1177.7L339.1 1173.4L339.6 1169.7L337.1 1163.4L336.9 1160.9L334.9 1159.9L331.6 1162.4L328.6 1162.2L329.1 1157.7L327.4 1153.9L324.1 1150.2L322.9 1148.4L322.4 1146.2L319.1 1145.9L315.3 1147.2L313.3 1147.9L310.3 1148.7L309.1 1152.2L305.3 1153.2L301.6 1157.2L298.6 1160.2L295.8 1161.7L293.6 1163.4L293.1 1167.2L293.6 1169.7L292.3 1173.4L292.5 1176.4L290.3 1178.9L288.3 1179.9L286.5 1181.9L284.0 1179.7L282.8 1175.9L281.0 1172.2L279.5 1168.4L277.8 1164.7L276.0 1159.7L274.8 1154.7L274.5 1150.9L274.3 1148.4L273.3 1149.7L270.3 1150.2L267.8 1149.7L265.2 1146.4L267.8 1145.2L265.2 1144.7L264.0 1143.4L261.5 1142.2L260.2 1140.2L259.0 1138.6L254.0 1139.1L247.7 1139.4L242.7 1138.9L237.7 1138.1L235.2 1135.1L233.4 1134.4L228.9 1135.6L225.2 1134.6L221.4 1132.4L219.7 1130.1L218.2 1127.1L215.1 1126.1L213.9 1127.1L212.6 1128.4L213.9 1130.9L216.4 1134.1L218.2 1136.4L218.2 1138.4L220.2 1137.1L220.9 1136.9L221.7 1139.7L220.9 1141.2L223.9 1141.7L227.7 1141.7L231.4 1138.4L233.4 1136.4L233.7 1139.7L234.7 1141.7L238.9 1143.2L242.2 1145.9L239.7 1150.9L237.2 1154.7L236.4 1155.9L233.9 1157.4L230.7 1158.4L227.7 1159.7L223.2 1161.7L218.9 1164.7L215.1 1166.7L211.4 1168.4L205.1 1170.2L201.4 1170.4L200.1 1167.2L199.6 1163.4L198.9 1160.2L196.4 1157.2L193.9 1153.4L190.6 1148.9L188.8 1143.4L185.6 1139.7L183.8 1135.9L181.3 1132.6L179.6 1132.1L180.1 1128.4L178.6 1132.1L178.3 1132.6L175.6 1130.6L174.1 1127.4M980.2 1112.1L978.4 1110.9L976.7 1109.1L971.9 1109.6L972.2 1105.9L970.4 1105.4L971.9 1102.1L972.4 1099.1L971.9 1095.9L971.2 1094.1L974.2 1092.9L979.9 1093.1L984.7 1093.4L989.7 1093.6L991.2 1090.4L991.4 1087.6L988.7 1084.4L983.4 1082.6L982.4 1081.1L986.7 1080.1L990.2 1080.6L989.4 1077.9L991.2 1078.6L994.7 1078.4L998.0 1076.8L998.2 1074.8L1002.2 1073.8L1004.2 1072.1L1006.2 1069.6L1009.2 1068.6L1011.7 1068.1L1015.5 1067.8L1015.7 1065.8L1015.0 1063.3L1014.5 1059.6L1018.0 1059.1L1020.8 1057.8L1020.0 1060.8L1021.3 1061.6L1018.7 1063.8L1019.2 1065.8L1021.8 1067.1L1025.5 1066.1L1029.8 1067.3L1034.3 1066.3L1040.5 1065.3L1043.8 1066.1L1046.8 1063.8L1046.8 1060.1L1049.3 1058.1L1053.1 1059.6L1055.3 1057.6L1053.1 1055.3L1052.8 1054.1L1056.8 1053.3L1064.3 1053.3L1069.9 1052.3L1065.6 1050.8L1059.3 1051.1L1056.6 1051.8L1051.6 1052.6L1047.6 1050.1L1048.1 1047.1L1047.3 1044.6L1050.6 1042.6L1055.6 1040.1L1057.6 1038.3L1054.3 1037.6L1049.8 1038.1L1047.6 1040.8L1045.6 1042.8L1040.5 1045.1L1037.5 1047.1L1037.3 1050.3L1041.3 1052.6L1039.3 1054.6L1035.8 1057.6L1035.3 1060.6L1033.0 1061.8L1030.0 1063.3L1026.5 1063.6L1025.5 1061.3L1024.0 1057.8L1022.3 1054.6L1020.8 1052.6L1020.0 1054.3L1016.7 1055.8L1014.0 1056.8L1011.7 1057.1L1008.5 1055.3L1007.2 1051.3L1006.7 1048.3L1007.5 1046.6L1010.5 1045.1L1015.5 1043.3L1019.2 1042.1L1021.8 1040.1L1025.5 1037.1L1028.0 1034.1L1033.0 1031.3L1038.0 1029.1L1041.8 1027.6L1048.1 1026.6L1053.1 1025.1L1058.8 1024.3L1064.3 1024.6L1069.3 1026.3L1071.9 1027.6L1076.9 1028.6L1084.4 1029.1L1090.6 1031.3L1096.9 1033.3L1096.9 1035.8L1091.9 1036.8L1084.4 1036.1L1076.9 1035.3L1079.4 1038.3L1081.4 1040.8L1085.6 1042.1L1088.1 1041.3L1089.4 1040.1L1094.4 1040.6L1094.9 1038.1L1098.2 1036.1L1103.2 1036.6L1104.4 1034.6L1104.4 1030.8L1109.4 1031.6L1109.4 1034.8L1113.2 1034.6L1115.7 1032.8L1122.0 1030.8L1128.2 1031.3L1130.7 1031.3L1137.0 1030.6L1142.0 1029.8L1145.8 1027.8L1147.0 1029.6L1154.5 1028.8L1159.5 1029.8L1163.3 1030.8L1165.8 1031.6L1162.0 1028.3L1161.5 1025.8L1163.3 1023.3L1167.0 1019.8L1174.6 1019.6L1177.1 1023.3L1175.8 1027.1L1176.3 1030.8L1178.8 1033.3L1174.6 1036.3L1179.6 1035.1L1178.3 1032.1L1182.1 1029.6L1179.1 1025.8L1182.1 1022.1L1187.1 1022.1L1189.6 1024.6L1194.6 1022.1L1195.9 1018.3L1204.6 1017.8L1212.1 1015.8L1209.6 1014.6L1217.1 1013.3L1229.7 1012.0L1239.7 1011.3L1244.7 1010.8L1255.5 1007.8L1259.7 1008.8L1264.7 1010.3L1274.8 1010.8L1278.5 1012.8L1269.8 1016.3L1277.3 1017.6L1282.3 1017.8L1291.0 1018.3L1302.3 1018.1L1312.3 1020.8L1318.6 1023.3L1322.4 1025.1L1327.4 1023.3L1334.9 1023.1L1343.6 1023.3L1344.9 1020.8L1349.9 1020.1L1359.9 1021.1L1370.0 1023.3L1375.0 1024.8L1387.5 1024.6L1395.0 1026.3L1395.0 1028.1L1400.0 1028.1L1407.5 1028.3L1415.0 1027.3L1421.3 1027.1L1422.6 1029.6L1432.6 1027.6L1440.1 1028.6L1445.1 1029.6L1452.6 1031.3L1457.6 1033.8L1465.1 1034.8L1470.7 1037.1L1465.1 1038.3L1463.9 1040.8L1460.1 1041.3L1450.1 1039.6L1447.6 1038.3L1442.6 1040.8L1438.8 1040.3L1442.6 1044.6L1443.8 1046.3L1432.6 1047.6L1425.1 1050.1L1420.0 1052.1L1410.0 1052.6L1405.0 1052.3L1402.5 1054.6L1400.0 1057.1L1403.3 1059.6L1402.0 1062.1L1399.5 1064.8L1395.0 1067.1L1391.2 1069.6L1386.7 1074.6L1385.0 1070.8L1384.0 1064.6L1384.2 1059.6L1387.0 1057.1L1392.5 1054.6L1397.5 1050.8L1403.8 1047.8L1405.0 1045.8L1395.0 1048.3L1387.5 1048.1L1380.0 1053.3L1372.5 1054.1L1364.9 1053.8L1352.4 1053.8L1346.2 1057.8L1339.9 1060.8L1332.9 1065.1L1337.4 1067.1L1339.9 1067.6L1344.9 1069.1L1348.4 1069.6L1346.2 1075.8L1346.2 1080.9L1341.1 1085.9L1336.1 1090.1L1332.4 1093.4L1327.4 1095.1L1324.9 1094.1L1321.6 1096.4L1319.1 1098.9L1316.1 1102.1L1313.6 1103.4L1318.1 1109.6L1318.3 1113.4L1313.6 1115.4L1310.6 1115.9L1311.1 1112.1L1311.3 1108.4L1307.3 1107.1L1308.1 1103.9L1305.6 1102.4L1299.8 1104.6L1298.1 1105.1L1299.3 1100.9L1297.3 1099.9L1292.3 1104.1L1289.0 1104.6L1291.8 1107.9L1293.0 1109.1L1296.8 1107.6L1301.1 1108.9L1296.1 1111.6L1293.0 1114.6L1295.6 1118.4L1299.3 1122.9L1299.3 1125.1L1296.1 1126.4L1299.8 1127.6L1298.6 1131.4L1296.1 1134.6L1293.8 1138.4L1291.0 1140.7L1287.3 1143.4L1282.3 1145.4L1279.8 1146.4L1277.3 1147.2L1272.3 1148.7L1270.8 1148.9L1270.3 1151.4L1269.0 1148.4L1266.0 1147.9L1262.2 1149.7L1259.7 1153.4L1259.2 1155.9L1262.2 1159.7L1266.0 1162.2L1268.0 1168.4L1267.7 1172.7L1264.7 1175.2L1262.2 1176.4L1261.0 1178.4L1257.2 1180.7L1256.7 1177.2L1253.5 1175.7L1251.0 1172.2L1247.2 1170.4L1247.0 1168.4L1244.7 1168.9L1244.4 1173.4L1242.7 1175.9L1242.9 1178.9L1245.5 1181.4L1246.0 1184.2L1249.0 1185.2L1252.2 1187.9L1253.2 1190.9L1253.5 1195.2L1255.2 1198.7L1253.2 1198.4L1250.2 1196.4L1248.0 1194.7L1246.0 1190.9L1245.5 1187.2L1243.7 1184.9L1240.7 1182.2L1241.2 1177.7L1240.9 1173.4L1241.4 1169.7L1238.9 1163.4L1238.7 1160.9L1236.7 1159.9L1233.4 1162.4L1230.4 1162.2L1230.9 1157.7L1229.2 1153.9L1225.9 1150.2L1224.7 1148.4L1224.2 1146.2L1220.9 1145.9L1217.1 1147.2L1215.1 1147.9L1212.1 1148.7L1210.9 1152.2L1207.1 1153.2L1203.4 1157.2L1200.4 1160.2L1197.6 1161.7L1195.4 1163.4L1194.9 1167.2L1195.4 1169.7L1194.1 1173.4L1194.3 1176.4L1192.1 1178.9L1190.1 1179.9L1188.3 1181.9L1185.8 1179.7L1184.6 1175.9L1182.8 1172.2L1181.3 1168.4L1179.6 1164.7L1177.8 1159.7L1176.6 1154.7L1176.3 1150.9L1176.1 1148.4L1175.1 1149.7L1172.1 1150.2L1169.5 1149.7L1167.0 1146.4L1169.5 1145.2L1167.0 1144.7L1165.8 1143.4L1163.3 1142.2L1162.0 1140.2L1160.8 1138.6L1155.8 1139.1L1149.5 1139.4L1144.5 1138.9L1139.5 1138.1L1137.0 1135.1L1135.2 1134.4L1130.7 1135.6L1127.0 1134.6L1123.2 1132.4L1121.5 1130.1L1120.0 1127.1L1116.9 1126.1L1115.7 1127.1L1114.4 1128.4L1115.7 1130.9L1118.2 1134.1L1120.0 1136.4L1120.0 1138.4L1122.0 1137.1L1122.7 1136.9L1123.5 1139.7L1122.7 1141.2L1125.7 1141.7L1129.5 1141.7L1133.2 1138.4L1135.2 1136.4L1135.5 1139.7L1136.5 1141.7L1140.7 1143.2L1144.0 1145.9L1141.5 1150.9L1139.0 1154.7L1138.2 1155.9L1135.7 1157.4L1132.5 1158.4L1129.5 1159.7L1125.0 1161.7L1120.7 1164.7L1116.9 1166.7L1113.2 1168.4L1106.9 1170.2L1103.2 1170.4L1101.9 1167.2L1101.4 1163.4L1100.7 1160.2L1098.2 1157.2L1095.7 1153.4L1092.4 1148.9L1090.6 1143.4L1087.4 1139.7L1085.6 1135.9L1083.1 1132.6L1081.4 1132.1L1081.9 1128.4L1080.4 1132.1L1080.1 1132.6L1077.4 1130.6L1075.9 1127.4M215.1 1085.9L220.2 1085.1L225.2 1085.1L225.2 1088.9L220.9 1089.1L220.2 1090.9L218.4 1091.4L220.9 1094.1L223.9 1095.4L224.4 1098.4L227.2 1100.1L225.2 1102.1L226.4 1103.9L227.2 1108.4L227.7 1109.6L222.7 1110.4L218.9 1109.6L215.1 1108.1L214.9 1105.9L216.1 1103.4L218.2 1101.1L215.6 1098.4L212.6 1095.9L211.4 1093.4L210.6 1090.9L211.4 1088.4L215.1 1085.9M238.9 1087.6L242.7 1085.6L246.5 1086.4L246.5 1089.6L242.7 1092.6L239.4 1090.9L238.9 1087.6M276.5 1086.6L280.3 1084.9L285.3 1085.4L290.3 1085.1L289.8 1086.4L284.0 1086.6L279.0 1088.9L276.5 1086.6M352.9 1073.3L357.9 1071.3L364.2 1067.1L367.4 1062.8L365.4 1062.6L361.7 1067.1L356.7 1070.3L352.9 1073.3M78.1 1077.1L83.6 1076.3L87.9 1075.3L93.2 1075.1L95.9 1074.1L94.2 1073.3L96.7 1070.6L93.2 1069.6L92.1 1068.1L91.1 1065.8L88.6 1064.6L87.4 1062.6L84.9 1062.1L86.1 1060.8L87.4 1058.3L83.6 1057.8L82.4 1057.3L84.6 1055.6L79.9 1055.6L77.9 1058.3L78.4 1060.8L78.6 1063.3L80.4 1063.1L79.9 1065.1L83.6 1064.8L84.9 1067.3L84.6 1068.6L81.1 1068.8L81.6 1070.3L82.1 1071.3L79.4 1072.3L82.4 1073.1L84.9 1073.6L83.6 1074.1L81.1 1074.6L78.1 1077.1M979.9 1077.1L985.4 1076.3L989.7 1075.3L995.0 1075.1L997.7 1074.1L996.0 1073.3L998.5 1070.6L995.0 1069.6L993.9 1068.1L992.9 1065.8L990.4 1064.6L989.2 1062.6L986.7 1062.1L987.9 1060.8L989.2 1058.3L985.4 1057.8L984.2 1057.3L986.4 1055.6L981.7 1055.6L979.7 1058.3L980.2 1060.8L980.4 1063.3L982.2 1063.1L981.7 1065.1L985.4 1064.8L986.7 1067.3L986.4 1068.6L982.9 1068.8L983.4 1070.3L983.9 1071.3L981.2 1072.3L984.2 1073.1L986.7 1073.6L985.4 1074.1L982.9 1074.6L979.9 1077.1M978.7 1068.8L978.2 1071.6L974.2 1072.6L969.7 1073.3L968.4 1071.6L970.4 1069.1L969.1 1066.6L972.9 1065.8L973.4 1064.1L976.7 1063.8L979.2 1064.1L980.4 1065.8L978.7 1068.8M937.8 1042.3L944.1 1043.3L949.1 1043.3L956.6 1041.3L960.1 1039.1L957.1 1036.3L952.9 1036.1L947.9 1036.8L942.8 1037.1L937.8 1036.1L934.1 1038.1L939.1 1039.1L934.1 1039.8L939.1 1041.1L937.8 1042.3M811.3 1006.5L823.9 1012.0L843.9 1012.0L848.9 1014.6L856.4 1022.1L858.9 1027.1L863.2 1029.1L860.2 1034.6L863.9 1039.6L865.2 1042.1L871.5 1047.1L874.0 1049.6L881.5 1052.1L884.2 1052.6L887.7 1049.6L891.5 1044.6L894.0 1039.6L904.0 1037.6L914.0 1032.1L926.6 1030.8L936.6 1027.1L939.1 1023.3L934.1 1020.8L941.6 1017.1L946.6 1012.0L946.6 1007.0L951.6 1002.0M811.3 1006.5L823.9 1004.0L831.4 1002.0M573.4 1038.1L583.4 1035.8L588.4 1036.3L583.4 1033.3L577.1 1031.3L585.9 1028.3L593.4 1025.8L601.9 1023.8L613.4 1025.1L623.5 1026.3L636.0 1027.1L643.5 1028.1L653.5 1029.6L658.5 1028.3L668.5 1027.1L673.6 1026.3L681.1 1028.3L688.6 1027.6L698.6 1029.6L706.1 1030.8L706.1 1032.6L718.6 1032.6L723.7 1031.3L731.2 1032.1L741.2 1032.6L748.7 1031.3L753.7 1031.6L755.0 1028.3L752.5 1024.6L757.5 1022.1L762.5 1025.8L765.0 1028.3L768.8 1030.8L773.8 1030.1L776.3 1033.3L780.0 1028.8L788.8 1028.3L790.0 1030.8L788.8 1034.6L781.3 1036.3L776.3 1038.3L773.8 1041.6L767.5 1043.3L761.2 1047.1L757.5 1050.8L757.0 1055.1L761.2 1055.8L762.5 1059.6L768.8 1059.6L773.8 1060.8L781.3 1063.8L788.0 1064.1L788.8 1069.6L792.5 1073.8L796.3 1073.3L796.8 1070.8L796.3 1067.1L795.1 1064.6L801.3 1060.8L802.1 1057.1L798.8 1054.6L800.1 1050.8L798.8 1046.3L803.8 1046.1L810.1 1047.1L815.1 1049.1L818.8 1049.6L820.1 1053.3L818.8 1055.1L823.9 1055.8L828.9 1054.6L831.9 1051.3L835.1 1054.6L838.9 1058.3L841.4 1062.1L845.2 1064.6L850.2 1067.1L853.9 1069.6L854.4 1072.1L851.4 1073.3L846.4 1075.8L842.6 1076.6L836.4 1076.6L827.6 1076.6L822.6 1079.6L818.8 1083.4L816.3 1084.9L821.4 1082.1L827.6 1079.4L833.1 1080.1L830.1 1082.1L831.9 1084.6L832.6 1086.6L836.4 1087.6L840.1 1087.9L843.9 1087.1L841.4 1089.1L835.1 1090.6L830.1 1093.4L828.4 1091.4L832.6 1088.9L828.9 1089.1L826.4 1090.4L821.4 1092.1L818.3 1093.1L817.1 1095.6L818.8 1097.6L815.1 1098.6L810.1 1099.9L808.8 1100.9L808.1 1103.4L806.3 1105.1L805.1 1107.6L803.8 1109.6L804.6 1112.6L802.6 1115.1L798.8 1117.4L795.1 1119.6L791.3 1122.6L790.3 1125.9L792.5 1130.9L793.8 1135.1L793.0 1138.9L790.8 1139.1L788.8 1135.9L786.8 1132.6L786.8 1129.6L783.8 1127.1L780.0 1127.6L777.5 1126.1L773.8 1126.1L770.0 1126.6L770.5 1129.1L767.5 1129.1L763.7 1128.1L758.7 1127.9L756.2 1129.1L752.5 1131.4L750.5 1133.9L750.5 1137.1L749.5 1140.9L749.2 1145.9L750.7 1149.7L753.2 1153.9L756.2 1155.7L758.7 1156.7L762.5 1155.7L765.5 1155.4L767.2 1152.9L768.0 1149.7L772.5 1148.4L776.3 1148.4L775.0 1152.2L774.5 1155.9L773.0 1157.2L773.0 1160.9L771.8 1162.7L775.0 1162.7L778.8 1162.4L782.5 1162.7L785.5 1164.7L784.8 1168.4L785.0 1172.2L784.3 1174.7L785.0 1176.7L787.5 1179.2L790.0 1180.2L793.8 1179.2L796.3 1178.4L799.3 1180.2L800.6 1181.4L801.8 1180.9L803.8 1178.7L805.1 1175.9L806.8 1174.7L810.1 1173.9L813.8 1172.4L815.1 1171.2L815.6 1173.4L814.8 1175.4L817.6 1173.9L818.8 1171.9L821.4 1173.4L823.4 1175.7L827.6 1175.7L831.4 1176.9L833.9 1175.9L837.6 1175.7L839.4 1175.4L838.9 1177.2L841.4 1178.4L842.6 1180.9L846.4 1182.2L848.9 1185.2L851.4 1187.2L855.2 1187.4L858.9 1187.7L862.7 1189.7L865.2 1191.2L866.4 1194.7L868.9 1197.7L868.9 1200.9L870.2 1202.2L872.7 1203.5L875.2 1203.7L879.0 1204.7L882.7 1207.2L884.0 1208.7L889.0 1209.2L894.0 1209.5L897.8 1211.5L901.5 1214.2L905.8 1215.2L906.8 1219.7L906.8 1222.5L905.3 1226.0L901.5 1229.7L897.8 1234.7L896.5 1239.7L896.5 1244.7L895.3 1248.5L893.5 1252.2L891.5 1256.7L889.0 1259.7L885.2 1259.7L881.5 1261.5L877.7 1262.7L874.0 1266.0L872.5 1269.8L872.0 1273.5L868.9 1276.8L865.2 1281.0L862.7 1284.8L860.2 1287.3L856.4 1289.5L851.4 1288.5L847.9 1287.3L850.9 1291.0L851.4 1293.5L850.2 1297.3L846.4 1299.0L838.9 1299.5L838.4 1303.5L833.9 1304.8L831.4 1304.3L831.4 1307.3L834.6 1308.5L831.4 1310.3L830.1 1314.8L825.1 1317.3L828.9 1319.8L829.4 1322.0L825.1 1325.5L821.4 1328.1L822.6 1333.1L823.1 1333.6L822.6 1334.8L825.1 1337.3L830.9 1339.1L827.6 1340.1L822.6 1340.8L818.8 1340.6L813.8 1338.1L808.8 1334.3L806.3 1329.8L805.1 1324.8L805.1 1319.8L807.6 1316.0L810.1 1312.3L809.3 1307.3L808.8 1306.8L809.3 1302.3L810.6 1298.5L810.1 1295.3L811.8 1291.0L814.6 1286.0L815.1 1279.8L815.3 1276.0L816.8 1269.8L817.6 1264.8L817.8 1261.0L818.3 1254.7L818.1 1248.2L815.1 1245.5L811.3 1243.5L806.3 1240.5L803.1 1237.0L801.1 1232.2L798.8 1228.0L796.8 1223.5L794.3 1219.7L791.3 1217.2L790.5 1214.0L793.0 1210.7L793.8 1209.0L791.5 1207.7L791.8 1204.7L793.5 1202.2L793.8 1200.2L796.3 1198.9L797.1 1197.7L798.1 1195.7L800.1 1192.7L800.6 1189.7L800.1 1185.9L799.1 1184.2L798.1 1182.2L796.8 1179.9L795.1 1179.9L792.5 1181.7L793.8 1183.7L791.3 1184.2L789.5 1182.2L786.8 1181.7L784.8 1180.4L784.5 1178.9L781.8 1177.7L779.3 1176.7L779.5 1174.4L777.0 1172.2L775.0 1169.7L774.3 1168.9L771.8 1169.2L768.8 1167.9L765.0 1167.2L763.0 1165.7L758.7 1161.9L755.7 1161.9L752.5 1162.9L747.5 1161.4L744.0 1160.2L739.2 1157.7L734.9 1156.2L731.2 1153.4L729.7 1150.9L730.4 1148.4L727.7 1144.2L724.2 1140.9L720.4 1137.6L719.9 1134.6L716.9 1132.1L713.1 1129.1L711.1 1124.6L706.9 1122.9L706.9 1125.9L709.9 1129.6L712.4 1133.4L714.9 1137.1L716.9 1140.9L719.9 1143.9L718.6 1144.9L714.9 1141.4L713.1 1139.7L712.9 1136.6L709.4 1135.1L706.6 1132.6L708.1 1130.9L704.9 1127.6L702.9 1124.6L700.9 1120.9L697.4 1117.1L692.1 1115.9L688.8 1110.6L687.3 1107.6L684.1 1103.4L682.8 1101.1L683.3 1097.1L682.3 1094.6L683.6 1089.6L683.6 1086.4L681.8 1081.1L686.1 1081.4L687.3 1083.4L686.6 1079.6L682.3 1077.1L676.1 1074.6L673.6 1070.8L668.5 1066.3L666.0 1063.3L661.0 1059.6L657.3 1056.3L652.3 1056.6L648.5 1054.6L643.5 1052.6L636.0 1052.1L629.7 1051.1L626.0 1049.6L623.5 1052.1L618.4 1053.8L613.4 1053.3L614.7 1050.1L609.7 1053.3L608.4 1055.8L602.2 1059.6L597.2 1062.1L590.9 1064.1L584.6 1065.1L581.4 1065.6L588.4 1062.6L593.4 1060.8L598.4 1058.3L600.4 1055.3L597.2 1055.1L592.1 1055.1L588.4 1055.3L588.4 1052.1L582.1 1050.8L579.6 1048.3L578.4 1046.6L581.4 1044.6L585.9 1044.3L590.9 1043.1L590.9 1040.8L585.9 1040.6L579.6 1040.8L577.1 1039.1L573.4 1038.1M831.4 1047.3L823.9 1045.8L815.1 1042.8L808.8 1040.8L800.1 1041.3L798.8 1038.3L808.8 1038.1L810.1 1035.8L812.6 1033.3L806.3 1031.3L798.8 1028.3L796.3 1027.1L783.8 1027.1L773.8 1025.8L770.0 1022.1L768.8 1018.3L781.3 1017.8L791.3 1018.3L800.1 1020.3L807.6 1022.8L816.3 1024.6L823.9 1027.1L826.4 1029.6L833.9 1032.8L840.1 1035.1L835.1 1038.3L832.6 1042.1L831.4 1047.3M701.1 1029.6L706.1 1025.8L699.9 1023.6L698.6 1020.8L708.6 1019.6L718.6 1020.1L729.9 1019.6L732.4 1024.6L739.9 1027.1L737.4 1029.6L728.7 1030.3L718.6 1030.3L708.6 1030.1L701.1 1029.6M679.8 1022.1L686.1 1024.1L692.3 1023.3L696.1 1020.8L701.1 1018.3L703.6 1016.6L696.1 1016.3L688.6 1015.8L682.3 1017.1L679.8 1022.1M793.8 1013.3L788.8 1015.6L773.8 1015.8L763.7 1015.3L763.7 1011.3L771.3 1010.8L781.3 1011.3L793.8 1013.3M806.3 1002.0L801.3 1005.8L793.8 1008.8L798.8 1010.8L788.8 1011.0L776.3 1010.8L771.3 1009.0L778.8 1007.0L773.8 1005.5L778.8 1002.0M753.7 1002.0L761.2 1004.5L768.8 1006.3L773.8 1004.0L768.8 1002.0M701.1 1014.0L713.6 1015.8L728.7 1014.6L728.7 1012.0L718.6 1010.8L706.1 1011.3L701.1 1014.0M733.7 1013.3L743.7 1014.6L751.2 1013.3L748.7 1010.5L736.2 1010.5L733.7 1013.3M753.7 1020.8L761.2 1022.1L767.5 1019.6L766.2 1017.1L756.2 1017.1L753.7 1020.8M738.7 1023.3L746.2 1023.8L751.2 1020.8L748.7 1017.6L741.2 1017.6L737.4 1020.1L738.7 1023.3M683.6 1012.0L696.1 1013.0L703.6 1010.8L693.6 1008.3L683.6 1012.0M776.3 1039.6L780.0 1043.8L788.8 1045.1L792.5 1042.6L790.0 1040.8L783.8 1037.6L776.3 1039.6M845.7 1083.1L853.9 1084.9L860.2 1085.4L862.2 1083.4L860.2 1080.9L858.9 1078.4L855.2 1077.1L854.9 1073.3L851.4 1074.6L848.9 1078.4L845.7 1083.1M781.3 1147.4L786.3 1144.9L790.0 1144.4L795.1 1145.9L800.1 1147.9L805.1 1150.4L808.3 1151.7L805.1 1152.4L799.6 1152.4L798.8 1150.7L796.3 1148.4L791.3 1147.2L787.5 1146.2L783.8 1147.7L781.3 1147.4M807.8 1156.2L811.3 1156.7L815.1 1157.9L818.8 1156.4L822.6 1156.4L822.6 1154.9L818.8 1152.9L814.6 1152.7L810.8 1152.4L812.1 1154.7L812.6 1155.7L807.8 1156.2M798.1 1156.4L801.3 1157.7L803.3 1157.2L801.3 1155.9L798.1 1156.4M825.9 1156.4L828.9 1157.3L829.9 1156.4L827.6 1155.9L825.9 1156.4M378.2 1256.7L379.2 1258.5L377.2 1262.2L376.5 1267.3L378.5 1271.0L380.5 1277.3L382.2 1282.3L380.5 1287.8L384.2 1289.8L388.0 1289.8L393.0 1287.3L401.8 1287.0L408.0 1283.0L415.5 1281.5L421.8 1281.0L428.1 1284.0L431.8 1289.0L433.1 1288.5L437.6 1283.8L436.8 1287.3L435.6 1290.3L439.3 1289.3L441.8 1292.3L444.4 1297.3L449.4 1298.3L451.9 1299.3L455.1 1297.3L458.9 1300.0L463.1 1297.0L468.1 1295.5L468.7 1291.5L470.7 1287.3L473.2 1284.0L475.7 1278.5L477.2 1273.8L476.2 1269.8L475.7 1266.0L471.9 1262.2L470.2 1259.2L466.4 1255.2L463.9 1252.2L460.1 1250.2L458.1 1246.0L456.9 1242.2L456.1 1239.5L452.6 1237.7L451.9 1234.2L449.4 1229.0L447.4 1233.5L447.1 1238.5L445.6 1243.5L445.1 1246.0L441.8 1246.0L438.1 1243.5L434.3 1241.7L431.8 1239.5L433.1 1236.0L435.1 1232.7L432.6 1232.2L429.3 1232.2L424.6 1230.7L421.8 1232.7L420.1 1233.2L418.0 1236.0L416.8 1239.5L413.5 1239.7L411.8 1237.2L408.0 1237.2L405.5 1240.5L403.8 1243.0L401.8 1245.7L398.5 1246.0L398.5 1248.5L395.5 1251.0L390.5 1252.2L385.5 1253.7L381.7 1255.5L378.2 1256.7M454.9 1304.0L459.4 1305.0L463.9 1304.5L463.9 1307.8L461.9 1310.3L458.1 1311.3L456.4 1308.5L454.9 1304.0M525.0 1288.3L529.0 1291.0L530.3 1294.3L532.8 1294.8L534.5 1296.8L539.0 1296.5L538.0 1300.0L535.8 1301.0L534.0 1304.8L531.5 1306.3L530.3 1305.5L531.0 1302.8L528.3 1301.0L527.8 1300.3L530.0 1298.5L530.0 1296.0L528.8 1293.5L525.8 1290.3L525.0 1288.3M525.0 1303.5L529.0 1305.3L528.3 1306.8L525.8 1309.8L525.3 1311.8L521.5 1313.0L520.3 1316.8L515.7 1318.8L512.0 1317.8L509.5 1316.8L513.2 1312.8L518.2 1309.8L521.5 1307.3L523.3 1304.3L525.0 1303.5M420.6 1204.2L424.3 1203.2L428.1 1204.2L429.3 1208.5L430.6 1210.5L434.3 1207.7L438.1 1206.2L444.4 1208.5L449.4 1210.5L454.4 1212.0L457.6 1215.5L461.9 1218.0L460.6 1219.2L463.6 1223.5L466.9 1226.0L470.2 1228.2L466.9 1228.0L461.9 1226.7L458.1 1223.0L454.4 1221.5L451.9 1223.5L449.4 1225.2L445.6 1225.0L441.8 1222.7L438.1 1223.0L440.1 1220.2L438.1 1216.5L433.1 1213.7L428.1 1212.0L425.1 1212.2L423.6 1209.5L426.8 1208.2L423.1 1208.0L420.6 1205.7L420.6 1204.2M365.4 1198.2L366.9 1197.2L371.0 1198.4L371.7 1195.7L375.5 1194.2L379.2 1190.4L383.0 1186.9L385.5 1184.7L387.2 1186.4L390.5 1189.2L388.5 1190.9L387.5 1193.4L388.0 1196.7L390.5 1199.7L387.5 1200.2L386.7 1204.2L384.2 1206.7L383.7 1210.5L383.0 1212.2L379.5 1212.2L378.7 1210.7L375.5 1210.2L372.5 1210.7L368.5 1209.5L368.0 1206.0L365.9 1203.5L365.4 1200.9L365.4 1198.2M331.1 1188.2L336.6 1189.2L339.1 1192.7L342.9 1195.4L345.4 1197.2L349.2 1199.7L351.7 1202.2L353.7 1204.7L354.2 1208.0L357.9 1209.7L357.4 1213.5L357.4 1216.7L354.2 1216.7L351.7 1214.5L348.7 1212.0L345.4 1208.5L343.7 1204.5L340.4 1200.9L339.6 1197.9L336.6 1195.9L334.1 1192.9L331.1 1188.2M355.9 1219.2L359.9 1217.2L364.2 1218.7L369.2 1219.2L370.5 1218.2L374.7 1219.7L379.2 1221.5L379.0 1223.7L374.2 1223.0L368.0 1222.2L362.9 1221.5L359.2 1220.5L355.9 1219.2M381.0 1222.7L382.0 1224.0L380.5 1223.7L381.0 1222.7M383.0 1223.2L386.7 1223.0L390.5 1223.2L389.2 1224.5L385.5 1224.7L383.0 1224.2L383.0 1223.2M392.7 1223.5L396.8 1223.5L400.5 1223.0L400.0 1224.2L395.5 1224.5L392.7 1224.2L392.7 1223.5M401.8 1228.0L405.5 1225.2L411.0 1223.2L409.3 1225.2L404.3 1227.7L401.8 1228.0M390.5 1226.0L393.5 1225.7L395.0 1227.5L392.0 1227.2L390.5 1226.0M393.0 1200.2L395.5 1199.2L400.5 1199.9L405.5 1198.2L404.3 1200.9L400.5 1201.2L395.5 1200.9L393.5 1202.2L393.5 1204.5L396.3 1204.5L401.3 1204.2L398.0 1206.5L396.8 1207.2L398.8 1210.5L400.5 1213.0L399.3 1214.7L396.8 1213.7L395.5 1209.7L393.8 1209.7L394.0 1216.0L391.7 1216.0L391.7 1211.0L390.0 1209.2L391.2 1206.0L392.5 1202.2L393.0 1200.2M411.8 1197.2L413.0 1199.7L414.8 1198.7L414.3 1201.4L412.8 1204.2L412.3 1200.9L411.8 1197.2M413.0 1209.7L416.8 1209.2L420.1 1210.5L416.8 1210.7L413.0 1210.5L413.0 1209.7M394.5 1155.9L398.5 1155.9L398.5 1160.9L397.0 1164.7L398.0 1167.2L402.5 1168.4L403.0 1170.4L400.0 1168.4L396.8 1167.7L394.8 1166.4L393.5 1165.2L393.0 1161.7L394.0 1158.9L394.5 1155.9M398.0 1184.7L401.8 1180.7L406.5 1177.9L408.8 1180.9L409.3 1185.9L406.8 1187.7L405.5 1187.7L403.0 1185.2L400.5 1183.4L398.0 1184.7M403.8 1170.9L406.8 1171.7L407.3 1174.7L405.5 1176.7L404.5 1174.9L405.3 1173.4L403.8 1170.9M386.2 1181.2L389.2 1177.7L391.7 1173.9L391.0 1176.2L388.0 1179.7L386.2 1181.2M398.0 1172.7L400.5 1173.4L401.5 1175.9L400.5 1179.2L399.3 1177.7L399.5 1175.9L398.0 1175.7L398.0 1172.7M394.0 1168.7L396.3 1168.9L396.5 1171.2L395.3 1171.4L394.0 1168.7M396.8 1139.1L397.8 1140.2L396.8 1143.4L395.0 1147.2L393.5 1145.2L393.5 1142.7L395.5 1139.7L396.8 1139.1M364.7 1154.2L366.7 1152.2L370.2 1152.2L369.2 1155.2L366.7 1156.7L364.7 1155.9L364.7 1154.2M420.3 1117.1L424.3 1116.4L429.3 1115.4L431.6 1115.6L430.8 1118.4L432.6 1118.4L435.1 1116.4L435.6 1115.6L438.6 1115.6L440.1 1115.4L441.1 1114.1L442.6 1113.1L442.8 1114.6L445.1 1112.9L444.6 1110.1L445.6 1107.1L447.1 1104.6L448.1 1103.1L446.9 1100.9L446.4 1098.6L443.9 1099.1L443.1 1102.1L442.6 1104.6L440.6 1107.1L439.3 1108.9L436.1 1108.4L435.1 1109.1L434.8 1110.1L433.1 1112.1L432.6 1113.1L429.3 1113.1L425.6 1113.4L423.1 1114.9L420.6 1115.9L420.3 1117.1M443.9 1098.4L446.1 1097.6L445.6 1095.9L448.1 1095.9L451.4 1097.1L454.4 1094.6L456.9 1093.9L455.6 1092.1L453.6 1091.9L450.6 1090.9L447.9 1088.4L447.1 1090.9L446.6 1093.9L444.1 1093.9L442.6 1095.6L443.9 1098.4M420.3 1117.4L422.3 1118.1L423.1 1120.1L421.8 1123.4L419.8 1124.6L418.6 1123.9L418.6 1120.9L417.3 1119.6L417.5 1118.4L420.3 1117.4M424.3 1117.4L428.6 1116.4L429.8 1117.6L428.6 1118.9L425.6 1120.1L424.1 1118.9L424.3 1117.4M448.1 1066.3L450.6 1068.3L451.4 1073.3L451.9 1078.4L454.4 1079.6L450.6 1083.4L451.9 1085.1L450.6 1086.6L448.1 1087.1L448.1 1083.4L448.1 1079.6L447.6 1074.6L447.4 1070.8L448.1 1066.3M292.8 1177.7L295.8 1180.9L297.6 1183.4L296.8 1186.4L294.1 1187.4L292.5 1185.9L292.3 1182.2L292.8 1177.7M215.9 1232.2L218.4 1240.5L216.4 1246.0L214.6 1252.2L212.1 1259.7L210.1 1264.8L205.6 1266.0L202.6 1264.2L201.4 1259.7L200.9 1256.0L203.6 1251.7L202.6 1246.0L205.1 1242.2L208.9 1241.0L211.4 1239.2L213.9 1236.0L215.9 1232.2M120.0 1003.3L125.0 1007.0L130.0 1009.5L135.0 1010.5L140.0 1007.0L146.3 1005.8L140.0 1003.8L142.5 1002.0M145.0 1002.0L152.5 1003.8L160.0 1002.0M221.4 1023.1L226.4 1025.1L235.9 1025.3L231.4 1020.8L232.7 1017.8L237.7 1015.1L245.2 1012.3L257.7 1010.0L265.2 1010.0L256.5 1012.5L245.2 1015.3L237.7 1018.8L235.2 1022.1L228.9 1022.1L223.9 1021.6L221.4 1023.1M330.4 1004.5L337.9 1005.8L345.4 1004.5L352.9 1006.3L342.9 1007.3L335.4 1006.5L330.4 1004.5M322.9 1002.0L330.4 1002.8L337.9 1002.0M435.6 1013.3L443.1 1015.1L453.1 1014.6L458.1 1013.3L448.1 1012.0L438.1 1012.0L435.6 1013.3M443.1 1018.3L450.6 1018.8L448.1 1017.1L443.1 1018.3M539.5 1024.1L545.8 1025.1L549.6 1023.8L543.3 1023.1L539.5 1024.1M607.2 1058.8L612.2 1058.3L612.7 1056.3L609.7 1057.1L607.2 1058.8M672.8 1075.1L679.8 1076.6L684.8 1080.9L681.1 1080.1L674.8 1077.1L672.8 1075.1M661.0 1067.1L664.0 1069.6L665.5 1071.6L662.8 1069.1L661.0 1067.1M603.4 1151.7L605.9 1153.2L604.2 1154.8L603.4 1152.9L603.4 1151.7M601.7 1149.7L603.4 1150.4L602.4 1150.7L601.7 1149.7M597.9 1148.2L599.2 1148.9L598.2 1148.9L597.9 1148.2M594.2 1146.7L595.2 1147.2L594.4 1147.4L594.2 1146.7M503.2 1252.5L507.0 1254.7L510.7 1258.0L508.2 1257.5L504.5 1254.5L503.2 1252.5M536.5 1246.0L539.5 1246.2L539.0 1247.7L536.8 1247.5L536.5 1246.0M540.3 1243.5L543.3 1242.7L542.0 1244.2L540.3 1243.5M463.9 1216.0L468.1 1214.7L471.9 1212.7L473.9 1213.0L471.9 1216.0L468.1 1217.7L463.9 1216.7L463.9 1216.0M470.2 1208.7L473.2 1210.2L475.7 1213.5L474.7 1212.2L471.9 1209.7L470.2 1208.7M479.9 1216.0L482.9 1218.7L481.4 1218.7L479.9 1216.0M484.4 1219.0L486.9 1220.7L485.7 1220.5L484.4 1219.0M489.4 1221.2L492.7 1223.2L491.4 1223.0L489.4 1221.2M492.2 1225.5L495.2 1226.7L493.2 1226.7L492.2 1225.5M495.0 1223.2L496.5 1226.0L495.7 1225.5L495.0 1223.2M496.5 1227.7L499.0 1229.2L497.5 1228.7L496.5 1227.7M509.7 1239.0L511.2 1241.2L510.2 1241.2L509.7 1239.0M511.2 1242.2L512.7 1243.5L511.7 1243.5L511.2 1242.2M841.4 1331.1L846.4 1330.6L849.4 1331.3L846.4 1333.1L842.6 1332.6L841.4 1331.1M899.0 1337.3L904.0 1338.1L903.5 1339.3L900.3 1338.1L899.0 1337.3M264.7 1324.8L269.0 1325.3L267.8 1326.5L265.2 1326.3L264.7 1324.8M765.0 1203.0L766.5 1203.5L766.0 1204.7L765.0 1203.0M225.9 1170.7L228.9 1170.9L227.2 1171.4L225.9 1170.7M230.9 1254.5L232.2 1255.2L231.2 1255.5L230.9 1254.5M236.2 1252.2L237.2 1253.0L236.2 1253.5L236.2 1252.2M112.9 1099.9L116.4 1099.4L116.7 1103.9L113.7 1104.6L112.9 1099.9M114.2 1095.6L116.2 1094.9L115.9 1098.4L114.2 1097.6L114.2 1095.6M123.7 1107.1L131.2 1106.6L130.2 1110.4L126.2 1109.1L123.7 1107.1M151.5 1113.4L158.0 1114.1L154.5 1114.9L151.5 1113.4M173.3 1114.6L178.8 1113.1L177.1 1115.4L173.3 1114.6M120.5 1062.8L123.7 1062.1L123.5 1064.1L121.2 1064.1L120.5 1062.8M138.0 1057.3L140.0 1058.1L138.2 1059.6L138.0 1057.3M168.8 1052.1L173.8 1051.3L173.8 1049.1L169.6 1048.3L168.8 1052.1M178.8 1049.6L182.6 1048.8L181.3 1045.8L178.8 1046.6L178.8 1049.6M763.7 1085.4L770.0 1082.1L773.8 1080.1L780.0 1082.4L782.0 1085.1L777.5 1085.9L773.8 1084.9L768.8 1085.6L763.7 1085.4M774.5 1097.1L778.0 1096.4L778.3 1092.1L781.3 1087.9L783.8 1087.4L785.5 1089.6L785.0 1092.6L787.5 1094.4L789.5 1092.1L790.8 1089.1L793.8 1090.1L791.3 1087.1L783.8 1086.4L780.0 1087.1L776.3 1087.9L773.8 1090.1L774.5 1094.6L774.5 1097.1M785.3 1097.6L790.0 1098.1L796.3 1095.4L792.5 1095.6L787.5 1097.1L785.3 1097.6M794.6 1093.9L801.3 1093.9L803.1 1092.1L798.8 1092.1L794.6 1093.9M746.2 1068.3L748.7 1072.1L752.5 1075.8L751.7 1073.3L750.0 1069.6L746.2 1068.3M681.1 1038.3L691.1 1039.6L698.6 1036.6L693.6 1034.6L686.1 1036.3L681.1 1038.3M701.1 1049.6L708.6 1049.6L716.1 1045.8L719.9 1045.1L713.6 1046.3L706.1 1046.6L701.1 1049.6M172.6 1200.9L177.6 1201.7L177.6 1207.2L175.1 1209.2L172.1 1207.2L172.6 1200.9M165.5 1211.0L167.0 1213.5L169.6 1219.7L170.6 1224.0L168.8 1222.2L166.3 1217.2L165.5 1211.0M177.6 1226.2L179.6 1229.7L180.1 1234.7L180.8 1238.2L179.3 1237.2L178.3 1232.2L177.6 1226.2M126.2 1168.4L129.5 1168.4L128.7 1170.7L126.2 1168.4M92.4 1381.1L102.4 1378.8L112.7 1377.8L130.0 1378.1L153.5 1378.8L167.6 1376.3L178.3 1373.8L183.8 1375.8L189.6 1377.1L197.6 1374.3L207.6 1372.1L216.9 1371.1L225.9 1367.1L235.2 1369.1L248.5 1371.6L257.7 1371.8L266.7 1372.1L267.8 1376.1L269.0 1378.8L275.3 1376.8L282.5 1375.6L290.3 1372.8L297.8 1370.6L307.6 1369.3L317.9 1369.3L327.9 1368.6L339.1 1368.8L350.4 1367.1L361.9 1369.3L368.0 1368.1L375.5 1367.1L388.0 1369.3L400.5 1368.6L416.3 1369.3L420.8 1367.6L433.1 1368.1L443.1 1369.3L452.6 1368.8L460.6 1371.3L475.2 1374.3L488.2 1376.3L504.7 1378.8L513.2 1379.8L520.5 1381.1L517.0 1384.8L509.5 1388.8L502.0 1391.9L500.2 1394.9L504.5 1395.6L509.2 1396.6L500.7 1399.4L493.2 1401.6L490.7 1403.6M994.2 1381.1L1004.2 1378.8L1014.5 1377.8L1031.8 1378.1L1055.3 1378.8L1069.3 1376.3L1080.1 1373.8L1085.6 1375.8L1091.4 1377.1L1099.4 1374.3L1109.4 1372.1L1118.7 1371.1L1127.7 1367.1L1137.0 1369.1L1150.3 1371.6L1159.5 1371.8L1168.5 1372.1L1169.5 1376.1L1170.8 1378.8L1177.1 1376.8L1184.3 1375.6L1192.1 1372.8L1199.6 1370.6L1209.4 1369.3L1219.7 1369.3L1229.7 1368.6L1240.9 1368.8L1252.2 1367.1L1263.7 1369.3L1269.8 1368.1L1277.3 1367.1L1289.8 1369.3L1302.3 1368.6L1318.1 1369.3L1322.6 1367.6L1334.9 1368.1L1344.9 1369.3L1354.4 1368.8L1362.4 1371.3L1377.0 1374.3L1390.0 1376.3L1406.5 1378.8L1415.0 1379.8L1422.3 1381.1L1418.8 1384.8L1411.3 1388.8L1403.8 1391.9L1402.0 1394.9L1406.3 1395.6L1411.0 1396.6L1402.5 1399.4L1395.0 1401.6L1392.5 1403.6M-325.9 1403.6L-317.4 1400.9L-310.9 1398.1L-304.1 1396.4L-295.9 1395.6L-284.1 1394.1L-273.3 1392.4L-260.8 1390.4L-246.5 1388.6L-238.3 1389.8L-228.7 1391.9L-223.2 1388.3L-215.5 1385.8L-208.2 1386.6L-202.2 1387.6L-197.7 1390.1L-185.7 1389.6L-173.1 1389.3L-162.1 1388.6L-161.1 1383.1L-155.6 1382.3L-148.8 1382.1L-143.1 1383.3L-137.8 1384.1L-120.5 1384.8L-104.5 1384.6L-100.5 1382.3L-98.0 1379.8L-90.5 1377.3L-82.9 1374.8L-77.9 1373.1L-72.9 1369.8L-66.9 1366.6L-60.4 1363.8L-54.1 1361.8L-46.9 1360.6L-52.9 1363.1L-61.7 1366.8L-69.2 1370.8L-66.7 1374.8L-64.7 1377.6L-60.9 1381.8L-57.9 1385.3L-61.7 1389.3L-66.9 1391.9L-75.7 1394.6L-65.4 1395.1L-51.4 1395.9L-40.4 1397.6L-29.1 1399.1L-15.3 1399.4L-2.8 1399.1L12.2 1395.9L26.3 1391.9L39.8 1388.6L55.1 1384.8L64.8 1382.3L72.9 1380.3L79.9 1379.3L88.4 1378.6L92.4 1379.8L102.4 1378.8M575.9 1403.6L584.4 1400.9L590.9 1398.1L597.7 1396.4L605.9 1395.6L617.7 1394.1L628.5 1392.4L641.0 1390.4L655.3 1388.6L663.5 1389.8L673.1 1391.9L678.6 1388.3L686.3 1385.8L693.6 1386.6L699.6 1387.6L704.1 1390.1L716.1 1389.6L728.7 1389.3L739.7 1388.6L740.7 1383.1L746.2 1382.3L753.0 1382.1L758.7 1383.3L764.0 1384.1L781.3 1384.8L797.3 1384.6L801.3 1382.3L803.8 1379.8L811.3 1377.3L818.8 1374.8L823.9 1373.1L828.9 1369.8L834.9 1366.6L841.4 1363.8L847.7 1361.8L854.9 1360.6L848.9 1363.1L840.1 1366.8L832.6 1370.8L835.1 1374.8L837.1 1377.6L840.9 1381.8L843.9 1385.3L840.1 1389.3L834.9 1391.9L826.1 1394.6L836.4 1395.1L850.4 1395.9L861.4 1397.6L872.7 1399.1L886.5 1399.4L899.0 1399.1L914.0 1395.9L928.1 1391.9L941.6 1388.6L956.9 1384.8L966.6 1382.3L974.7 1380.3L981.7 1379.3L990.2 1378.6L994.2 1379.8L1004.2 1378.8M806.3 1381.1L811.3 1377.3L817.6 1374.8L821.4 1376.1L818.8 1379.8L813.8 1382.3L806.3 1381.1M738.7 1382.8L746.2 1381.8L751.2 1383.1L743.7 1383.8L738.7 1382.8" fill="none" stroke="#000" stroke-width="1.05" stroke-linejoin="round"/>
<path d="M576.2 1067.6L578.0 1067.6M571.4 1068.8L572.8 1069.4M566.8 1069.9L567.3 1070.8M562.4 1070.9L561.8 1071.8M557.8 1071.6L556.3 1072.1M551.2 1072.6L553.0 1072.6M547.6 1072.5L549.0 1073.2M540.6 1073.1L541.0 1074.1M537.4 1071.9L536.6 1072.8M526.6 1069.9L525.0 1070.3M458.5 1090.5L460.3 1090.7M462.0 1088.5L463.3 1089.2M466.8 1086.9L467.0 1087.9M470.6 1085.2L469.7 1086.0M474.0 1083.9L472.3 1084.3M475.3 1081.2L477.0 1081.5M478.9 1078.5L480.0 1079.2M481.9 1076.1L481.9 1077.1M508.8 1064.2L507.7 1065.0M569.2 1043.4L567.5 1043.7M576.8 1051.9L578.5 1052.3M412.5 1135.5L413.5 1136.3M416.9 1130.9L416.7 1131.9M419.9 1125.8L418.7 1126.5M404.4 1141.0L402.6 1141.3M839.3 1161.5L841.0 1161.9M841.0 1165.2L841.8 1166.1M840.8 1163.2L840.5 1164.2M845.5 1168.8L844.3 1169.5M841.5 1176.1L839.8 1176.2M799.3 1140.7L800.8 1141.2M803.5 1142.9L804.2 1143.9M799.5 1135.4L799.1 1136.4M810.8 1149.3L809.4 1150.0M956.3 1132.1L954.5 1132.2M951.9 1131.1L953.4 1131.7M958.9 1130.4L959.4 1131.4M924.4 1105.4L923.8 1106.3M931.1 1107.3L929.6 1107.9M934.4 1164.6L936.2 1164.7M932.6 1160.3L934.0 1161.0M951.4 1119.9L951.8 1120.9M100.3 1102.7L99.5 1103.6M977.5 1046.8L975.9 1047.3M990.3 1051.3L992.1 1051.4M986.0 1054.2L987.3 1054.9M978.3 1058.3L978.5 1059.3M977.1 1057.1L976.2 1058.0M325.7 1171.2L324.0 1171.6M323.7 1174.1L325.5 1174.3M326.8 1183.1L327.9 1183.8M201.1 1231.0L201.2 1232.0M204.1 1232.3L203.1 1233.1M191.9 1217.3L190.2 1217.6M191.0 1215.1L192.7 1215.4M619.2 1245.8L620.2 1246.6M563.9 1236.2L563.8 1237.2M562.7 1235.8L561.5 1236.6M514.9 1246.4L513.1 1246.6M515.7 1249.5L517.3 1249.9M517.3 1252.3L518.2 1253.2M880.3 1353.3L880.1 1354.3M844.5 1358.2L843.3 1358.9M848.5 1357.2L846.8 1357.4M221.1 1318.1L222.7 1318.5M539.9 1326.1L540.7 1327.0M552.3 1311.8L551.9 1312.8M114.9 1193.1L113.5 1193.8M109.8 1201.4L108.0 1201.5M110.2 1197.9L111.7 1198.5M767.7 1203.5L768.3 1204.4M770.3 1204.0L769.7 1204.9M766.2 1201.7L764.8 1202.2" fill="none" stroke="#000" stroke-width="1.3" stroke-linecap="round"/>
</g>
<rect x="92.4" y="1001.9" width="901.8" height="400.3" fill="none" stroke="#555" stroke-width="1.1"/>
<line x1="85.4" x2="92.4" y1="1014.6" y2="1014.6" stroke="#555" stroke-width="1.1"/>
<line x1="994.2" x2="996.7" y1="1014.6" y2="1014.6" stroke="#777" stroke-width="0.8"/>
<text x="75.3" y="1027.8" font-size="34" text-anchor="end" >75°N</text>
<line x1="85.4" x2="92.4" y1="1077.1" y2="1077.1" stroke="#555" stroke-width="1.1"/>
<line x1="994.2" x2="996.7" y1="1077.1" y2="1077.1" stroke="#777" stroke-width="0.8"/>
<text x="75.3" y="1090.3" font-size="34" text-anchor="end" >50°N</text>
<line x1="85.4" x2="92.4" y1="1139.7" y2="1139.7" stroke="#555" stroke-width="1.1"/>
<line x1="994.2" x2="996.7" y1="1139.7" y2="1139.7" stroke="#777" stroke-width="0.8"/>
<text x="75.3" y="1152.9" font-size="34" text-anchor="end" >25°N</text>
<line x1="85.4" x2="92.4" y1="1202.2" y2="1202.2" stroke="#555" stroke-width="1.1"/>
<line x1="994.2" x2="996.7" y1="1202.2" y2="1202.2" stroke="#777" stroke-width="0.8"/>
<text x="75.3" y="1215.4" font-size="34" text-anchor="end" >EQ</text>
<line x1="85.4" x2="92.4" y1="1264.8" y2="1264.8" stroke="#555" stroke-width="1.1"/>
<line x1="994.2" x2="996.7" y1="1264.8" y2="1264.8" stroke="#777" stroke-width="0.8"/>
<text x="75.3" y="1278.0" font-size="34" text-anchor="end" >25°S</text>
<line x1="85.4" x2="92.4" y1="1327.3" y2="1327.3" stroke="#555" stroke-width="1.1"/>
<line x1="994.2" x2="996.7" y1="1327.3" y2="1327.3" stroke="#777" stroke-width="0.8"/>
<text x="75.3" y="1340.5" font-size="34" text-anchor="end" >50°S</text>
<line x1="85.4" x2="92.4" y1="1389.8" y2="1389.8" stroke="#555" stroke-width="1.1"/>
<line x1="994.2" x2="996.7" y1="1389.8" y2="1389.8" stroke="#777" stroke-width="0.8"/>
<text x="75.3" y="1403.0" font-size="34" text-anchor="end" >75°S</text>
<line x1="92.4" x2="92.4" y1="1402.2" y2="1410.2" stroke="#555" stroke-width="1.1"/>
<text x="98.4" y="1443.0" font-size="33.4" text-anchor="middle" >0°</text>
<line x1="242.7" x2="242.7" y1="1402.2" y2="1410.2" stroke="#555" stroke-width="1.1"/>
<text x="244.7" y="1443.0" font-size="33.4" text-anchor="middle" >60°E</text>
<line x1="393.0" x2="393.0" y1="1402.2" y2="1410.2" stroke="#555" stroke-width="1.1"/>
<text x="395.0" y="1443.0" font-size="33.4" text-anchor="middle" >120°E</text>
<line x1="543.3" x2="543.3" y1="1402.2" y2="1410.2" stroke="#555" stroke-width="1.1"/>
<text x="545.3" y="1443.0" font-size="33.4" text-anchor="middle" >180°</text>
<line x1="693.6" x2="693.6" y1="1402.2" y2="1410.2" stroke="#555" stroke-width="1.1"/>
<text x="695.6" y="1443.0" font-size="33.4" text-anchor="middle" >120°W</text>
<line x1="843.9" x2="843.9" y1="1402.2" y2="1410.2" stroke="#555" stroke-width="1.1"/>
<text x="845.9" y="1443.0" font-size="33.4" text-anchor="middle" >60°W</text>
<line x1="994.2" x2="994.2" y1="1402.2" y2="1410.2" stroke="#555" stroke-width="1.1"/>
<text x="1000.2" y="1443.0" font-size="33.4" text-anchor="middle" >0°</text>
<text x="956.0" y="1394.2" font-size="50" text-anchor="start" >e</text>
<rect x="123.90" y="1462.8" width="42.19" height="18.2" fill="#053061"/>
<rect x="165.80" y="1462.8" width="42.19" height="18.2" fill="#1b5799"/>
<rect x="207.69" y="1462.8" width="42.19" height="18.2" fill="#246aae"/>
<rect x="249.58" y="1462.8" width="42.19" height="18.2" fill="#3783bb"/>
<rect x="291.48" y="1462.8" width="42.19" height="18.2" fill="#529dc8"/>
<rect x="333.38" y="1462.8" width="42.19" height="18.2" fill="#79b8da"/>
<rect x="375.27" y="1462.8" width="42.19" height="18.2" fill="#a6d1e8"/>
<rect x="417.16" y="1462.8" width="42.19" height="18.2" fill="#cbe4f1"/>
<rect x="459.06" y="1462.8" width="42.19" height="18.2" fill="#e1eff7"/>
<rect x="500.95" y="1462.8" width="42.19" height="18.2" fill="#f7f6f6"/>
<rect x="542.85" y="1462.8" width="42.19" height="18.2" fill="#f7f6f6"/>
<rect x="584.75" y="1462.8" width="42.19" height="18.2" fill="#fae7dc"/>
<rect x="626.64" y="1462.8" width="42.19" height="18.2" fill="#fcd5bf"/>
<rect x="668.53" y="1462.8" width="42.19" height="18.2" fill="#f7b799"/>
<rect x="710.43" y="1462.8" width="42.19" height="18.2" fill="#ee9677"/>
<rect x="752.32" y="1462.8" width="42.19" height="18.2" fill="#dc6e57"/>
<rect x="794.22" y="1462.8" width="42.19" height="18.2" fill="#c94741"/>
<rect x="836.11" y="1462.8" width="42.19" height="18.2" fill="#b61f2e"/>
<rect x="878.01" y="1462.8" width="42.19" height="18.2" fill="#900d26"/>
<rect x="919.90" y="1462.8" width="42.19" height="18.2" fill="#67001f"/>
<rect x="123.9" y="1462.8" width="837.9" height="18.2" fill="none" stroke="#555" stroke-width="0.9"/>
<text x="125.4" y="1512.3" font-size="33.3" text-anchor="middle" >-1.0</text>
<line x1="333.4" x2="333.4" y1="1468.3" y2="1481.0" stroke="#333" stroke-width="1"/>
<text x="334.9" y="1512.3" font-size="33.3" text-anchor="middle" >-0.5</text>
<line x1="542.9" x2="542.9" y1="1468.3" y2="1481.0" stroke="#333" stroke-width="1"/>
<text x="544.4" y="1512.3" font-size="33.3" text-anchor="middle" >0</text>
<line x1="752.3" x2="752.3" y1="1468.3" y2="1481.0" stroke="#333" stroke-width="1"/>
<text x="753.8" y="1512.3" font-size="33.3" text-anchor="middle" >0.5</text>
<text x="963.3" y="1512.3" font-size="33.3" text-anchor="middle" >1.0</text>
</svg>
</body></html>
